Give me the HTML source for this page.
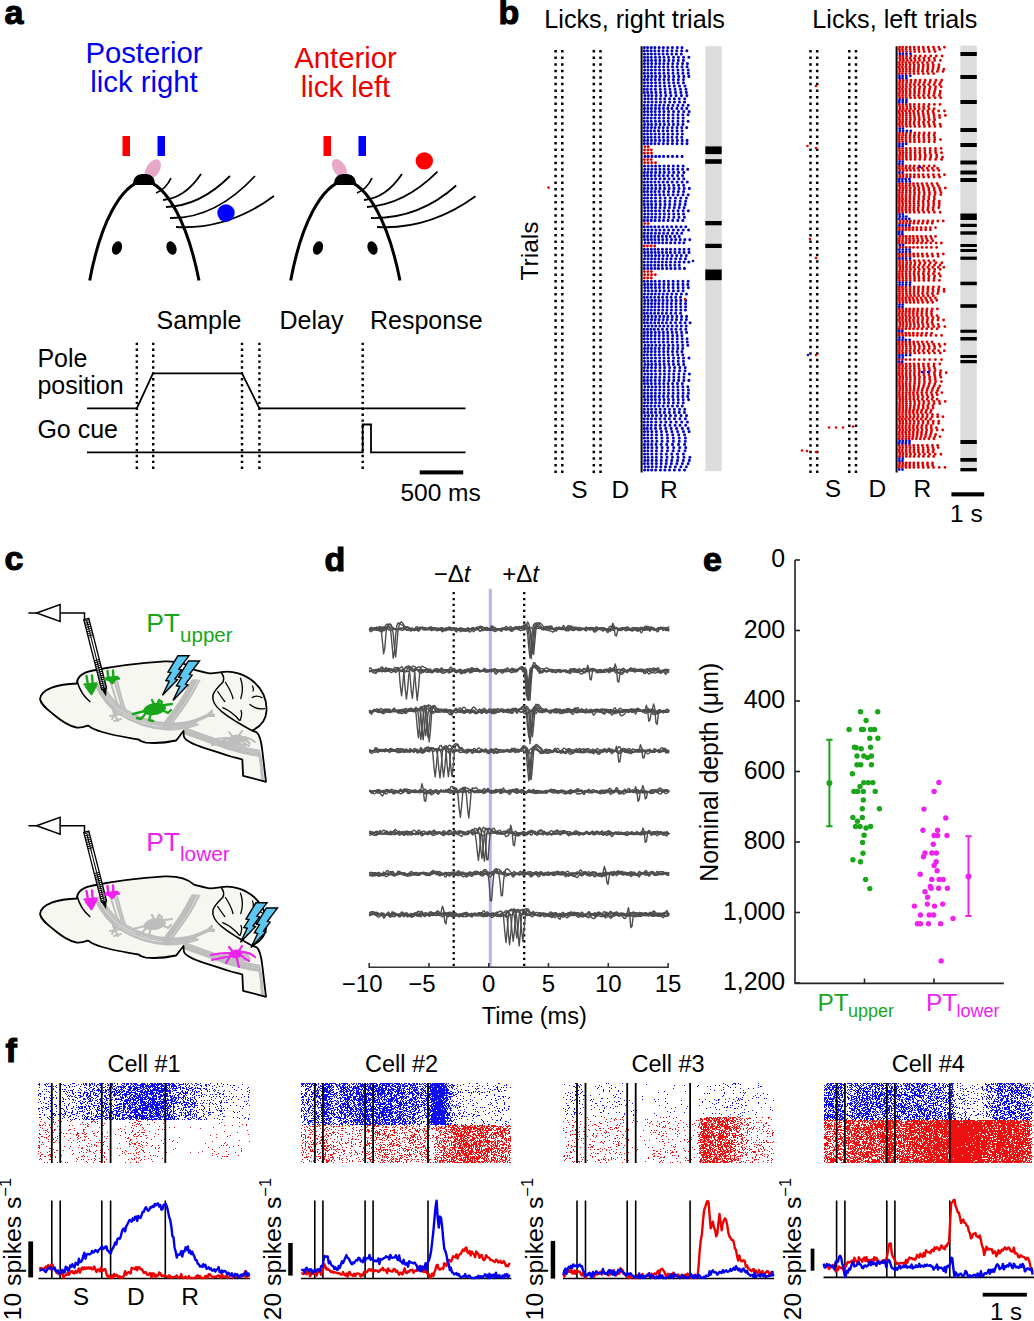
<!DOCTYPE html>
<html><head><meta charset="utf-8"><style>
html,body{margin:0;padding:0;background:#fff;}
svg{display:block;font-family:"Liberation Sans",sans-serif;}
</style></head><body>
<svg width="1034" height="1321" viewBox="0 0 1034 1321">
<rect width="1034" height="1321" fill="#fff"/>
<text x="4.5" y="23.8" font-size="34" text-anchor="start" fill="#000" font-weight="bold" stroke="#000" stroke-width="1.1">a</text>
<text x="498.5" y="23.7" font-size="34" text-anchor="start" fill="#000" font-weight="bold" stroke="#000" stroke-width="1.1">b</text>
<text x="4.5" y="570.3" font-size="34" text-anchor="start" fill="#000" font-weight="bold" stroke="#000" stroke-width="1.1">c</text>
<text x="324.5" y="570.8" font-size="34" text-anchor="start" fill="#000" font-weight="bold" stroke="#000" stroke-width="1.1">d</text>
<text x="703" y="571" font-size="34" text-anchor="start" fill="#000" font-weight="bold" stroke="#000" stroke-width="1.1">e</text>
<text x="5.5" y="1062.2" font-size="34" text-anchor="start" fill="#000" font-weight="bold" stroke="#000" stroke-width="1.1">f</text>
<text x="144" y="62.7" font-size="29.3" text-anchor="middle" fill="#0000ee" font-weight="normal" >Posterior</text>
<text x="144" y="91.6" font-size="29.3" text-anchor="middle" fill="#0000ee" font-weight="normal" >lick right</text>
<text x="345.5" y="67.8" font-size="29.3" text-anchor="middle" fill="#ee0000" font-weight="normal" >Anterior</text>
<text x="345.5" y="97" font-size="29.3" text-anchor="middle" fill="#ee0000" font-weight="normal" >lick left</text>
<g transform="translate(0,0)"><path d="M89.7,280.5 C100,225 120,185 144,180 C168,185 188,225 199,280.5" fill="none" stroke="#000" stroke-width="3"/><path d="M156,193 Q166,189 171,178" fill="none" stroke="#000" stroke-width="1.8"/><path d="M163,200 Q185,198 201,174" fill="none" stroke="#000" stroke-width="1.8"/><path d="M166,207 Q200,206 230,176" fill="none" stroke="#000" stroke-width="1.8"/><path d="M170,218 Q215,219 255,176" fill="none" stroke="#000" stroke-width="1.8"/><path d="M176,227 Q228,230 274,196" fill="none" stroke="#000" stroke-width="1.8"/><ellipse cx="152.8" cy="169.5" rx="6.6" ry="11.3" transform="rotate(32 152.8 169.5)" fill="#eaa8c8"/><path d="M133,185 C133,176 138,174 144,174 C150,174 155,176 155,185 Z" fill="#000"/><rect x="122.5" y="136" width="7.5" height="20" fill="#ff0000"/><rect x="157.5" y="136" width="7.5" height="20" fill="#0000ff"/><ellipse cx="117" cy="248" rx="4.8" ry="7" transform="rotate(20 117 248)" fill="#000"/><ellipse cx="171.5" cy="248" rx="4.8" ry="7" transform="rotate(-20 171.5 248)" fill="#000"/></g>
<g transform="translate(201,0)"><path d="M89.7,280.5 C100,225 120,185 144,180 C168,185 188,225 199,280.5" fill="none" stroke="#000" stroke-width="3"/><path d="M156,193 Q166,189 171,178" fill="none" stroke="#000" stroke-width="1.8"/><path d="M163,200 Q185,198 201,174" fill="none" stroke="#000" stroke-width="1.8"/><path d="M166,207 Q203,205 236.5,171.7" fill="none" stroke="#000" stroke-width="1.8"/><path d="M170,218 Q218,219 255.2,185.5" fill="none" stroke="#000" stroke-width="1.8"/><path d="M176,227 Q228,230 274.5,196.3" fill="none" stroke="#000" stroke-width="1.8"/><ellipse cx="138.5" cy="168.5" rx="6.2" ry="10.5" transform="rotate(-32 138.5 168.5)" fill="#eaa8c8"/><path d="M133,185 C133,176 138,174 144,174 C150,174 155,176 155,185 Z" fill="#000"/><rect x="122.5" y="136" width="7.5" height="20" fill="#ff0000"/><rect x="157.5" y="136" width="7.5" height="20" fill="#0000ff"/><ellipse cx="117" cy="248" rx="4.8" ry="7" transform="rotate(20 117 248)" fill="#000"/><ellipse cx="171.5" cy="248" rx="4.8" ry="7" transform="rotate(-20 171.5 248)" fill="#000"/></g>
<circle cx="226" cy="213" r="8.7" fill="#0000ff"/>
<circle cx="424.3" cy="160.9" r="8.7" fill="#ff0000"/>
<text x="156.6" y="329" font-size="25" text-anchor="start" fill="#000" font-weight="normal" >Sample</text>
<text x="279.5" y="329" font-size="25" text-anchor="start" fill="#000" font-weight="normal" >Delay</text>
<text x="370" y="329" font-size="25" text-anchor="start" fill="#000" font-weight="normal" >Response</text>
<text x="37.4" y="366.5" font-size="25" text-anchor="start" fill="#000" font-weight="normal" >Pole</text>
<text x="37.4" y="394.3" font-size="25" text-anchor="start" fill="#000" font-weight="normal" >position</text>
<text x="37.4" y="437.8" font-size="25" text-anchor="start" fill="#000" font-weight="normal" >Go cue</text>
<line x1="136.85" y1="342.7" x2="136.85" y2="469" stroke="#000" stroke-width="2.4" stroke-dasharray="2.4 3.5"/>
<line x1="153.2" y1="342.7" x2="153.2" y2="469" stroke="#000" stroke-width="2.4" stroke-dasharray="2.4 3.5"/>
<line x1="242" y1="342.7" x2="242" y2="469" stroke="#000" stroke-width="2.4" stroke-dasharray="2.4 3.5"/>
<line x1="259.4" y1="342.7" x2="259.4" y2="469" stroke="#000" stroke-width="2.4" stroke-dasharray="2.4 3.5"/>
<line x1="362.7" y1="342.7" x2="362.7" y2="469" stroke="#000" stroke-width="2.4" stroke-dasharray="2.4 3.5"/>
<path d="M87,408.3 H136.8 L153,373.4 H242 L259.4,408.3 H465.5" fill="none" stroke="#000" stroke-width="1.8"/>
<path d="M87,452.3 H362.7 V424.5 H371 V452.3 H465.5" fill="none" stroke="#000" stroke-width="1.8"/>
<rect x="419.7" y="470.4" width="43.5" height="4" fill="#000"/>
<text x="400.4" y="501.4" font-size="24.5" text-anchor="start" fill="#000" font-weight="normal" >500 ms</text>
<text x="544.3" y="28" font-size="25.2" text-anchor="start" fill="#000" font-weight="normal" >Licks, right trials</text>
<text x="812.3" y="28" font-size="25.2" text-anchor="start" fill="#000" font-weight="normal" >Licks, left trials</text>
<line x1="555.6" y1="50.0" x2="555.6" y2="473" stroke="#000" stroke-width="2.5" stroke-dasharray="2.5 4.07"/>
<line x1="562.3" y1="50.0" x2="562.3" y2="473" stroke="#000" stroke-width="2.5" stroke-dasharray="2.5 4.07"/>
<line x1="593.8" y1="50.0" x2="593.8" y2="473" stroke="#000" stroke-width="2.5" stroke-dasharray="2.5 4.07"/>
<line x1="600.5" y1="50.0" x2="600.5" y2="473" stroke="#000" stroke-width="2.5" stroke-dasharray="2.5 4.07"/>
<line x1="810.5" y1="50.0" x2="810.5" y2="473" stroke="#000" stroke-width="2.5" stroke-dasharray="2.5 4.07"/>
<line x1="817.2" y1="50.0" x2="817.2" y2="473" stroke="#000" stroke-width="2.5" stroke-dasharray="2.5 4.07"/>
<line x1="849.3" y1="50.0" x2="849.3" y2="473" stroke="#000" stroke-width="2.5" stroke-dasharray="2.5 4.07"/>
<line x1="856.0" y1="50.0" x2="856.0" y2="473" stroke="#000" stroke-width="2.5" stroke-dasharray="2.5 4.07"/>
<g stroke="#1010e0" stroke-width="3.1" stroke-linecap="round"><line x1="644.4" y1="47.6" x2="682.08" y2="47.6" stroke-dasharray="0 3.22 0 3.70 0 3.57 0 4.30 0 4.17 0 4.47 0 4.57 0 4.94 0 4.69 0 40"/><line x1="644.3" y1="50.8" x2="686.96" y2="50.8" stroke-dasharray="0 3.22 0 3.55 0 3.70 0 4.03 0 4.27 0 4.23 0 4.67 0 4.81 0 4.94 0 5.15 0 40"/><line x1="644.5" y1="54.0" x2="681.37" y2="54.0" stroke-dasharray="0 3.41 0 3.48 0 3.73 0 3.92 0 4.07 0 4.26 0 4.51 0 4.54 0 4.88 0 40"/><line x1="644.5" y1="57.2" x2="688.88" y2="57.2" stroke-dasharray="0 3.24 0 3.55 0 4.13 0 4.23 0 4.31 0 4.58 0 4.98 0 4.91 0 5.14 0 5.28 0 40"/><line x1="644.6" y1="60.4" x2="683.44" y2="60.4" stroke-dasharray="0 3.32 0 3.69 0 3.98 0 4.26 0 4.35 0 4.59 0 4.57 0 4.98 0 5.06 0 40"/><line x1="644.4" y1="63.6" x2="687.46" y2="63.6" stroke-dasharray="0 3.49 0 3.78 0 4.10 0 3.92 0 4.08 0 4.36 0 4.61 0 4.87 0 4.97 0 4.86 0 40"/><line x1="644.5" y1="66.8" x2="687.14" y2="66.8" stroke-dasharray="0 3.44 0 3.55 0 3.78 0 4.05 0 4.24 0 4.39 0 4.55 0 4.62 0 4.92 0 5.06 0 40"/><line x1="644.6" y1="70.0" x2="688.32" y2="70.0" stroke-dasharray="0 3.30 0 3.55 0 3.95 0 4.18 0 4.30 0 4.52 0 4.61 0 4.94 0 4.97 0 5.34 0 40"/><line x1="644.4" y1="73.2" x2="688.26" y2="73.2" stroke-dasharray="0 3.37 0 3.72 0 3.81 0 4.17 0 4.38 0 4.38 0 4.75 0 4.99 0 4.95 0 5.27 0 40"/><line x1="644.8" y1="76.4" x2="688.86" y2="76.4" stroke-dasharray="0 3.40 0 3.62 0 3.81 0 4.33 0 4.58 0 4.29 0 4.84 0 5.05 0 5.07 0 5.05 0 40"/><line x1="644.3" y1="79.6" x2="683.44" y2="79.6" stroke-dasharray="0 3.20 0 3.72 0 4.06 0 4.20 0 4.51 0 4.48 0 4.88 0 4.96 0 5.10 0 40"/><line x1="644.5" y1="82.8" x2="683.50" y2="82.8" stroke-dasharray="0 3.41 0 3.66 0 3.95 0 4.31 0 4.43 0 4.65 0 4.71 0 4.62 0 5.21 0 40"/><line x1="644.4" y1="86.0" x2="684.95" y2="86.0" stroke-dasharray="0 3.33 0 3.72 0 4.13 0 4.38 0 4.62 0 4.73 0 5.05 0 5.16 0 5.42 0 40"/><line x1="644.3" y1="89.2" x2="685.99" y2="89.2" stroke-dasharray="0 3.12 0 3.69 0 4.29 0 4.91 0 4.74 0 4.95 0 5.09 0 5.44 0 5.42 0 40"/><line x1="644.3" y1="92.4" x2="686.43" y2="92.4" stroke-dasharray="0 3.39 0 3.84 0 4.37 0 4.63 0 4.74 0 5.06 0 5.19 0 5.36 0 5.49 0 40"/><line x1="644.9" y1="95.6" x2="686.89" y2="95.6" stroke-dasharray="0 3.43 0 3.59 0 4.29 0 4.69 0 4.91 0 5.11 0 5.11 0 5.42 0 5.43 0 40"/><line x1="644.8" y1="98.8" x2="684.75" y2="98.8" stroke-dasharray="0 3.24 0 3.57 0 4.29 0 4.36 0 4.41 0 4.88 0 4.84 0 4.93 0 5.36 0 40"/><line x1="644.7" y1="102.0" x2="684.55" y2="102.0" stroke-dasharray="0 3.54 0 3.73 0 4.17 0 4.32 0 4.33 0 4.94 0 4.75 0 4.96 0 5.07 0 40"/><line x1="644.3" y1="105.2" x2="688.27" y2="105.2" stroke-dasharray="0 3.43 0 3.86 0 3.93 0 4.10 0 4.27 0 4.50 0 4.55 0 5.02 0 5.03 0 5.23 0 40"/><line x1="644.5" y1="108.4" x2="686.83" y2="108.4" stroke-dasharray="0 3.42 0 3.52 0 4.02 0 3.87 0 4.15 0 4.33 0 4.20 0 4.93 0 4.92 0 4.92 0 40"/><line x1="644.4" y1="111.6" x2="689.18" y2="111.6" stroke-dasharray="0 3.28 0 3.68 0 3.80 0 4.39 0 4.42 0 4.65 0 4.95 0 5.01 0 5.18 0 5.35 0 40"/><line x1="644.5" y1="114.8" x2="688.08" y2="114.8" stroke-dasharray="0 3.44 0 3.73 0 3.79 0 4.06 0 4.16 0 4.65 0 4.64 0 5.01 0 4.92 0 5.13 0 40"/><line x1="644.2" y1="118.0" x2="683.26" y2="118.0" stroke-dasharray="0 3.35 0 3.68 0 3.83 0 4.28 0 4.42 0 4.61 0 4.84 0 4.87 0 5.11 0 40"/><line x1="644.3" y1="121.2" x2="688.18" y2="121.2" stroke-dasharray="0 3.24 0 3.70 0 4.17 0 4.03 0 4.27 0 4.44 0 4.68 0 5.08 0 5.05 0 5.14 0 40"/><line x1="644.6" y1="124.4" x2="682.97" y2="124.4" stroke-dasharray="0 3.52 0 3.52 0 4.21 0 4.19 0 4.34 0 4.43 0 4.52 0 4.67 0 4.93 0 40"/><line x1="644.3" y1="127.6" x2="686.76" y2="127.6" stroke-dasharray="0 3.42 0 3.67 0 3.68 0 4.11 0 4.11 0 4.44 0 4.53 0 4.78 0 4.70 0 4.97 0 40"/><line x1="644.4" y1="130.8" x2="682.14" y2="130.8" stroke-dasharray="0 3.12 0 3.32 0 3.64 0 4.11 0 4.49 0 4.45 0 4.71 0 4.83 0 5.01 0 40"/><line x1="644.3" y1="134.0" x2="682.39" y2="134.0" stroke-dasharray="0 3.21 0 3.73 0 3.97 0 4.09 0 4.38 0 4.37 0 4.56 0 4.82 0 4.94 0 40"/><line x1="644.4" y1="137.2" x2="681.81" y2="137.2" stroke-dasharray="0 3.46 0 3.35 0 3.85 0 4.01 0 4.29 0 4.44 0 4.21 0 4.79 0 4.93 0 40"/><line x1="644.4" y1="140.4" x2="687.10" y2="140.4" stroke-dasharray="0 3.30 0 3.80 0 3.87 0 4.28 0 4.10 0 4.16 0 4.62 0 4.81 0 4.88 0 4.86 0 40"/><line x1="644.3" y1="143.6" x2="686.99" y2="143.6" stroke-dasharray="0 3.33 0 3.49 0 3.79 0 3.93 0 4.48 0 4.38 0 4.67 0 4.66 0 5.05 0 4.90 0 40"/><line x1="645.0" y1="156.4" x2="682.20" y2="156.4" stroke-dasharray="0 3.26 0 3.69 0 3.80 0 3.71 0 4.11 0 4.50 0 4.43 0 4.55 0 5.06 0 40"/><line x1="644.6" y1="166.0" x2="683.19" y2="166.0" stroke-dasharray="0 3.56 0 3.68 0 3.70 0 4.03 0 4.51 0 4.47 0 4.73 0 4.75 0 5.14 0 40"/><line x1="644.7" y1="169.2" x2="687.76" y2="169.2" stroke-dasharray="0 3.48 0 3.68 0 3.76 0 4.23 0 4.16 0 4.34 0 4.69 0 4.70 0 4.88 0 5.08 0 40"/><line x1="644.4" y1="172.4" x2="683.88" y2="172.4" stroke-dasharray="0 3.34 0 3.70 0 4.15 0 4.33 0 4.34 0 4.66 0 4.72 0 4.88 0 5.30 0 40"/><line x1="644.4" y1="175.6" x2="682.63" y2="175.6" stroke-dasharray="0 3.18 0 3.67 0 3.80 0 4.20 0 4.18 0 4.39 0 4.73 0 5.00 0 5.06 0 40"/><line x1="644.6" y1="178.8" x2="683.84" y2="178.8" stroke-dasharray="0 3.34 0 3.76 0 3.97 0 4.42 0 4.34 0 4.60 0 4.94 0 4.77 0 5.08 0 40"/><line x1="644.2" y1="182.0" x2="687.37" y2="182.0" stroke-dasharray="0 3.32 0 3.56 0 3.86 0 4.02 0 4.27 0 4.35 0 4.66 0 4.97 0 4.96 0 5.13 0 40"/><line x1="644.5" y1="185.2" x2="683.69" y2="185.2" stroke-dasharray="0 3.42 0 3.64 0 4.03 0 4.34 0 4.27 0 4.52 0 4.89 0 4.96 0 5.10 0 40"/><line x1="644.4" y1="188.4" x2="689.39" y2="188.4" stroke-dasharray="0 3.52 0 3.87 0 3.91 0 4.30 0 4.54 0 4.63 0 4.79 0 5.09 0 5.14 0 5.13 0 40"/><line x1="644.3" y1="191.6" x2="683.65" y2="191.6" stroke-dasharray="0 3.16 0 3.80 0 3.75 0 4.14 0 4.48 0 4.83 0 5.01 0 4.89 0 5.18 0 40"/><line x1="644.6" y1="194.8" x2="688.20" y2="194.8" stroke-dasharray="0 3.33 0 3.72 0 3.82 0 4.28 0 4.17 0 4.49 0 4.71 0 4.76 0 5.12 0 5.19 0 40"/><line x1="644.4" y1="198.0" x2="686.45" y2="198.0" stroke-dasharray="0 3.18 0 3.79 0 4.15 0 4.72 0 4.85 0 5.20 0 5.17 0 5.38 0 5.53 0 40"/><line x1="644.3" y1="201.2" x2="685.65" y2="201.2" stroke-dasharray="0 3.44 0 3.68 0 4.03 0 4.55 0 4.87 0 4.90 0 5.28 0 5.15 0 5.43 0 40"/><line x1="644.3" y1="204.4" x2="685.24" y2="204.4" stroke-dasharray="0 3.56 0 3.71 0 4.24 0 4.51 0 4.72 0 4.71 0 5.11 0 4.98 0 5.34 0 40"/><line x1="644.7" y1="207.6" x2="684.23" y2="207.6" stroke-dasharray="0 3.39 0 3.66 0 3.83 0 4.49 0 4.53 0 4.78 0 4.92 0 4.92 0 4.93 0 40"/><line x1="644.6" y1="210.8" x2="688.41" y2="210.8" stroke-dasharray="0 3.45 0 3.55 0 3.94 0 3.94 0 4.47 0 4.49 0 4.77 0 4.86 0 5.10 0 5.17 0 40"/><line x1="644.7" y1="214.0" x2="683.64" y2="214.0" stroke-dasharray="0 3.44 0 3.64 0 3.92 0 4.22 0 4.47 0 4.51 0 4.81 0 4.81 0 5.04 0 40"/><line x1="644.6" y1="217.2" x2="684.42" y2="217.2" stroke-dasharray="0 3.23 0 3.78 0 3.80 0 4.23 0 4.47 0 4.68 0 5.05 0 5.15 0 5.40 0 40"/><line x1="644.3" y1="220.4" x2="682.95" y2="220.4" stroke-dasharray="0 3.35 0 3.64 0 3.82 0 4.28 0 4.12 0 4.57 0 4.68 0 5.05 0 5.08 0 40"/><line x1="644.2" y1="226.8" x2="685.86" y2="226.8" stroke-dasharray="0 3.45 0 3.43 0 3.77 0 3.96 0 4.09 0 4.28 0 4.49 0 4.65 0 4.65 0 4.80 0 40"/><line x1="644.7" y1="230.0" x2="688.59" y2="230.0" stroke-dasharray="0 3.43 0 3.72 0 3.93 0 4.08 0 4.34 0 4.47 0 4.71 0 4.84 0 5.02 0 5.33 0 40"/><line x1="644.4" y1="233.2" x2="686.64" y2="233.2" stroke-dasharray="0 3.50 0 3.56 0 3.96 0 3.94 0 4.17 0 4.18 0 4.67 0 4.64 0 4.67 0 4.95 0 40"/><line x1="644.2" y1="236.4" x2="679.27" y2="236.4" stroke-dasharray="0 3.38 0 3.64 0 3.53 0 3.76 0 3.87 0 3.98 0 3.93 0 4.46 0 4.46 0 40"/><line x1="644.6" y1="239.6" x2="689.84" y2="239.6" stroke-dasharray="0 3.36 0 3.46 0 3.56 0 3.81 0 3.97 0 4.11 0 4.59 0 4.29 0 4.49 0 4.58 0 4.93 0 40"/><line x1="645.1" y1="242.8" x2="684.04" y2="242.8" stroke-dasharray="0 3.36 0 3.55 0 3.33 0 3.53 0 3.75 0 3.85 0 4.17 0 4.28 0 4.49 0 4.53 0 40"/><line x1="644.4" y1="249.2" x2="688.99" y2="249.2" stroke-dasharray="0 3.32 0 3.65 0 3.45 0 3.57 0 4.08 0 4.11 0 3.99 0 4.44 0 4.58 0 4.46 0 4.85 0 40"/><line x1="644.5" y1="252.4" x2="689.05" y2="252.4" stroke-dasharray="0 3.36 0 3.59 0 3.57 0 3.61 0 3.77 0 4.11 0 3.98 0 4.47 0 4.43 0 4.69 0 4.96 0 40"/><line x1="644.9" y1="255.6" x2="686.33" y2="255.6" stroke-dasharray="0 3.36 0 3.46 0 3.81 0 3.64 0 4.10 0 4.28 0 4.41 0 4.70 0 4.59 0 5.04 0 40"/><line x1="644.5" y1="258.8" x2="685.40" y2="258.8" stroke-dasharray="0 3.45 0 3.59 0 3.47 0 3.77 0 3.95 0 4.10 0 4.21 0 4.69 0 4.67 0 5.00 0 40"/><line x1="644.2" y1="262.0" x2="688.88" y2="262.0" stroke-dasharray="0 3.64 0 3.48 0 3.69 0 3.62 0 3.78 0 3.98 0 4.20 0 4.43 0 4.48 0 4.58 0 4.71 0 40"/><line x1="644.4" y1="265.2" x2="679.32" y2="265.2" stroke-dasharray="0 3.35 0 3.38 0 3.57 0 3.72 0 3.82 0 4.00 0 4.14 0 4.44 0 4.45 0 40"/><line x1="644.3" y1="268.4" x2="684.57" y2="268.4" stroke-dasharray="0 3.53 0 3.54 0 3.65 0 3.51 0 3.93 0 4.31 0 4.10 0 4.25 0 4.52 0 4.83 0 40"/><line x1="644.3" y1="281.2" x2="688.17" y2="281.2" stroke-dasharray="0 3.36 0 3.74 0 3.68 0 4.35 0 4.49 0 4.49 0 4.73 0 4.90 0 4.91 0 5.19 0 40"/><line x1="644.6" y1="284.4" x2="687.84" y2="284.4" stroke-dasharray="0 3.36 0 3.53 0 3.85 0 4.11 0 4.54 0 4.54 0 4.56 0 4.90 0 5.00 0 4.82 0 40"/><line x1="644.7" y1="287.6" x2="688.41" y2="287.6" stroke-dasharray="0 3.23 0 3.46 0 3.99 0 4.04 0 4.33 0 4.58 0 4.80 0 4.98 0 5.06 0 5.14 0 40"/><line x1="644.8" y1="290.8" x2="683.20" y2="290.8" stroke-dasharray="0 3.49 0 3.73 0 3.73 0 4.15 0 4.37 0 4.53 0 4.59 0 4.82 0 4.91 0 40"/><line x1="644.5" y1="294.0" x2="686.53" y2="294.0" stroke-dasharray="0 3.52 0 3.61 0 3.63 0 3.91 0 4.06 0 4.16 0 4.49 0 4.55 0 4.97 0 5.05 0 40"/><line x1="644.2" y1="297.2" x2="680.61" y2="297.2" stroke-dasharray="0 3.16 0 3.61 0 3.76 0 3.91 0 3.91 0 4.26 0 4.28 0 4.59 0 4.86 0 40"/><line x1="644.7" y1="300.4" x2="685.79" y2="300.4" stroke-dasharray="0 3.43 0 3.65 0 3.53 0 3.80 0 4.02 0 4.21 0 4.44 0 4.39 0 4.62 0 4.96 0 40"/><line x1="644.6" y1="303.6" x2="685.56" y2="303.6" stroke-dasharray="0 3.41 0 3.49 0 3.55 0 3.73 0 4.07 0 4.20 0 4.32 0 4.60 0 4.63 0 4.92 0 40"/><line x1="644.5" y1="306.8" x2="685.70" y2="306.8" stroke-dasharray="0 3.52 0 3.57 0 3.38 0 3.83 0 4.10 0 4.19 0 4.46 0 4.44 0 4.75 0 4.90 0 40"/><line x1="644.3" y1="310.0" x2="685.44" y2="310.0" stroke-dasharray="0 3.46 0 3.45 0 3.64 0 3.87 0 4.01 0 4.24 0 4.45 0 4.69 0 4.69 0 4.60 0 40"/><line x1="644.3" y1="313.2" x2="680.56" y2="313.2" stroke-dasharray="0 3.06 0 3.60 0 3.68 0 3.72 0 3.97 0 4.14 0 4.49 0 4.65 0 4.94 0 40"/><line x1="644.7" y1="316.4" x2="686.60" y2="316.4" stroke-dasharray="0 3.49 0 3.75 0 3.75 0 4.06 0 3.98 0 4.10 0 4.36 0 4.63 0 4.78 0 4.98 0 40"/><line x1="644.4" y1="319.6" x2="686.43" y2="319.6" stroke-dasharray="0 3.35 0 3.78 0 3.65 0 3.85 0 4.13 0 4.21 0 4.57 0 4.52 0 4.92 0 4.96 0 40"/><line x1="644.3" y1="322.8" x2="690.07" y2="322.8" stroke-dasharray="0 3.09 0 3.59 0 3.74 0 3.86 0 3.83 0 4.00 0 4.43 0 4.67 0 4.89 0 4.76 0 4.91 0 40"/><line x1="644.9" y1="326.0" x2="686.23" y2="326.0" stroke-dasharray="0 3.45 0 3.70 0 3.69 0 4.01 0 4.03 0 4.17 0 4.30 0 4.51 0 4.63 0 4.81 0 40"/><line x1="644.2" y1="329.2" x2="685.82" y2="329.2" stroke-dasharray="0 3.32 0 3.41 0 3.44 0 3.91 0 4.21 0 4.47 0 4.55 0 4.42 0 4.84 0 5.00 0 40"/><line x1="644.4" y1="332.4" x2="686.68" y2="332.4" stroke-dasharray="0 3.38 0 3.56 0 3.96 0 3.92 0 4.12 0 4.31 0 4.51 0 4.44 0 4.99 0 5.02 0 40"/><line x1="644.3" y1="335.6" x2="681.94" y2="335.6" stroke-dasharray="0 3.31 0 3.59 0 3.83 0 4.18 0 4.25 0 4.37 0 4.79 0 4.57 0 4.73 0 40"/><line x1="644.3" y1="338.8" x2="687.09" y2="338.8" stroke-dasharray="0 3.31 0 3.51 0 3.97 0 4.00 0 4.37 0 4.47 0 4.56 0 4.76 0 4.98 0 4.82 0 40"/><line x1="644.3" y1="342.0" x2="687.37" y2="342.0" stroke-dasharray="0 3.27 0 3.74 0 3.55 0 4.21 0 4.31 0 4.42 0 4.60 0 4.76 0 5.01 0 5.11 0 40"/><line x1="645.0" y1="345.2" x2="687.83" y2="345.2" stroke-dasharray="0 3.38 0 3.54 0 3.85 0 4.09 0 4.20 0 4.51 0 4.46 0 4.73 0 4.98 0 5.05 0 40"/><line x1="644.5" y1="348.4" x2="682.80" y2="348.4" stroke-dasharray="0 3.25 0 3.60 0 3.82 0 4.07 0 4.38 0 4.68 0 4.60 0 4.87 0 4.94 0 40"/><line x1="644.6" y1="351.6" x2="682.00" y2="351.6" stroke-dasharray="0 3.25 0 3.52 0 3.79 0 4.12 0 4.40 0 4.30 0 4.51 0 4.69 0 4.76 0 40"/><line x1="644.2" y1="354.8" x2="682.88" y2="354.8" stroke-dasharray="0 3.18 0 3.82 0 3.89 0 4.24 0 4.34 0 4.52 0 4.64 0 5.00 0 4.98 0 40"/><line x1="644.4" y1="358.0" x2="689.07" y2="358.0" stroke-dasharray="0 3.39 0 3.72 0 3.95 0 4.30 0 4.31 0 4.51 0 5.00 0 4.94 0 5.02 0 5.45 0 40"/><line x1="644.4" y1="361.2" x2="683.56" y2="361.2" stroke-dasharray="0 3.44 0 3.51 0 3.86 0 4.29 0 4.40 0 4.54 0 4.69 0 5.03 0 5.33 0 40"/><line x1="644.9" y1="364.4" x2="683.72" y2="364.4" stroke-dasharray="0 3.27 0 3.60 0 3.89 0 4.16 0 4.36 0 4.64 0 4.70 0 5.05 0 5.13 0 40"/><line x1="644.3" y1="367.6" x2="685.24" y2="367.6" stroke-dasharray="0 3.47 0 3.76 0 4.01 0 4.47 0 4.57 0 5.05 0 5.00 0 5.18 0 5.37 0 40"/><line x1="644.2" y1="370.8" x2="685.13" y2="370.8" stroke-dasharray="0 3.28 0 3.80 0 3.94 0 4.53 0 4.59 0 4.94 0 4.93 0 5.41 0 5.45 0 40"/><line x1="644.8" y1="374.0" x2="689.48" y2="374.0" stroke-dasharray="0 3.26 0 3.54 0 4.04 0 4.47 0 4.39 0 4.51 0 4.66 0 5.15 0 5.34 0 5.26 0 40"/><line x1="644.2" y1="377.2" x2="683.95" y2="377.2" stroke-dasharray="0 3.47 0 3.73 0 4.04 0 4.30 0 4.60 0 4.64 0 4.85 0 5.04 0 5.04 0 40"/><line x1="644.3" y1="380.4" x2="688.94" y2="380.4" stroke-dasharray="0 3.22 0 3.51 0 4.15 0 4.40 0 4.53 0 4.82 0 4.82 0 4.93 0 5.16 0 5.05 0 40"/><line x1="644.5" y1="383.6" x2="687.50" y2="383.6" stroke-dasharray="0 3.20 0 3.67 0 3.95 0 4.16 0 4.24 0 4.32 0 4.60 0 4.81 0 4.88 0 5.17 0 40"/><line x1="644.9" y1="386.8" x2="687.89" y2="386.8" stroke-dasharray="0 3.56 0 3.55 0 3.68 0 4.18 0 4.22 0 4.33 0 4.76 0 4.62 0 5.04 0 4.98 0 40"/><line x1="644.3" y1="390.0" x2="688.50" y2="390.0" stroke-dasharray="0 3.42 0 3.72 0 3.99 0 4.23 0 4.27 0 4.58 0 4.51 0 4.96 0 5.12 0 5.35 0 40"/><line x1="644.5" y1="393.2" x2="688.37" y2="393.2" stroke-dasharray="0 3.30 0 3.66 0 3.90 0 4.29 0 4.26 0 4.55 0 4.71 0 4.94 0 5.01 0 5.20 0 40"/><line x1="644.2" y1="396.4" x2="687.75" y2="396.4" stroke-dasharray="0 3.69 0 3.52 0 3.74 0 4.05 0 4.24 0 4.49 0 4.83 0 5.03 0 5.03 0 4.87 0 40"/><line x1="644.7" y1="399.6" x2="688.59" y2="399.6" stroke-dasharray="0 3.21 0 3.68 0 3.83 0 4.28 0 4.41 0 4.49 0 4.70 0 4.97 0 4.99 0 5.31 0 40"/><line x1="644.5" y1="402.8" x2="683.28" y2="402.8" stroke-dasharray="0 3.41 0 3.64 0 4.00 0 4.01 0 4.57 0 4.38 0 4.82 0 4.81 0 5.11 0 40"/><line x1="644.3" y1="406.0" x2="682.34" y2="406.0" stroke-dasharray="0 3.09 0 3.67 0 3.82 0 4.08 0 4.24 0 4.74 0 4.60 0 4.88 0 4.87 0 40"/><line x1="644.4" y1="409.2" x2="684.77" y2="409.2" stroke-dasharray="0 3.68 0 3.55 0 4.17 0 4.44 0 4.60 0 4.66 0 4.88 0 5.18 0 5.16 0 40"/><line x1="644.2" y1="412.4" x2="684.53" y2="412.4" stroke-dasharray="0 3.52 0 3.76 0 4.07 0 4.35 0 4.50 0 4.89 0 5.07 0 4.87 0 5.22 0 40"/><line x1="645.0" y1="415.6" x2="686.61" y2="415.6" stroke-dasharray="0 3.46 0 3.91 0 4.08 0 4.63 0 4.56 0 4.81 0 5.09 0 5.48 0 5.48 0 40"/><line x1="644.3" y1="418.8" x2="685.39" y2="418.8" stroke-dasharray="0 3.42 0 3.70 0 4.17 0 4.42 0 4.72 0 4.69 0 5.10 0 5.37 0 5.49 0 40"/><line x1="644.3" y1="422.0" x2="687.46" y2="422.0" stroke-dasharray="0 3.41 0 3.72 0 4.56 0 4.90 0 4.92 0 5.01 0 5.36 0 5.56 0 5.65 0 40"/><line x1="644.2" y1="425.2" x2="685.70" y2="425.2" stroke-dasharray="0 3.52 0 3.62 0 4.26 0 4.55 0 4.70 0 5.10 0 5.10 0 4.99 0 5.62 0 40"/><line x1="644.3" y1="428.4" x2="688.27" y2="428.4" stroke-dasharray="0 3.04 0 3.75 0 4.46 0 4.97 0 5.25 0 5.37 0 5.42 0 5.78 0 5.85 0 40"/><line x1="644.5" y1="431.6" x2="689.12" y2="431.6" stroke-dasharray="0 3.30 0 4.02 0 4.48 0 5.05 0 5.09 0 5.46 0 5.73 0 5.88 0 5.57 0 40"/><line x1="644.3" y1="434.8" x2="684.63" y2="434.8" stroke-dasharray="0 3.49 0 4.02 0 4.56 0 5.25 0 5.68 0 5.45 0 5.94 0 5.92 0 40"/><line x1="644.4" y1="438.0" x2="685.49" y2="438.0" stroke-dasharray="0 3.31 0 3.87 0 4.72 0 5.58 0 5.59 0 5.85 0 5.97 0 6.13 0 40"/><line x1="644.9" y1="441.2" x2="685.35" y2="441.2" stroke-dasharray="0 3.13 0 4.05 0 4.72 0 5.25 0 5.61 0 5.74 0 5.89 0 5.98 0 40"/><line x1="644.4" y1="444.4" x2="684.67" y2="444.4" stroke-dasharray="0 3.49 0 3.75 0 4.40 0 5.17 0 5.58 0 5.75 0 5.96 0 6.08 0 40"/><line x1="644.6" y1="447.6" x2="685.77" y2="447.6" stroke-dasharray="0 3.39 0 3.96 0 4.73 0 5.38 0 5.68 0 5.91 0 6.02 0 6.04 0 40"/><line x1="644.5" y1="450.8" x2="685.06" y2="450.8" stroke-dasharray="0 3.31 0 3.97 0 4.62 0 5.41 0 5.65 0 5.67 0 5.76 0 6.13 0 40"/><line x1="644.6" y1="454.0" x2="689.19" y2="454.0" stroke-dasharray="0 3.18 0 4.02 0 4.57 0 4.90 0 5.04 0 5.48 0 5.72 0 5.88 0 5.81 0 40"/><line x1="644.7" y1="457.2" x2="689.95" y2="457.2" stroke-dasharray="0 3.38 0 4.05 0 4.24 0 5.15 0 5.54 0 5.39 0 5.60 0 5.92 0 5.89 0 40"/><line x1="644.8" y1="460.4" x2="689.34" y2="460.4" stroke-dasharray="0 3.17 0 4.05 0 4.33 0 4.90 0 5.15 0 5.36 0 5.78 0 5.79 0 6.00 0 40"/><line x1="644.4" y1="463.6" x2="688.19" y2="463.6" stroke-dasharray="0 3.44 0 4.07 0 4.43 0 4.86 0 5.04 0 5.14 0 5.53 0 5.48 0 5.75 0 40"/><line x1="645.1" y1="466.8" x2="686.36" y2="466.8" stroke-dasharray="0 3.38 0 3.73 0 4.15 0 4.46 0 4.65 0 4.80 0 5.12 0 5.52 0 5.42 0 40"/><line x1="644.6" y1="470.0" x2="684.64" y2="470.0" stroke-dasharray="0 3.42 0 3.63 0 4.02 0 4.76 0 4.43 0 4.62 0 4.90 0 5.02 0 5.15 0 40"/></g>
<g stroke="#00009a" stroke-width="1.71" stroke-linecap="round"><line x1="644.4" y1="47.6" x2="682.08" y2="47.6" stroke-dasharray="0 3.22 0 3.70 0 3.57 0 4.30 0 4.17 0 4.47 0 4.57 0 4.94 0 4.69 0 40"/><line x1="644.3" y1="50.8" x2="686.96" y2="50.8" stroke-dasharray="0 3.22 0 3.55 0 3.70 0 4.03 0 4.27 0 4.23 0 4.67 0 4.81 0 4.94 0 5.15 0 40"/><line x1="644.5" y1="54.0" x2="681.37" y2="54.0" stroke-dasharray="0 3.41 0 3.48 0 3.73 0 3.92 0 4.07 0 4.26 0 4.51 0 4.54 0 4.88 0 40"/><line x1="644.5" y1="57.2" x2="688.88" y2="57.2" stroke-dasharray="0 3.24 0 3.55 0 4.13 0 4.23 0 4.31 0 4.58 0 4.98 0 4.91 0 5.14 0 5.28 0 40"/><line x1="644.6" y1="60.4" x2="683.44" y2="60.4" stroke-dasharray="0 3.32 0 3.69 0 3.98 0 4.26 0 4.35 0 4.59 0 4.57 0 4.98 0 5.06 0 40"/><line x1="644.4" y1="63.6" x2="687.46" y2="63.6" stroke-dasharray="0 3.49 0 3.78 0 4.10 0 3.92 0 4.08 0 4.36 0 4.61 0 4.87 0 4.97 0 4.86 0 40"/><line x1="644.5" y1="66.8" x2="687.14" y2="66.8" stroke-dasharray="0 3.44 0 3.55 0 3.78 0 4.05 0 4.24 0 4.39 0 4.55 0 4.62 0 4.92 0 5.06 0 40"/><line x1="644.6" y1="70.0" x2="688.32" y2="70.0" stroke-dasharray="0 3.30 0 3.55 0 3.95 0 4.18 0 4.30 0 4.52 0 4.61 0 4.94 0 4.97 0 5.34 0 40"/><line x1="644.4" y1="73.2" x2="688.26" y2="73.2" stroke-dasharray="0 3.37 0 3.72 0 3.81 0 4.17 0 4.38 0 4.38 0 4.75 0 4.99 0 4.95 0 5.27 0 40"/><line x1="644.8" y1="76.4" x2="688.86" y2="76.4" stroke-dasharray="0 3.40 0 3.62 0 3.81 0 4.33 0 4.58 0 4.29 0 4.84 0 5.05 0 5.07 0 5.05 0 40"/><line x1="644.3" y1="79.6" x2="683.44" y2="79.6" stroke-dasharray="0 3.20 0 3.72 0 4.06 0 4.20 0 4.51 0 4.48 0 4.88 0 4.96 0 5.10 0 40"/><line x1="644.5" y1="82.8" x2="683.50" y2="82.8" stroke-dasharray="0 3.41 0 3.66 0 3.95 0 4.31 0 4.43 0 4.65 0 4.71 0 4.62 0 5.21 0 40"/><line x1="644.4" y1="86.0" x2="684.95" y2="86.0" stroke-dasharray="0 3.33 0 3.72 0 4.13 0 4.38 0 4.62 0 4.73 0 5.05 0 5.16 0 5.42 0 40"/><line x1="644.3" y1="89.2" x2="685.99" y2="89.2" stroke-dasharray="0 3.12 0 3.69 0 4.29 0 4.91 0 4.74 0 4.95 0 5.09 0 5.44 0 5.42 0 40"/><line x1="644.3" y1="92.4" x2="686.43" y2="92.4" stroke-dasharray="0 3.39 0 3.84 0 4.37 0 4.63 0 4.74 0 5.06 0 5.19 0 5.36 0 5.49 0 40"/><line x1="644.9" y1="95.6" x2="686.89" y2="95.6" stroke-dasharray="0 3.43 0 3.59 0 4.29 0 4.69 0 4.91 0 5.11 0 5.11 0 5.42 0 5.43 0 40"/><line x1="644.8" y1="98.8" x2="684.75" y2="98.8" stroke-dasharray="0 3.24 0 3.57 0 4.29 0 4.36 0 4.41 0 4.88 0 4.84 0 4.93 0 5.36 0 40"/><line x1="644.7" y1="102.0" x2="684.55" y2="102.0" stroke-dasharray="0 3.54 0 3.73 0 4.17 0 4.32 0 4.33 0 4.94 0 4.75 0 4.96 0 5.07 0 40"/><line x1="644.3" y1="105.2" x2="688.27" y2="105.2" stroke-dasharray="0 3.43 0 3.86 0 3.93 0 4.10 0 4.27 0 4.50 0 4.55 0 5.02 0 5.03 0 5.23 0 40"/><line x1="644.5" y1="108.4" x2="686.83" y2="108.4" stroke-dasharray="0 3.42 0 3.52 0 4.02 0 3.87 0 4.15 0 4.33 0 4.20 0 4.93 0 4.92 0 4.92 0 40"/><line x1="644.4" y1="111.6" x2="689.18" y2="111.6" stroke-dasharray="0 3.28 0 3.68 0 3.80 0 4.39 0 4.42 0 4.65 0 4.95 0 5.01 0 5.18 0 5.35 0 40"/><line x1="644.5" y1="114.8" x2="688.08" y2="114.8" stroke-dasharray="0 3.44 0 3.73 0 3.79 0 4.06 0 4.16 0 4.65 0 4.64 0 5.01 0 4.92 0 5.13 0 40"/><line x1="644.2" y1="118.0" x2="683.26" y2="118.0" stroke-dasharray="0 3.35 0 3.68 0 3.83 0 4.28 0 4.42 0 4.61 0 4.84 0 4.87 0 5.11 0 40"/><line x1="644.3" y1="121.2" x2="688.18" y2="121.2" stroke-dasharray="0 3.24 0 3.70 0 4.17 0 4.03 0 4.27 0 4.44 0 4.68 0 5.08 0 5.05 0 5.14 0 40"/><line x1="644.6" y1="124.4" x2="682.97" y2="124.4" stroke-dasharray="0 3.52 0 3.52 0 4.21 0 4.19 0 4.34 0 4.43 0 4.52 0 4.67 0 4.93 0 40"/><line x1="644.3" y1="127.6" x2="686.76" y2="127.6" stroke-dasharray="0 3.42 0 3.67 0 3.68 0 4.11 0 4.11 0 4.44 0 4.53 0 4.78 0 4.70 0 4.97 0 40"/><line x1="644.4" y1="130.8" x2="682.14" y2="130.8" stroke-dasharray="0 3.12 0 3.32 0 3.64 0 4.11 0 4.49 0 4.45 0 4.71 0 4.83 0 5.01 0 40"/><line x1="644.3" y1="134.0" x2="682.39" y2="134.0" stroke-dasharray="0 3.21 0 3.73 0 3.97 0 4.09 0 4.38 0 4.37 0 4.56 0 4.82 0 4.94 0 40"/><line x1="644.4" y1="137.2" x2="681.81" y2="137.2" stroke-dasharray="0 3.46 0 3.35 0 3.85 0 4.01 0 4.29 0 4.44 0 4.21 0 4.79 0 4.93 0 40"/><line x1="644.4" y1="140.4" x2="687.10" y2="140.4" stroke-dasharray="0 3.30 0 3.80 0 3.87 0 4.28 0 4.10 0 4.16 0 4.62 0 4.81 0 4.88 0 4.86 0 40"/><line x1="644.3" y1="143.6" x2="686.99" y2="143.6" stroke-dasharray="0 3.33 0 3.49 0 3.79 0 3.93 0 4.48 0 4.38 0 4.67 0 4.66 0 5.05 0 4.90 0 40"/><line x1="645.0" y1="156.4" x2="682.20" y2="156.4" stroke-dasharray="0 3.26 0 3.69 0 3.80 0 3.71 0 4.11 0 4.50 0 4.43 0 4.55 0 5.06 0 40"/><line x1="644.6" y1="166.0" x2="683.19" y2="166.0" stroke-dasharray="0 3.56 0 3.68 0 3.70 0 4.03 0 4.51 0 4.47 0 4.73 0 4.75 0 5.14 0 40"/><line x1="644.7" y1="169.2" x2="687.76" y2="169.2" stroke-dasharray="0 3.48 0 3.68 0 3.76 0 4.23 0 4.16 0 4.34 0 4.69 0 4.70 0 4.88 0 5.08 0 40"/><line x1="644.4" y1="172.4" x2="683.88" y2="172.4" stroke-dasharray="0 3.34 0 3.70 0 4.15 0 4.33 0 4.34 0 4.66 0 4.72 0 4.88 0 5.30 0 40"/><line x1="644.4" y1="175.6" x2="682.63" y2="175.6" stroke-dasharray="0 3.18 0 3.67 0 3.80 0 4.20 0 4.18 0 4.39 0 4.73 0 5.00 0 5.06 0 40"/><line x1="644.6" y1="178.8" x2="683.84" y2="178.8" stroke-dasharray="0 3.34 0 3.76 0 3.97 0 4.42 0 4.34 0 4.60 0 4.94 0 4.77 0 5.08 0 40"/><line x1="644.2" y1="182.0" x2="687.37" y2="182.0" stroke-dasharray="0 3.32 0 3.56 0 3.86 0 4.02 0 4.27 0 4.35 0 4.66 0 4.97 0 4.96 0 5.13 0 40"/><line x1="644.5" y1="185.2" x2="683.69" y2="185.2" stroke-dasharray="0 3.42 0 3.64 0 4.03 0 4.34 0 4.27 0 4.52 0 4.89 0 4.96 0 5.10 0 40"/><line x1="644.4" y1="188.4" x2="689.39" y2="188.4" stroke-dasharray="0 3.52 0 3.87 0 3.91 0 4.30 0 4.54 0 4.63 0 4.79 0 5.09 0 5.14 0 5.13 0 40"/><line x1="644.3" y1="191.6" x2="683.65" y2="191.6" stroke-dasharray="0 3.16 0 3.80 0 3.75 0 4.14 0 4.48 0 4.83 0 5.01 0 4.89 0 5.18 0 40"/><line x1="644.6" y1="194.8" x2="688.20" y2="194.8" stroke-dasharray="0 3.33 0 3.72 0 3.82 0 4.28 0 4.17 0 4.49 0 4.71 0 4.76 0 5.12 0 5.19 0 40"/><line x1="644.4" y1="198.0" x2="686.45" y2="198.0" stroke-dasharray="0 3.18 0 3.79 0 4.15 0 4.72 0 4.85 0 5.20 0 5.17 0 5.38 0 5.53 0 40"/><line x1="644.3" y1="201.2" x2="685.65" y2="201.2" stroke-dasharray="0 3.44 0 3.68 0 4.03 0 4.55 0 4.87 0 4.90 0 5.28 0 5.15 0 5.43 0 40"/><line x1="644.3" y1="204.4" x2="685.24" y2="204.4" stroke-dasharray="0 3.56 0 3.71 0 4.24 0 4.51 0 4.72 0 4.71 0 5.11 0 4.98 0 5.34 0 40"/><line x1="644.7" y1="207.6" x2="684.23" y2="207.6" stroke-dasharray="0 3.39 0 3.66 0 3.83 0 4.49 0 4.53 0 4.78 0 4.92 0 4.92 0 4.93 0 40"/><line x1="644.6" y1="210.8" x2="688.41" y2="210.8" stroke-dasharray="0 3.45 0 3.55 0 3.94 0 3.94 0 4.47 0 4.49 0 4.77 0 4.86 0 5.10 0 5.17 0 40"/><line x1="644.7" y1="214.0" x2="683.64" y2="214.0" stroke-dasharray="0 3.44 0 3.64 0 3.92 0 4.22 0 4.47 0 4.51 0 4.81 0 4.81 0 5.04 0 40"/><line x1="644.6" y1="217.2" x2="684.42" y2="217.2" stroke-dasharray="0 3.23 0 3.78 0 3.80 0 4.23 0 4.47 0 4.68 0 5.05 0 5.15 0 5.40 0 40"/><line x1="644.3" y1="220.4" x2="682.95" y2="220.4" stroke-dasharray="0 3.35 0 3.64 0 3.82 0 4.28 0 4.12 0 4.57 0 4.68 0 5.05 0 5.08 0 40"/><line x1="644.2" y1="226.8" x2="685.86" y2="226.8" stroke-dasharray="0 3.45 0 3.43 0 3.77 0 3.96 0 4.09 0 4.28 0 4.49 0 4.65 0 4.65 0 4.80 0 40"/><line x1="644.7" y1="230.0" x2="688.59" y2="230.0" stroke-dasharray="0 3.43 0 3.72 0 3.93 0 4.08 0 4.34 0 4.47 0 4.71 0 4.84 0 5.02 0 5.33 0 40"/><line x1="644.4" y1="233.2" x2="686.64" y2="233.2" stroke-dasharray="0 3.50 0 3.56 0 3.96 0 3.94 0 4.17 0 4.18 0 4.67 0 4.64 0 4.67 0 4.95 0 40"/><line x1="644.2" y1="236.4" x2="679.27" y2="236.4" stroke-dasharray="0 3.38 0 3.64 0 3.53 0 3.76 0 3.87 0 3.98 0 3.93 0 4.46 0 4.46 0 40"/><line x1="644.6" y1="239.6" x2="689.84" y2="239.6" stroke-dasharray="0 3.36 0 3.46 0 3.56 0 3.81 0 3.97 0 4.11 0 4.59 0 4.29 0 4.49 0 4.58 0 4.93 0 40"/><line x1="645.1" y1="242.8" x2="684.04" y2="242.8" stroke-dasharray="0 3.36 0 3.55 0 3.33 0 3.53 0 3.75 0 3.85 0 4.17 0 4.28 0 4.49 0 4.53 0 40"/><line x1="644.4" y1="249.2" x2="688.99" y2="249.2" stroke-dasharray="0 3.32 0 3.65 0 3.45 0 3.57 0 4.08 0 4.11 0 3.99 0 4.44 0 4.58 0 4.46 0 4.85 0 40"/><line x1="644.5" y1="252.4" x2="689.05" y2="252.4" stroke-dasharray="0 3.36 0 3.59 0 3.57 0 3.61 0 3.77 0 4.11 0 3.98 0 4.47 0 4.43 0 4.69 0 4.96 0 40"/><line x1="644.9" y1="255.6" x2="686.33" y2="255.6" stroke-dasharray="0 3.36 0 3.46 0 3.81 0 3.64 0 4.10 0 4.28 0 4.41 0 4.70 0 4.59 0 5.04 0 40"/><line x1="644.5" y1="258.8" x2="685.40" y2="258.8" stroke-dasharray="0 3.45 0 3.59 0 3.47 0 3.77 0 3.95 0 4.10 0 4.21 0 4.69 0 4.67 0 5.00 0 40"/><line x1="644.2" y1="262.0" x2="688.88" y2="262.0" stroke-dasharray="0 3.64 0 3.48 0 3.69 0 3.62 0 3.78 0 3.98 0 4.20 0 4.43 0 4.48 0 4.58 0 4.71 0 40"/><line x1="644.4" y1="265.2" x2="679.32" y2="265.2" stroke-dasharray="0 3.35 0 3.38 0 3.57 0 3.72 0 3.82 0 4.00 0 4.14 0 4.44 0 4.45 0 40"/><line x1="644.3" y1="268.4" x2="684.57" y2="268.4" stroke-dasharray="0 3.53 0 3.54 0 3.65 0 3.51 0 3.93 0 4.31 0 4.10 0 4.25 0 4.52 0 4.83 0 40"/><line x1="644.3" y1="281.2" x2="688.17" y2="281.2" stroke-dasharray="0 3.36 0 3.74 0 3.68 0 4.35 0 4.49 0 4.49 0 4.73 0 4.90 0 4.91 0 5.19 0 40"/><line x1="644.6" y1="284.4" x2="687.84" y2="284.4" stroke-dasharray="0 3.36 0 3.53 0 3.85 0 4.11 0 4.54 0 4.54 0 4.56 0 4.90 0 5.00 0 4.82 0 40"/><line x1="644.7" y1="287.6" x2="688.41" y2="287.6" stroke-dasharray="0 3.23 0 3.46 0 3.99 0 4.04 0 4.33 0 4.58 0 4.80 0 4.98 0 5.06 0 5.14 0 40"/><line x1="644.8" y1="290.8" x2="683.20" y2="290.8" stroke-dasharray="0 3.49 0 3.73 0 3.73 0 4.15 0 4.37 0 4.53 0 4.59 0 4.82 0 4.91 0 40"/><line x1="644.5" y1="294.0" x2="686.53" y2="294.0" stroke-dasharray="0 3.52 0 3.61 0 3.63 0 3.91 0 4.06 0 4.16 0 4.49 0 4.55 0 4.97 0 5.05 0 40"/><line x1="644.2" y1="297.2" x2="680.61" y2="297.2" stroke-dasharray="0 3.16 0 3.61 0 3.76 0 3.91 0 3.91 0 4.26 0 4.28 0 4.59 0 4.86 0 40"/><line x1="644.7" y1="300.4" x2="685.79" y2="300.4" stroke-dasharray="0 3.43 0 3.65 0 3.53 0 3.80 0 4.02 0 4.21 0 4.44 0 4.39 0 4.62 0 4.96 0 40"/><line x1="644.6" y1="303.6" x2="685.56" y2="303.6" stroke-dasharray="0 3.41 0 3.49 0 3.55 0 3.73 0 4.07 0 4.20 0 4.32 0 4.60 0 4.63 0 4.92 0 40"/><line x1="644.5" y1="306.8" x2="685.70" y2="306.8" stroke-dasharray="0 3.52 0 3.57 0 3.38 0 3.83 0 4.10 0 4.19 0 4.46 0 4.44 0 4.75 0 4.90 0 40"/><line x1="644.3" y1="310.0" x2="685.44" y2="310.0" stroke-dasharray="0 3.46 0 3.45 0 3.64 0 3.87 0 4.01 0 4.24 0 4.45 0 4.69 0 4.69 0 4.60 0 40"/><line x1="644.3" y1="313.2" x2="680.56" y2="313.2" stroke-dasharray="0 3.06 0 3.60 0 3.68 0 3.72 0 3.97 0 4.14 0 4.49 0 4.65 0 4.94 0 40"/><line x1="644.7" y1="316.4" x2="686.60" y2="316.4" stroke-dasharray="0 3.49 0 3.75 0 3.75 0 4.06 0 3.98 0 4.10 0 4.36 0 4.63 0 4.78 0 4.98 0 40"/><line x1="644.4" y1="319.6" x2="686.43" y2="319.6" stroke-dasharray="0 3.35 0 3.78 0 3.65 0 3.85 0 4.13 0 4.21 0 4.57 0 4.52 0 4.92 0 4.96 0 40"/><line x1="644.3" y1="322.8" x2="690.07" y2="322.8" stroke-dasharray="0 3.09 0 3.59 0 3.74 0 3.86 0 3.83 0 4.00 0 4.43 0 4.67 0 4.89 0 4.76 0 4.91 0 40"/><line x1="644.9" y1="326.0" x2="686.23" y2="326.0" stroke-dasharray="0 3.45 0 3.70 0 3.69 0 4.01 0 4.03 0 4.17 0 4.30 0 4.51 0 4.63 0 4.81 0 40"/><line x1="644.2" y1="329.2" x2="685.82" y2="329.2" stroke-dasharray="0 3.32 0 3.41 0 3.44 0 3.91 0 4.21 0 4.47 0 4.55 0 4.42 0 4.84 0 5.00 0 40"/><line x1="644.4" y1="332.4" x2="686.68" y2="332.4" stroke-dasharray="0 3.38 0 3.56 0 3.96 0 3.92 0 4.12 0 4.31 0 4.51 0 4.44 0 4.99 0 5.02 0 40"/><line x1="644.3" y1="335.6" x2="681.94" y2="335.6" stroke-dasharray="0 3.31 0 3.59 0 3.83 0 4.18 0 4.25 0 4.37 0 4.79 0 4.57 0 4.73 0 40"/><line x1="644.3" y1="338.8" x2="687.09" y2="338.8" stroke-dasharray="0 3.31 0 3.51 0 3.97 0 4.00 0 4.37 0 4.47 0 4.56 0 4.76 0 4.98 0 4.82 0 40"/><line x1="644.3" y1="342.0" x2="687.37" y2="342.0" stroke-dasharray="0 3.27 0 3.74 0 3.55 0 4.21 0 4.31 0 4.42 0 4.60 0 4.76 0 5.01 0 5.11 0 40"/><line x1="645.0" y1="345.2" x2="687.83" y2="345.2" stroke-dasharray="0 3.38 0 3.54 0 3.85 0 4.09 0 4.20 0 4.51 0 4.46 0 4.73 0 4.98 0 5.05 0 40"/><line x1="644.5" y1="348.4" x2="682.80" y2="348.4" stroke-dasharray="0 3.25 0 3.60 0 3.82 0 4.07 0 4.38 0 4.68 0 4.60 0 4.87 0 4.94 0 40"/><line x1="644.6" y1="351.6" x2="682.00" y2="351.6" stroke-dasharray="0 3.25 0 3.52 0 3.79 0 4.12 0 4.40 0 4.30 0 4.51 0 4.69 0 4.76 0 40"/><line x1="644.2" y1="354.8" x2="682.88" y2="354.8" stroke-dasharray="0 3.18 0 3.82 0 3.89 0 4.24 0 4.34 0 4.52 0 4.64 0 5.00 0 4.98 0 40"/><line x1="644.4" y1="358.0" x2="689.07" y2="358.0" stroke-dasharray="0 3.39 0 3.72 0 3.95 0 4.30 0 4.31 0 4.51 0 5.00 0 4.94 0 5.02 0 5.45 0 40"/><line x1="644.4" y1="361.2" x2="683.56" y2="361.2" stroke-dasharray="0 3.44 0 3.51 0 3.86 0 4.29 0 4.40 0 4.54 0 4.69 0 5.03 0 5.33 0 40"/><line x1="644.9" y1="364.4" x2="683.72" y2="364.4" stroke-dasharray="0 3.27 0 3.60 0 3.89 0 4.16 0 4.36 0 4.64 0 4.70 0 5.05 0 5.13 0 40"/><line x1="644.3" y1="367.6" x2="685.24" y2="367.6" stroke-dasharray="0 3.47 0 3.76 0 4.01 0 4.47 0 4.57 0 5.05 0 5.00 0 5.18 0 5.37 0 40"/><line x1="644.2" y1="370.8" x2="685.13" y2="370.8" stroke-dasharray="0 3.28 0 3.80 0 3.94 0 4.53 0 4.59 0 4.94 0 4.93 0 5.41 0 5.45 0 40"/><line x1="644.8" y1="374.0" x2="689.48" y2="374.0" stroke-dasharray="0 3.26 0 3.54 0 4.04 0 4.47 0 4.39 0 4.51 0 4.66 0 5.15 0 5.34 0 5.26 0 40"/><line x1="644.2" y1="377.2" x2="683.95" y2="377.2" stroke-dasharray="0 3.47 0 3.73 0 4.04 0 4.30 0 4.60 0 4.64 0 4.85 0 5.04 0 5.04 0 40"/><line x1="644.3" y1="380.4" x2="688.94" y2="380.4" stroke-dasharray="0 3.22 0 3.51 0 4.15 0 4.40 0 4.53 0 4.82 0 4.82 0 4.93 0 5.16 0 5.05 0 40"/><line x1="644.5" y1="383.6" x2="687.50" y2="383.6" stroke-dasharray="0 3.20 0 3.67 0 3.95 0 4.16 0 4.24 0 4.32 0 4.60 0 4.81 0 4.88 0 5.17 0 40"/><line x1="644.9" y1="386.8" x2="687.89" y2="386.8" stroke-dasharray="0 3.56 0 3.55 0 3.68 0 4.18 0 4.22 0 4.33 0 4.76 0 4.62 0 5.04 0 4.98 0 40"/><line x1="644.3" y1="390.0" x2="688.50" y2="390.0" stroke-dasharray="0 3.42 0 3.72 0 3.99 0 4.23 0 4.27 0 4.58 0 4.51 0 4.96 0 5.12 0 5.35 0 40"/><line x1="644.5" y1="393.2" x2="688.37" y2="393.2" stroke-dasharray="0 3.30 0 3.66 0 3.90 0 4.29 0 4.26 0 4.55 0 4.71 0 4.94 0 5.01 0 5.20 0 40"/><line x1="644.2" y1="396.4" x2="687.75" y2="396.4" stroke-dasharray="0 3.69 0 3.52 0 3.74 0 4.05 0 4.24 0 4.49 0 4.83 0 5.03 0 5.03 0 4.87 0 40"/><line x1="644.7" y1="399.6" x2="688.59" y2="399.6" stroke-dasharray="0 3.21 0 3.68 0 3.83 0 4.28 0 4.41 0 4.49 0 4.70 0 4.97 0 4.99 0 5.31 0 40"/><line x1="644.5" y1="402.8" x2="683.28" y2="402.8" stroke-dasharray="0 3.41 0 3.64 0 4.00 0 4.01 0 4.57 0 4.38 0 4.82 0 4.81 0 5.11 0 40"/><line x1="644.3" y1="406.0" x2="682.34" y2="406.0" stroke-dasharray="0 3.09 0 3.67 0 3.82 0 4.08 0 4.24 0 4.74 0 4.60 0 4.88 0 4.87 0 40"/><line x1="644.4" y1="409.2" x2="684.77" y2="409.2" stroke-dasharray="0 3.68 0 3.55 0 4.17 0 4.44 0 4.60 0 4.66 0 4.88 0 5.18 0 5.16 0 40"/><line x1="644.2" y1="412.4" x2="684.53" y2="412.4" stroke-dasharray="0 3.52 0 3.76 0 4.07 0 4.35 0 4.50 0 4.89 0 5.07 0 4.87 0 5.22 0 40"/><line x1="645.0" y1="415.6" x2="686.61" y2="415.6" stroke-dasharray="0 3.46 0 3.91 0 4.08 0 4.63 0 4.56 0 4.81 0 5.09 0 5.48 0 5.48 0 40"/><line x1="644.3" y1="418.8" x2="685.39" y2="418.8" stroke-dasharray="0 3.42 0 3.70 0 4.17 0 4.42 0 4.72 0 4.69 0 5.10 0 5.37 0 5.49 0 40"/><line x1="644.3" y1="422.0" x2="687.46" y2="422.0" stroke-dasharray="0 3.41 0 3.72 0 4.56 0 4.90 0 4.92 0 5.01 0 5.36 0 5.56 0 5.65 0 40"/><line x1="644.2" y1="425.2" x2="685.70" y2="425.2" stroke-dasharray="0 3.52 0 3.62 0 4.26 0 4.55 0 4.70 0 5.10 0 5.10 0 4.99 0 5.62 0 40"/><line x1="644.3" y1="428.4" x2="688.27" y2="428.4" stroke-dasharray="0 3.04 0 3.75 0 4.46 0 4.97 0 5.25 0 5.37 0 5.42 0 5.78 0 5.85 0 40"/><line x1="644.5" y1="431.6" x2="689.12" y2="431.6" stroke-dasharray="0 3.30 0 4.02 0 4.48 0 5.05 0 5.09 0 5.46 0 5.73 0 5.88 0 5.57 0 40"/><line x1="644.3" y1="434.8" x2="684.63" y2="434.8" stroke-dasharray="0 3.49 0 4.02 0 4.56 0 5.25 0 5.68 0 5.45 0 5.94 0 5.92 0 40"/><line x1="644.4" y1="438.0" x2="685.49" y2="438.0" stroke-dasharray="0 3.31 0 3.87 0 4.72 0 5.58 0 5.59 0 5.85 0 5.97 0 6.13 0 40"/><line x1="644.9" y1="441.2" x2="685.35" y2="441.2" stroke-dasharray="0 3.13 0 4.05 0 4.72 0 5.25 0 5.61 0 5.74 0 5.89 0 5.98 0 40"/><line x1="644.4" y1="444.4" x2="684.67" y2="444.4" stroke-dasharray="0 3.49 0 3.75 0 4.40 0 5.17 0 5.58 0 5.75 0 5.96 0 6.08 0 40"/><line x1="644.6" y1="447.6" x2="685.77" y2="447.6" stroke-dasharray="0 3.39 0 3.96 0 4.73 0 5.38 0 5.68 0 5.91 0 6.02 0 6.04 0 40"/><line x1="644.5" y1="450.8" x2="685.06" y2="450.8" stroke-dasharray="0 3.31 0 3.97 0 4.62 0 5.41 0 5.65 0 5.67 0 5.76 0 6.13 0 40"/><line x1="644.6" y1="454.0" x2="689.19" y2="454.0" stroke-dasharray="0 3.18 0 4.02 0 4.57 0 4.90 0 5.04 0 5.48 0 5.72 0 5.88 0 5.81 0 40"/><line x1="644.7" y1="457.2" x2="689.95" y2="457.2" stroke-dasharray="0 3.38 0 4.05 0 4.24 0 5.15 0 5.54 0 5.39 0 5.60 0 5.92 0 5.89 0 40"/><line x1="644.8" y1="460.4" x2="689.34" y2="460.4" stroke-dasharray="0 3.17 0 4.05 0 4.33 0 4.90 0 5.15 0 5.36 0 5.78 0 5.79 0 6.00 0 40"/><line x1="644.4" y1="463.6" x2="688.19" y2="463.6" stroke-dasharray="0 3.44 0 4.07 0 4.43 0 4.86 0 5.04 0 5.14 0 5.53 0 5.48 0 5.75 0 40"/><line x1="645.1" y1="466.8" x2="686.36" y2="466.8" stroke-dasharray="0 3.38 0 3.73 0 4.15 0 4.46 0 4.65 0 4.80 0 5.12 0 5.52 0 5.42 0 40"/><line x1="644.6" y1="470.0" x2="684.64" y2="470.0" stroke-dasharray="0 3.42 0 3.63 0 4.02 0 4.76 0 4.43 0 4.62 0 4.90 0 5.02 0 5.15 0 40"/></g>
<g stroke="#f00000" stroke-width="2.9" stroke-linecap="round"><line x1="644.9" y1="146.8" x2="648.35" y2="146.8" stroke-dasharray="0 3.36 0 40"/><line x1="644.6" y1="150.0" x2="651.39" y2="150.0" stroke-dasharray="0 3.36 0 3.35 0 40"/><line x1="644.4" y1="153.2" x2="655.51" y2="153.2" stroke-dasharray="0 3.32 0 3.81 0 3.98 0 40"/><line x1="644.4" y1="159.6" x2="651.27" y2="159.6" stroke-dasharray="0 3.35 0 3.50 0 40"/><line x1="644.6" y1="162.8" x2="655.59" y2="162.8" stroke-dasharray="0 3.34 0 3.75 0 3.86 0 40"/><line x1="644.7" y1="223.6" x2="648.11" y2="223.6" stroke-dasharray="0 3.39 0 40"/><line x1="644.2" y1="246.0" x2="654.72" y2="246.0" stroke-dasharray="0 3.30 0 3.58 0 3.59 0 40"/><line x1="644.4" y1="271.6" x2="651.46" y2="271.6" stroke-dasharray="0 3.47 0 3.57 0 40"/><line x1="644.6" y1="274.8" x2="655.34" y2="274.8" stroke-dasharray="0 3.42 0 3.57 0 3.75 0 40"/><line x1="644.4" y1="278.0" x2="651.27" y2="278.0" stroke-dasharray="0 3.29 0 3.57 0 40"/></g>
<g stroke="#b00000" stroke-width="1.59" stroke-linecap="round"><line x1="644.9" y1="146.8" x2="648.35" y2="146.8" stroke-dasharray="0 3.36 0 40"/><line x1="644.6" y1="150.0" x2="651.39" y2="150.0" stroke-dasharray="0 3.36 0 3.35 0 40"/><line x1="644.4" y1="153.2" x2="655.51" y2="153.2" stroke-dasharray="0 3.32 0 3.81 0 3.98 0 40"/><line x1="644.4" y1="159.6" x2="651.27" y2="159.6" stroke-dasharray="0 3.35 0 3.50 0 40"/><line x1="644.6" y1="162.8" x2="655.59" y2="162.8" stroke-dasharray="0 3.34 0 3.75 0 3.86 0 40"/><line x1="644.7" y1="223.6" x2="648.11" y2="223.6" stroke-dasharray="0 3.39 0 40"/><line x1="644.2" y1="246.0" x2="654.72" y2="246.0" stroke-dasharray="0 3.30 0 3.58 0 3.59 0 40"/><line x1="644.4" y1="271.6" x2="651.46" y2="271.6" stroke-dasharray="0 3.47 0 3.57 0 40"/><line x1="644.6" y1="274.8" x2="655.34" y2="274.8" stroke-dasharray="0 3.42 0 3.57 0 3.75 0 40"/><line x1="644.4" y1="278.0" x2="651.27" y2="278.0" stroke-dasharray="0 3.29 0 3.57 0 40"/></g>
<g stroke="#f00a0a" stroke-width="2.9" stroke-linecap="round"><line x1="899.6" y1="47.2" x2="944.47" y2="47.2" stroke-dasharray="0 3.06 0 3.73 0 3.64 0 4.21 0 4.46 0 4.55 0 5.05 0 5.11 0 5.39 0 5.64 0 40"/><line x1="899.4" y1="49.4" x2="939.80" y2="49.4" stroke-dasharray="0 3.10 0 3.62 0 4.06 0 4.22 0 4.38 0 4.75 0 5.22 0 5.44 0 5.59 0 40"/><line x1="899.8" y1="51.6" x2="935.15" y2="51.6" stroke-dasharray="0 3.25 0 3.55 0 3.85 0 4.25 0 4.40 0 5.14 0 5.16 0 5.73 0 40"/><line x1="899.9" y1="56.0" x2="942.16" y2="56.0" stroke-dasharray="0 3.07 0 3.69 0 4.27 0 4.41 0 4.94 0 4.93 0 5.58 0 5.50 0 5.82 0 40"/><line x1="899.7" y1="58.2" x2="934.49" y2="58.2" stroke-dasharray="0 3.27 0 3.40 0 3.91 0 4.25 0 4.48 0 4.87 0 4.96 0 5.55 0 40"/><line x1="900.2" y1="60.4" x2="940.39" y2="60.4" stroke-dasharray="0 3.25 0 3.74 0 3.89 0 3.99 0 4.49 0 4.68 0 5.10 0 5.33 0 5.69 0 40"/><line x1="899.2" y1="62.6" x2="932.60" y2="62.6" stroke-dasharray="0 3.28 0 3.26 0 3.68 0 4.20 0 4.14 0 4.65 0 5.00 0 5.12 0 40"/><line x1="899.6" y1="64.8" x2="939.05" y2="64.8" stroke-dasharray="0 3.16 0 3.50 0 3.92 0 4.05 0 4.43 0 4.62 0 4.70 0 5.30 0 5.75 0 40"/><line x1="899.2" y1="67.0" x2="938.79" y2="67.0" stroke-dasharray="0 3.11 0 3.51 0 3.92 0 4.35 0 4.46 0 4.53 0 4.75 0 5.36 0 5.52 0 40"/><line x1="899.6" y1="69.2" x2="943.86" y2="69.2" stroke-dasharray="0 3.35 0 3.46 0 3.56 0 4.10 0 4.31 0 4.52 0 4.91 0 5.02 0 5.51 0 5.50 0 40"/><line x1="899.7" y1="71.4" x2="943.06" y2="71.4" stroke-dasharray="0 3.11 0 3.38 0 3.65 0 3.94 0 4.17 0 4.46 0 4.90 0 4.96 0 5.10 0 5.67 0 40"/><line x1="899.3" y1="73.6" x2="933.69" y2="73.6" stroke-dasharray="0 3.12 0 3.54 0 3.90 0 4.19 0 4.36 0 4.90 0 5.00 0 5.37 0 40"/><line x1="899.8" y1="80.2" x2="941.86" y2="80.2" stroke-dasharray="0 3.32 0 3.53 0 4.26 0 4.60 0 4.57 0 5.12 0 5.29 0 5.49 0 5.80 0 40"/><line x1="899.6" y1="82.4" x2="940.73" y2="82.4" stroke-dasharray="0 3.28 0 3.75 0 4.14 0 4.28 0 4.62 0 4.81 0 5.31 0 5.27 0 5.59 0 40"/><line x1="899.3" y1="84.6" x2="939.63" y2="84.6" stroke-dasharray="0 3.20 0 3.55 0 3.92 0 4.12 0 4.48 0 4.87 0 5.11 0 5.49 0 5.55 0 40"/><line x1="899.7" y1="86.8" x2="941.26" y2="86.8" stroke-dasharray="0 3.23 0 3.61 0 4.03 0 4.40 0 4.81 0 4.97 0 5.30 0 5.51 0 5.63 0 40"/><line x1="899.3" y1="89.0" x2="935.32" y2="89.0" stroke-dasharray="0 3.09 0 3.59 0 3.92 0 4.64 0 4.86 0 4.92 0 5.32 0 5.65 0 40"/><line x1="899.8" y1="91.2" x2="940.41" y2="91.2" stroke-dasharray="0 3.19 0 3.36 0 3.85 0 4.38 0 4.57 0 4.90 0 5.09 0 5.49 0 5.69 0 40"/><line x1="899.4" y1="93.4" x2="940.02" y2="93.4" stroke-dasharray="0 3.37 0 3.55 0 3.88 0 4.36 0 4.54 0 4.93 0 4.94 0 5.27 0 5.74 0 40"/><line x1="899.3" y1="95.6" x2="939.48" y2="95.6" stroke-dasharray="0 3.20 0 3.47 0 3.89 0 4.35 0 4.30 0 4.85 0 5.00 0 5.30 0 5.80 0 40"/><line x1="899.8" y1="97.8" x2="940.81" y2="97.8" stroke-dasharray="0 3.15 0 3.52 0 4.04 0 4.48 0 4.52 0 4.82 0 5.07 0 5.63 0 5.71 0 40"/><line x1="899.4" y1="104.4" x2="940.00" y2="104.4" stroke-dasharray="0 3.45 0 3.47 0 3.84 0 4.19 0 4.72 0 4.81 0 5.21 0 5.34 0 5.49 0 40"/><line x1="899.7" y1="106.6" x2="933.70" y2="106.6" stroke-dasharray="0 3.28 0 3.72 0 3.66 0 3.87 0 4.53 0 4.73 0 4.91 0 5.30 0 40"/><line x1="899.9" y1="108.8" x2="934.18" y2="108.8" stroke-dasharray="0 3.35 0 3.49 0 3.83 0 4.28 0 4.38 0 4.63 0 5.19 0 5.11 0 40"/><line x1="899.3" y1="111.0" x2="944.56" y2="111.0" stroke-dasharray="0 3.04 0 3.30 0 3.81 0 4.09 0 4.46 0 4.80 0 4.98 0 5.22 0 5.67 0 5.82 0 40"/><line x1="899.3" y1="113.2" x2="933.52" y2="113.2" stroke-dasharray="0 3.45 0 3.69 0 3.64 0 3.93 0 4.37 0 4.71 0 4.91 0 5.47 0 40"/><line x1="899.8" y1="115.4" x2="945.38" y2="115.4" stroke-dasharray="0 3.09 0 3.42 0 3.88 0 4.10 0 4.45 0 4.75 0 5.20 0 5.31 0 5.48 0 5.87 0 40"/><line x1="899.4" y1="117.6" x2="939.84" y2="117.6" stroke-dasharray="0 3.28 0 3.72 0 3.96 0 4.29 0 4.48 0 4.74 0 4.85 0 5.45 0 5.62 0 40"/><line x1="899.5" y1="119.8" x2="934.68" y2="119.8" stroke-dasharray="0 3.21 0 3.75 0 3.96 0 4.35 0 4.56 0 5.05 0 4.90 0 5.37 0 40"/><line x1="899.7" y1="122.0" x2="933.73" y2="122.0" stroke-dasharray="0 2.94 0 3.57 0 3.73 0 4.30 0 4.50 0 4.71 0 4.90 0 5.29 0 40"/><line x1="899.2" y1="124.2" x2="940.18" y2="124.2" stroke-dasharray="0 3.11 0 3.75 0 3.89 0 4.18 0 4.72 0 5.00 0 5.11 0 5.34 0 5.79 0 40"/><line x1="899.7" y1="126.4" x2="940.72" y2="126.4" stroke-dasharray="0 3.20 0 3.74 0 3.78 0 4.42 0 4.66 0 4.95 0 5.13 0 5.36 0 5.74 0 40"/><line x1="899.5" y1="133.0" x2="934.71" y2="133.0" stroke-dasharray="0 3.26 0 3.69 0 4.06 0 4.32 0 4.50 0 4.81 0 5.03 0 5.46 0 40"/><line x1="899.3" y1="135.2" x2="934.08" y2="135.2" stroke-dasharray="0 3.33 0 3.38 0 4.07 0 4.40 0 4.37 0 4.84 0 4.98 0 5.39 0 40"/><line x1="899.2" y1="137.4" x2="934.73" y2="137.4" stroke-dasharray="0 3.23 0 3.61 0 3.96 0 4.22 0 4.58 0 4.94 0 5.17 0 5.72 0 40"/><line x1="899.3" y1="139.6" x2="940.44" y2="139.6" stroke-dasharray="0 3.07 0 3.64 0 4.17 0 4.25 0 4.68 0 5.01 0 5.00 0 5.68 0 5.63 0 40"/><line x1="899.3" y1="141.8" x2="934.46" y2="141.8" stroke-dasharray="0 3.30 0 3.58 0 4.00 0 4.30 0 4.75 0 4.61 0 5.17 0 5.37 0 40"/><line x1="899.4" y1="148.4" x2="941.20" y2="148.4" stroke-dasharray="0 3.16 0 3.68 0 4.01 0 4.71 0 4.68 0 5.10 0 5.36 0 5.43 0 5.58 0 40"/><line x1="899.5" y1="150.6" x2="935.53" y2="150.6" stroke-dasharray="0 3.12 0 3.75 0 4.17 0 4.61 0 4.81 0 4.96 0 5.19 0 5.38 0 40"/><line x1="899.9" y1="152.8" x2="941.57" y2="152.8" stroke-dasharray="0 3.19 0 3.44 0 3.96 0 4.46 0 4.71 0 5.12 0 5.28 0 5.66 0 5.84 0 40"/><line x1="899.5" y1="155.0" x2="936.78" y2="155.0" stroke-dasharray="0 3.04 0 3.68 0 4.26 0 4.68 0 4.97 0 5.29 0 5.52 0 5.81 0 40"/><line x1="899.5" y1="157.2" x2="942.58" y2="157.2" stroke-dasharray="0 3.31 0 3.57 0 4.18 0 4.75 0 4.86 0 5.02 0 5.47 0 5.93 0 5.91 0 40"/><line x1="899.5" y1="159.4" x2="941.57" y2="159.4" stroke-dasharray="0 3.23 0 3.83 0 4.02 0 4.48 0 4.74 0 4.99 0 5.22 0 5.58 0 5.95 0 40"/><line x1="899.5" y1="166.0" x2="934.34" y2="166.0" stroke-dasharray="0 3.17 0 3.48 0 3.93 0 4.16 0 4.78 0 4.83 0 5.19 0 5.23 0 40"/><line x1="899.4" y1="168.2" x2="937.68" y2="168.2" stroke-dasharray="0 3.11 0 3.40 0 3.65 0 4.03 0 4.39 0 4.37 0 4.90 0 5.01 0 5.33 0 40"/><line x1="899.7" y1="170.4" x2="938.96" y2="170.4" stroke-dasharray="0 3.49 0 3.55 0 3.80 0 3.85 0 4.54 0 4.54 0 4.80 0 5.24 0 5.41 0 40"/><line x1="899.7" y1="174.8" x2="944.53" y2="174.8" stroke-dasharray="0 3.31 0 3.68 0 3.61 0 4.12 0 4.18 0 4.41 0 5.06 0 5.29 0 5.50 0 5.66 0 40"/><line x1="899.7" y1="177.0" x2="939.66" y2="177.0" stroke-dasharray="0 3.26 0 3.70 0 3.71 0 3.88 0 4.54 0 4.84 0 5.10 0 5.26 0 5.64 0 40"/><line x1="899.6" y1="183.6" x2="937.18" y2="183.6" stroke-dasharray="0 3.14 0 3.45 0 3.64 0 3.65 0 4.02 0 4.54 0 4.70 0 5.04 0 5.36 0 40"/><line x1="899.4" y1="185.8" x2="938.39" y2="185.8" stroke-dasharray="0 3.09 0 3.43 0 3.69 0 4.10 0 4.37 0 4.73 0 4.80 0 5.15 0 5.55 0 40"/><line x1="900.0" y1="188.0" x2="945.40" y2="188.0" stroke-dasharray="0 3.17 0 3.29 0 3.92 0 4.34 0 4.24 0 4.57 0 5.15 0 5.45 0 5.44 0 5.76 0 40"/><line x1="899.3" y1="190.2" x2="940.13" y2="190.2" stroke-dasharray="0 3.39 0 3.60 0 3.70 0 4.31 0 4.39 0 4.93 0 5.24 0 5.45 0 5.79 0 40"/><line x1="899.5" y1="192.4" x2="941.04" y2="192.4" stroke-dasharray="0 3.07 0 3.67 0 3.97 0 4.36 0 4.76 0 4.88 0 5.22 0 5.72 0 5.88 0 40"/><line x1="899.2" y1="194.6" x2="940.91" y2="194.6" stroke-dasharray="0 3.22 0 3.62 0 4.03 0 4.50 0 4.48 0 5.25 0 5.26 0 5.41 0 5.87 0 40"/><line x1="899.2" y1="196.8" x2="934.33" y2="196.8" stroke-dasharray="0 3.04 0 3.65 0 3.92 0 4.29 0 4.58 0 4.87 0 5.23 0 5.48 0 40"/><line x1="899.5" y1="199.0" x2="934.42" y2="199.0" stroke-dasharray="0 3.13 0 3.39 0 3.93 0 4.20 0 4.72 0 4.86 0 5.15 0 5.52 0 40"/><line x1="899.3" y1="201.2" x2="939.37" y2="201.2" stroke-dasharray="0 3.03 0 3.44 0 3.87 0 4.32 0 4.54 0 4.65 0 4.96 0 5.55 0 5.67 0 40"/><line x1="899.4" y1="203.4" x2="939.27" y2="203.4" stroke-dasharray="0 3.36 0 3.31 0 3.76 0 4.22 0 4.38 0 4.83 0 5.18 0 5.25 0 5.56 0 40"/><line x1="899.5" y1="205.6" x2="939.24" y2="205.6" stroke-dasharray="0 3.31 0 3.37 0 3.89 0 4.03 0 4.59 0 4.72 0 5.07 0 5.22 0 5.49 0 40"/><line x1="899.2" y1="207.8" x2="938.76" y2="207.8" stroke-dasharray="0 3.06 0 3.60 0 3.77 0 4.26 0 4.22 0 4.87 0 4.96 0 5.13 0 5.64 0 40"/><line x1="899.3" y1="210.0" x2="933.16" y2="210.0" stroke-dasharray="0 3.07 0 3.42 0 3.82 0 4.19 0 4.32 0 4.58 0 5.05 0 5.36 0 40"/><line x1="899.3" y1="212.2" x2="940.21" y2="212.2" stroke-dasharray="0 3.26 0 3.66 0 3.76 0 4.32 0 4.62 0 4.91 0 5.09 0 5.44 0 5.78 0 40"/><line x1="900.0" y1="221.0" x2="943.24" y2="221.0" stroke-dasharray="0 3.44 0 3.48 0 3.49 0 3.94 0 4.35 0 4.53 0 4.59 0 4.86 0 5.17 0 5.37 0 40"/><line x1="899.6" y1="223.2" x2="932.35" y2="223.2" stroke-dasharray="0 3.24 0 3.34 0 3.60 0 4.10 0 4.16 0 4.54 0 4.73 0 5.03 0 40"/><line x1="899.4" y1="227.6" x2="935.60" y2="227.6" stroke-dasharray="0 3.33 0 3.35 0 3.43 0 3.51 0 3.85 0 4.19 0 4.64 0 4.63 0 5.18 0 40"/><line x1="899.5" y1="229.8" x2="930.49" y2="229.8" stroke-dasharray="0 3.27 0 3.13 0 3.46 0 3.62 0 3.93 0 4.30 0 4.44 0 4.81 0 40"/><line x1="899.9" y1="236.4" x2="935.59" y2="236.4" stroke-dasharray="0 3.25 0 3.09 0 3.62 0 3.45 0 3.90 0 4.23 0 4.38 0 4.88 0 4.85 0 40"/><line x1="899.3" y1="238.6" x2="931.67" y2="238.6" stroke-dasharray="0 3.32 0 3.46 0 3.44 0 3.94 0 4.17 0 4.35 0 4.63 0 5.05 0 40"/><line x1="899.4" y1="240.8" x2="932.89" y2="240.8" stroke-dasharray="0 3.21 0 3.57 0 3.65 0 3.88 0 4.31 0 4.60 0 4.91 0 5.29 0 40"/><line x1="899.2" y1="243.0" x2="941.47" y2="243.0" stroke-dasharray="0 3.20 0 3.39 0 3.67 0 3.79 0 3.99 0 4.29 0 4.57 0 4.82 0 5.28 0 5.17 0 40"/><line x1="899.9" y1="247.4" x2="936.65" y2="247.4" stroke-dasharray="0 3.06 0 3.26 0 3.69 0 3.60 0 4.09 0 4.47 0 4.51 0 4.79 0 5.22 0 40"/><line x1="899.2" y1="254.0" x2="943.40" y2="254.0" stroke-dasharray="0 3.20 0 3.50 0 3.84 0 3.89 0 4.24 0 4.39 0 4.73 0 5.21 0 5.54 0 5.59 0 40"/><line x1="899.5" y1="256.2" x2="938.17" y2="256.2" stroke-dasharray="0 3.24 0 3.50 0 3.75 0 3.92 0 4.26 0 4.50 0 4.91 0 5.08 0 5.49 0 40"/><line x1="899.6" y1="260.6" x2="934.05" y2="260.6" stroke-dasharray="0 3.32 0 3.50 0 3.71 0 4.24 0 4.52 0 4.72 0 5.12 0 5.28 0 40"/><line x1="899.6" y1="262.8" x2="941.94" y2="262.8" stroke-dasharray="0 3.32 0 3.76 0 4.00 0 4.38 0 4.92 0 5.05 0 5.20 0 5.65 0 6.02 0 40"/><line x1="899.5" y1="265.0" x2="940.25" y2="265.0" stroke-dasharray="0 3.29 0 3.68 0 3.91 0 4.33 0 4.60 0 4.80 0 5.04 0 5.39 0 5.63 0 40"/><line x1="899.8" y1="267.2" x2="943.97" y2="267.2" stroke-dasharray="0 3.11 0 3.43 0 3.67 0 3.85 0 4.47 0 4.63 0 4.83 0 5.06 0 5.42 0 5.62 0 40"/><line x1="899.9" y1="269.4" x2="940.20" y2="269.4" stroke-dasharray="0 3.09 0 3.61 0 3.94 0 4.25 0 4.53 0 4.88 0 5.01 0 5.45 0 5.51 0 40"/><line x1="899.4" y1="271.6" x2="934.48" y2="271.6" stroke-dasharray="0 3.05 0 3.52 0 3.85 0 4.44 0 4.44 0 5.00 0 5.23 0 5.52 0 40"/><line x1="899.4" y1="273.8" x2="939.02" y2="273.8" stroke-dasharray="0 3.12 0 3.57 0 3.84 0 4.08 0 4.39 0 4.84 0 5.05 0 5.04 0 5.68 0 40"/><line x1="899.4" y1="276.0" x2="940.43" y2="276.0" stroke-dasharray="0 3.09 0 3.67 0 3.82 0 4.35 0 4.47 0 5.04 0 5.17 0 5.63 0 5.72 0 40"/><line x1="899.3" y1="278.2" x2="934.18" y2="278.2" stroke-dasharray="0 3.53 0 3.52 0 3.90 0 4.34 0 4.33 0 4.71 0 5.11 0 5.35 0 40"/><line x1="899.5" y1="280.4" x2="939.53" y2="280.4" stroke-dasharray="0 3.29 0 3.44 0 3.85 0 4.42 0 4.51 0 4.80 0 4.88 0 5.22 0 5.53 0 40"/><line x1="899.4" y1="287.0" x2="939.06" y2="287.0" stroke-dasharray="0 3.09 0 3.59 0 4.04 0 4.02 0 4.38 0 4.63 0 4.88 0 5.32 0 5.63 0 40"/><line x1="899.4" y1="289.2" x2="944.06" y2="289.2" stroke-dasharray="0 3.24 0 3.35 0 4.05 0 4.03 0 4.34 0 4.54 0 4.86 0 5.07 0 5.65 0 5.51 0 40"/><line x1="899.4" y1="291.4" x2="944.15" y2="291.4" stroke-dasharray="0 3.26 0 3.63 0 3.79 0 4.03 0 4.30 0 4.55 0 4.94 0 5.04 0 5.47 0 5.67 0 40"/><line x1="899.6" y1="293.6" x2="937.74" y2="293.6" stroke-dasharray="0 3.13 0 3.58 0 3.69 0 3.95 0 4.09 0 4.39 0 4.85 0 5.05 0 5.35 0 40"/><line x1="899.4" y1="295.8" x2="933.38" y2="295.8" stroke-dasharray="0 3.55 0 3.86 0 3.82 0 3.87 0 4.22 0 4.67 0 4.81 0 5.15 0 40"/><line x1="899.4" y1="298.0" x2="940.94" y2="298.0" stroke-dasharray="0 3.05 0 3.35 0 3.53 0 3.47 0 3.99 0 4.26 0 4.44 0 4.78 0 5.19 0 5.49 0 40"/><line x1="899.4" y1="300.2" x2="936.88" y2="300.2" stroke-dasharray="0 3.22 0 3.36 0 3.74 0 3.97 0 4.05 0 4.19 0 4.69 0 4.87 0 5.33 0 40"/><line x1="899.6" y1="302.4" x2="932.76" y2="302.4" stroke-dasharray="0 3.37 0 3.49 0 3.77 0 3.88 0 4.12 0 4.65 0 4.81 0 5.05 0 40"/><line x1="899.4" y1="309.0" x2="937.39" y2="309.0" stroke-dasharray="0 3.20 0 3.62 0 3.51 0 3.93 0 4.13 0 4.61 0 4.63 0 5.18 0 5.17 0 40"/><line x1="899.6" y1="311.2" x2="931.61" y2="311.2" stroke-dasharray="0 3.18 0 3.29 0 3.42 0 3.97 0 4.20 0 4.34 0 4.69 0 4.89 0 40"/><line x1="899.3" y1="313.4" x2="931.50" y2="313.4" stroke-dasharray="0 3.14 0 3.39 0 3.70 0 3.77 0 4.07 0 4.42 0 4.75 0 4.92 0 40"/><line x1="899.2" y1="315.6" x2="937.12" y2="315.6" stroke-dasharray="0 3.21 0 3.28 0 3.50 0 4.02 0 4.04 0 4.44 0 4.94 0 5.14 0 5.27 0 40"/><line x1="899.7" y1="317.8" x2="938.44" y2="317.8" stroke-dasharray="0 3.18 0 3.53 0 3.72 0 3.97 0 4.18 0 4.55 0 4.91 0 5.23 0 5.42 0 40"/><line x1="899.3" y1="320.0" x2="943.67" y2="320.0" stroke-dasharray="0 3.14 0 3.42 0 3.65 0 3.93 0 4.51 0 4.65 0 4.76 0 5.13 0 5.44 0 5.67 0 40"/><line x1="899.7" y1="322.2" x2="932.00" y2="322.2" stroke-dasharray="0 3.30 0 3.43 0 3.55 0 3.85 0 3.93 0 4.46 0 4.80 0 4.92 0 40"/><line x1="900.1" y1="324.4" x2="938.18" y2="324.4" stroke-dasharray="0 3.04 0 3.55 0 3.70 0 3.92 0 4.18 0 4.45 0 4.86 0 4.92 0 5.43 0 40"/><line x1="899.6" y1="326.6" x2="944.81" y2="326.6" stroke-dasharray="0 3.33 0 3.60 0 3.81 0 4.16 0 4.26 0 4.58 0 5.03 0 5.39 0 5.23 0 5.82 0 40"/><line x1="899.3" y1="328.8" x2="937.24" y2="328.8" stroke-dasharray="0 3.22 0 3.38 0 3.68 0 3.93 0 4.09 0 4.49 0 4.66 0 5.06 0 5.39 0 40"/><line x1="899.3" y1="333.2" x2="931.63" y2="333.2" stroke-dasharray="0 3.04 0 3.39 0 3.63 0 3.93 0 4.26 0 4.44 0 4.61 0 5.02 0 40"/><line x1="899.3" y1="335.4" x2="941.60" y2="335.4" stroke-dasharray="0 3.38 0 3.34 0 3.66 0 3.67 0 3.92 0 4.08 0 4.62 0 4.87 0 5.23 0 5.49 0 40"/><line x1="899.3" y1="342.0" x2="932.01" y2="342.0" stroke-dasharray="0 3.30 0 3.30 0 3.85 0 3.90 0 4.07 0 4.55 0 4.75 0 4.98 0 40"/><line x1="899.2" y1="344.2" x2="944.94" y2="344.2" stroke-dasharray="0 3.17 0 3.48 0 3.88 0 4.14 0 4.85 0 4.61 0 5.03 0 5.24 0 5.49 0 5.78 0 40"/><line x1="899.5" y1="346.4" x2="940.25" y2="346.4" stroke-dasharray="0 3.28 0 3.47 0 4.08 0 4.39 0 4.66 0 4.68 0 5.09 0 5.38 0 5.64 0 40"/><line x1="899.4" y1="348.6" x2="934.76" y2="348.6" stroke-dasharray="0 3.34 0 3.71 0 3.97 0 4.25 0 4.57 0 4.95 0 5.07 0 5.45 0 40"/><line x1="899.3" y1="350.8" x2="944.41" y2="350.8" stroke-dasharray="0 3.06 0 3.76 0 3.83 0 4.26 0 4.09 0 4.66 0 4.95 0 5.18 0 5.54 0 5.70 0 40"/><line x1="899.4" y1="353.0" x2="940.37" y2="353.0" stroke-dasharray="0 3.26 0 3.60 0 4.12 0 4.42 0 4.44 0 4.76 0 5.26 0 5.26 0 5.77 0 40"/><line x1="899.2" y1="359.6" x2="941.60" y2="359.6" stroke-dasharray="0 3.18 0 3.57 0 4.05 0 4.33 0 4.85 0 5.03 0 5.48 0 5.75 0 6.07 0 40"/><line x1="899.5" y1="364.0" x2="939.80" y2="364.0" stroke-dasharray="0 2.87 0 3.61 0 3.87 0 4.19 0 4.49 0 4.86 0 5.07 0 5.65 0 5.67 0 40"/><line x1="899.4" y1="366.2" x2="933.90" y2="366.2" stroke-dasharray="0 3.39 0 3.59 0 4.01 0 4.01 0 4.39 0 4.73 0 4.98 0 5.37 0 40"/><line x1="899.3" y1="368.4" x2="934.89" y2="368.4" stroke-dasharray="0 3.09 0 3.42 0 4.00 0 4.55 0 4.62 0 5.08 0 5.18 0 5.56 0 40"/><line x1="899.5" y1="370.6" x2="940.73" y2="370.6" stroke-dasharray="0 3.16 0 3.76 0 4.06 0 4.17 0 4.74 0 5.04 0 5.14 0 5.49 0 5.66 0 40"/><line x1="899.3" y1="372.8" x2="946.31" y2="372.8" stroke-dasharray="0 3.13 0 3.66 0 3.88 0 4.37 0 4.64 0 4.80 0 5.12 0 5.49 0 5.90 0 5.93 0 40"/><line x1="899.3" y1="375.0" x2="940.19" y2="375.0" stroke-dasharray="0 3.18 0 3.65 0 4.02 0 4.24 0 4.64 0 4.82 0 5.18 0 5.53 0 5.61 0 40"/><line x1="899.8" y1="377.2" x2="940.84" y2="377.2" stroke-dasharray="0 3.01 0 3.57 0 3.94 0 4.45 0 4.84 0 4.88 0 5.18 0 5.34 0 5.81 0 40"/><line x1="899.5" y1="379.4" x2="935.37" y2="379.4" stroke-dasharray="0 3.31 0 3.74 0 3.81 0 4.39 0 4.50 0 5.02 0 5.34 0 5.65 0 40"/><line x1="899.4" y1="381.6" x2="941.48" y2="381.6" stroke-dasharray="0 3.02 0 3.67 0 4.17 0 4.35 0 4.68 0 5.22 0 5.55 0 5.58 0 5.76 0 40"/><line x1="899.5" y1="383.8" x2="934.93" y2="383.8" stroke-dasharray="0 3.30 0 3.37 0 3.76 0 4.63 0 4.58 0 5.10 0 5.02 0 5.62 0 40"/><line x1="899.5" y1="386.0" x2="939.91" y2="386.0" stroke-dasharray="0 3.27 0 3.40 0 3.73 0 4.26 0 4.65 0 4.79 0 5.05 0 5.39 0 5.78 0 40"/><line x1="899.8" y1="388.2" x2="938.52" y2="388.2" stroke-dasharray="0 3.05 0 3.57 0 3.80 0 4.02 0 4.17 0 4.42 0 4.81 0 5.14 0 5.63 0 40"/><line x1="899.6" y1="390.4" x2="937.53" y2="390.4" stroke-dasharray="0 3.30 0 3.65 0 3.57 0 3.85 0 3.91 0 4.32 0 4.86 0 5.20 0 5.26 0 40"/><line x1="899.4" y1="392.6" x2="941.93" y2="392.6" stroke-dasharray="0 3.47 0 3.29 0 3.43 0 3.75 0 3.96 0 4.42 0 4.69 0 4.78 0 5.24 0 5.49 0 40"/><line x1="899.4" y1="394.8" x2="937.37" y2="394.8" stroke-dasharray="0 3.17 0 3.59 0 3.52 0 3.82 0 4.18 0 4.44 0 4.87 0 4.97 0 5.33 0 40"/><line x1="899.5" y1="397.0" x2="932.77" y2="397.0" stroke-dasharray="0 3.20 0 3.34 0 3.98 0 3.93 0 4.31 0 4.67 0 4.99 0 4.81 0 40"/><line x1="899.7" y1="399.2" x2="937.20" y2="399.2" stroke-dasharray="0 3.16 0 3.23 0 3.75 0 3.98 0 4.02 0 4.47 0 4.77 0 5.02 0 5.06 0 40"/><line x1="899.9" y1="401.4" x2="945.26" y2="401.4" stroke-dasharray="0 3.14 0 3.37 0 3.93 0 4.18 0 4.52 0 4.69 0 4.87 0 5.19 0 5.51 0 5.88 0 40"/><line x1="899.5" y1="403.6" x2="939.81" y2="403.6" stroke-dasharray="0 3.31 0 3.55 0 4.05 0 4.40 0 4.36 0 4.57 0 5.07 0 5.33 0 5.64 0 40"/><line x1="899.6" y1="405.8" x2="938.41" y2="405.8" stroke-dasharray="0 3.41 0 3.46 0 3.86 0 4.00 0 4.24 0 4.53 0 4.63 0 5.11 0 5.57 0 40"/><line x1="899.5" y1="408.0" x2="933.18" y2="408.0" stroke-dasharray="0 3.23 0 3.59 0 3.69 0 4.07 0 4.39 0 4.75 0 4.76 0 5.15 0 40"/><line x1="899.5" y1="410.2" x2="931.19" y2="410.2" stroke-dasharray="0 3.41 0 3.38 0 3.56 0 3.69 0 3.93 0 4.27 0 4.73 0 4.68 0 40"/><line x1="899.4" y1="412.4" x2="930.62" y2="412.4" stroke-dasharray="0 3.23 0 3.31 0 3.47 0 3.73 0 3.90 0 4.16 0 4.55 0 4.78 0 40"/><line x1="899.2" y1="414.6" x2="937.74" y2="414.6" stroke-dasharray="0 3.19 0 3.53 0 3.76 0 4.15 0 4.13 0 4.66 0 4.74 0 5.07 0 5.24 0 40"/><line x1="899.8" y1="416.8" x2="943.03" y2="416.8" stroke-dasharray="0 3.24 0 3.50 0 3.63 0 3.99 0 3.87 0 4.56 0 4.44 0 5.12 0 5.46 0 5.33 0 40"/><line x1="899.2" y1="419.0" x2="930.59" y2="419.0" stroke-dasharray="0 2.94 0 3.36 0 3.63 0 3.82 0 4.08 0 4.23 0 4.51 0 4.77 0 40"/><line x1="899.6" y1="421.2" x2="938.81" y2="421.2" stroke-dasharray="0 3.16 0 3.48 0 3.84 0 4.03 0 4.38 0 4.60 0 5.03 0 5.17 0 5.50 0 40"/><line x1="899.9" y1="423.4" x2="938.57" y2="423.4" stroke-dasharray="0 3.06 0 3.40 0 3.62 0 4.05 0 4.36 0 4.57 0 4.97 0 5.15 0 5.48 0 40"/><line x1="899.4" y1="425.6" x2="931.28" y2="425.6" stroke-dasharray="0 3.14 0 3.48 0 3.44 0 3.94 0 4.13 0 4.41 0 4.49 0 4.78 0 40"/><line x1="899.3" y1="427.8" x2="936.48" y2="427.8" stroke-dasharray="0 3.18 0 3.30 0 3.61 0 3.90 0 4.01 0 4.30 0 4.67 0 4.90 0 5.23 0 40"/><line x1="899.8" y1="430.0" x2="942.72" y2="430.0" stroke-dasharray="0 3.17 0 3.42 0 3.49 0 3.83 0 4.10 0 4.29 0 4.67 0 4.79 0 5.53 0 5.56 0 40"/><line x1="899.3" y1="432.2" x2="931.36" y2="432.2" stroke-dasharray="0 3.20 0 3.12 0 3.56 0 4.00 0 4.18 0 4.23 0 4.60 0 5.15 0 40"/><line x1="899.2" y1="434.4" x2="935.73" y2="434.4" stroke-dasharray="0 3.30 0 3.42 0 3.63 0 3.64 0 4.01 0 4.27 0 4.37 0 4.82 0 5.00 0 40"/><line x1="899.6" y1="436.6" x2="940.01" y2="436.6" stroke-dasharray="0 3.30 0 3.27 0 3.18 0 3.61 0 3.96 0 4.17 0 4.35 0 4.49 0 4.93 0 5.11 0 40"/><line x1="899.2" y1="438.8" x2="934.01" y2="438.8" stroke-dasharray="0 3.21 0 3.40 0 3.19 0 3.49 0 3.79 0 3.98 0 4.05 0 4.47 0 5.13 0 40"/><line x1="899.2" y1="445.4" x2="937.71" y2="445.4" stroke-dasharray="0 3.27 0 3.52 0 3.61 0 4.09 0 4.30 0 4.44 0 4.87 0 5.11 0 5.19 0 40"/><line x1="899.8" y1="447.6" x2="943.86" y2="447.6" stroke-dasharray="0 3.03 0 3.54 0 3.78 0 3.86 0 4.38 0 4.73 0 4.70 0 5.05 0 5.31 0 5.68 0 40"/><line x1="899.2" y1="449.8" x2="933.63" y2="449.8" stroke-dasharray="0 3.16 0 3.69 0 3.80 0 4.18 0 4.31 0 4.88 0 5.04 0 5.29 0 40"/><line x1="899.4" y1="452.0" x2="933.09" y2="452.0" stroke-dasharray="0 3.07 0 3.64 0 3.76 0 4.03 0 4.55 0 4.60 0 4.88 0 5.14 0 40"/><line x1="899.9" y1="454.2" x2="941.02" y2="454.2" stroke-dasharray="0 3.18 0 3.51 0 4.02 0 4.36 0 4.45 0 5.06 0 5.14 0 5.56 0 5.75 0 40"/><line x1="899.5" y1="456.4" x2="933.80" y2="456.4" stroke-dasharray="0 3.20 0 3.56 0 3.80 0 4.06 0 4.56 0 4.71 0 5.05 0 5.32 0 40"/><line x1="899.6" y1="463.0" x2="932.61" y2="463.0" stroke-dasharray="0 3.38 0 3.25 0 3.63 0 4.01 0 4.27 0 4.56 0 4.80 0 5.01 0 40"/><line x1="899.4" y1="465.2" x2="932.67" y2="465.2" stroke-dasharray="0 3.19 0 3.19 0 3.91 0 4.17 0 4.38 0 4.59 0 4.73 0 5.02 0 40"/><line x1="899.2" y1="467.4" x2="945.03" y2="467.4" stroke-dasharray="0 3.18 0 3.57 0 3.68 0 4.28 0 4.52 0 4.87 0 5.05 0 5.20 0 5.66 0 5.74 0 40"/></g>
<g stroke="#c00000" stroke-width="1.59" stroke-linecap="round"><line x1="899.6" y1="47.2" x2="944.47" y2="47.2" stroke-dasharray="0 3.06 0 3.73 0 3.64 0 4.21 0 4.46 0 4.55 0 5.05 0 5.11 0 5.39 0 5.64 0 40"/><line x1="899.4" y1="49.4" x2="939.80" y2="49.4" stroke-dasharray="0 3.10 0 3.62 0 4.06 0 4.22 0 4.38 0 4.75 0 5.22 0 5.44 0 5.59 0 40"/><line x1="899.8" y1="51.6" x2="935.15" y2="51.6" stroke-dasharray="0 3.25 0 3.55 0 3.85 0 4.25 0 4.40 0 5.14 0 5.16 0 5.73 0 40"/><line x1="899.9" y1="56.0" x2="942.16" y2="56.0" stroke-dasharray="0 3.07 0 3.69 0 4.27 0 4.41 0 4.94 0 4.93 0 5.58 0 5.50 0 5.82 0 40"/><line x1="899.7" y1="58.2" x2="934.49" y2="58.2" stroke-dasharray="0 3.27 0 3.40 0 3.91 0 4.25 0 4.48 0 4.87 0 4.96 0 5.55 0 40"/><line x1="900.2" y1="60.4" x2="940.39" y2="60.4" stroke-dasharray="0 3.25 0 3.74 0 3.89 0 3.99 0 4.49 0 4.68 0 5.10 0 5.33 0 5.69 0 40"/><line x1="899.2" y1="62.6" x2="932.60" y2="62.6" stroke-dasharray="0 3.28 0 3.26 0 3.68 0 4.20 0 4.14 0 4.65 0 5.00 0 5.12 0 40"/><line x1="899.6" y1="64.8" x2="939.05" y2="64.8" stroke-dasharray="0 3.16 0 3.50 0 3.92 0 4.05 0 4.43 0 4.62 0 4.70 0 5.30 0 5.75 0 40"/><line x1="899.2" y1="67.0" x2="938.79" y2="67.0" stroke-dasharray="0 3.11 0 3.51 0 3.92 0 4.35 0 4.46 0 4.53 0 4.75 0 5.36 0 5.52 0 40"/><line x1="899.6" y1="69.2" x2="943.86" y2="69.2" stroke-dasharray="0 3.35 0 3.46 0 3.56 0 4.10 0 4.31 0 4.52 0 4.91 0 5.02 0 5.51 0 5.50 0 40"/><line x1="899.7" y1="71.4" x2="943.06" y2="71.4" stroke-dasharray="0 3.11 0 3.38 0 3.65 0 3.94 0 4.17 0 4.46 0 4.90 0 4.96 0 5.10 0 5.67 0 40"/><line x1="899.3" y1="73.6" x2="933.69" y2="73.6" stroke-dasharray="0 3.12 0 3.54 0 3.90 0 4.19 0 4.36 0 4.90 0 5.00 0 5.37 0 40"/><line x1="899.8" y1="80.2" x2="941.86" y2="80.2" stroke-dasharray="0 3.32 0 3.53 0 4.26 0 4.60 0 4.57 0 5.12 0 5.29 0 5.49 0 5.80 0 40"/><line x1="899.6" y1="82.4" x2="940.73" y2="82.4" stroke-dasharray="0 3.28 0 3.75 0 4.14 0 4.28 0 4.62 0 4.81 0 5.31 0 5.27 0 5.59 0 40"/><line x1="899.3" y1="84.6" x2="939.63" y2="84.6" stroke-dasharray="0 3.20 0 3.55 0 3.92 0 4.12 0 4.48 0 4.87 0 5.11 0 5.49 0 5.55 0 40"/><line x1="899.7" y1="86.8" x2="941.26" y2="86.8" stroke-dasharray="0 3.23 0 3.61 0 4.03 0 4.40 0 4.81 0 4.97 0 5.30 0 5.51 0 5.63 0 40"/><line x1="899.3" y1="89.0" x2="935.32" y2="89.0" stroke-dasharray="0 3.09 0 3.59 0 3.92 0 4.64 0 4.86 0 4.92 0 5.32 0 5.65 0 40"/><line x1="899.8" y1="91.2" x2="940.41" y2="91.2" stroke-dasharray="0 3.19 0 3.36 0 3.85 0 4.38 0 4.57 0 4.90 0 5.09 0 5.49 0 5.69 0 40"/><line x1="899.4" y1="93.4" x2="940.02" y2="93.4" stroke-dasharray="0 3.37 0 3.55 0 3.88 0 4.36 0 4.54 0 4.93 0 4.94 0 5.27 0 5.74 0 40"/><line x1="899.3" y1="95.6" x2="939.48" y2="95.6" stroke-dasharray="0 3.20 0 3.47 0 3.89 0 4.35 0 4.30 0 4.85 0 5.00 0 5.30 0 5.80 0 40"/><line x1="899.8" y1="97.8" x2="940.81" y2="97.8" stroke-dasharray="0 3.15 0 3.52 0 4.04 0 4.48 0 4.52 0 4.82 0 5.07 0 5.63 0 5.71 0 40"/><line x1="899.4" y1="104.4" x2="940.00" y2="104.4" stroke-dasharray="0 3.45 0 3.47 0 3.84 0 4.19 0 4.72 0 4.81 0 5.21 0 5.34 0 5.49 0 40"/><line x1="899.7" y1="106.6" x2="933.70" y2="106.6" stroke-dasharray="0 3.28 0 3.72 0 3.66 0 3.87 0 4.53 0 4.73 0 4.91 0 5.30 0 40"/><line x1="899.9" y1="108.8" x2="934.18" y2="108.8" stroke-dasharray="0 3.35 0 3.49 0 3.83 0 4.28 0 4.38 0 4.63 0 5.19 0 5.11 0 40"/><line x1="899.3" y1="111.0" x2="944.56" y2="111.0" stroke-dasharray="0 3.04 0 3.30 0 3.81 0 4.09 0 4.46 0 4.80 0 4.98 0 5.22 0 5.67 0 5.82 0 40"/><line x1="899.3" y1="113.2" x2="933.52" y2="113.2" stroke-dasharray="0 3.45 0 3.69 0 3.64 0 3.93 0 4.37 0 4.71 0 4.91 0 5.47 0 40"/><line x1="899.8" y1="115.4" x2="945.38" y2="115.4" stroke-dasharray="0 3.09 0 3.42 0 3.88 0 4.10 0 4.45 0 4.75 0 5.20 0 5.31 0 5.48 0 5.87 0 40"/><line x1="899.4" y1="117.6" x2="939.84" y2="117.6" stroke-dasharray="0 3.28 0 3.72 0 3.96 0 4.29 0 4.48 0 4.74 0 4.85 0 5.45 0 5.62 0 40"/><line x1="899.5" y1="119.8" x2="934.68" y2="119.8" stroke-dasharray="0 3.21 0 3.75 0 3.96 0 4.35 0 4.56 0 5.05 0 4.90 0 5.37 0 40"/><line x1="899.7" y1="122.0" x2="933.73" y2="122.0" stroke-dasharray="0 2.94 0 3.57 0 3.73 0 4.30 0 4.50 0 4.71 0 4.90 0 5.29 0 40"/><line x1="899.2" y1="124.2" x2="940.18" y2="124.2" stroke-dasharray="0 3.11 0 3.75 0 3.89 0 4.18 0 4.72 0 5.00 0 5.11 0 5.34 0 5.79 0 40"/><line x1="899.7" y1="126.4" x2="940.72" y2="126.4" stroke-dasharray="0 3.20 0 3.74 0 3.78 0 4.42 0 4.66 0 4.95 0 5.13 0 5.36 0 5.74 0 40"/><line x1="899.5" y1="133.0" x2="934.71" y2="133.0" stroke-dasharray="0 3.26 0 3.69 0 4.06 0 4.32 0 4.50 0 4.81 0 5.03 0 5.46 0 40"/><line x1="899.3" y1="135.2" x2="934.08" y2="135.2" stroke-dasharray="0 3.33 0 3.38 0 4.07 0 4.40 0 4.37 0 4.84 0 4.98 0 5.39 0 40"/><line x1="899.2" y1="137.4" x2="934.73" y2="137.4" stroke-dasharray="0 3.23 0 3.61 0 3.96 0 4.22 0 4.58 0 4.94 0 5.17 0 5.72 0 40"/><line x1="899.3" y1="139.6" x2="940.44" y2="139.6" stroke-dasharray="0 3.07 0 3.64 0 4.17 0 4.25 0 4.68 0 5.01 0 5.00 0 5.68 0 5.63 0 40"/><line x1="899.3" y1="141.8" x2="934.46" y2="141.8" stroke-dasharray="0 3.30 0 3.58 0 4.00 0 4.30 0 4.75 0 4.61 0 5.17 0 5.37 0 40"/><line x1="899.4" y1="148.4" x2="941.20" y2="148.4" stroke-dasharray="0 3.16 0 3.68 0 4.01 0 4.71 0 4.68 0 5.10 0 5.36 0 5.43 0 5.58 0 40"/><line x1="899.5" y1="150.6" x2="935.53" y2="150.6" stroke-dasharray="0 3.12 0 3.75 0 4.17 0 4.61 0 4.81 0 4.96 0 5.19 0 5.38 0 40"/><line x1="899.9" y1="152.8" x2="941.57" y2="152.8" stroke-dasharray="0 3.19 0 3.44 0 3.96 0 4.46 0 4.71 0 5.12 0 5.28 0 5.66 0 5.84 0 40"/><line x1="899.5" y1="155.0" x2="936.78" y2="155.0" stroke-dasharray="0 3.04 0 3.68 0 4.26 0 4.68 0 4.97 0 5.29 0 5.52 0 5.81 0 40"/><line x1="899.5" y1="157.2" x2="942.58" y2="157.2" stroke-dasharray="0 3.31 0 3.57 0 4.18 0 4.75 0 4.86 0 5.02 0 5.47 0 5.93 0 5.91 0 40"/><line x1="899.5" y1="159.4" x2="941.57" y2="159.4" stroke-dasharray="0 3.23 0 3.83 0 4.02 0 4.48 0 4.74 0 4.99 0 5.22 0 5.58 0 5.95 0 40"/><line x1="899.5" y1="166.0" x2="934.34" y2="166.0" stroke-dasharray="0 3.17 0 3.48 0 3.93 0 4.16 0 4.78 0 4.83 0 5.19 0 5.23 0 40"/><line x1="899.4" y1="168.2" x2="937.68" y2="168.2" stroke-dasharray="0 3.11 0 3.40 0 3.65 0 4.03 0 4.39 0 4.37 0 4.90 0 5.01 0 5.33 0 40"/><line x1="899.7" y1="170.4" x2="938.96" y2="170.4" stroke-dasharray="0 3.49 0 3.55 0 3.80 0 3.85 0 4.54 0 4.54 0 4.80 0 5.24 0 5.41 0 40"/><line x1="899.7" y1="174.8" x2="944.53" y2="174.8" stroke-dasharray="0 3.31 0 3.68 0 3.61 0 4.12 0 4.18 0 4.41 0 5.06 0 5.29 0 5.50 0 5.66 0 40"/><line x1="899.7" y1="177.0" x2="939.66" y2="177.0" stroke-dasharray="0 3.26 0 3.70 0 3.71 0 3.88 0 4.54 0 4.84 0 5.10 0 5.26 0 5.64 0 40"/><line x1="899.6" y1="183.6" x2="937.18" y2="183.6" stroke-dasharray="0 3.14 0 3.45 0 3.64 0 3.65 0 4.02 0 4.54 0 4.70 0 5.04 0 5.36 0 40"/><line x1="899.4" y1="185.8" x2="938.39" y2="185.8" stroke-dasharray="0 3.09 0 3.43 0 3.69 0 4.10 0 4.37 0 4.73 0 4.80 0 5.15 0 5.55 0 40"/><line x1="900.0" y1="188.0" x2="945.40" y2="188.0" stroke-dasharray="0 3.17 0 3.29 0 3.92 0 4.34 0 4.24 0 4.57 0 5.15 0 5.45 0 5.44 0 5.76 0 40"/><line x1="899.3" y1="190.2" x2="940.13" y2="190.2" stroke-dasharray="0 3.39 0 3.60 0 3.70 0 4.31 0 4.39 0 4.93 0 5.24 0 5.45 0 5.79 0 40"/><line x1="899.5" y1="192.4" x2="941.04" y2="192.4" stroke-dasharray="0 3.07 0 3.67 0 3.97 0 4.36 0 4.76 0 4.88 0 5.22 0 5.72 0 5.88 0 40"/><line x1="899.2" y1="194.6" x2="940.91" y2="194.6" stroke-dasharray="0 3.22 0 3.62 0 4.03 0 4.50 0 4.48 0 5.25 0 5.26 0 5.41 0 5.87 0 40"/><line x1="899.2" y1="196.8" x2="934.33" y2="196.8" stroke-dasharray="0 3.04 0 3.65 0 3.92 0 4.29 0 4.58 0 4.87 0 5.23 0 5.48 0 40"/><line x1="899.5" y1="199.0" x2="934.42" y2="199.0" stroke-dasharray="0 3.13 0 3.39 0 3.93 0 4.20 0 4.72 0 4.86 0 5.15 0 5.52 0 40"/><line x1="899.3" y1="201.2" x2="939.37" y2="201.2" stroke-dasharray="0 3.03 0 3.44 0 3.87 0 4.32 0 4.54 0 4.65 0 4.96 0 5.55 0 5.67 0 40"/><line x1="899.4" y1="203.4" x2="939.27" y2="203.4" stroke-dasharray="0 3.36 0 3.31 0 3.76 0 4.22 0 4.38 0 4.83 0 5.18 0 5.25 0 5.56 0 40"/><line x1="899.5" y1="205.6" x2="939.24" y2="205.6" stroke-dasharray="0 3.31 0 3.37 0 3.89 0 4.03 0 4.59 0 4.72 0 5.07 0 5.22 0 5.49 0 40"/><line x1="899.2" y1="207.8" x2="938.76" y2="207.8" stroke-dasharray="0 3.06 0 3.60 0 3.77 0 4.26 0 4.22 0 4.87 0 4.96 0 5.13 0 5.64 0 40"/><line x1="899.3" y1="210.0" x2="933.16" y2="210.0" stroke-dasharray="0 3.07 0 3.42 0 3.82 0 4.19 0 4.32 0 4.58 0 5.05 0 5.36 0 40"/><line x1="899.3" y1="212.2" x2="940.21" y2="212.2" stroke-dasharray="0 3.26 0 3.66 0 3.76 0 4.32 0 4.62 0 4.91 0 5.09 0 5.44 0 5.78 0 40"/><line x1="900.0" y1="221.0" x2="943.24" y2="221.0" stroke-dasharray="0 3.44 0 3.48 0 3.49 0 3.94 0 4.35 0 4.53 0 4.59 0 4.86 0 5.17 0 5.37 0 40"/><line x1="899.6" y1="223.2" x2="932.35" y2="223.2" stroke-dasharray="0 3.24 0 3.34 0 3.60 0 4.10 0 4.16 0 4.54 0 4.73 0 5.03 0 40"/><line x1="899.4" y1="227.6" x2="935.60" y2="227.6" stroke-dasharray="0 3.33 0 3.35 0 3.43 0 3.51 0 3.85 0 4.19 0 4.64 0 4.63 0 5.18 0 40"/><line x1="899.5" y1="229.8" x2="930.49" y2="229.8" stroke-dasharray="0 3.27 0 3.13 0 3.46 0 3.62 0 3.93 0 4.30 0 4.44 0 4.81 0 40"/><line x1="899.9" y1="236.4" x2="935.59" y2="236.4" stroke-dasharray="0 3.25 0 3.09 0 3.62 0 3.45 0 3.90 0 4.23 0 4.38 0 4.88 0 4.85 0 40"/><line x1="899.3" y1="238.6" x2="931.67" y2="238.6" stroke-dasharray="0 3.32 0 3.46 0 3.44 0 3.94 0 4.17 0 4.35 0 4.63 0 5.05 0 40"/><line x1="899.4" y1="240.8" x2="932.89" y2="240.8" stroke-dasharray="0 3.21 0 3.57 0 3.65 0 3.88 0 4.31 0 4.60 0 4.91 0 5.29 0 40"/><line x1="899.2" y1="243.0" x2="941.47" y2="243.0" stroke-dasharray="0 3.20 0 3.39 0 3.67 0 3.79 0 3.99 0 4.29 0 4.57 0 4.82 0 5.28 0 5.17 0 40"/><line x1="899.9" y1="247.4" x2="936.65" y2="247.4" stroke-dasharray="0 3.06 0 3.26 0 3.69 0 3.60 0 4.09 0 4.47 0 4.51 0 4.79 0 5.22 0 40"/><line x1="899.2" y1="254.0" x2="943.40" y2="254.0" stroke-dasharray="0 3.20 0 3.50 0 3.84 0 3.89 0 4.24 0 4.39 0 4.73 0 5.21 0 5.54 0 5.59 0 40"/><line x1="899.5" y1="256.2" x2="938.17" y2="256.2" stroke-dasharray="0 3.24 0 3.50 0 3.75 0 3.92 0 4.26 0 4.50 0 4.91 0 5.08 0 5.49 0 40"/><line x1="899.6" y1="260.6" x2="934.05" y2="260.6" stroke-dasharray="0 3.32 0 3.50 0 3.71 0 4.24 0 4.52 0 4.72 0 5.12 0 5.28 0 40"/><line x1="899.6" y1="262.8" x2="941.94" y2="262.8" stroke-dasharray="0 3.32 0 3.76 0 4.00 0 4.38 0 4.92 0 5.05 0 5.20 0 5.65 0 6.02 0 40"/><line x1="899.5" y1="265.0" x2="940.25" y2="265.0" stroke-dasharray="0 3.29 0 3.68 0 3.91 0 4.33 0 4.60 0 4.80 0 5.04 0 5.39 0 5.63 0 40"/><line x1="899.8" y1="267.2" x2="943.97" y2="267.2" stroke-dasharray="0 3.11 0 3.43 0 3.67 0 3.85 0 4.47 0 4.63 0 4.83 0 5.06 0 5.42 0 5.62 0 40"/><line x1="899.9" y1="269.4" x2="940.20" y2="269.4" stroke-dasharray="0 3.09 0 3.61 0 3.94 0 4.25 0 4.53 0 4.88 0 5.01 0 5.45 0 5.51 0 40"/><line x1="899.4" y1="271.6" x2="934.48" y2="271.6" stroke-dasharray="0 3.05 0 3.52 0 3.85 0 4.44 0 4.44 0 5.00 0 5.23 0 5.52 0 40"/><line x1="899.4" y1="273.8" x2="939.02" y2="273.8" stroke-dasharray="0 3.12 0 3.57 0 3.84 0 4.08 0 4.39 0 4.84 0 5.05 0 5.04 0 5.68 0 40"/><line x1="899.4" y1="276.0" x2="940.43" y2="276.0" stroke-dasharray="0 3.09 0 3.67 0 3.82 0 4.35 0 4.47 0 5.04 0 5.17 0 5.63 0 5.72 0 40"/><line x1="899.3" y1="278.2" x2="934.18" y2="278.2" stroke-dasharray="0 3.53 0 3.52 0 3.90 0 4.34 0 4.33 0 4.71 0 5.11 0 5.35 0 40"/><line x1="899.5" y1="280.4" x2="939.53" y2="280.4" stroke-dasharray="0 3.29 0 3.44 0 3.85 0 4.42 0 4.51 0 4.80 0 4.88 0 5.22 0 5.53 0 40"/><line x1="899.4" y1="287.0" x2="939.06" y2="287.0" stroke-dasharray="0 3.09 0 3.59 0 4.04 0 4.02 0 4.38 0 4.63 0 4.88 0 5.32 0 5.63 0 40"/><line x1="899.4" y1="289.2" x2="944.06" y2="289.2" stroke-dasharray="0 3.24 0 3.35 0 4.05 0 4.03 0 4.34 0 4.54 0 4.86 0 5.07 0 5.65 0 5.51 0 40"/><line x1="899.4" y1="291.4" x2="944.15" y2="291.4" stroke-dasharray="0 3.26 0 3.63 0 3.79 0 4.03 0 4.30 0 4.55 0 4.94 0 5.04 0 5.47 0 5.67 0 40"/><line x1="899.6" y1="293.6" x2="937.74" y2="293.6" stroke-dasharray="0 3.13 0 3.58 0 3.69 0 3.95 0 4.09 0 4.39 0 4.85 0 5.05 0 5.35 0 40"/><line x1="899.4" y1="295.8" x2="933.38" y2="295.8" stroke-dasharray="0 3.55 0 3.86 0 3.82 0 3.87 0 4.22 0 4.67 0 4.81 0 5.15 0 40"/><line x1="899.4" y1="298.0" x2="940.94" y2="298.0" stroke-dasharray="0 3.05 0 3.35 0 3.53 0 3.47 0 3.99 0 4.26 0 4.44 0 4.78 0 5.19 0 5.49 0 40"/><line x1="899.4" y1="300.2" x2="936.88" y2="300.2" stroke-dasharray="0 3.22 0 3.36 0 3.74 0 3.97 0 4.05 0 4.19 0 4.69 0 4.87 0 5.33 0 40"/><line x1="899.6" y1="302.4" x2="932.76" y2="302.4" stroke-dasharray="0 3.37 0 3.49 0 3.77 0 3.88 0 4.12 0 4.65 0 4.81 0 5.05 0 40"/><line x1="899.4" y1="309.0" x2="937.39" y2="309.0" stroke-dasharray="0 3.20 0 3.62 0 3.51 0 3.93 0 4.13 0 4.61 0 4.63 0 5.18 0 5.17 0 40"/><line x1="899.6" y1="311.2" x2="931.61" y2="311.2" stroke-dasharray="0 3.18 0 3.29 0 3.42 0 3.97 0 4.20 0 4.34 0 4.69 0 4.89 0 40"/><line x1="899.3" y1="313.4" x2="931.50" y2="313.4" stroke-dasharray="0 3.14 0 3.39 0 3.70 0 3.77 0 4.07 0 4.42 0 4.75 0 4.92 0 40"/><line x1="899.2" y1="315.6" x2="937.12" y2="315.6" stroke-dasharray="0 3.21 0 3.28 0 3.50 0 4.02 0 4.04 0 4.44 0 4.94 0 5.14 0 5.27 0 40"/><line x1="899.7" y1="317.8" x2="938.44" y2="317.8" stroke-dasharray="0 3.18 0 3.53 0 3.72 0 3.97 0 4.18 0 4.55 0 4.91 0 5.23 0 5.42 0 40"/><line x1="899.3" y1="320.0" x2="943.67" y2="320.0" stroke-dasharray="0 3.14 0 3.42 0 3.65 0 3.93 0 4.51 0 4.65 0 4.76 0 5.13 0 5.44 0 5.67 0 40"/><line x1="899.7" y1="322.2" x2="932.00" y2="322.2" stroke-dasharray="0 3.30 0 3.43 0 3.55 0 3.85 0 3.93 0 4.46 0 4.80 0 4.92 0 40"/><line x1="900.1" y1="324.4" x2="938.18" y2="324.4" stroke-dasharray="0 3.04 0 3.55 0 3.70 0 3.92 0 4.18 0 4.45 0 4.86 0 4.92 0 5.43 0 40"/><line x1="899.6" y1="326.6" x2="944.81" y2="326.6" stroke-dasharray="0 3.33 0 3.60 0 3.81 0 4.16 0 4.26 0 4.58 0 5.03 0 5.39 0 5.23 0 5.82 0 40"/><line x1="899.3" y1="328.8" x2="937.24" y2="328.8" stroke-dasharray="0 3.22 0 3.38 0 3.68 0 3.93 0 4.09 0 4.49 0 4.66 0 5.06 0 5.39 0 40"/><line x1="899.3" y1="333.2" x2="931.63" y2="333.2" stroke-dasharray="0 3.04 0 3.39 0 3.63 0 3.93 0 4.26 0 4.44 0 4.61 0 5.02 0 40"/><line x1="899.3" y1="335.4" x2="941.60" y2="335.4" stroke-dasharray="0 3.38 0 3.34 0 3.66 0 3.67 0 3.92 0 4.08 0 4.62 0 4.87 0 5.23 0 5.49 0 40"/><line x1="899.3" y1="342.0" x2="932.01" y2="342.0" stroke-dasharray="0 3.30 0 3.30 0 3.85 0 3.90 0 4.07 0 4.55 0 4.75 0 4.98 0 40"/><line x1="899.2" y1="344.2" x2="944.94" y2="344.2" stroke-dasharray="0 3.17 0 3.48 0 3.88 0 4.14 0 4.85 0 4.61 0 5.03 0 5.24 0 5.49 0 5.78 0 40"/><line x1="899.5" y1="346.4" x2="940.25" y2="346.4" stroke-dasharray="0 3.28 0 3.47 0 4.08 0 4.39 0 4.66 0 4.68 0 5.09 0 5.38 0 5.64 0 40"/><line x1="899.4" y1="348.6" x2="934.76" y2="348.6" stroke-dasharray="0 3.34 0 3.71 0 3.97 0 4.25 0 4.57 0 4.95 0 5.07 0 5.45 0 40"/><line x1="899.3" y1="350.8" x2="944.41" y2="350.8" stroke-dasharray="0 3.06 0 3.76 0 3.83 0 4.26 0 4.09 0 4.66 0 4.95 0 5.18 0 5.54 0 5.70 0 40"/><line x1="899.4" y1="353.0" x2="940.37" y2="353.0" stroke-dasharray="0 3.26 0 3.60 0 4.12 0 4.42 0 4.44 0 4.76 0 5.26 0 5.26 0 5.77 0 40"/><line x1="899.2" y1="359.6" x2="941.60" y2="359.6" stroke-dasharray="0 3.18 0 3.57 0 4.05 0 4.33 0 4.85 0 5.03 0 5.48 0 5.75 0 6.07 0 40"/><line x1="899.5" y1="364.0" x2="939.80" y2="364.0" stroke-dasharray="0 2.87 0 3.61 0 3.87 0 4.19 0 4.49 0 4.86 0 5.07 0 5.65 0 5.67 0 40"/><line x1="899.4" y1="366.2" x2="933.90" y2="366.2" stroke-dasharray="0 3.39 0 3.59 0 4.01 0 4.01 0 4.39 0 4.73 0 4.98 0 5.37 0 40"/><line x1="899.3" y1="368.4" x2="934.89" y2="368.4" stroke-dasharray="0 3.09 0 3.42 0 4.00 0 4.55 0 4.62 0 5.08 0 5.18 0 5.56 0 40"/><line x1="899.5" y1="370.6" x2="940.73" y2="370.6" stroke-dasharray="0 3.16 0 3.76 0 4.06 0 4.17 0 4.74 0 5.04 0 5.14 0 5.49 0 5.66 0 40"/><line x1="899.3" y1="372.8" x2="946.31" y2="372.8" stroke-dasharray="0 3.13 0 3.66 0 3.88 0 4.37 0 4.64 0 4.80 0 5.12 0 5.49 0 5.90 0 5.93 0 40"/><line x1="899.3" y1="375.0" x2="940.19" y2="375.0" stroke-dasharray="0 3.18 0 3.65 0 4.02 0 4.24 0 4.64 0 4.82 0 5.18 0 5.53 0 5.61 0 40"/><line x1="899.8" y1="377.2" x2="940.84" y2="377.2" stroke-dasharray="0 3.01 0 3.57 0 3.94 0 4.45 0 4.84 0 4.88 0 5.18 0 5.34 0 5.81 0 40"/><line x1="899.5" y1="379.4" x2="935.37" y2="379.4" stroke-dasharray="0 3.31 0 3.74 0 3.81 0 4.39 0 4.50 0 5.02 0 5.34 0 5.65 0 40"/><line x1="899.4" y1="381.6" x2="941.48" y2="381.6" stroke-dasharray="0 3.02 0 3.67 0 4.17 0 4.35 0 4.68 0 5.22 0 5.55 0 5.58 0 5.76 0 40"/><line x1="899.5" y1="383.8" x2="934.93" y2="383.8" stroke-dasharray="0 3.30 0 3.37 0 3.76 0 4.63 0 4.58 0 5.10 0 5.02 0 5.62 0 40"/><line x1="899.5" y1="386.0" x2="939.91" y2="386.0" stroke-dasharray="0 3.27 0 3.40 0 3.73 0 4.26 0 4.65 0 4.79 0 5.05 0 5.39 0 5.78 0 40"/><line x1="899.8" y1="388.2" x2="938.52" y2="388.2" stroke-dasharray="0 3.05 0 3.57 0 3.80 0 4.02 0 4.17 0 4.42 0 4.81 0 5.14 0 5.63 0 40"/><line x1="899.6" y1="390.4" x2="937.53" y2="390.4" stroke-dasharray="0 3.30 0 3.65 0 3.57 0 3.85 0 3.91 0 4.32 0 4.86 0 5.20 0 5.26 0 40"/><line x1="899.4" y1="392.6" x2="941.93" y2="392.6" stroke-dasharray="0 3.47 0 3.29 0 3.43 0 3.75 0 3.96 0 4.42 0 4.69 0 4.78 0 5.24 0 5.49 0 40"/><line x1="899.4" y1="394.8" x2="937.37" y2="394.8" stroke-dasharray="0 3.17 0 3.59 0 3.52 0 3.82 0 4.18 0 4.44 0 4.87 0 4.97 0 5.33 0 40"/><line x1="899.5" y1="397.0" x2="932.77" y2="397.0" stroke-dasharray="0 3.20 0 3.34 0 3.98 0 3.93 0 4.31 0 4.67 0 4.99 0 4.81 0 40"/><line x1="899.7" y1="399.2" x2="937.20" y2="399.2" stroke-dasharray="0 3.16 0 3.23 0 3.75 0 3.98 0 4.02 0 4.47 0 4.77 0 5.02 0 5.06 0 40"/><line x1="899.9" y1="401.4" x2="945.26" y2="401.4" stroke-dasharray="0 3.14 0 3.37 0 3.93 0 4.18 0 4.52 0 4.69 0 4.87 0 5.19 0 5.51 0 5.88 0 40"/><line x1="899.5" y1="403.6" x2="939.81" y2="403.6" stroke-dasharray="0 3.31 0 3.55 0 4.05 0 4.40 0 4.36 0 4.57 0 5.07 0 5.33 0 5.64 0 40"/><line x1="899.6" y1="405.8" x2="938.41" y2="405.8" stroke-dasharray="0 3.41 0 3.46 0 3.86 0 4.00 0 4.24 0 4.53 0 4.63 0 5.11 0 5.57 0 40"/><line x1="899.5" y1="408.0" x2="933.18" y2="408.0" stroke-dasharray="0 3.23 0 3.59 0 3.69 0 4.07 0 4.39 0 4.75 0 4.76 0 5.15 0 40"/><line x1="899.5" y1="410.2" x2="931.19" y2="410.2" stroke-dasharray="0 3.41 0 3.38 0 3.56 0 3.69 0 3.93 0 4.27 0 4.73 0 4.68 0 40"/><line x1="899.4" y1="412.4" x2="930.62" y2="412.4" stroke-dasharray="0 3.23 0 3.31 0 3.47 0 3.73 0 3.90 0 4.16 0 4.55 0 4.78 0 40"/><line x1="899.2" y1="414.6" x2="937.74" y2="414.6" stroke-dasharray="0 3.19 0 3.53 0 3.76 0 4.15 0 4.13 0 4.66 0 4.74 0 5.07 0 5.24 0 40"/><line x1="899.8" y1="416.8" x2="943.03" y2="416.8" stroke-dasharray="0 3.24 0 3.50 0 3.63 0 3.99 0 3.87 0 4.56 0 4.44 0 5.12 0 5.46 0 5.33 0 40"/><line x1="899.2" y1="419.0" x2="930.59" y2="419.0" stroke-dasharray="0 2.94 0 3.36 0 3.63 0 3.82 0 4.08 0 4.23 0 4.51 0 4.77 0 40"/><line x1="899.6" y1="421.2" x2="938.81" y2="421.2" stroke-dasharray="0 3.16 0 3.48 0 3.84 0 4.03 0 4.38 0 4.60 0 5.03 0 5.17 0 5.50 0 40"/><line x1="899.9" y1="423.4" x2="938.57" y2="423.4" stroke-dasharray="0 3.06 0 3.40 0 3.62 0 4.05 0 4.36 0 4.57 0 4.97 0 5.15 0 5.48 0 40"/><line x1="899.4" y1="425.6" x2="931.28" y2="425.6" stroke-dasharray="0 3.14 0 3.48 0 3.44 0 3.94 0 4.13 0 4.41 0 4.49 0 4.78 0 40"/><line x1="899.3" y1="427.8" x2="936.48" y2="427.8" stroke-dasharray="0 3.18 0 3.30 0 3.61 0 3.90 0 4.01 0 4.30 0 4.67 0 4.90 0 5.23 0 40"/><line x1="899.8" y1="430.0" x2="942.72" y2="430.0" stroke-dasharray="0 3.17 0 3.42 0 3.49 0 3.83 0 4.10 0 4.29 0 4.67 0 4.79 0 5.53 0 5.56 0 40"/><line x1="899.3" y1="432.2" x2="931.36" y2="432.2" stroke-dasharray="0 3.20 0 3.12 0 3.56 0 4.00 0 4.18 0 4.23 0 4.60 0 5.15 0 40"/><line x1="899.2" y1="434.4" x2="935.73" y2="434.4" stroke-dasharray="0 3.30 0 3.42 0 3.63 0 3.64 0 4.01 0 4.27 0 4.37 0 4.82 0 5.00 0 40"/><line x1="899.6" y1="436.6" x2="940.01" y2="436.6" stroke-dasharray="0 3.30 0 3.27 0 3.18 0 3.61 0 3.96 0 4.17 0 4.35 0 4.49 0 4.93 0 5.11 0 40"/><line x1="899.2" y1="438.8" x2="934.01" y2="438.8" stroke-dasharray="0 3.21 0 3.40 0 3.19 0 3.49 0 3.79 0 3.98 0 4.05 0 4.47 0 5.13 0 40"/><line x1="899.2" y1="445.4" x2="937.71" y2="445.4" stroke-dasharray="0 3.27 0 3.52 0 3.61 0 4.09 0 4.30 0 4.44 0 4.87 0 5.11 0 5.19 0 40"/><line x1="899.8" y1="447.6" x2="943.86" y2="447.6" stroke-dasharray="0 3.03 0 3.54 0 3.78 0 3.86 0 4.38 0 4.73 0 4.70 0 5.05 0 5.31 0 5.68 0 40"/><line x1="899.2" y1="449.8" x2="933.63" y2="449.8" stroke-dasharray="0 3.16 0 3.69 0 3.80 0 4.18 0 4.31 0 4.88 0 5.04 0 5.29 0 40"/><line x1="899.4" y1="452.0" x2="933.09" y2="452.0" stroke-dasharray="0 3.07 0 3.64 0 3.76 0 4.03 0 4.55 0 4.60 0 4.88 0 5.14 0 40"/><line x1="899.9" y1="454.2" x2="941.02" y2="454.2" stroke-dasharray="0 3.18 0 3.51 0 4.02 0 4.36 0 4.45 0 5.06 0 5.14 0 5.56 0 5.75 0 40"/><line x1="899.5" y1="456.4" x2="933.80" y2="456.4" stroke-dasharray="0 3.20 0 3.56 0 3.80 0 4.06 0 4.56 0 4.71 0 5.05 0 5.32 0 40"/><line x1="899.6" y1="463.0" x2="932.61" y2="463.0" stroke-dasharray="0 3.38 0 3.25 0 3.63 0 4.01 0 4.27 0 4.56 0 4.80 0 5.01 0 40"/><line x1="899.4" y1="465.2" x2="932.67" y2="465.2" stroke-dasharray="0 3.19 0 3.19 0 3.91 0 4.17 0 4.38 0 4.59 0 4.73 0 5.02 0 40"/><line x1="899.2" y1="467.4" x2="945.03" y2="467.4" stroke-dasharray="0 3.18 0 3.57 0 3.68 0 4.28 0 4.52 0 4.87 0 5.05 0 5.20 0 5.66 0 5.74 0 40"/></g>
<g stroke="#1010e0" stroke-width="2.8" stroke-linecap="round"><line x1="899.8" y1="53.8" x2="910.55" y2="53.8" stroke-dasharray="0 3.10 0 3.51 0 4.12 0 40"/><line x1="899.5" y1="75.8" x2="910.48" y2="75.8" stroke-dasharray="0 3.17 0 3.63 0 4.12 0 40"/><line x1="899.5" y1="78.0" x2="906.36" y2="78.0" stroke-dasharray="0 3.04 0 3.80 0 40"/><line x1="899.5" y1="100.0" x2="906.51" y2="100.0" stroke-dasharray="0 3.25 0 3.68 0 40"/><line x1="899.3" y1="102.2" x2="906.41" y2="102.2" stroke-dasharray="0 3.38 0 3.67 0 40"/><line x1="899.7" y1="128.6" x2="902.97" y2="128.6" stroke-dasharray="0 3.20 0 40"/><line x1="899.8" y1="130.8" x2="910.81" y2="130.8" stroke-dasharray="0 3.31 0 3.71 0 3.97 0 40"/><line x1="899.5" y1="144.0" x2="906.21" y2="144.0" stroke-dasharray="0 3.27 0 3.41 0 40"/><line x1="899.3" y1="146.2" x2="902.68" y2="146.2" stroke-dasharray="0 3.33 0 40"/><line x1="899.6" y1="161.6" x2="902.77" y2="161.6" stroke-dasharray="0 3.11 0 40"/><line x1="899.3" y1="163.8" x2="902.61" y2="163.8" stroke-dasharray="0 3.29 0 40"/><line x1="899.3" y1="172.6" x2="902.65" y2="172.6" stroke-dasharray="0 3.27 0 40"/><line x1="899.3" y1="179.2" x2="909.47" y2="179.2" stroke-dasharray="0 3.11 0 3.23 0 3.73 0 40"/><line x1="899.2" y1="181.4" x2="909.98" y2="181.4" stroke-dasharray="0 3.22 0 3.71 0 3.77 0 40"/><line x1="899.5" y1="214.4" x2="902.86" y2="214.4" stroke-dasharray="0 3.29 0 40"/><line x1="899.8" y1="216.6" x2="906.47" y2="216.6" stroke-dasharray="0 3.40 0 3.22 0 40"/><line x1="899.2" y1="218.8" x2="909.39" y2="218.8" stroke-dasharray="0 3.29 0 3.29 0 3.52 0 40"/><line x1="899.4" y1="225.4" x2="909.45" y2="225.4" stroke-dasharray="0 3.15 0 3.33 0 3.53 0 40"/><line x1="899.2" y1="232.0" x2="902.43" y2="232.0" stroke-dasharray="0 3.16 0 40"/><line x1="899.2" y1="234.2" x2="902.48" y2="234.2" stroke-dasharray="0 3.19 0 40"/><line x1="899.8" y1="245.2" x2="903.08" y2="245.2" stroke-dasharray="0 3.28 0 40"/><line x1="899.3" y1="249.6" x2="909.64" y2="249.6" stroke-dasharray="0 3.39 0 3.50 0 3.38 0 40"/><line x1="899.6" y1="251.8" x2="909.89" y2="251.8" stroke-dasharray="0 3.23 0 3.31 0 3.73 0 40"/><line x1="899.3" y1="258.4" x2="910.18" y2="258.4" stroke-dasharray="0 3.26 0 3.53 0 4.01 0 40"/><line x1="899.6" y1="282.6" x2="910.26" y2="282.6" stroke-dasharray="0 3.18 0 3.58 0 3.84 0 40"/><line x1="899.5" y1="284.8" x2="909.89" y2="284.8" stroke-dasharray="0 3.12 0 3.48 0 3.72 0 40"/><line x1="899.5" y1="304.6" x2="902.65" y2="304.6" stroke-dasharray="0 3.14 0 40"/><line x1="899.3" y1="306.8" x2="902.52" y2="306.8" stroke-dasharray="0 3.21 0 40"/><line x1="899.3" y1="331.0" x2="902.44" y2="331.0" stroke-dasharray="0 3.11 0 40"/><line x1="899.5" y1="337.6" x2="903.03" y2="337.6" stroke-dasharray="0 3.48 0 40"/><line x1="899.3" y1="339.8" x2="909.71" y2="339.8" stroke-dasharray="0 3.21 0 3.34 0 3.81 0 40"/><line x1="899.4" y1="355.2" x2="910.25" y2="355.2" stroke-dasharray="0 3.11 0 3.59 0 4.11 0 40"/><line x1="899.4" y1="357.4" x2="902.84" y2="357.4" stroke-dasharray="0 3.43 0 40"/><line x1="899.3" y1="361.8" x2="902.34" y2="361.8" stroke-dasharray="0 3.01 0 40"/><line x1="899.6" y1="441.0" x2="909.67" y2="441.0" stroke-dasharray="0 3.15 0 3.34 0 3.50 0 40"/><line x1="899.2" y1="443.2" x2="909.51" y2="443.2" stroke-dasharray="0 3.31 0 3.29 0 3.63 0 40"/><line x1="899.4" y1="458.6" x2="902.91" y2="458.6" stroke-dasharray="0 3.43 0 40"/><line x1="899.4" y1="460.8" x2="902.49" y2="460.8" stroke-dasharray="0 3.00 0 40"/><line x1="899.3" y1="469.6" x2="902.61" y2="469.6" stroke-dasharray="0 3.24 0 40"/></g>
<g stroke="#00009a" stroke-width="1.54" stroke-linecap="round"><line x1="899.8" y1="53.8" x2="910.55" y2="53.8" stroke-dasharray="0 3.10 0 3.51 0 4.12 0 40"/><line x1="899.5" y1="75.8" x2="910.48" y2="75.8" stroke-dasharray="0 3.17 0 3.63 0 4.12 0 40"/><line x1="899.5" y1="78.0" x2="906.36" y2="78.0" stroke-dasharray="0 3.04 0 3.80 0 40"/><line x1="899.5" y1="100.0" x2="906.51" y2="100.0" stroke-dasharray="0 3.25 0 3.68 0 40"/><line x1="899.3" y1="102.2" x2="906.41" y2="102.2" stroke-dasharray="0 3.38 0 3.67 0 40"/><line x1="899.7" y1="128.6" x2="902.97" y2="128.6" stroke-dasharray="0 3.20 0 40"/><line x1="899.8" y1="130.8" x2="910.81" y2="130.8" stroke-dasharray="0 3.31 0 3.71 0 3.97 0 40"/><line x1="899.5" y1="144.0" x2="906.21" y2="144.0" stroke-dasharray="0 3.27 0 3.41 0 40"/><line x1="899.3" y1="146.2" x2="902.68" y2="146.2" stroke-dasharray="0 3.33 0 40"/><line x1="899.6" y1="161.6" x2="902.77" y2="161.6" stroke-dasharray="0 3.11 0 40"/><line x1="899.3" y1="163.8" x2="902.61" y2="163.8" stroke-dasharray="0 3.29 0 40"/><line x1="899.3" y1="172.6" x2="902.65" y2="172.6" stroke-dasharray="0 3.27 0 40"/><line x1="899.3" y1="179.2" x2="909.47" y2="179.2" stroke-dasharray="0 3.11 0 3.23 0 3.73 0 40"/><line x1="899.2" y1="181.4" x2="909.98" y2="181.4" stroke-dasharray="0 3.22 0 3.71 0 3.77 0 40"/><line x1="899.5" y1="214.4" x2="902.86" y2="214.4" stroke-dasharray="0 3.29 0 40"/><line x1="899.8" y1="216.6" x2="906.47" y2="216.6" stroke-dasharray="0 3.40 0 3.22 0 40"/><line x1="899.2" y1="218.8" x2="909.39" y2="218.8" stroke-dasharray="0 3.29 0 3.29 0 3.52 0 40"/><line x1="899.4" y1="225.4" x2="909.45" y2="225.4" stroke-dasharray="0 3.15 0 3.33 0 3.53 0 40"/><line x1="899.2" y1="232.0" x2="902.43" y2="232.0" stroke-dasharray="0 3.16 0 40"/><line x1="899.2" y1="234.2" x2="902.48" y2="234.2" stroke-dasharray="0 3.19 0 40"/><line x1="899.8" y1="245.2" x2="903.08" y2="245.2" stroke-dasharray="0 3.28 0 40"/><line x1="899.3" y1="249.6" x2="909.64" y2="249.6" stroke-dasharray="0 3.39 0 3.50 0 3.38 0 40"/><line x1="899.6" y1="251.8" x2="909.89" y2="251.8" stroke-dasharray="0 3.23 0 3.31 0 3.73 0 40"/><line x1="899.3" y1="258.4" x2="910.18" y2="258.4" stroke-dasharray="0 3.26 0 3.53 0 4.01 0 40"/><line x1="899.6" y1="282.6" x2="910.26" y2="282.6" stroke-dasharray="0 3.18 0 3.58 0 3.84 0 40"/><line x1="899.5" y1="284.8" x2="909.89" y2="284.8" stroke-dasharray="0 3.12 0 3.48 0 3.72 0 40"/><line x1="899.5" y1="304.6" x2="902.65" y2="304.6" stroke-dasharray="0 3.14 0 40"/><line x1="899.3" y1="306.8" x2="902.52" y2="306.8" stroke-dasharray="0 3.21 0 40"/><line x1="899.3" y1="331.0" x2="902.44" y2="331.0" stroke-dasharray="0 3.11 0 40"/><line x1="899.5" y1="337.6" x2="903.03" y2="337.6" stroke-dasharray="0 3.48 0 40"/><line x1="899.3" y1="339.8" x2="909.71" y2="339.8" stroke-dasharray="0 3.21 0 3.34 0 3.81 0 40"/><line x1="899.4" y1="355.2" x2="910.25" y2="355.2" stroke-dasharray="0 3.11 0 3.59 0 4.11 0 40"/><line x1="899.4" y1="357.4" x2="902.84" y2="357.4" stroke-dasharray="0 3.43 0 40"/><line x1="899.3" y1="361.8" x2="902.34" y2="361.8" stroke-dasharray="0 3.01 0 40"/><line x1="899.6" y1="441.0" x2="909.67" y2="441.0" stroke-dasharray="0 3.15 0 3.34 0 3.50 0 40"/><line x1="899.2" y1="443.2" x2="909.51" y2="443.2" stroke-dasharray="0 3.31 0 3.29 0 3.63 0 40"/><line x1="899.4" y1="458.6" x2="902.91" y2="458.6" stroke-dasharray="0 3.43 0 40"/><line x1="899.4" y1="460.8" x2="902.49" y2="460.8" stroke-dasharray="0 3.00 0 40"/><line x1="899.3" y1="469.6" x2="902.61" y2="469.6" stroke-dasharray="0 3.24 0 40"/></g>
<line x1="641.6" y1="46.2" x2="641.6" y2="472.5" stroke="#000" stroke-width="2"/>
<line x1="896.6" y1="46.2" x2="896.6" y2="472.5" stroke="#000" stroke-width="2"/>
<rect x="705.3" y="46.2" width="16.4" height="425" fill="#dcdcdc"/>
<rect x="960.4" y="45.5" width="16.4" height="426" fill="#dcdcdc"/>
<rect x="705.3" y="146.4" width="16.4" height="7.7" fill="#000"/>
<rect x="705.3" y="159.2" width="16.4" height="4.6" fill="#000"/>
<rect x="705.3" y="221" width="16.4" height="4.3" fill="#000"/>
<rect x="705.3" y="243.8" width="16.4" height="4.2" fill="#000"/>
<rect x="705.3" y="269.5" width="16.4" height="10.7" fill="#000"/>
<rect x="960.4" y="52" width="16.4" height="4.0" fill="#000"/>
<rect x="960.4" y="75" width="16.4" height="4.0" fill="#000"/>
<rect x="960.4" y="100" width="16.4" height="4.0" fill="#000"/>
<rect x="960.4" y="128" width="16.4" height="4.0" fill="#000"/>
<rect x="960.4" y="143" width="16.4" height="4.0" fill="#000"/>
<rect x="960.4" y="160.5" width="16.4" height="4.0" fill="#000"/>
<rect x="960.4" y="170.5" width="16.4" height="4.0" fill="#000"/>
<rect x="960.4" y="178" width="16.4" height="4.0" fill="#000"/>
<rect x="960.4" y="213.5" width="16.4" height="6.5" fill="#000"/>
<rect x="960.4" y="223.8" width="16.4" height="3.2" fill="#000"/>
<rect x="960.4" y="231.3" width="16.4" height="3.4" fill="#000"/>
<rect x="960.4" y="244" width="16.4" height="3.0" fill="#000"/>
<rect x="960.4" y="249" width="16.4" height="3.0" fill="#000"/>
<rect x="960.4" y="256.6" width="16.4" height="3.2" fill="#000"/>
<rect x="960.4" y="281.7" width="16.4" height="3.5" fill="#000"/>
<rect x="960.4" y="304.2" width="16.4" height="3.6" fill="#000"/>
<rect x="960.4" y="329.7" width="16.4" height="3.1" fill="#000"/>
<rect x="960.4" y="337" width="16.4" height="3.5" fill="#000"/>
<rect x="960.4" y="355" width="16.4" height="3.0" fill="#000"/>
<rect x="960.4" y="360" width="16.4" height="3.2" fill="#000"/>
<rect x="960.4" y="440" width="16.4" height="4.0" fill="#000"/>
<rect x="960.4" y="458" width="16.4" height="3.7" fill="#000"/>
<rect x="960.4" y="468" width="16.4" height="3.3" fill="#000"/>
<circle cx="548.5" cy="187.6" r="1.3" fill="#ee0000"/>
<circle cx="816" cy="86" r="1.3" fill="#ee0000"/>
<circle cx="807.5" cy="146" r="1.3" fill="#ee0000"/>
<circle cx="816" cy="148" r="1.3" fill="#ee0000"/>
<circle cx="810" cy="239" r="1.3" fill="#ee0000"/>
<circle cx="816" cy="258" r="1.3" fill="#ee0000"/>
<circle cx="808" cy="355" r="1.3" fill="#0000dd"/>
<circle cx="816" cy="355" r="1.3" fill="#ee0000"/>
<circle cx="829" cy="427.5" r="1.3" fill="#ee0000"/>
<circle cx="836" cy="427.5" r="1.3" fill="#ee0000"/>
<circle cx="843" cy="427.5" r="1.3" fill="#ee0000"/>
<circle cx="853" cy="426.5" r="1.3" fill="#ee0000"/>
<circle cx="802" cy="450.5" r="1.3" fill="#ee0000"/>
<circle cx="807" cy="451" r="1.3" fill="#ee0000"/>
<circle cx="816" cy="452" r="1.3" fill="#ee0000"/>
<circle cx="685" cy="299" r="1.3" fill="#ee0000"/>
<circle cx="693" cy="261" r="1.3" fill="#0000dd"/>
<circle cx="920" cy="167" r="1.3" fill="#0000dd"/>
<circle cx="922" cy="372" r="1.3" fill="#0000dd"/>
<circle cx="928" cy="372" r="1.3" fill="#0000dd"/>
<text x="571.2" y="497.7" font-size="24.5" text-anchor="start" fill="#000" font-weight="normal" >S</text>
<text x="611.4" y="497.7" font-size="24.5" text-anchor="start" fill="#000" font-weight="normal" >D</text>
<text x="659.9" y="497.7" font-size="24.5" text-anchor="start" fill="#000" font-weight="normal" >R</text>
<text x="824.7" y="496.6" font-size="24.5" text-anchor="start" fill="#000" font-weight="normal" >S</text>
<text x="868.6" y="496.6" font-size="24.5" text-anchor="start" fill="#000" font-weight="normal" >D</text>
<text x="913.5" y="496.6" font-size="24.5" text-anchor="start" fill="#000" font-weight="normal" >R</text>
<text x="0" y="0" font-size="24.5" text-anchor="middle" fill="#000" font-weight="normal" transform="translate(538.4 251) rotate(-90)">Trials</text>
<rect x="951.4" y="492.3" width="32.8" height="4.1" fill="#000"/>
<text x="950" y="521.5" font-size="24.5" text-anchor="start" fill="#000" font-weight="normal" >1 s</text>
<g transform="translate(0,0)"><path d="M40,699 C41,689 58,684 77,683.5 C77,678 80,673 93,670.5 C115,666 140,663 165,661.4 C180,661 188,664 194,669.6 C200,671 205,673 210,673.3 C214,673.5 218,672.5 221,672.2 C232,670 245,674 254,682 C263,690 267,700 266.5,711 C266,720 260,727 252,730.6 L256.3,732.1 C259,734 261,738 262.4,751.4 L266,781.8 L243.1,775.8 L242.3,759.5 C238,758 234,757.5 230.9,756.5 C220,753 212,750 205.5,748.3 C198,746 193,744 190.3,742.3 C186,740 184,738 183.8,736 C183.5,733 183.6,731.5 183.5,731 C180,735 178,739 176,740.5 C165,743 155,743.5 145.8,742.6 C142,742 140,741 138.5,739.5 C128,737.5 117,736 108,733.5 C100,731.5 94,729.5 90.3,727.2 C89,726 88.5,725.3 87.5,725.6 C84,727 81,728 76.5,727.5 C68,726 60,720 53,714 C47,709 41,705 40,699 Z" fill="#f7f7f2" stroke="none"/><g fill="none" stroke="#bdbdbd" stroke-width="2" stroke-linecap="round" stroke-linejoin="round"><path d="M97,684 C103,696 110,705 119,711 C132,719 148,725 165,726 C178,726.5 188,724 197,721" transform="translate(0,0)"/><path d="M97,684 C103,696 110,705 119,711 C132,719 148,725 165,726 C178,726.5 188,724 197,721" transform="translate(2,-1.5)"/><path d="M97,684 C103,696 110,705 119,711 C132,719 148,725 165,726 C178,726.5 188,724 197,721" transform="translate(4,-2.5)"/><path d="M97,684 C103,696 110,705 119,711 C132,719 148,725 165,726 C178,726.5 188,724 197,721" transform="translate(-1,2)"/><path d="M97,684 C103,696 110,705 119,711 C132,719 148,725 165,726 C178,726.5 188,724 197,721" transform="translate(1,3.5)"/><path d="M110,680 C113,690 116,700 119,708 M114,680 C117,690 120,700 122,708 M117,681 C120,692 122,701 125,709" transform="translate(0,0)"/><path d="M165,725 C175,712 184,700 190,688 C192,684 193,682 194.5,680" transform="translate(0,0)"/><path d="M165,725 C175,712 184,700 190,688 C192,684 193,682 194.5,680" transform="translate(2.5,0)"/><path d="M165,725 C175,712 184,700 190,688 C192,684 193,682 194.5,680" transform="translate(5,0.5)"/><path d="M165,725 C175,712 184,700 190,688 C192,684 193,682 194.5,680" transform="translate(-2,0)"/><path d="M165,725 C175,712 184,700 190,688 C192,684 193,682 194.5,680" transform="translate(1.2,1)"/><path d="M184,726 C192,723 200,720 208,716 L212,712 M208,716 L214,716" transform="translate(0,0)"/><path d="M184,726 C192,723 200,720 208,716 L212,712 M208,716 L214,716" transform="translate(0,-1.5)"/><path d="M184,730 C198,735 212,740 226,745 C240,749 250,751.5 259,752.5 C261,760 261.5,768 262,777" transform="translate(0,0)"/><path d="M184,730 C198,735 212,740 226,745 C240,749 250,751.5 259,752.5 C261,760 261.5,768 262,777" transform="translate(0,2)"/><path d="M184,730 C198,735 212,740 226,745 C240,749 250,751.5 259,752.5 C261,760 261.5,768 262,777" transform="translate(0,-2)"/><path d="M184,730 C198,735 212,740 226,745 C240,749 250,751.5 259,752.5 C261,760 261.5,768 262,777" transform="translate(1,3.5)"/><path d="M113,711 L118,721 M110,716 L121,714 M114,721 L121,719 M116,712 L112,719" transform="translate(0,0)"/><path d="M222,741 C227,737 233,737 237,740 M229,739 C234,735 241,736 246,738 M238,742 C242,738 247,739 249,743 M231,744 L239,737 M224,744 C231,742 238,743 245,745" transform="translate(0,0)"/><path d="M222,741 C227,737 233,737 237,740 M229,739 C234,735 241,736 246,738 M238,742 C242,738 247,739 249,743 M231,744 L239,737 M224,744 C231,742 238,743 245,745" transform="translate(0.8,0.8)"/></g><path d="M40,699 C41,689 58,684 77,683.5 C77,678 80,673 93,670.5 C115,666 140,663 165,661.4 C180,661 188,664 194,669.6 C200,671 205,673 210,673.3 C214,673.5 218,672.5 221,672.2 C232,670 245,674 254,682 C263,690 267,700 266.5,711 C266,720 260,727 252,730.6 L256.3,732.1 C259,734 261,738 262.4,751.4 L266,781.8 L243.1,775.8 L242.3,759.5 C238,758 234,757.5 230.9,756.5 C220,753 212,750 205.5,748.3 C198,746 193,744 190.3,742.3 C186,740 184,738 183.8,736 C183.5,733 183.6,731.5 183.5,731 C180,735 178,739 176,740.5 C165,743 155,743.5 145.8,742.6 C142,742 140,741 138.5,739.5 C128,737.5 117,736 108,733.5 C100,731.5 94,729.5 90.3,727.2 C89,726 88.5,725.3 87.5,725.6 C84,727 81,728 76.5,727.5 C68,726 60,720 53,714 C47,709 41,705 40,699 Z" fill="none" stroke="#000" stroke-width="1.8" stroke-linejoin="round"/><path d="M221,672.2 C224,676 224,680 222.8,682.3 C218,687 214,691 213,695 C212,700 214,705 220.8,710.8 C226,715 232,719 235,720.9 C242,725 247,728 252,730.6" fill="none" stroke="#000" stroke-width="1.5"/><g fill="none" stroke="#000" stroke-width="1.3" stroke-linecap="round"><path d="M217.7,691.5 C220,695 222,698 224.8,701.6"/><path d="M225.5,682.5 C229,688 232,693 233,698.6"/><path d="M240.5,678.3 C243,685 243,692 240.8,698.6"/><path d="M252.2,697.6 C255,695.5 259,696 262,697.6"/><path d="M250,704.5 C254,708 259,709.5 264.5,708.7"/><path d="M222.8,707.7 C228,710 235,715 239,720 M240,720.5 C242,716 242,713 241,710.5"/><path d="M252.5,686 C253.5,688 253.5,690 253,691"/></g><path d="M77,681 C79,688 84,697 90.3,702" fill="none" stroke="#000" stroke-width="1.5"/><g transform="translate(0,0)"><path d="M28.4,613 H36.6 M60.1,613 H84.5 V620" fill="none" stroke="#000" stroke-width="1.5"/><path d="M36.6,613 L60.1,604.6 L60.1,621.4 Z" fill="#fff" stroke="#000" stroke-width="1.5"/><g transform="translate(86.3,619) rotate(-14.3)"><rect x="-2.6" y="0" width="5.2" height="72" fill="#fff" stroke="#000" stroke-width="1.3"/><line x1="0" y1="2" x2="0" y2="70" stroke="#000" stroke-width="1"/><line x1="0" y1="42" x2="0" y2="72" stroke="#000" stroke-width="5" stroke-dasharray="1 1"/><line x1="0" y1="1" x2="0" y2="19" stroke="#000" stroke-width="5" stroke-dasharray="1 1.2"/><path d="M-2.6,72 L0,80 L2.6,72 Z" fill="#000"/></g></g></g>
<path d="M177.9,655.8 L189,655.8 L178.9,669.2 L181.6,670 L175,678.9 L177.5,679.6 L162.5,695.3 L169.2,681.3 L165.9,680.5 L170.9,672.6 L168,672.1 Z" transform="translate(0,0)" fill="#5cc8f2" stroke="#000" stroke-width="1.4" stroke-linejoin="miter"/>
<path d="M177.9,655.8 L189,655.8 L178.9,669.2 L181.6,670 L175,678.9 L177.5,679.6 L162.5,695.3 L169.2,681.3 L165.9,680.5 L170.9,672.6 L168,672.1 Z" transform="translate(10.5,5.2)" fill="#5cc8f2" stroke="#000" stroke-width="1.4" stroke-linejoin="miter"/>
<g fill="none" stroke="#1aa61a" stroke-width="2.4" stroke-linecap="round" stroke-linejoin="round"></g>
<g transform="translate(0,0)" fill="none" stroke="#bdbdbd" stroke-width="2.0" stroke-linecap="round" stroke-linejoin="round"><path d="M230,739 C231,736 236,735 240,736 C242,738 241,741 237,742 C234,742.5 231,741 230,739 Z" fill="#bdbdbd"/><path d="M235,739 C228,737 220,738 211,740"/><path d="M232,741 C225,742 218,744 212,745"/><path d="M237,738 C244,736 250,738 255,742"/><path d="M236,740 L239,752"/><path d="M238,737 L242,731"/><path d="M233,737 L229,732"/><path d="M240,740 L249,746"/><path d="M231,740 L226,748"/></g>
<g transform="translate(0,0)" fill="none" stroke="#1aa61a" stroke-width="2.4" stroke-linecap="round" stroke-linejoin="round"><path d="M86,686.5 L96,685.5 L91.5,694 Z M106.5,678 L117.5,677 L112.5,683 Z" fill="#1aa61a"/><path d="M86.5,676 L88.5,688 M92,675.5 L93,688 M84.5,684.5 L96.5,683.5"/><path d="M107.5,671 L108.5,679 M113,670.5 L113.5,679 M105,679.5 L119,678.5"/></g>
<g transform="translate(0,0)" fill="none" stroke="#1aa61a" stroke-width="2.4" stroke-linecap="round" stroke-linejoin="round"><path d="M144,711 C146,706 152,704 157,704 C161,703 164,705 165,708 C163,712 158,714 152,714 C148,714 145,713 144,711 Z" fill="#1aa61a"/><path d="M145,711 L133,714"/><path d="M147,712 L141,719 L137,718"/><path d="M151,713 L149,720 L153,721"/><path d="M158,706 L172,704"/><path d="M157,705 L159,700 L162,702"/><path d="M162,710 L168,713 L171,710"/><path d="M154,704 L152,700"/></g>
<g transform="translate(0,215)"><path d="M40,699 C41,689 58,684 77,683.5 C77,678 80,673 93,670.5 C115,666 140,663 165,661.4 C180,661 188,664 194,669.6 C200,671 205,673 210,673.3 C214,673.5 218,672.5 221,672.2 C232,670 245,674 254,682 C263,690 267,700 266.5,711 C266,720 260,727 252,730.6 L256.3,732.1 C259,734 261,738 262.4,751.4 L266,781.8 L243.1,775.8 L242.3,759.5 C238,758 234,757.5 230.9,756.5 C220,753 212,750 205.5,748.3 C198,746 193,744 190.3,742.3 C186,740 184,738 183.8,736 C183.5,733 183.6,731.5 183.5,731 C180,735 178,739 176,740.5 C165,743 155,743.5 145.8,742.6 C142,742 140,741 138.5,739.5 C128,737.5 117,736 108,733.5 C100,731.5 94,729.5 90.3,727.2 C89,726 88.5,725.3 87.5,725.6 C84,727 81,728 76.5,727.5 C68,726 60,720 53,714 C47,709 41,705 40,699 Z" fill="#f7f7f2" stroke="none"/><g fill="none" stroke="#bdbdbd" stroke-width="2" stroke-linecap="round" stroke-linejoin="round"><path d="M97,684 C103,696 110,705 119,711 C132,719 148,725 165,726 C178,726.5 188,724 197,721" transform="translate(0,0)"/><path d="M97,684 C103,696 110,705 119,711 C132,719 148,725 165,726 C178,726.5 188,724 197,721" transform="translate(2,-1.5)"/><path d="M97,684 C103,696 110,705 119,711 C132,719 148,725 165,726 C178,726.5 188,724 197,721" transform="translate(4,-2.5)"/><path d="M97,684 C103,696 110,705 119,711 C132,719 148,725 165,726 C178,726.5 188,724 197,721" transform="translate(-1,2)"/><path d="M97,684 C103,696 110,705 119,711 C132,719 148,725 165,726 C178,726.5 188,724 197,721" transform="translate(1,3.5)"/><path d="M110,680 C113,690 116,700 119,708 M114,680 C117,690 120,700 122,708 M117,681 C120,692 122,701 125,709" transform="translate(0,0)"/><path d="M165,725 C175,712 184,700 190,688 C192,684 193,682 194.5,680" transform="translate(0,0)"/><path d="M165,725 C175,712 184,700 190,688 C192,684 193,682 194.5,680" transform="translate(2.5,0)"/><path d="M165,725 C175,712 184,700 190,688 C192,684 193,682 194.5,680" transform="translate(5,0.5)"/><path d="M165,725 C175,712 184,700 190,688 C192,684 193,682 194.5,680" transform="translate(-2,0)"/><path d="M165,725 C175,712 184,700 190,688 C192,684 193,682 194.5,680" transform="translate(1.2,1)"/><path d="M184,726 C192,723 200,720 208,716 L212,712 M208,716 L214,716" transform="translate(0,0)"/><path d="M184,726 C192,723 200,720 208,716 L212,712 M208,716 L214,716" transform="translate(0,-1.5)"/><path d="M184,730 C198,735 212,740 226,745 C240,749 250,751.5 259,752.5 C261,760 261.5,768 262,777" transform="translate(0,0)"/><path d="M184,730 C198,735 212,740 226,745 C240,749 250,751.5 259,752.5 C261,760 261.5,768 262,777" transform="translate(0,2)"/><path d="M184,730 C198,735 212,740 226,745 C240,749 250,751.5 259,752.5 C261,760 261.5,768 262,777" transform="translate(0,-2)"/><path d="M184,730 C198,735 212,740 226,745 C240,749 250,751.5 259,752.5 C261,760 261.5,768 262,777" transform="translate(1,3.5)"/><path d="M113,711 L118,721 M110,716 L121,714 M114,721 L121,719 M116,712 L112,719" transform="translate(0,0)"/><path d="M222,741 C227,737 233,737 237,740 M229,739 C234,735 241,736 246,738 M238,742 C242,738 247,739 249,743 M231,744 L239,737 M224,744 C231,742 238,743 245,745" transform="translate(0,0)"/><path d="M222,741 C227,737 233,737 237,740 M229,739 C234,735 241,736 246,738 M238,742 C242,738 247,739 249,743 M231,744 L239,737 M224,744 C231,742 238,743 245,745" transform="translate(0.8,0.8)"/></g><path d="M40,699 C41,689 58,684 77,683.5 C77,678 80,673 93,670.5 C115,666 140,663 165,661.4 C180,661 188,664 194,669.6 C200,671 205,673 210,673.3 C214,673.5 218,672.5 221,672.2 C232,670 245,674 254,682 C263,690 267,700 266.5,711 C266,720 260,727 252,730.6 L256.3,732.1 C259,734 261,738 262.4,751.4 L266,781.8 L243.1,775.8 L242.3,759.5 C238,758 234,757.5 230.9,756.5 C220,753 212,750 205.5,748.3 C198,746 193,744 190.3,742.3 C186,740 184,738 183.8,736 C183.5,733 183.6,731.5 183.5,731 C180,735 178,739 176,740.5 C165,743 155,743.5 145.8,742.6 C142,742 140,741 138.5,739.5 C128,737.5 117,736 108,733.5 C100,731.5 94,729.5 90.3,727.2 C89,726 88.5,725.3 87.5,725.6 C84,727 81,728 76.5,727.5 C68,726 60,720 53,714 C47,709 41,705 40,699 Z" fill="none" stroke="#000" stroke-width="1.8" stroke-linejoin="round"/><path d="M221,672.2 C224,676 224,680 222.8,682.3 C218,687 214,691 213,695 C212,700 214,705 220.8,710.8 C226,715 232,719 235,720.9 C242,725 247,728 252,730.6" fill="none" stroke="#000" stroke-width="1.5"/><g fill="none" stroke="#000" stroke-width="1.3" stroke-linecap="round"><path d="M217.7,691.5 C220,695 222,698 224.8,701.6"/><path d="M225.5,682.5 C229,688 232,693 233,698.6"/><path d="M240.5,678.3 C243,685 243,692 240.8,698.6"/><path d="M252.2,697.6 C255,695.5 259,696 262,697.6"/><path d="M250,704.5 C254,708 259,709.5 264.5,708.7"/><path d="M222.8,707.7 C228,710 235,715 239,720 M240,720.5 C242,716 242,713 241,710.5"/><path d="M252.5,686 C253.5,688 253.5,690 253,691"/></g><path d="M77,681 C79,688 84,697 90.3,702" fill="none" stroke="#000" stroke-width="1.5"/><g transform="translate(0,-2.2)"><path d="M28.4,613 H36.6 M60.1,613 H84.5 V620" fill="none" stroke="#000" stroke-width="1.5"/><path d="M36.6,613 L60.1,604.6 L60.1,621.4 Z" fill="#fff" stroke="#000" stroke-width="1.5"/><g transform="translate(86.3,619) rotate(-14.3)"><rect x="-2.6" y="0" width="5.2" height="72" fill="#fff" stroke="#000" stroke-width="1.3"/><line x1="0" y1="2" x2="0" y2="70" stroke="#000" stroke-width="1"/><line x1="0" y1="42" x2="0" y2="72" stroke="#000" stroke-width="5" stroke-dasharray="1 1"/><line x1="0" y1="1" x2="0" y2="19" stroke="#000" stroke-width="5" stroke-dasharray="1 1.2"/><path d="M-2.6,72 L0,80 L2.6,72 Z" fill="#000"/></g></g></g>
<path d="M177.9,655.8 L189,655.8 L178.9,669.2 L181.6,670 L175,678.9 L177.5,679.6 L162.5,695.3 L169.2,681.3 L165.9,680.5 L170.9,672.6 L168,672.1 Z" transform="translate(78,247)" fill="#5cc8f2" stroke="#000" stroke-width="1.4" stroke-linejoin="miter"/>
<path d="M177.9,655.8 L189,655.8 L178.9,669.2 L181.6,670 L175,678.9 L177.5,679.6 L162.5,695.3 L169.2,681.3 L165.9,680.5 L170.9,672.6 L168,672.1 Z" transform="translate(88.5,252.2)" fill="#5cc8f2" stroke="#000" stroke-width="1.4" stroke-linejoin="miter"/>
<g fill="none" stroke="#ee22ee" stroke-width="2.4" stroke-linecap="round" stroke-linejoin="round"></g>
<g transform="translate(0,215)" fill="none" stroke="#bdbdbd" stroke-width="2.2" stroke-linecap="round" stroke-linejoin="round"><path d="M144,711 C146,706 152,704 157,704 C161,703 164,705 165,708 C163,712 158,714 152,714 C148,714 145,713 144,711 Z" fill="#bdbdbd"/><path d="M145,711 L133,714"/><path d="M147,712 L141,719 L137,718"/><path d="M151,713 L149,720 L153,721"/><path d="M158,706 L172,704"/><path d="M157,705 L159,700 L162,702"/><path d="M162,710 L168,713 L171,710"/><path d="M154,704 L152,700"/></g>
<g transform="translate(0,215)" fill="none" stroke="#ee22ee" stroke-width="2.4" stroke-linecap="round" stroke-linejoin="round"><path d="M86,686.5 L96,685.5 L91.5,694 Z M106.5,678 L117.5,677 L112.5,683 Z" fill="#ee22ee"/><path d="M86.5,676 L88.5,688 M92,675.5 L93,688 M84.5,684.5 L96.5,683.5"/><path d="M107.5,671 L108.5,679 M113,670.5 L113.5,679 M105,679.5 L119,678.5"/></g>
<g transform="translate(0,215)" fill="none" stroke="#ee22ee" stroke-width="2.2" stroke-linecap="round" stroke-linejoin="round"><path d="M230,739 C231,736 236,735 240,736 C242,738 241,741 237,742 C234,742.5 231,741 230,739 Z" fill="#ee22ee"/><path d="M235,739 C228,737 220,738 211,740"/><path d="M232,741 C225,742 218,744 212,745"/><path d="M237,738 C244,736 250,738 255,742"/><path d="M236,740 L239,752"/><path d="M238,737 L242,731"/><path d="M233,737 L229,732"/><path d="M240,740 L249,746"/><path d="M231,740 L226,748"/></g>
<text x="146.2" y="632.1" font-size="26.5" text-anchor="start" fill="#1aa61a" font-weight="normal" >PT</text>
<text x="180" y="642" font-size="20.6" text-anchor="start" fill="#1aa61a" font-weight="normal" >upper</text>
<text x="146.2" y="851.4" font-size="26.5" text-anchor="start" fill="#ee22ee" font-weight="normal" >PT</text>
<text x="180" y="861" font-size="20.8" text-anchor="start" fill="#ee22ee" font-weight="normal" >lower</text>
<text x="433.7" y="581.8" font-size="24" text-anchor="start" fill="#000" font-weight="normal" >−Δ<tspan font-style="italic">t</tspan></text>
<text x="502.2" y="581.8" font-size="24" text-anchor="start" fill="#000" font-weight="normal" >+Δ<tspan font-style="italic">t</tspan></text>
<line x1="490.3" y1="588.7" x2="490.3" y2="966.5" stroke="#b4b4f2" stroke-width="3"/>
<line x1="453.7" y1="592" x2="453.7" y2="966.5" stroke="#000" stroke-width="2.3" stroke-dasharray="2.3 3.6"/>
<line x1="524.2" y1="592" x2="524.2" y2="966.5" stroke="#000" stroke-width="2.3" stroke-dasharray="2.3 3.6"/>
<g fill="none" stroke="#4e4e4e" stroke-width="1.4" stroke-linejoin="round"><path d="M369.2,629.8l1.20 -0.6 1.20 0.3 1.20 -0.2 1.20 -0.8 1.20 -0.8 1.20 -0.1 1.20 0.3 1.20 -1.0 1.20 -0.3 1.20 3.5 1.20 11.3 1.20 12.5 1.20 -5.7 1.20 -14.8 1.20 -6.9 1.20 -1.9 1.20 -0.7 1.20 0.6 1.20 2.1 1.20 1.3 1.20 0.4 1.20 0.6 1.20 0.4 1.20 -0.3 1.20 0.1 1.20 0.4 1.20 -0.5 1.20 -0.9 1.20 -0.6 1.20 -0.0 1.20 -0.3 1.20 -0.1 1.20 1.6 1.20 2.2 1.20 0.1 1.20 -1.1 1.20 0.0 1.20 -0.7 1.20 -2.3 1.20 -0.2 1.20 1.2 1.20 -0.4 1.20 -0.4 1.20 1.1 1.20 1.6 1.20 0.3 1.20 -0.6 1.20 0.0 1.20 -1.0 1.20 -1.4 1.20 0.3 1.20 0.1 1.20 1.1 1.20 1.4 1.20 -0.4 1.20 -0.5 1.20 0.6 1.20 0.7 1.20 -0.8 1.20 -1.9 1.20 0.0 1.20 1.2 1.20 0.5 1.20 0.5 1.20 0.1 1.20 -0.2 1.20 -0.0 1.20 -0.6 1.20 -0.5 1.20 0.3 1.20 0.6 1.20 1.3 1.20 -0.3 1.20 -1.5 1.20 -0.8 1.20 -0.4 1.20 1.4 1.20 1.5 1.20 -0.2 1.20 0.2 1.20 0.1 1.20 -0.4 1.20 -0.2 1.20 -0.6 1.20 -1.0 1.20 -1.1 1.20 0.1 1.20 1.2 1.20 0.3 1.20 -0.5 1.20 -0.4 1.20 -0.5 1.20 0.2 1.20 1.4 1.20 0.9 1.20 -0.9 1.20 -0.0 1.20 0.5 1.20 -0.5 1.20 0.1 1.20 -0.4 1.20 -1.0 1.20 0.5 1.20 0.9 1.20 0.1 1.20 0.3 1.20 -0.5 1.20 -0.8 1.20 1.4 1.20 1.5 1.20 -1.3 1.20 -1.3 1.20 0.3 1.20 -0.6 1.20 -0.5 1.20 0.5 1.20 0.6 1.20 1.4 1.20 0.7 1.20 -0.8 1.20 -1.3 1.20 -0.7 1.20 0.0 1.20 0.1 1.20 -0.4 1.20 -0.7 1.20 0.2 1.20 -0.9 1.20 -1.7 1.20 0.3 1.20 2.3 1.20 5.9 1.20 14.4 1.20 9.9 1.20 -11.9 1.20 -15.4 1.20 -6.0 1.20 -1.2 1.20 0.9 1.20 2.0 1.20 1.0 1.20 -0.1 1.20 1.1 1.20 1.2 1.20 -0.4 1.20 0.1 1.20 0.3 1.20 0.0 1.20 0.8 1.20 0.6 1.20 0.0 1.20 0.5 1.20 0.8 1.20 -1.0 1.20 -2.1 1.20 -0.8 1.20 0.0 1.20 -0.3 1.20 0.2 1.20 1.1 1.20 0.6 1.20 -0.5 1.20 -0.8 1.20 -0.3 1.20 0.1 1.20 1.1 1.20 0.9 1.20 -1.5 1.20 -1.3 1.20 1.2 1.20 0.4 1.20 -0.5 1.20 0.6 1.20 -0.7 1.20 -1.3 1.20 0.5 1.20 1.0 1.20 0.2 1.20 0.2 1.20 -0.9 1.20 -1.3 1.20 1.3 1.20 0.8 1.20 -1.4 1.20 -0.3 1.20 1.9 1.20 2.1 1.20 0.8 1.20 -1.0 1.20 -1.6 1.20 -0.4 1.20 0.2 1.20 0.3 1.20 -1.0 1.20 -0.9 1.20 0.2 1.20 0.7 1.20 3.1 1.20 0.8 1.20 -2.7 1.20 -1.0 1.20 -1.1 1.20 -4.6 1.20 3.4 1.20 8.7 1.20 0.7 1.20 -5.2 1.20 -1.1 1.20 -1.6 1.20 -0.4 1.20 0.9 1.20 0.7 1.20 1.0 1.20 0.6 1.20 -0.5 1.20 -0.6 1.20 0.1 1.20 -0.2 1.20 -1.7 1.20 -0.5 1.20 1.5 1.20 0.7 1.20 -0.3 1.20 -1.4 1.20 0.2 1.20 3.8 1.20 0.8 1.20 -2.5 1.20 -0.6 1.20 0.0 1.20 -0.2 1.20 0.5 1.20 -0.1 1.20 -0.7 1.20 0.5 1.20 -0.9 1.20 -1.2 1.20 1.9 1.20 0.5 1.20 -1.3 1.20 0.2 1.20 0.4 1.20 -0.2 1.20 -0.8 1.20 -1.0 1.20 1.4 1.20 1.8 1.20 -0.2 1.20 -1.2 1.20 -0.8"/><path d="M369.2,629.9l1.20 -0.1 1.20 -0.7 1.20 -0.6 1.20 0.1 1.20 0.4 1.20 -0.9 1.20 -0.5 1.20 0.9 1.20 0.8 1.20 1.1 1.20 0.1 1.20 -2.4 1.20 -1.1 1.20 0.9 1.20 -1.0 1.20 -1.4 1.20 1.3 1.20 4.9 1.20 12.5 1.20 13.9 1.20 -5.5 1.20 -16.8 1.20 -10.0 1.20 -2.9 1.20 0.3 1.20 1.0 1.20 0.7 1.20 0.4 1.20 1.4 1.20 1.3 1.20 -0.1 1.20 -0.4 1.20 0.5 1.20 0.8 1.20 -0.7 1.20 -0.2 1.20 1.3 1.20 -0.1 1.20 -0.6 1.20 0.3 1.20 -0.1 1.20 -0.0 1.20 0.1 1.20 -1.0 1.20 -0.2 1.20 1.1 1.20 1.0 1.20 -0.3 1.20 -0.9 1.20 -0.1 1.20 0.1 1.20 0.2 1.20 0.2 1.20 -0.3 1.20 -0.3 1.20 0.3 1.20 -0.1 1.20 -0.3 1.20 0.6 1.20 1.9 1.20 1.0 1.20 -1.5 1.20 -1.8 1.20 -0.4 1.20 0.3 1.20 -0.6 1.20 -0.6 1.20 0.4 1.20 1.0 1.20 1.1 1.20 0.2 1.20 -0.5 1.20 0.3 1.20 0.8 1.20 0.1 1.20 -0.7 1.20 -0.4 1.20 -0.3 1.20 -0.3 1.20 0.4 1.20 0.5 1.20 0.6 1.20 1.2 1.20 0.5 1.20 -1.1 1.20 -1.2 1.20 -0.6 1.20 0.6 1.20 0.4 1.20 -0.7 1.20 0.4 1.20 1.2 1.20 -0.3 1.20 -1.4 1.20 -0.3 1.20 0.8 1.20 0.3 1.20 0.3 1.20 0.0 1.20 -1.3 1.20 -0.6 1.20 -0.5 1.20 -0.9 1.20 0.2 1.20 0.4 1.20 0.9 1.20 0.2 1.20 -0.1 1.20 1.0 1.20 0.0 1.20 -0.8 1.20 0.1 1.20 0.7 1.20 0.4 1.20 -0.6 1.20 -1.1 1.20 1.1 1.20 1.5 1.20 -1.6 1.20 -1.2 1.20 0.0 1.20 -1.2 1.20 0.1 1.20 1.3 1.20 -0.4 1.20 -1.1 1.20 -0.5 1.20 0.6 1.20 0.2 1.20 -2.2 1.20 -1.1 1.20 2.4 1.20 6.5 1.20 15.4 1.20 10.5 1.20 -12.1 1.20 -15.0 1.20 -6.1 1.20 -2.6 1.20 -0.0 1.20 2.6 1.20 2.0 1.20 -0.0 1.20 -0.2 1.20 1.1 1.20 1.0 1.20 -0.2 1.20 -0.7 1.20 -1.4 1.20 -1.0 1.20 0.6 1.20 1.4 1.20 1.2 1.20 0.3 1.20 -0.3 1.20 -0.3 1.20 -0.4 1.20 -0.7 1.20 0.0 1.20 -0.3 1.20 -0.0 1.20 1.5 1.20 0.5 1.20 -0.9 1.20 -2.1 1.20 -1.2 1.20 1.1 1.20 2.2 1.20 1.4 1.20 -0.5 1.20 -0.5 1.20 -0.3 1.20 -0.1 1.20 0.7 1.20 -0.1 1.20 0.3 1.20 -0.2 1.20 -1.2 1.20 0.1 1.20 0.0 1.20 -0.2 1.20 0.8 1.20 0.1 1.20 0.0 1.20 0.6 1.20 -0.9 1.20 -0.8 1.20 0.4 1.20 0.1 1.20 0.7 1.20 -0.1 1.20 -1.1 1.20 0.7 1.20 1.9 1.20 0.5 1.20 -1.1 1.20 -1.0 1.20 0.4 1.20 -0.1 1.20 -2.2 1.20 -0.9 1.20 1.0 1.20 -0.6 1.20 -0.6 1.20 2.0 1.20 0.8 1.20 -0.8 1.20 1.2 1.20 1.4 1.20 -1.2 1.20 -1.6 1.20 -0.1 1.20 0.1 1.20 -0.2 1.20 -0.7 1.20 0.6 1.20 1.8 1.20 0.4 1.20 0.1 1.20 -0.6 1.20 -0.5 1.20 1.1 1.20 1.2 1.20 0.4 1.20 -1.5 1.20 -1.1 1.20 0.4 1.20 0.2 1.20 1.0 1.20 0.1 1.20 -0.9 1.20 -1.6 1.20 -1.1 1.20 0.8 1.20 -0.1 1.20 0.6 1.20 1.4 1.20 0.5 1.20 0.0 1.20 -1.5 1.20 -1.0 1.20 0.7 1.20 0.2 1.20 -0.2 1.20 0.1 1.20 -0.1 1.20 0.3 1.20 1.3 1.20 1.0 1.20 0.0"/><path d="M369.2,628.7l1.20 0.1 1.20 0.2 1.20 0.5 1.20 0.8 1.20 -0.9 1.20 -2.3 1.20 1.1 1.20 2.7 1.20 0.1 1.20 -1.9 1.20 -1.8 1.20 -0.3 1.20 -0.2 1.20 -1.9 1.20 -0.9 1.20 0.8 1.20 -0.4 1.20 0.6 1.20 3.1 1.20 5.5 1.20 13.9 1.20 9.4 1.20 -11.9 1.20 -14.2 1.20 -5.9 1.20 -2.5 1.20 -0.4 1.20 1.4 1.20 2.0 1.20 1.4 1.20 0.2 1.20 -0.2 1.20 0.6 1.20 1.0 1.20 1.3 1.20 0.5 1.20 -0.5 1.20 -1.1 1.20 -0.5 1.20 1.6 1.20 1.0 1.20 -1.0 1.20 -1.3 1.20 -0.1 1.20 -0.1 1.20 -0.1 1.20 1.3 1.20 0.3 1.20 -1.2 1.20 -1.1 1.20 1.2 1.20 2.1 1.20 -0.5 1.20 -1.5 1.20 0.1 1.20 1.8 1.20 0.2 1.20 -1.6 1.20 -0.8 1.20 -0.7 1.20 0.0 1.20 1.4 1.20 1.0 1.20 0.1 1.20 -1.3 1.20 -1.0 1.20 1.3 1.20 0.9 1.20 -1.0 1.20 -1.2 1.20 0.6 1.20 2.9 1.20 0.5 1.20 -3.1 1.20 0.2 1.20 2.8 1.20 -1.1 1.20 -2.4 1.20 0.8 1.20 1.9 1.20 -0.2 1.20 -2.4 1.20 -0.3 1.20 1.7 1.20 -0.4 1.20 0.8 1.20 1.5 1.20 -1.2 1.20 -2.1 1.20 -1.4 1.20 0.1 1.20 1.0 1.20 -0.4 1.20 -0.8 1.20 0.6 1.20 0.7 1.20 0.3 1.20 0.9 1.20 0.7 1.20 0.1 1.20 -0.1 1.20 0.1 1.20 0.4 1.20 -0.5 1.20 -0.5 1.20 0.2 1.20 0.0 1.20 -0.2 1.20 -0.2 1.20 0.1 1.20 0.3 1.20 -1.2 1.20 -0.9 1.20 1.0 1.20 0.8 1.20 0.3 1.20 0.1 1.20 -0.1 1.20 -1.2 1.20 -0.8 1.20 -0.1 1.20 -1.0 1.20 0.1 1.20 1.7 1.20 1.0 1.20 -1.0 1.20 0.1 1.20 0.5 1.20 -0.9 1.20 -0.9 1.20 -2.7 1.20 -2.6 1.20 1.6 1.20 6.4 1.20 13.2 1.20 9.9 1.20 -9.0 1.20 -13.1 1.20 -5.2 1.20 -2.1 1.20 -0.5 1.20 1.3 1.20 2.0 1.20 1.8 1.20 0.2 1.20 -1.3 1.20 -0.5 1.20 0.3 1.20 -0.1 1.20 0.9 1.20 1.2 1.20 -0.2 1.20 -0.1 1.20 0.2 1.20 -0.9 1.20 -0.7 1.20 0.7 1.20 1.1 1.20 0.2 1.20 -0.4 1.20 -1.9 1.20 -1.6 1.20 2.0 1.20 2.5 1.20 0.9 1.20 0.1 1.20 -1.7 1.20 -1.9 1.20 -0.2 1.20 0.4 1.20 -0.3 1.20 -0.0 1.20 1.3 1.20 1.8 1.20 0.2 1.20 -1.9 1.20 -0.7 1.20 1.2 1.20 0.5 1.20 -0.1 1.20 -0.8 1.20 -0.8 1.20 -0.1 1.20 0.1 1.20 -0.1 1.20 0.1 1.20 1.0 1.20 -0.5 1.20 -1.4 1.20 0.3 1.20 1.2 1.20 0.0 1.20 -0.9 1.20 0.3 1.20 0.2 1.20 0.1 1.20 1.4 1.20 1.1 1.20 -0.4 1.20 0.2 1.20 0.8 1.20 -1.8 1.20 -2.5 1.20 0.5 1.20 1.1 1.20 -0.3 1.20 0.4 1.20 1.0 1.20 0.2 1.20 -0.8 1.20 -0.6 1.20 -0.3 1.20 -0.1 1.20 0.5 1.20 0.6 1.20 -0.2 1.20 0.4 1.20 1.1 1.20 0.1 1.20 -1.3 1.20 -1.7 1.20 0.4 1.20 2.1 1.20 0.2 1.20 -1.8 1.20 -1.1 1.20 0.5 1.20 1.2 1.20 -0.5 1.20 -1.4 1.20 1.0 1.20 0.9 1.20 -0.7 1.20 -1.1 1.20 -0.5 1.20 1.3 1.20 0.9 1.20 -0.3 1.20 0.9 1.20 2.2 1.20 -0.5 1.20 -3.2 1.20 -1.1 1.20 1.8 1.20 1.7 1.20 -1.3 1.20 -1.7 1.20 0.9 1.20 0.9 1.20 -0.3"/><path d="M369.2,629.5l1.20 -1.8 1.20 -0.4 1.20 1.2 1.20 0.6 1.20 0.7 1.20 0.5 1.20 -0.1 1.20 -1.0 1.20 -1.8 1.20 -0.4 1.20 1.4 1.20 1.6 1.20 0.5 1.20 -1.8 1.20 -0.6 1.20 1.6 1.20 0.2 1.20 -1.7 1.20 -1.0 1.20 0.9 1.20 0.7 1.20 0.1 1.20 0.5 1.20 0.0 1.20 -0.9 1.20 -0.6 1.20 0.4 1.20 -0.1 1.20 -0.1 1.20 1.2 1.20 0.9 1.20 0.0 1.20 -0.4 1.20 -0.7 1.20 -0.3 1.20 0.5 1.20 0.8 1.20 -0.9 1.20 -0.8 1.20 1.7 1.20 1.0 1.20 -0.7 1.20 -1.5 1.20 -1.6 1.20 -0.0 1.20 0.4 1.20 0.4 1.20 1.0 1.20 0.8 1.20 -0.4 1.20 -2.0 1.20 -0.6 1.20 1.6 1.20 -0.2 1.20 -0.7 1.20 0.7 1.20 -0.1 1.20 0.1 1.20 1.5 1.20 0.7 1.20 -1.0 1.20 -0.4 1.20 1.4 1.20 0.3 1.20 -1.6 1.20 -1.7 1.20 -0.2 1.20 1.7 1.20 1.3 1.20 -0.6 1.20 -1.0 1.20 -0.5 1.20 -0.0 1.20 1.1 1.20 0.0 1.20 -1.3 1.20 0.2 1.20 0.8 1.20 0.3 1.20 -0.1 1.20 -0.6 1.20 -0.6 1.20 0.3 1.20 0.7 1.20 -0.5 1.20 -0.6 1.20 0.4 1.20 1.1 1.20 -0.1 1.20 -0.7 1.20 0.9 1.20 1.3 1.20 -0.1 1.20 -0.3 1.20 0.2 1.20 -1.2 1.20 -1.9 1.20 0.1 1.20 1.3 1.20 0.4 1.20 0.1 1.20 0.3 1.20 0.4 1.20 0.9 1.20 0.6 1.20 -0.8 1.20 -1.0 1.20 0.2 1.20 -0.1 1.20 -1.0 1.20 -0.5 1.20 0.1 1.20 -1.0 1.20 -1.2 1.20 1.0 1.20 1.0 1.20 -1.2 1.20 -0.6 1.20 1.7 1.20 1.3 1.20 -0.2 1.20 -0.6 1.20 -0.8 1.20 -1.0 1.20 -0.4 1.20 1.3 1.20 0.3 1.20 -2.0 1.20 -1.0 1.20 -0.1 1.20 0.2 1.20 1.2 1.20 1.5 1.20 2.1 1.20 5.1 1.20 12.5 1.20 6.9 1.20 -12.9 1.20 -13.0 1.20 -4.1 1.20 -1.5 1.20 -0.3 1.20 0.9 1.20 1.2 1.20 1.3 1.20 1.6 1.20 1.9 1.20 0.5 1.20 -1.2 1.20 -0.9 1.20 -1.5 1.20 -0.6 1.20 2.2 1.20 1.8 1.20 0.8 1.20 0.0 1.20 -1.7 1.20 -0.4 1.20 0.8 1.20 -0.8 1.20 -0.3 1.20 1.0 1.20 -0.6 1.20 -0.5 1.20 -0.1 1.20 -1.0 1.20 -0.5 1.20 -0.7 1.20 0.5 1.20 2.7 1.20 1.2 1.20 -1.8 1.20 -1.3 1.20 1.4 1.20 1.5 1.20 0.1 1.20 -0.5 1.20 -0.5 1.20 -0.2 1.20 0.5 1.20 -0.6 1.20 -1.0 1.20 1.3 1.20 1.0 1.20 -1.0 1.20 -0.5 1.20 1.2 1.20 0.4 1.20 -2.2 1.20 -0.6 1.20 1.9 1.20 0.2 1.20 -0.3 1.20 -0.5 1.20 -0.7 1.20 0.5 1.20 0.7 1.20 0.4 1.20 -0.3 1.20 0.2 1.20 0.6 1.20 -0.8 1.20 -0.6 1.20 -0.4 1.20 -0.5 1.20 0.4 1.20 0.6 1.20 0.2 1.20 0.2 1.20 1.2 1.20 -0.6 1.20 -1.8 1.20 0.4 1.20 0.8 1.20 0.8 1.20 0.1 1.20 -1.0 1.20 0.8 1.20 1.0 1.20 -0.3 1.20 -0.7 1.20 -0.1 1.20 0.2 1.20 -0.7 1.20 0.5 1.20 0.3 1.20 -1.4 1.20 -0.4 1.20 -0.9 1.20 -1.2 1.20 0.2 1.20 -0.1 1.20 0.9 1.20 1.4 1.20 -0.1 1.20 0.2 1.20 1.2 1.20 0.5 1.20 -0.6 1.20 -1.2 1.20 -0.8 1.20 0.1 1.20 0.4 1.20 0.1 1.20 0.1 1.20 -0.4 1.20 -0.3 1.20 0.0 1.20 1.3 1.20 1.5"/><path d="M369.2,629.5l1.20 2.1 1.20 -0.0 1.20 -2.7 1.20 -1.3 1.20 1.3 1.20 0.3 1.20 -0.4 1.20 0.7 1.20 1.0 1.20 1.2 1.20 0.1 1.20 -1.9 1.20 -1.4 1.20 -0.4 1.20 -0.6 1.20 -0.1 1.20 0.7 1.20 1.7 1.20 0.5 1.20 -0.9 1.20 -0.1 1.20 0.5 1.20 -0.1 1.20 -0.1 1.20 -0.1 1.20 -0.2 1.20 0.8 1.20 0.3 1.20 -0.9 1.20 -0.3 1.20 0.1 1.20 0.3 1.20 0.1 1.20 -0.6 1.20 -0.2 1.20 0.6 1.20 1.1 1.20 0.0 1.20 -0.9 1.20 0.5 1.20 0.2 1.20 -1.0 1.20 -1.1 1.20 -0.1 1.20 0.7 1.20 -0.6 1.20 -0.8 1.20 0.7 1.20 0.4 1.20 0.2 1.20 1.2 1.20 -0.1 1.20 -1.6 1.20 -0.6 1.20 0.4 1.20 1.0 1.20 0.9 1.20 -0.4 1.20 -1.0 1.20 0.4 1.20 1.7 1.20 0.4 1.20 -1.7 1.20 -1.0 1.20 0.9 1.20 -0.3 1.20 -0.3 1.20 1.3 1.20 -0.6 1.20 -1.7 1.20 0.2 1.20 0.4 1.20 0.2 1.20 1.1 1.20 0.3 1.20 -0.0 1.20 0.8 1.20 0.2 1.20 -0.0 1.20 -0.3 1.20 0.1 1.20 -0.3 1.20 -0.9 1.20 -0.3 1.20 -0.7 1.20 -0.1 1.20 0.9 1.20 -0.5 1.20 -1.2 1.20 0.5 1.20 -0.0 1.20 -1.7 1.20 -0.2 1.20 0.7 1.20 0.4 1.20 0.5 1.20 -0.2 1.20 -0.1 1.20 0.5 1.20 0.8 1.20 -0.6 1.20 -2.3 1.20 0.2 1.20 1.9 1.20 0.3 1.20 0.5 1.20 0.5 1.20 -0.3 1.20 -0.0 1.20 -0.5 1.20 -0.7 1.20 0.6 1.20 1.1 1.20 0.4 1.20 -0.3 1.20 -0.7 1.20 -0.0 1.20 -0.2 1.20 -0.5 1.20 0.4 1.20 0.2 1.20 -0.3 1.20 0.7 1.20 0.4 1.20 0.2 1.20 0.9 1.20 -0.5 1.20 -0.4 1.20 0.3 1.20 -0.9 1.20 -1.0 1.20 0.4 1.20 0.9 1.20 -1.3 1.20 -1.0 1.20 1.7 1.20 0.0 1.20 -0.7 1.20 0.4 1.20 -0.1 1.20 -0.1 1.20 -0.3 1.20 0.2 1.20 0.9 1.20 0.8 1.20 -0.3 1.20 -1.9 1.20 -1.5 1.20 1.0 1.20 1.9 1.20 0.0 1.20 -1.0 1.20 0.1 1.20 1.0 1.20 1.3 1.20 0.2 1.20 -2.0 1.20 -1.8 1.20 0.4 1.20 0.9 1.20 -0.4 1.20 0.1 1.20 2.0 1.20 0.8 1.20 -1.5 1.20 -1.0 1.20 0.0 1.20 0.6 1.20 1.2 1.20 0.5 1.20 -1.0 1.20 -0.1 1.20 0.1 1.20 -0.8 1.20 0.8 1.20 0.9 1.20 -0.9 1.20 -0.8 1.20 0.6 1.20 1.1 1.20 0.2 1.20 -0.9 1.20 -1.0 1.20 -0.6 1.20 0.3 1.20 0.1 1.20 -0.5 1.20 1.1 1.20 1.6 1.20 -0.5 1.20 -1.6 1.20 -1.1 1.20 0.4 1.20 1.0 1.20 0.9 1.20 0.5 1.20 -0.9 1.20 -0.8 1.20 0.1 1.20 0.1 1.20 0.0 1.20 0.4 1.20 0.9 1.20 0.0 1.20 -1.8 1.20 -0.8 1.20 1.9 1.20 1.0 1.20 -0.8 1.20 -0.7 1.20 -0.5 1.20 -0.1 1.20 -0.1 1.20 -0.3 1.20 -0.1 1.20 0.1 1.20 0.4 1.20 0.5 1.20 0.6 1.20 0.3 1.20 -1.0 1.20 -1.0 1.20 -0.1 1.20 0.5 1.20 1.6 1.20 -0.1 1.20 -2.2 1.20 0.0 1.20 1.6 1.20 -0.1 1.20 -1.3 1.20 -0.3 1.20 2.4 1.20 1.4 1.20 -1.8 1.20 -0.7 1.20 1.2 1.20 -0.4 1.20 -0.0 1.20 0.6 1.20 -1.0 1.20 -0.8 1.20 -0.1 1.20 0.4 1.20 -0.6 1.20 0.3 1.20 1.8 1.20 -0.8 1.20 -2.2 1.20 -0.3"/><path d="M369.2,670.3l1.20 0.9 1.20 -0.8 1.20 -0.3 1.20 0.8 1.20 -0.7 1.20 -0.1 1.20 0.7 1.20 -0.1 1.20 -1.1 1.20 -2.5 1.20 -0.2 1.20 2.1 1.20 1.0 1.20 0.3 1.20 -1.1 1.20 -0.9 1.20 0.6 1.20 0.1 1.20 0.4 1.20 -0.1 1.20 -1.7 1.20 -0.2 1.20 1.0 1.20 -0.1 1.20 4.0 1.20 14.3 1.20 9.3 1.20 -12.2 1.20 -13.1 1.20 -3.2 1.20 -0.7 1.20 -0.4 1.20 -0.4 1.20 0.4 1.20 2.6 1.20 2.8 1.20 -0.7 1.20 -2.4 1.20 -0.3 1.20 1.4 1.20 1.7 1.20 1.3 1.20 0.7 1.20 -1.1 1.20 -2.0 1.20 -0.3 1.20 -0.5 1.20 -0.2 1.20 1.8 1.20 0.7 1.20 -0.2 1.20 1.1 1.20 -0.1 1.20 -1.6 1.20 -0.2 1.20 1.3 1.20 -0.0 1.20 -1.3 1.20 0.1 1.20 1.6 1.20 0.8 1.20 -0.3 1.20 -0.1 1.20 -1.1 1.20 -0.9 1.20 1.7 1.20 0.5 1.20 -1.5 1.20 -0.6 1.20 -1.0 1.20 -0.0 1.20 1.9 1.20 0.9 1.20 -1.1 1.20 -0.5 1.20 1.0 1.20 0.2 1.20 -1.4 1.20 -1.2 1.20 0.2 1.20 -0.5 1.20 -0.6 1.20 1.9 1.20 2.2 1.20 -0.4 1.20 -1.3 1.20 -0.4 1.20 0.1 1.20 0.1 1.20 -0.8 1.20 -0.9 1.20 0.6 1.20 1.3 1.20 -0.3 1.20 -1.1 1.20 0.5 1.20 0.5 1.20 0.2 1.20 0.4 1.20 -1.0 1.20 0.3 1.20 1.2 1.20 -1.5 1.20 -1.7 1.20 0.2 1.20 1.2 1.20 1.3 1.20 -0.0 1.20 -0.7 1.20 -0.0 1.20 0.8 1.20 0.4 1.20 -1.3 1.20 -1.0 1.20 0.2 1.20 0.5 1.20 0.3 1.20 -0.3 1.20 -0.5 1.20 -0.5 1.20 -0.3 1.20 0.2 1.20 0.5 1.20 -0.1 1.20 -1.6 1.20 -0.9 1.20 2.5 1.20 1.8 1.20 -0.3 1.20 7.8 1.20 16.8 1.20 0.4 1.20 -16.7 1.20 -10.0 1.20 -2.1 1.20 0.0 1.20 0.2 1.20 -0.5 1.20 -0.2 1.20 1.6 1.20 2.9 1.20 1.9 1.20 -0.4 1.20 -1.7 1.20 -1.2 1.20 -0.8 1.20 -1.1 1.20 -0.2 1.20 0.8 1.20 0.6 1.20 0.1 1.20 0.1 1.20 0.2 1.20 0.2 1.20 0.5 1.20 -0.2 1.20 -0.2 1.20 -0.1 1.20 0.1 1.20 0.4 1.20 -0.0 1.20 0.0 1.20 -0.1 1.20 -0.2 1.20 0.8 1.20 1.5 1.20 1.2 1.20 -0.6 1.20 -1.5 1.20 0.4 1.20 0.3 1.20 -0.7 1.20 -0.5 1.20 -0.4 1.20 0.3 1.20 0.6 1.20 0.1 1.20 0.1 1.20 0.7 1.20 0.5 1.20 -1.9 1.20 -5.7 1.20 3.0 1.20 10.8 1.20 0.8 1.20 -7.9 1.20 -1.5 1.20 -0.3 1.20 0.9 1.20 0.8 1.20 -0.9 1.20 -1.3 1.20 -0.3 1.20 1.5 1.20 1.3 1.20 -0.5 1.20 -1.8 1.20 -1.1 1.20 2.0 1.20 2.0 1.20 -0.9 1.20 -1.0 1.20 0.2 1.20 -0.1 1.20 -0.7 1.20 0.2 1.20 1.2 1.20 1.2 1.20 -1.0 1.20 -2.6 1.20 -0.6 1.20 0.1 1.20 0.8 1.20 1.9 1.20 1.2 1.20 -1.2 1.20 -2.7 1.20 -0.9 1.20 0.5 1.20 0.9 1.20 1.2 1.20 0.6 1.20 -0.4 1.20 0.2 1.20 0.3 1.20 -1.0 1.20 -0.8 1.20 -0.2 1.20 0.7 1.20 0.2 1.20 -1.2 1.20 -0.0 1.20 0.7 1.20 0.4 1.20 0.3 1.20 -0.3 1.20 -0.1 1.20 0.4 1.20 -0.5 1.20 -1.5 1.20 -0.3 1.20 1.7 1.20 1.4 1.20 -0.5 1.20 -0.1 1.20 -0.4 1.20 -1.0 1.20 1.5 1.20 1.7 1.20 -0.2"/><path d="M369.2,670.8l1.20 0.6 1.20 -0.4 1.20 -0.7 1.20 0.3 1.20 1.4 1.20 0.9 1.20 -1.3 1.20 -1.2 1.20 -0.1 1.20 0.7 1.20 0.5 1.20 -0.5 1.20 -0.7 1.20 -1.4 1.20 0.0 1.20 1.1 1.20 -0.3 1.20 0.1 1.20 0.3 1.20 -0.6 1.20 0.1 1.20 0.5 1.20 -1.5 1.20 -1.1 1.20 0.7 1.20 -0.3 1.20 -1.3 1.20 1.1 1.20 6.6 1.20 14.3 1.20 10.5 1.20 -10.0 1.20 -14.5 1.20 -5.3 1.20 -1.3 1.20 -1.6 1.20 -0.3 1.20 0.7 1.20 1.0 1.20 2.0 1.20 1.0 1.20 -0.3 1.20 0.8 1.20 0.9 1.20 0.3 1.20 -0.8 1.20 -2.2 1.20 -0.8 1.20 1.0 1.20 0.5 1.20 0.7 1.20 0.9 1.20 -1.0 1.20 -1.2 1.20 0.4 1.20 0.6 1.20 -0.8 1.20 -0.2 1.20 2.1 1.20 0.5 1.20 -0.9 1.20 0.5 1.20 0.8 1.20 -0.7 1.20 -1.4 1.20 -0.8 1.20 -1.3 1.20 -1.4 1.20 1.1 1.20 0.9 1.20 -0.7 1.20 1.8 1.20 1.5 1.20 -0.8 1.20 -0.4 1.20 -0.0 1.20 1.0 1.20 0.9 1.20 -0.0 1.20 0.0 1.20 -0.8 1.20 -1.0 1.20 0.4 1.20 0.5 1.20 0.2 1.20 0.5 1.20 -0.9 1.20 -0.4 1.20 0.3 1.20 -0.7 1.20 0.4 1.20 1.3 1.20 -0.3 1.20 -1.4 1.20 -0.5 1.20 0.6 1.20 0.3 1.20 -1.0 1.20 0.2 1.20 1.5 1.20 -0.4 1.20 -1.0 1.20 -0.6 1.20 -0.2 1.20 0.2 1.20 -0.1 1.20 0.5 1.20 1.2 1.20 0.3 1.20 -1.2 1.20 -0.0 1.20 1.3 1.20 -0.6 1.20 -0.4 1.20 0.4 1.20 -0.0 1.20 0.0 1.20 -1.4 1.20 -1.3 1.20 0.5 1.20 1.1 1.20 1.8 1.20 0.1 1.20 -2.0 1.20 -1.1 1.20 -0.9 1.20 -0.9 1.20 0.3 1.20 2.4 1.20 6.4 1.20 14.1 1.20 9.2 1.20 -12.3 1.20 -14.6 1.20 -3.9 1.20 -0.5 1.20 -0.8 1.20 0.4 1.20 1.0 1.20 1.4 1.20 1.3 1.20 0.4 1.20 0.1 1.20 -0.6 1.20 -1.2 1.20 -0.1 1.20 0.9 1.20 0.3 1.20 0.4 1.20 -0.3 1.20 -1.1 1.20 0.0 1.20 0.9 1.20 0.9 1.20 0.8 1.20 0.0 1.20 -1.0 1.20 -0.5 1.20 0.2 1.20 -0.4 1.20 -0.5 1.20 0.1 1.20 0.9 1.20 -0.1 1.20 -0.6 1.20 1.4 1.20 0.1 1.20 -2.0 1.20 -1.2 1.20 0.1 1.20 1.8 1.20 1.1 1.20 0.3 1.20 0.2 1.20 -0.7 1.20 -0.4 1.20 -0.3 1.20 -0.3 1.20 0.5 1.20 0.3 1.20 -1.6 1.20 -1.6 1.20 0.7 1.20 0.3 1.20 -0.3 1.20 1.0 1.20 0.3 1.20 -0.3 1.20 1.0 1.20 0.0 1.20 -1.1 1.20 -0.3 1.20 0.4 1.20 1.8 1.20 0.6 1.20 -2.0 1.20 -0.3 1.20 0.8 1.20 -0.9 1.20 -0.6 1.20 0.3 1.20 -0.3 1.20 -1.1 1.20 -0.6 1.20 1.5 1.20 1.1 1.20 -0.8 1.20 0.0 1.20 0.4 1.20 -0.1 1.20 0.4 1.20 0.8 1.20 0.6 1.20 -0.3 1.20 -0.7 1.20 -0.9 1.20 -0.7 1.20 0.5 1.20 0.5 1.20 0.5 1.20 0.6 1.20 -0.6 1.20 -0.4 1.20 -0.3 1.20 -0.8 1.20 0.1 1.20 0.5 1.20 1.4 1.20 0.9 1.20 -0.1 1.20 0.2 1.20 -1.2 1.20 -1.7 1.20 -0.8 1.20 0.3 1.20 0.9 1.20 0.4 1.20 -0.2 1.20 -0.6 1.20 0.3 1.20 2.2 1.20 1.4 1.20 -0.5 1.20 -0.8 1.20 -0.3 1.20 0.6 1.20 0.2 1.20 -0.8 1.20 -1.2 1.20 -0.9"/><path d="M369.2,672.2l1.20 -0.9 1.20 -0.1 1.20 1.2 1.20 0.4 1.20 0.6 1.20 -0.8 1.20 -3.2 1.20 -0.7 1.20 2.2 1.20 0.9 1.20 -0.2 1.20 -0.6 1.20 -1.0 1.20 -0.1 1.20 0.4 1.20 -0.3 1.20 -0.8 1.20 -0.1 1.20 0.8 1.20 -0.1 1.20 0.3 1.20 1.7 1.20 -0.5 1.20 -1.7 1.20 0.3 1.20 1.2 1.20 0.1 1.20 -1.1 1.20 -1.2 1.20 -0.5 1.20 -0.8 1.20 -1.2 1.20 1.2 1.20 7.4 1.20 15.3 1.20 8.1 1.20 -13.2 1.20 -13.9 1.20 -3.5 1.20 -0.1 1.20 -0.8 1.20 -0.2 1.20 2.1 1.20 2.2 1.20 0.2 1.20 -0.2 1.20 0.7 1.20 0.9 1.20 -0.4 1.20 -2.3 1.20 -0.9 1.20 1.6 1.20 1.3 1.20 -0.2 1.20 -1.5 1.20 -1.6 1.20 0.2 1.20 1.0 1.20 0.2 1.20 0.2 1.20 -0.1 1.20 -0.5 1.20 0.9 1.20 0.7 1.20 -1.1 1.20 0.2 1.20 1.8 1.20 0.1 1.20 -1.7 1.20 -0.3 1.20 1.4 1.20 0.4 1.20 -0.8 1.20 -0.7 1.20 -0.8 1.20 -0.6 1.20 0.9 1.20 1.6 1.20 1.4 1.20 0.1 1.20 -1.4 1.20 -0.8 1.20 -0.2 1.20 -0.8 1.20 -2.1 1.20 -0.2 1.20 2.7 1.20 0.8 1.20 -0.2 1.20 0.4 1.20 -0.3 1.20 -0.3 1.20 0.1 1.20 0.3 1.20 0.1 1.20 0.4 1.20 0.4 1.20 -0.1 1.20 -0.1 1.20 -0.5 1.20 -1.3 1.20 -0.8 1.20 0.7 1.20 1.5 1.20 2.3 1.20 0.3 1.20 -1.8 1.20 -0.6 1.20 -0.1 1.20 -1.0 1.20 -0.6 1.20 0.6 1.20 0.8 1.20 0.6 1.20 -0.3 1.20 -0.9 1.20 0.2 1.20 0.2 1.20 -0.2 1.20 -0.3 1.20 -0.0 1.20 -0.3 1.20 -0.8 1.20 -0.2 1.20 -0.3 1.20 -0.9 1.20 0.1 1.20 1.2 1.20 0.3 1.20 1.8 1.20 10.7 1.20 17.7 1.20 0.5 1.20 -17.9 1.20 -12.9 1.20 -3.1 1.20 0.4 1.20 -0.7 1.20 -0.7 1.20 1.2 1.20 2.4 1.20 1.9 1.20 0.9 1.20 0.2 1.20 -0.8 1.20 -0.4 1.20 0.6 1.20 0.2 1.20 -0.4 1.20 -0.6 1.20 0.0 1.20 1.3 1.20 0.1 1.20 -1.4 1.20 -0.4 1.20 -0.3 1.20 0.2 1.20 -0.2 1.20 0.8 1.20 1.4 1.20 -1.0 1.20 -1.0 1.20 0.7 1.20 1.5 1.20 -0.2 1.20 -0.8 1.20 0.2 1.20 -0.3 1.20 -0.5 1.20 0.2 1.20 0.4 1.20 -1.1 1.20 -0.9 1.20 0.4 1.20 0.6 1.20 0.9 1.20 -0.2 1.20 -1.9 1.20 -0.9 1.20 0.8 1.20 0.4 1.20 0.3 1.20 0.7 1.20 -0.6 1.20 -0.9 1.20 1.0 1.20 0.6 1.20 -0.5 1.20 -0.2 1.20 0.2 1.20 -0.2 1.20 -0.0 1.20 1.3 1.20 0.3 1.20 -1.7 1.20 -0.4 1.20 0.6 1.20 0.1 1.20 0.7 1.20 0.3 1.20 -0.9 1.20 -0.4 1.20 0.1 1.20 0.1 1.20 0.6 1.20 0.6 1.20 1.2 1.20 0.7 1.20 -0.2 1.20 1.3 1.20 0.1 1.20 -2.0 1.20 -0.6 1.20 -0.5 1.20 -1.0 1.20 -0.2 1.20 0.5 1.20 0.7 1.20 -0.1 1.20 -1.5 1.20 -1.3 1.20 1.2 1.20 1.9 1.20 -0.4 1.20 -0.9 1.20 -0.2 1.20 -0.1 1.20 1.3 1.20 2.3 1.20 0.1 1.20 -1.3 1.20 0.5 1.20 1.4 1.20 -0.8 1.20 -1.2 1.20 -0.0 1.20 0.5 1.20 0.6 1.20 -0.3 1.20 -0.7 1.20 -0.2 1.20 -0.4 1.20 -0.5 1.20 -0.6 1.20 0.4 1.20 0.4 1.20 -1.3 1.20 -0.5 1.20 0.6 1.20 0.3"/><path d="M369.2,669.2l1.20 -1.5 1.20 1.3 1.20 2.0 1.20 -0.7 1.20 -0.8 1.20 0.2 1.20 -0.3 1.20 -0.0 1.20 0.4 1.20 0.8 1.20 0.1 1.20 0.2 1.20 0.9 1.20 -0.2 1.20 -0.5 1.20 0.3 1.20 -0.5 1.20 -0.9 1.20 0.5 1.20 1.0 1.20 -0.5 1.20 -1.4 1.20 -1.5 1.20 0.1 1.20 1.8 1.20 1.3 1.20 0.4 1.20 -0.5 1.20 -0.0 1.20 1.0 1.20 -0.9 1.20 -2.9 1.20 -1.1 1.20 0.4 1.20 -0.0 1.20 0.8 1.20 1.3 1.20 3.7 1.20 14.4 1.20 12.4 1.20 -10.9 1.20 -15.7 1.20 -6.1 1.20 -1.4 1.20 0.5 1.20 0.8 1.20 0.1 1.20 1.7 1.20 2.5 1.20 0.4 1.20 0.1 1.20 -0.1 1.20 -0.5 1.20 -0.5 1.20 -1.0 1.20 0.4 1.20 1.1 1.20 -1.3 1.20 -1.5 1.20 1.4 1.20 0.5 1.20 -1.0 1.20 0.1 1.20 0.8 1.20 1.1 1.20 -0.5 1.20 -1.6 1.20 -0.5 1.20 0.3 1.20 0.6 1.20 1.1 1.20 1.2 1.20 0.1 1.20 -1.0 1.20 -0.1 1.20 1.7 1.20 0.8 1.20 -1.1 1.20 -1.7 1.20 -1.4 1.20 0.2 1.20 -0.3 1.20 -0.9 1.20 0.4 1.20 0.5 1.20 -0.3 1.20 -0.6 1.20 -0.1 1.20 0.6 1.20 1.0 1.20 0.7 1.20 0.3 1.20 -0.0 1.20 -0.3 1.20 -1.2 1.20 -1.4 1.20 0.8 1.20 2.1 1.20 0.4 1.20 -1.2 1.20 -0.5 1.20 -0.1 1.20 -0.1 1.20 0.2 1.20 -0.1 1.20 -0.0 1.20 1.0 1.20 0.3 1.20 -1.4 1.20 0.0 1.20 0.9 1.20 -0.9 1.20 -0.6 1.20 -0.2 1.20 -1.2 1.20 1.1 1.20 1.5 1.20 -1.0 1.20 0.4 1.20 1.7 1.20 -0.1 1.20 -0.6 1.20 -0.6 1.20 -1.1 1.20 -0.0 1.20 -0.2 1.20 -1.8 1.20 -0.3 1.20 2.5 1.20 1.7 1.20 3.3 1.20 11.8 1.20 9.0 1.20 -9.6 1.20 -12.5 1.20 -6.1 1.20 -4.2 1.20 0.2 1.20 2.3 1.20 0.8 1.20 0.8 1.20 1.1 1.20 0.8 1.20 0.0 1.20 -0.0 1.20 1.7 1.20 1.5 1.20 -1.0 1.20 -0.8 1.20 -0.1 1.20 0.1 1.20 1.7 1.20 0.5 1.20 -1.5 1.20 0.2 1.20 0.0 1.20 -0.5 1.20 1.1 1.20 1.0 1.20 -0.9 1.20 -0.7 1.20 0.8 1.20 -0.6 1.20 -1.0 1.20 0.8 1.20 1.1 1.20 -0.7 1.20 -1.5 1.20 -0.3 1.20 -0.3 1.20 -0.7 1.20 0.6 1.20 1.1 1.20 -0.4 1.20 -1.2 1.20 0.7 1.20 1.2 1.20 -0.5 1.20 -0.8 1.20 0.0 1.20 1.2 1.20 1.4 1.20 -0.3 1.20 -1.0 1.20 0.5 1.20 0.2 1.20 -1.3 1.20 -0.9 1.20 0.8 1.20 2.0 1.20 0.7 1.20 -1.7 1.20 -1.1 1.20 1.0 1.20 0.6 1.20 -0.7 1.20 -0.8 1.20 0.6 1.20 1.1 1.20 -0.3 1.20 -0.0 1.20 -0.5 1.20 -1.4 1.20 0.9 1.20 2.6 1.20 0.1 1.20 -2.5 1.20 -1.5 1.20 0.9 1.20 0.7 1.20 -1.7 1.20 -0.6 1.20 1.5 1.20 1.4 1.20 0.6 1.20 -0.5 1.20 -1.0 1.20 -1.4 1.20 -0.1 1.20 1.9 1.20 1.5 1.20 -0.3 1.20 -1.5 1.20 -0.3 1.20 1.3 1.20 -0.3 1.20 -0.9 1.20 0.9 1.20 0.4 1.20 -0.1 1.20 1.0 1.20 -0.4 1.20 -1.5 1.20 0.7 1.20 1.6 1.20 -0.0 1.20 -0.9 1.20 -0.9 1.20 -0.2 1.20 0.5 1.20 0.1 1.20 0.3 1.20 0.3 1.20 -1.3 1.20 -0.6 1.20 2.5 1.20 2.0 1.20 -1.4 1.20 -2.0 1.20 -0.5"/><path d="M369.2,670.3l1.20 0.4 1.20 0.1 1.20 -0.5 1.20 -0.4 1.20 0.3 1.20 -0.3 1.20 0.1 1.20 1.7 1.20 -0.7 1.20 -2.5 1.20 0.3 1.20 1.1 1.20 -1.1 1.20 -1.3 1.20 1.2 1.20 2.0 1.20 0.8 1.20 1.0 1.20 -0.1 1.20 -2.0 1.20 0.4 1.20 1.7 1.20 -1.1 1.20 -1.7 1.20 0.2 1.20 0.4 1.20 -0.5 1.20 0.6 1.20 0.9 1.20 -0.4 1.20 -0.0 1.20 0.7 1.20 -0.2 1.20 -1.7 1.20 -0.4 1.20 0.7 1.20 0.5 1.20 -0.3 1.20 -0.5 1.20 0.2 1.20 -0.3 1.20 -0.2 1.20 -0.1 1.20 0.1 1.20 0.6 1.20 0.3 1.20 0.7 1.20 -0.4 1.20 -1.6 1.20 0.5 1.20 1.3 1.20 0.4 1.20 -0.3 1.20 -1.5 1.20 -0.5 1.20 0.5 1.20 1.2 1.20 1.7 1.20 -1.4 1.20 -3.0 1.20 0.6 1.20 1.2 1.20 0.1 1.20 -0.1 1.20 0.0 1.20 1.1 1.20 0.1 1.20 0.5 1.20 0.3 1.20 -0.9 1.20 0.9 1.20 -0.0 1.20 -1.5 1.20 0.1 1.20 1.3 1.20 1.0 1.20 -0.8 1.20 -1.1 1.20 0.6 1.20 -0.1 1.20 0.0 1.20 0.7 1.20 -0.8 1.20 -0.8 1.20 0.3 1.20 0.3 1.20 -0.4 1.20 -0.8 1.20 -1.1 1.20 -0.4 1.20 1.1 1.20 1.0 1.20 0.1 1.20 0.2 1.20 -0.0 1.20 -0.4 1.20 0.9 1.20 1.0 1.20 -1.1 1.20 -1.3 1.20 0.1 1.20 0.5 1.20 -0.3 1.20 0.7 1.20 1.6 1.20 -0.7 1.20 -1.4 1.20 -0.2 1.20 1.2 1.20 1.4 1.20 0.6 1.20 -0.7 1.20 -1.6 1.20 -0.6 1.20 0.2 1.20 0.1 1.20 0.8 1.20 1.2 1.20 -0.1 1.20 -0.4 1.20 -0.1 1.20 -0.4 1.20 -0.0 1.20 -1.2 1.20 -1.9 1.20 -0.3 1.20 0.3 1.20 0.4 1.20 -0.4 1.20 -0.8 1.20 2.4 1.20 11.4 1.20 18.3 1.20 0.1 1.20 -18.5 1.20 -12.5 1.20 -3.7 1.20 -0.0 1.20 1.3 1.20 1.1 1.20 0.5 1.20 0.5 1.20 2.1 1.20 2.3 1.20 -0.9 1.20 -1.2 1.20 0.5 1.20 0.4 1.20 -0.7 1.20 -1.0 1.20 -0.2 1.20 -0.2 1.20 0.4 1.20 0.8 1.20 -0.4 1.20 0.2 1.20 0.2 1.20 -1.2 1.20 -0.2 1.20 1.6 1.20 0.4 1.20 -1.2 1.20 0.3 1.20 1.4 1.20 0.7 1.20 -1.2 1.20 -2.1 1.20 -0.4 1.20 0.2 1.20 -0.1 1.20 0.3 1.20 0.7 1.20 0.4 1.20 0.7 1.20 1.4 1.20 1.1 1.20 0.4 1.20 -0.6 1.20 -0.8 1.20 -0.8 1.20 -1.0 1.20 -0.4 1.20 0.1 1.20 -0.6 1.20 -1.3 1.20 -0.2 1.20 0.3 1.20 0.9 1.20 2.4 1.20 0.8 1.20 -0.6 1.20 0.1 1.20 0.1 1.20 -0.1 1.20 -0.3 1.20 -0.0 1.20 0.1 1.20 -0.4 1.20 -1.3 1.20 -2.3 1.20 -0.5 1.20 1.5 1.20 1.3 1.20 -1.1 1.20 -5.4 1.20 4.3 1.20 13.0 1.20 0.8 1.20 -8.8 1.20 -0.9 1.20 -0.0 1.20 -1.3 1.20 -1.3 1.20 0.5 1.20 0.3 1.20 -1.0 1.20 -0.3 1.20 0.0 1.20 0.9 1.20 1.2 1.20 -0.3 1.20 -1.2 1.20 -0.8 1.20 0.8 1.20 1.0 1.20 0.3 1.20 0.6 1.20 -0.8 1.20 -1.2 1.20 0.5 1.20 -0.2 1.20 -0.7 1.20 0.8 1.20 1.3 1.20 -0.4 1.20 -2.2 1.20 -1.0 1.20 0.5 1.20 0.6 1.20 0.9 1.20 0.3 1.20 0.7 1.20 2.2 1.20 -0.3 1.20 -2.2 1.20 -0.6 1.20 0.5 1.20 0.0 1.20 -0.6 1.20 0.2"/><path d="M369.2,710.1l1.20 1.3 1.20 0.9 1.20 -0.5 1.20 -1.2 1.20 -0.5 1.20 0.5 1.20 0.0 1.20 0.1 1.20 0.8 1.20 0.5 1.20 -0.8 1.20 -1.8 1.20 -0.3 1.20 0.8 1.20 0.6 1.20 1.3 1.20 0.8 1.20 -0.5 1.20 -1.5 1.20 -1.5 1.20 0.5 1.20 1.5 1.20 1.0 1.20 0.7 1.20 0.2 1.20 0.0 1.20 0.6 1.20 -0.3 1.20 -0.7 1.20 0.6 1.20 0.0 1.20 -1.9 1.20 -2.2 1.20 -0.7 1.20 -0.1 1.20 0.3 1.20 1.4 1.20 0.5 1.20 2.8 1.20 13.3 1.20 11.2 1.20 -10.8 1.20 -15.5 1.20 -4.5 1.20 -0.1 1.20 -0.0 1.20 0.7 1.20 0.6 1.20 0.8 1.20 1.4 1.20 1.7 1.20 0.5 1.20 -0.7 1.20 -0.7 1.20 0.3 1.20 0.6 1.20 -0.7 1.20 -1.0 1.20 -0.4 1.20 0.6 1.20 1.3 1.20 0.4 1.20 -0.7 1.20 -0.1 1.20 -0.2 1.20 -0.4 1.20 0.9 1.20 0.9 1.20 0.1 1.20 -0.1 1.20 -1.4 1.20 -1.2 1.20 0.5 1.20 0.1 1.20 -0.2 1.20 0.2 1.20 0.5 1.20 0.7 1.20 1.1 1.20 0.2 1.20 -2.1 1.20 -1.6 1.20 0.7 1.20 1.5 1.20 1.0 1.20 -0.7 1.20 -0.3 1.20 1.1 1.20 0.6 1.20 -0.2 1.20 -0.7 1.20 -0.1 1.20 -0.1 1.20 -0.5 1.20 0.5 1.20 -0.7 1.20 -1.7 1.20 0.6 1.20 1.0 1.20 0.5 1.20 -0.3 1.20 -0.9 1.20 1.2 1.20 1.8 1.20 -0.4 1.20 -1.3 1.20 -0.3 1.20 -0.4 1.20 -0.9 1.20 -0.0 1.20 1.4 1.20 0.7 1.20 -1.8 1.20 -0.9 1.20 2.0 1.20 0.6 1.20 -0.8 1.20 0.5 1.20 0.9 1.20 -0.7 1.20 -2.8 1.20 -1.3 1.20 1.0 1.20 0.3 1.20 -0.4 1.20 -0.1 1.20 -1.2 1.20 -1.8 1.20 -0.1 1.20 2.7 1.20 5.7 1.20 12.7 1.20 10.0 1.20 -11.3 1.20 -14.2 1.20 -2.5 1.20 -0.2 1.20 -0.2 1.20 0.7 1.20 -1.0 1.20 -0.6 1.20 2.0 1.20 1.2 1.20 -0.3 1.20 0.9 1.20 0.4 1.20 -0.8 1.20 -0.0 1.20 -0.1 1.20 0.2 1.20 0.9 1.20 -0.8 1.20 -1.4 1.20 1.0 1.20 1.3 1.20 -0.8 1.20 -0.3 1.20 0.9 1.20 0.4 1.20 0.3 1.20 0.3 1.20 -0.2 1.20 -0.1 1.20 -0.5 1.20 -1.5 1.20 -0.4 1.20 0.7 1.20 0.7 1.20 -0.1 1.20 -0.8 1.20 0.2 1.20 1.3 1.20 0.5 1.20 -0.4 1.20 -0.7 1.20 -0.3 1.20 0.1 1.20 -0.7 1.20 -0.9 1.20 0.0 1.20 1.5 1.20 0.6 1.20 -0.9 1.20 0.4 1.20 0.3 1.20 -1.0 1.20 -0.2 1.20 -0.3 1.20 -0.2 1.20 1.1 1.20 0.2 1.20 -0.3 1.20 0.8 1.20 0.7 1.20 0.8 1.20 0.7 1.20 -1.1 1.20 -1.7 1.20 -1.3 1.20 -0.0 1.20 2.6 1.20 2.3 1.20 -0.6 1.20 -1.3 1.20 -1.2 1.20 -1.6 1.20 0.2 1.20 1.4 1.20 0.3 1.20 0.2 1.20 0.2 1.20 -0.7 1.20 -0.7 1.20 0.3 1.20 0.5 1.20 -0.5 1.20 -0.1 1.20 0.2 1.20 -1.0 1.20 -0.4 1.20 2.0 1.20 1.9 1.20 -2.1 1.20 -3.0 1.20 0.2 1.20 1.2 1.20 0.6 1.20 0.6 1.20 0.1 1.20 -1.9 1.20 -4.7 1.20 5.1 1.20 11.0 1.20 -1.2 1.20 -7.3 1.20 0.9 1.20 0.9 1.20 -0.3 1.20 -1.2 1.20 -1.3 1.20 -1.1 1.20 -0.6 1.20 0.6 1.20 0.6 1.20 -0.2 1.20 0.5 1.20 0.5 1.20 -0.2 1.20 -0.1 1.20 0.2"/><path d="M369.2,710.6l1.20 0.3 1.20 0.2 1.20 0.2 1.20 0.5 1.20 -1.0 1.20 -0.2 1.20 1.7 1.20 0.1 1.20 -1.1 1.20 0.0 1.20 0.8 1.20 0.6 1.20 -1.8 1.20 -2.0 1.20 1.1 1.20 1.6 1.20 0.2 1.20 -0.9 1.20 -0.3 1.20 0.8 1.20 0.1 1.20 -0.6 1.20 -0.7 1.20 -0.4 1.20 1.2 1.20 0.2 1.20 -1.8 1.20 0.6 1.20 1.6 1.20 0.7 1.20 -0.1 1.20 -2.0 1.20 -1.2 1.20 0.5 1.20 0.8 1.20 0.9 1.20 -0.6 1.20 -2.2 1.20 -1.2 1.20 1.8 1.20 6.0 1.20 13.9 1.20 10.4 1.20 -9.7 1.20 -14.1 1.20 -7.0 1.20 -2.2 1.20 -0.5 1.20 0.1 1.20 1.6 1.20 1.3 1.20 2.0 1.20 2.5 1.20 -0.4 1.20 -1.2 1.20 -0.7 1.20 -0.3 1.20 0.9 1.20 0.8 1.20 -0.5 1.20 -1.6 1.20 -1.2 1.20 0.3 1.20 0.9 1.20 1.4 1.20 1.5 1.20 1.2 1.20 0.5 1.20 -1.8 1.20 -1.7 1.20 -1.1 1.20 -0.6 1.20 1.1 1.20 1.4 1.20 -0.4 1.20 -1.5 1.20 0.4 1.20 0.8 1.20 -0.5 1.20 -0.4 1.20 1.3 1.20 0.6 1.20 -1.5 1.20 -1.0 1.20 0.1 1.20 0.8 1.20 1.4 1.20 0.4 1.20 0.0 1.20 -0.0 1.20 -0.6 1.20 -0.7 1.20 -1.0 1.20 0.1 1.20 0.5 1.20 -0.6 1.20 0.2 1.20 1.5 1.20 -0.1 1.20 -1.2 1.20 1.2 1.20 1.6 1.20 -1.0 1.20 -1.5 1.20 0.0 1.20 0.1 1.20 0.2 1.20 0.4 1.20 -0.6 1.20 -0.3 1.20 0.5 1.20 0.4 1.20 -0.2 1.20 0.2 1.20 0.8 1.20 -0.0 1.20 -0.3 1.20 0.9 1.20 0.2 1.20 -1.8 1.20 -2.4 1.20 -0.8 1.20 1.1 1.20 0.7 1.20 -0.2 1.20 -1.3 1.20 -1.6 1.20 0.2 1.20 0.6 1.20 0.3 1.20 1.6 1.20 5.7 1.20 15.7 1.20 12.4 1.20 -11.4 1.20 -17.4 1.20 -7.6 1.20 -0.5 1.20 0.9 1.20 1.1 1.20 1.2 1.20 0.2 1.20 1.5 1.20 1.3 1.20 -0.7 1.20 -1.4 1.20 -1.2 1.20 0.7 1.20 1.4 1.20 -0.2 1.20 -1.2 1.20 -0.2 1.20 1.2 1.20 1.3 1.20 0.2 1.20 -0.1 1.20 0.1 1.20 -1.0 1.20 -0.5 1.20 0.2 1.20 -0.4 1.20 -0.7 1.20 -0.5 1.20 1.4 1.20 1.0 1.20 -0.7 1.20 0.6 1.20 0.5 1.20 -0.5 1.20 -0.8 1.20 -1.1 1.20 1.0 1.20 1.3 1.20 -1.0 1.20 -1.1 1.20 0.1 1.20 1.0 1.20 0.4 1.20 0.2 1.20 0.8 1.20 -0.1 1.20 -1.2 1.20 -0.2 1.20 0.3 1.20 -0.2 1.20 1.7 1.20 1.8 1.20 -1.2 1.20 -1.6 1.20 -0.8 1.20 0.1 1.20 0.6 1.20 -0.3 1.20 0.6 1.20 0.7 1.20 -1.0 1.20 -1.2 1.20 -0.1 1.20 1.5 1.20 0.6 1.20 -1.0 1.20 -0.6 1.20 0.8 1.20 1.4 1.20 -0.1 1.20 -0.7 1.20 -0.9 1.20 -0.0 1.20 2.3 1.20 1.5 1.20 -0.2 1.20 -0.7 1.20 -1.1 1.20 -1.8 1.20 -1.3 1.20 -0.1 1.20 -0.1 1.20 0.7 1.20 1.2 1.20 -0.6 1.20 -1.7 1.20 -0.6 1.20 0.8 1.20 1.1 1.20 -0.0 1.20 -0.8 1.20 0.8 1.20 0.8 1.20 -0.4 1.20 -0.3 1.20 0.1 1.20 0.2 1.20 -0.4 1.20 -0.1 1.20 0.2 1.20 -0.0 1.20 0.5 1.20 0.4 1.20 -0.1 1.20 -0.5 1.20 -1.6 1.20 -0.4 1.20 0.6 1.20 0.4 1.20 0.6 1.20 0.8 1.20 0.5 1.20 -0.8 1.20 -0.6 1.20 0.3"/><path d="M369.2,710.0l1.20 1.0 1.20 1.0 1.20 -1.1 1.20 -0.9 1.20 0.8 1.20 0.8 1.20 -0.6 1.20 -1.2 1.20 -0.7 1.20 -0.7 1.20 1.3 1.20 1.2 1.20 -0.1 1.20 1.0 1.20 0.7 1.20 -1.0 1.20 -1.1 1.20 0.3 1.20 0.7 1.20 0.4 1.20 -0.5 1.20 -0.6 1.20 0.1 1.20 0.8 1.20 1.4 1.20 -0.1 1.20 -1.2 1.20 -1.8 1.20 -0.8 1.20 1.0 1.20 0.1 1.20 0.1 1.20 0.4 1.20 0.4 1.20 0.1 1.20 -0.1 1.20 0.7 1.20 -0.9 1.20 -2.2 1.20 -0.1 1.20 0.7 1.20 0.4 1.20 4.9 1.20 14.8 1.20 10.4 1.20 -12.1 1.20 -15.4 1.20 -5.6 1.20 -1.5 1.20 -0.2 1.20 0.9 1.20 0.9 1.20 0.4 1.20 1.1 1.20 1.0 1.20 1.4 1.20 1.7 1.20 -0.6 1.20 -1.9 1.20 -0.7 1.20 1.2 1.20 0.7 1.20 -0.8 1.20 -0.2 1.20 1.0 1.20 -0.1 1.20 -1.3 1.20 0.0 1.20 1.1 1.20 0.2 1.20 -1.2 1.20 -0.5 1.20 1.0 1.20 0.7 1.20 0.2 1.20 -0.8 1.20 -0.7 1.20 1.6 1.20 0.7 1.20 -1.5 1.20 -0.0 1.20 0.9 1.20 0.1 1.20 0.0 1.20 -0.7 1.20 -0.5 1.20 0.8 1.20 0.4 1.20 0.7 1.20 0.2 1.20 -2.2 1.20 -1.1 1.20 1.0 1.20 0.2 1.20 -1.3 1.20 -0.8 1.20 1.6 1.20 1.5 1.20 -0.7 1.20 -0.3 1.20 0.9 1.20 1.0 1.20 0.2 1.20 -1.4 1.20 -1.1 1.20 -0.5 1.20 -0.8 1.20 0.6 1.20 0.6 1.20 -1.0 1.20 0.5 1.20 1.4 1.20 -0.5 1.20 -0.5 1.20 0.5 1.20 1.0 1.20 0.4 1.20 -1.6 1.20 -1.3 1.20 -0.4 1.20 0.6 1.20 1.7 1.20 0.4 1.20 -0.9 1.20 -1.1 1.20 -0.2 1.20 -0.4 1.20 -1.9 1.20 -0.9 1.20 1.5 1.20 1.3 1.20 -0.0 1.20 4.2 1.20 12.9 1.20 9.2 1.20 -9.2 1.20 -13.3 1.20 -6.1 1.20 -1.8 1.20 0.4 1.20 2.2 1.20 1.2 1.20 0.1 1.20 0.8 1.20 0.5 1.20 1.0 1.20 1.3 1.20 -0.3 1.20 0.0 1.20 -0.2 1.20 -1.1 1.20 0.4 1.20 0.7 1.20 -0.4 1.20 -0.7 1.20 -0.1 1.20 -0.2 1.20 -0.6 1.20 -0.1 1.20 0.6 1.20 0.7 1.20 1.0 1.20 0.2 1.20 -2.2 1.20 -0.6 1.20 1.0 1.20 -0.2 1.20 -0.1 1.20 0.2 1.20 -0.3 1.20 -0.4 1.20 1.5 1.20 1.0 1.20 -1.3 1.20 0.5 1.20 1.1 1.20 -0.3 1.20 -0.6 1.20 0.1 1.20 1.2 1.20 -0.2 1.20 -0.3 1.20 0.3 1.20 -0.5 1.20 -0.2 1.20 -0.1 1.20 -1.3 1.20 -0.6 1.20 1.2 1.20 0.9 1.20 0.2 1.20 0.2 1.20 -0.8 1.20 -0.2 1.20 1.5 1.20 0.0 1.20 -1.8 1.20 -0.5 1.20 0.6 1.20 -0.4 1.20 -0.5 1.20 0.4 1.20 0.8 1.20 0.2 1.20 -0.7 1.20 0.4 1.20 0.4 1.20 -0.7 1.20 -0.2 1.20 1.5 1.20 0.3 1.20 -1.7 1.20 0.1 1.20 0.8 1.20 -0.6 1.20 -1.2 1.20 0.2 1.20 -0.3 1.20 -0.8 1.20 1.1 1.20 0.5 1.20 -0.4 1.20 -0.5 1.20 -0.1 1.20 0.7 1.20 0.6 1.20 0.2 1.20 0.3 1.20 0.4 1.20 0.1 1.20 -0.9 1.20 -1.7 1.20 -0.2 1.20 1.7 1.20 0.5 1.20 -0.5 1.20 -0.3 1.20 0.9 1.20 2.9 1.20 0.1 1.20 -2.9 1.20 -0.8 1.20 0.4 1.20 -0.2 1.20 0.1 1.20 0.6 1.20 0.7 1.20 0.4 1.20 -0.7 1.20 -0.7"/><path d="M369.2,710.9l1.20 2.2 1.20 1.1 1.20 -2.7 1.20 -1.8 1.20 0.1 1.20 -0.8 1.20 -0.1 1.20 1.5 1.20 1.2 1.20 -0.2 1.20 0.0 1.20 0.6 1.20 -0.7 1.20 -0.7 1.20 -0.6 1.20 -0.8 1.20 1.4 1.20 1.7 1.20 -0.6 1.20 -1.9 1.20 -0.7 1.20 1.4 1.20 1.3 1.20 -0.3 1.20 -1.1 1.20 -0.2 1.20 0.5 1.20 0.9 1.20 -0.6 1.20 -2.3 1.20 -0.2 1.20 1.6 1.20 0.5 1.20 -0.7 1.20 -0.4 1.20 0.2 1.20 0.2 1.20 -1.2 1.20 -0.7 1.20 0.9 1.20 0.4 1.20 -0.9 1.20 -1.5 1.20 -0.2 1.20 5.3 1.20 13.8 1.20 9.8 1.20 -9.4 1.20 -12.9 1.20 -4.7 1.20 -1.1 1.20 -0.1 1.20 0.1 1.20 0.4 1.20 1.9 1.20 1.8 1.20 -0.1 1.20 -1.1 1.20 -0.8 1.20 -0.5 1.20 0.9 1.20 1.4 1.20 -1.0 1.20 -1.6 1.20 0.9 1.20 1.0 1.20 -0.6 1.20 -0.1 1.20 0.7 1.20 0.2 1.20 -1.0 1.20 -1.4 1.20 0.2 1.20 1.4 1.20 2.3 1.20 0.2 1.20 -2.9 1.20 -1.9 1.20 -0.7 1.20 0.9 1.20 2.3 1.20 1.1 1.20 0.5 1.20 -0.3 1.20 -1.4 1.20 -2.1 1.20 -1.2 1.20 0.9 1.20 1.4 1.20 1.0 1.20 1.0 1.20 0.2 1.20 -1.1 1.20 -0.2 1.20 0.1 1.20 -0.1 1.20 0.8 1.20 0.2 1.20 -0.8 1.20 -1.3 1.20 -0.0 1.20 0.8 1.20 -0.3 1.20 0.5 1.20 0.9 1.20 -0.8 1.20 0.1 1.20 1.6 1.20 -0.2 1.20 -1.3 1.20 0.5 1.20 0.7 1.20 -0.0 1.20 -0.9 1.20 -1.3 1.20 -0.1 1.20 0.2 1.20 0.4 1.20 0.3 1.20 -0.5 1.20 -0.5 1.20 -0.5 1.20 1.1 1.20 1.6 1.20 -0.9 1.20 -1.2 1.20 0.0 1.20 0.2 1.20 -0.2 1.20 -1.8 1.20 -1.2 1.20 0.9 1.20 1.5 1.20 5.7 1.20 13.5 1.20 8.9 1.20 -10.9 1.20 -14.0 1.20 -4.6 1.20 -1.8 1.20 -1.0 1.20 1.4 1.20 1.7 1.20 1.4 1.20 1.5 1.20 -0.4 1.20 -1.2 1.20 0.3 1.20 1.3 1.20 2.1 1.20 0.5 1.20 -1.2 1.20 -0.3 1.20 -1.0 1.20 -1.0 1.20 1.2 1.20 0.9 1.20 -1.0 1.20 -0.4 1.20 2.4 1.20 1.0 1.20 -2.5 1.20 -1.4 1.20 -0.4 1.20 -0.7 1.20 0.2 1.20 0.2 1.20 0.9 1.20 1.7 1.20 -0.2 1.20 -0.8 1.20 -0.7 1.20 -2.0 1.20 -0.4 1.20 2.1 1.20 0.3 1.20 -1.2 1.20 0.8 1.20 1.2 1.20 0.2 1.20 0.7 1.20 -0.2 1.20 -1.3 1.20 -0.6 1.20 1.0 1.20 1.7 1.20 -0.4 1.20 -0.5 1.20 0.1 1.20 -0.5 1.20 -0.3 1.20 -0.8 1.20 -0.7 1.20 -0.1 1.20 0.2 1.20 0.1 1.20 0.0 1.20 0.1 1.20 0.3 1.20 0.2 1.20 -0.4 1.20 0.6 1.20 1.2 1.20 0.1 1.20 0.1 1.20 0.4 1.20 -0.9 1.20 -1.9 1.20 -0.9 1.20 0.7 1.20 0.7 1.20 0.1 1.20 0.8 1.20 0.3 1.20 -1.0 1.20 -0.0 1.20 -0.3 1.20 -0.3 1.20 1.1 1.20 -0.4 1.20 -0.9 1.20 1.1 1.20 1.0 1.20 -1.0 1.20 -0.5 1.20 1.0 1.20 -0.1 1.20 -0.6 1.20 0.2 1.20 1.0 1.20 0.4 1.20 -0.4 1.20 -0.0 1.20 -1.2 1.20 -0.7 1.20 0.7 1.20 -0.2 1.20 0.6 1.20 0.7 1.20 0.3 1.20 1.2 1.20 0.3 1.20 -0.8 1.20 -1.0 1.20 -0.6 1.20 0.1 1.20 -0.3 1.20 -0.5 1.20 0.7 1.20 0.5"/><path d="M369.2,712.0l1.20 0.9 1.20 0.1 1.20 -2.4 1.20 -1.3 1.20 1.5 1.20 0.7 1.20 -0.7 1.20 0.5 1.20 1.2 1.20 -0.3 1.20 -0.5 1.20 -0.1 1.20 -0.8 1.20 -0.9 1.20 -0.4 1.20 -0.2 1.20 0.0 1.20 1.2 1.20 0.4 1.20 -1.9 1.20 -0.9 1.20 1.8 1.20 1.5 1.20 -0.8 1.20 -0.6 1.20 0.4 1.20 -0.6 1.20 -0.3 1.20 1.9 1.20 1.5 1.20 -1.4 1.20 -1.7 1.20 0.5 1.20 0.1 1.20 -0.3 1.20 0.5 1.20 -0.8 1.20 -0.1 1.20 1.1 1.20 0.1 1.20 -0.8 1.20 -1.5 1.20 -0.3 1.20 1.2 1.20 -0.1 1.20 -1.3 1.20 5.6 1.20 15.4 1.20 8.1 1.20 -12.0 1.20 -13.8 1.20 -4.8 1.20 -0.5 1.20 0.3 1.20 0.3 1.20 1.5 1.20 1.9 1.20 -0.3 1.20 -0.1 1.20 0.8 1.20 -0.1 1.20 -0.3 1.20 0.8 1.20 0.2 1.20 -1.1 1.20 -0.1 1.20 1.3 1.20 3.0 1.20 0.9 1.20 -3.1 1.20 -0.7 1.20 1.6 1.20 -0.2 1.20 -1.7 1.20 -2.7 1.20 -0.3 1.20 1.6 1.20 0.6 1.20 0.5 1.20 0.7 1.20 0.2 1.20 -0.5 1.20 1.1 1.20 1.2 1.20 -1.1 1.20 -1.4 1.20 -0.7 1.20 0.5 1.20 1.6 1.20 0.3 1.20 -0.6 1.20 0.0 1.20 0.8 1.20 0.8 1.20 -1.3 1.20 -0.8 1.20 1.3 1.20 0.6 1.20 -0.9 1.20 -0.8 1.20 0.3 1.20 0.0 1.20 -1.4 1.20 -1.6 1.20 0.2 1.20 1.4 1.20 1.1 1.20 0.0 1.20 -0.6 1.20 0.3 1.20 0.1 1.20 -0.2 1.20 0.5 1.20 -0.4 1.20 -0.8 1.20 -0.1 1.20 -0.4 1.20 -0.6 1.20 0.2 1.20 -0.6 1.20 -0.3 1.20 2.5 1.20 2.0 1.20 -1.3 1.20 -1.0 1.20 1.0 1.20 -0.1 1.20 0.1 1.20 1.4 1.20 0.6 1.20 -0.1 1.20 -0.5 1.20 -0.7 1.20 -0.8 1.20 -0.8 1.20 -0.0 1.20 0.5 1.20 1.4 1.20 0.5 1.20 -1.5 1.20 -0.7 1.20 -0.5 1.20 -0.3 1.20 0.1 1.20 -0.6 1.20 -0.5 1.20 0.1 1.20 0.7 1.20 0.4 1.20 1.1 1.20 1.6 1.20 -1.2 1.20 -2.0 1.20 -1.0 1.20 -0.1 1.20 0.6 1.20 -0.1 1.20 -0.2 1.20 1.2 1.20 0.9 1.20 -1.2 1.20 -0.9 1.20 0.9 1.20 1.1 1.20 -0.7 1.20 -1.5 1.20 -0.3 1.20 2.1 1.20 3.0 1.20 0.2 1.20 -1.8 1.20 -0.3 1.20 -0.2 1.20 -0.1 1.20 0.4 1.20 -0.6 1.20 0.2 1.20 0.6 1.20 -0.3 1.20 -1.7 1.20 -1.6 1.20 1.4 1.20 2.3 1.20 0.2 1.20 -1.6 1.20 -0.7 1.20 0.8 1.20 -0.6 1.20 -1.3 1.20 -0.2 1.20 0.5 1.20 0.8 1.20 -0.0 1.20 -0.4 1.20 -0.3 1.20 0.0 1.20 0.3 1.20 -0.0 1.20 0.7 1.20 1.3 1.20 1.0 1.20 -0.4 1.20 -1.8 1.20 -2.2 1.20 -0.9 1.20 2.5 1.20 1.6 1.20 -0.8 1.20 -0.0 1.20 0.5 1.20 0.3 1.20 0.1 1.20 -0.5 1.20 -1.7 1.20 -0.2 1.20 1.8 1.20 0.3 1.20 -0.2 1.20 0.8 1.20 0.1 1.20 -0.4 1.20 -0.5 1.20 -1.4 1.20 -0.6 1.20 0.1 1.20 0.5 1.20 0.5 1.20 0.2 1.20 1.6 1.20 1.1 1.20 -0.3 1.20 -1.6 1.20 -1.7 1.20 0.2 1.20 1.3 1.20 1.2 1.20 0.3 1.20 -0.7 1.20 -0.3 1.20 1.1 1.20 0.3 1.20 -0.8 1.20 -0.6 1.20 0.4 1.20 0.8 1.20 -1.0 1.20 -0.7 1.20 0.6 1.20 -0.1 1.20 -0.1"/><path d="M369.2,711.5l1.20 -0.2 1.20 -0.1 1.20 -0.3 1.20 -1.2 1.20 0.1 1.20 1.2 1.20 -0.6 1.20 -1.0 1.20 1.3 1.20 1.8 1.20 0.8 1.20 0.4 1.20 -0.8 1.20 -1.7 1.20 -0.9 1.20 -0.1 1.20 -0.1 1.20 0.3 1.20 0.4 1.20 0.3 1.20 0.6 1.20 -0.4 1.20 -0.3 1.20 0.5 1.20 -0.0 1.20 -0.3 1.20 -0.5 1.20 -0.0 1.20 0.5 1.20 -0.0 1.20 -0.1 1.20 0.3 1.20 0.1 1.20 -0.8 1.20 -0.9 1.20 0.4 1.20 0.9 1.20 0.4 1.20 -0.4 1.20 -0.7 1.20 0.1 1.20 -0.9 1.20 -2.1 1.20 -0.9 1.20 0.0 1.20 -1.1 1.20 0.4 1.20 7.2 1.20 16.6 1.20 12.2 1.20 -11.1 1.20 -17.2 1.20 -7.0 1.20 -1.2 1.20 0.8 1.20 2.3 1.20 0.6 1.20 -0.5 1.20 1.5 1.20 0.8 1.20 -0.5 1.20 0.2 1.20 1.0 1.20 0.8 1.20 -0.2 1.20 -1.2 1.20 -0.1 1.20 1.0 1.20 -0.4 1.20 -0.8 1.20 -0.6 1.20 -0.5 1.20 0.1 1.20 0.5 1.20 0.6 1.20 0.3 1.20 0.9 1.20 1.1 1.20 -0.6 1.20 -1.2 1.20 -0.8 1.20 -0.9 1.20 0.6 1.20 0.3 1.20 -0.5 1.20 1.1 1.20 1.3 1.20 0.9 1.20 0.4 1.20 -1.5 1.20 -0.6 1.20 0.8 1.20 -0.6 1.20 -0.1 1.20 0.3 1.20 -0.0 1.20 0.1 1.20 -1.0 1.20 -0.5 1.20 0.4 1.20 0.1 1.20 1.2 1.20 0.5 1.20 -0.8 1.20 0.8 1.20 -0.1 1.20 -1.1 1.20 0.3 1.20 -0.1 1.20 -0.9 1.20 -1.2 1.20 -0.6 1.20 1.3 1.20 1.0 1.20 -1.0 1.20 -0.9 1.20 0.5 1.20 1.2 1.20 -0.2 1.20 -1.1 1.20 0.8 1.20 0.5 1.20 -0.2 1.20 -0.3 1.20 0.1 1.20 1.5 1.20 0.1 1.20 -1.4 1.20 -0.3 1.20 1.2 1.20 1.0 1.20 0.1 1.20 -1.5 1.20 -1.2 1.20 0.3 1.20 -0.7 1.20 0.4 1.20 1.2 1.20 -0.7 1.20 -0.6 1.20 1.1 1.20 1.3 1.20 -1.0 1.20 -2.3 1.20 -0.1 1.20 0.9 1.20 0.2 1.20 0.5 1.20 0.4 1.20 0.6 1.20 0.5 1.20 -0.5 1.20 -1.4 1.20 -0.8 1.20 -0.2 1.20 -0.7 1.20 0.7 1.20 2.3 1.20 1.9 1.20 -1.2 1.20 -1.4 1.20 0.7 1.20 -0.2 1.20 0.5 1.20 0.6 1.20 -0.7 1.20 -0.0 1.20 0.2 1.20 -0.7 1.20 -1.3 1.20 -1.8 1.20 -0.3 1.20 1.3 1.20 0.8 1.20 0.3 1.20 -0.5 1.20 -0.3 1.20 1.1 1.20 0.8 1.20 0.1 1.20 0.0 1.20 -0.4 1.20 0.0 1.20 -0.5 1.20 -1.4 1.20 0.7 1.20 1.6 1.20 -0.1 1.20 -0.8 1.20 -0.6 1.20 -0.7 1.20 0.7 1.20 1.1 1.20 -0.5 1.20 -0.6 1.20 0.3 1.20 0.2 1.20 0.6 1.20 1.2 1.20 0.2 1.20 -0.9 1.20 -1.2 1.20 -0.4 1.20 1.2 1.20 1.2 1.20 0.3 1.20 -0.1 1.20 -0.2 1.20 -0.0 1.20 -0.9 1.20 -1.5 1.20 -0.1 1.20 -0.4 1.20 -0.1 1.20 2.0 1.20 1.0 1.20 -0.8 1.20 -1.3 1.20 -0.4 1.20 0.3 1.20 0.4 1.20 0.0 1.20 -2.0 1.20 -0.6 1.20 1.4 1.20 1.0 1.20 0.5 1.20 -0.9 1.20 -0.4 1.20 0.4 1.20 0.6 1.20 1.1 1.20 0.8 1.20 -0.5 1.20 -1.4 1.20 -1.8 1.20 -5.0 1.20 4.6 1.20 14.6 1.20 1.2 1.20 -10.5 1.20 -2.1 1.20 -0.1 1.20 -0.7 1.20 -0.3 1.20 0.2 1.20 -0.4 1.20 -1.2 1.20 0.2 1.20 1.6"/><path d="M369.2,751.4l1.20 0.2 1.20 -0.5 1.20 -0.0 1.20 1.0 1.20 0.2 1.20 -0.7 1.20 -0.3 1.20 -0.8 1.20 -1.1 1.20 -0.0 1.20 0.6 1.20 0.5 1.20 0.5 1.20 0.2 1.20 -0.8 1.20 -0.7 1.20 1.1 1.20 0.8 1.20 -0.5 1.20 0.2 1.20 -0.1 1.20 -0.0 1.20 0.6 1.20 -0.8 1.20 -0.8 1.20 1.0 1.20 0.5 1.20 -0.2 1.20 -0.1 1.20 0.0 1.20 -0.3 1.20 -0.1 1.20 1.1 1.20 0.2 1.20 -1.3 1.20 0.2 1.20 1.3 1.20 -1.0 1.20 -2.0 1.20 -0.3 1.20 1.4 1.20 1.0 1.20 -1.6 1.20 -0.9 1.20 0.9 1.20 -1.0 1.20 -1.3 1.20 -0.2 1.20 -0.6 1.20 0.9 1.20 1.5 1.20 -0.4 1.20 3.7 1.20 14.7 1.20 9.7 1.20 -11.7 1.20 -13.1 1.20 -4.2 1.20 -2.4 1.20 -0.2 1.20 2.6 1.20 1.4 1.20 -0.8 1.20 0.5 1.20 2.4 1.20 1.0 1.20 -1.2 1.20 -0.9 1.20 0.9 1.20 1.3 1.20 -0.4 1.20 -2.1 1.20 -0.6 1.20 1.5 1.20 1.2 1.20 0.4 1.20 -0.2 1.20 -0.3 1.20 -0.1 1.20 0.7 1.20 0.3 1.20 -0.3 1.20 -1.0 1.20 -1.7 1.20 0.7 1.20 1.7 1.20 -0.1 1.20 -0.6 1.20 -0.0 1.20 0.4 1.20 0.3 1.20 -0.5 1.20 -1.2 1.20 -0.0 1.20 1.1 1.20 0.1 1.20 -0.7 1.20 0.2 1.20 1.6 1.20 0.6 1.20 -1.3 1.20 -0.7 1.20 0.8 1.20 0.5 1.20 -1.0 1.20 0.6 1.20 0.8 1.20 -2.3 1.20 -1.3 1.20 0.7 1.20 1.0 1.20 0.8 1.20 -1.0 1.20 -1.2 1.20 0.8 1.20 0.9 1.20 -0.2 1.20 0.2 1.20 0.0 1.20 -0.9 1.20 -0.2 1.20 0.7 1.20 0.7 1.20 0.2 1.20 -0.8 1.20 -1.3 1.20 -0.8 1.20 -0.3 1.20 -1.2 1.20 0.6 1.20 5.8 1.20 14.8 1.20 11.8 1.20 -10.7 1.20 -16.2 1.20 -6.4 1.20 -0.8 1.20 0.3 1.20 0.3 1.20 1.1 1.20 1.4 1.20 1.5 1.20 2.0 1.20 -0.1 1.20 -2.2 1.20 -1.1 1.20 -0.4 1.20 -0.2 1.20 0.4 1.20 0.1 1.20 0.8 1.20 0.9 1.20 -0.9 1.20 -0.8 1.20 0.6 1.20 1.0 1.20 1.1 1.20 -0.2 1.20 -0.9 1.20 0.1 1.20 -0.3 1.20 0.1 1.20 0.5 1.20 -0.2 1.20 -1.2 1.20 -0.4 1.20 0.6 1.20 -0.8 1.20 -0.1 1.20 0.3 1.20 -0.0 1.20 1.4 1.20 1.0 1.20 -1.8 1.20 -2.2 1.20 0.5 1.20 2.2 1.20 1.6 1.20 0.2 1.20 -1.0 1.20 -1.5 1.20 0.4 1.20 0.9 1.20 -0.1 1.20 0.7 1.20 0.3 1.20 -1.0 1.20 -1.1 1.20 -0.0 1.20 1.3 1.20 0.7 1.20 0.0 1.20 -0.6 1.20 -1.6 1.20 -0.0 1.20 1.1 1.20 -0.3 1.20 -0.8 1.20 0.4 1.20 -0.2 1.20 -1.2 1.20 -0.1 1.20 0.9 1.20 1.3 1.20 -0.6 1.20 -4.6 1.20 4.3 1.20 11.6 1.20 -0.6 1.20 -10.1 1.20 -2.3 1.20 -0.7 1.20 0.4 1.20 2.0 1.20 1.4 1.20 -1.2 1.20 -1.1 1.20 0.4 1.20 0.8 1.20 0.3 1.20 -0.0 1.20 -0.0 1.20 -1.3 1.20 -0.8 1.20 0.8 1.20 1.4 1.20 0.4 1.20 -0.9 1.20 0.3 1.20 0.0 1.20 -0.6 1.20 -0.2 1.20 -0.1 1.20 0.6 1.20 -0.1 1.20 -0.3 1.20 0.4 1.20 0.6 1.20 -0.1 1.20 -0.8 1.20 0.6 1.20 0.8 1.20 -0.3 1.20 -0.3 1.20 -0.9 1.20 -0.5 1.20 1.2 1.20 1.0 1.20 0.5 1.20 0.1"/><path d="M369.2,751.2l1.20 1.4 1.20 0.9 1.20 -0.7 1.20 -2.4 1.20 -2.6 1.20 -0.0 1.20 1.9 1.20 1.4 1.20 0.2 1.20 -0.5 1.20 0.3 1.20 0.2 1.20 -1.4 1.20 -0.2 1.20 0.8 1.20 -0.3 1.20 -0.1 1.20 0.8 1.20 0.4 1.20 -0.3 1.20 -0.2 1.20 0.5 1.20 0.7 1.20 0.5 1.20 0.1 1.20 -0.6 1.20 -0.0 1.20 -0.6 1.20 -0.5 1.20 0.9 1.20 0.3 1.20 -0.1 1.20 -1.1 1.20 -2.4 1.20 0.9 1.20 1.9 1.20 -0.6 1.20 -0.1 1.20 -0.1 1.20 0.4 1.20 1.0 1.20 -2.3 1.20 -2.1 1.20 1.7 1.20 1.4 1.20 -0.4 1.20 -1.4 1.20 -0.5 1.20 0.7 1.20 -0.4 1.20 -0.7 1.20 -0.3 1.20 0.5 1.20 1.0 1.20 0.6 1.20 1.0 1.20 4.7 1.20 13.2 1.20 9.4 1.20 -11.9 1.20 -14.4 1.20 -4.0 1.20 -1.5 1.20 -0.7 1.20 2.2 1.20 1.9 1.20 -0.7 1.20 0.1 1.20 1.7 1.20 0.2 1.20 -0.4 1.20 0.2 1.20 -0.0 1.20 -0.7 1.20 -0.1 1.20 0.5 1.20 -0.0 1.20 0.4 1.20 1.5 1.20 -0.2 1.20 -1.8 1.20 0.2 1.20 0.4 1.20 -0.7 1.20 -0.2 1.20 -0.3 1.20 0.2 1.20 1.4 1.20 0.8 1.20 0.2 1.20 -0.4 1.20 -1.2 1.20 -0.6 1.20 0.6 1.20 0.4 1.20 -0.6 1.20 0.7 1.20 1.6 1.20 -0.3 1.20 -1.6 1.20 -1.5 1.20 0.4 1.20 2.6 1.20 1.2 1.20 -2.6 1.20 -2.3 1.20 0.6 1.20 0.5 1.20 -0.3 1.20 0.8 1.20 0.6 1.20 -0.6 1.20 -0.1 1.20 0.5 1.20 0.4 1.20 -0.1 1.20 -0.8 1.20 0.2 1.20 0.3 1.20 -0.1 1.20 1.5 1.20 0.4 1.20 -1.4 1.20 0.2 1.20 -0.1 1.20 -1.8 1.20 -1.0 1.20 -0.7 1.20 -0.6 1.20 0.2 1.20 1.9 1.20 5.0 1.20 13.4 1.20 11.7 1.20 -11.0 1.20 -16.3 1.20 -5.3 1.20 -0.6 1.20 -0.0 1.20 0.1 1.20 0.6 1.20 1.3 1.20 1.2 1.20 2.1 1.20 1.3 1.20 -0.7 1.20 -0.8 1.20 -0.4 1.20 -0.3 1.20 -0.8 1.20 0.1 1.20 1.9 1.20 0.5 1.20 -1.4 1.20 -0.9 1.20 0.6 1.20 1.0 1.20 0.7 1.20 0.3 1.20 -0.7 1.20 -1.6 1.20 -2.0 1.20 0.2 1.20 1.4 1.20 -0.4 1.20 -0.8 1.20 0.2 1.20 1.2 1.20 1.7 1.20 0.6 1.20 -1.0 1.20 -0.7 1.20 0.5 1.20 0.7 1.20 -0.8 1.20 -1.3 1.20 -0.3 1.20 -0.1 1.20 -0.3 1.20 0.2 1.20 0.9 1.20 1.3 1.20 1.4 1.20 -0.2 1.20 -1.8 1.20 -1.6 1.20 0.6 1.20 1.3 1.20 -1.6 1.20 -1.1 1.20 0.9 1.20 0.6 1.20 0.4 1.20 -0.3 1.20 -0.4 1.20 -0.4 1.20 0.5 1.20 1.0 1.20 -1.4 1.20 -0.3 1.20 2.9 1.20 1.8 1.20 -0.9 1.20 -1.2 1.20 -0.7 1.20 1.0 1.20 0.9 1.20 -0.8 1.20 -0.9 1.20 -0.7 1.20 0.7 1.20 -0.2 1.20 -1.7 1.20 0.0 1.20 1.0 1.20 0.6 1.20 1.7 1.20 1.2 1.20 -1.2 1.20 -0.4 1.20 -0.5 1.20 -1.9 1.20 0.3 1.20 1.7 1.20 -0.4 1.20 -0.1 1.20 0.9 1.20 -1.2 1.20 -0.2 1.20 0.7 1.20 -1.0 1.20 -0.6 1.20 0.4 1.20 0.6 1.20 0.7 1.20 -0.0 1.20 -2.2 1.20 -0.8 1.20 2.4 1.20 0.4 1.20 -1.5 1.20 0.8 1.20 1.6 1.20 -0.9 1.20 -2.2 1.20 0.1 1.20 1.5 1.20 -0.2 1.20 0.9 1.20 1.0"/><path d="M369.2,750.5l1.20 0.2 1.20 -0.2 1.20 0.3 1.20 -0.7 1.20 -0.6 1.20 0.2 1.20 -0.8 1.20 0.4 1.20 1.2 1.20 -0.3 1.20 -0.8 1.20 0.3 1.20 -0.5 1.20 -0.4 1.20 1.3 1.20 0.2 1.20 -0.8 1.20 -0.1 1.20 -0.2 1.20 0.2 1.20 0.9 1.20 -0.6 1.20 -1.2 1.20 0.1 1.20 0.6 1.20 -0.4 1.20 0.1 1.20 2.1 1.20 1.6 1.20 -0.7 1.20 -1.3 1.20 -0.1 1.20 0.2 1.20 0.4 1.20 0.5 1.20 -0.6 1.20 -1.8 1.20 -0.8 1.20 1.8 1.20 2.2 1.20 0.0 1.20 -1.2 1.20 0.2 1.20 0.7 1.20 -0.6 1.20 -0.7 1.20 -0.1 1.20 -0.1 1.20 -0.7 1.20 -0.7 1.20 0.7 1.20 -0.6 1.20 -1.1 1.20 0.6 1.20 0.2 1.20 0.5 1.20 -0.3 1.20 -0.9 1.20 0.8 1.20 4.2 1.20 12.8 1.20 10.9 1.20 -9.3 1.20 -14.3 1.20 -6.0 1.20 -1.6 1.20 -0.7 1.20 0.8 1.20 2.0 1.20 1.6 1.20 1.5 1.20 0.5 1.20 -0.8 1.20 0.1 1.20 0.3 1.20 -0.6 1.20 0.0 1.20 0.5 1.20 -0.4 1.20 -0.5 1.20 0.5 1.20 0.9 1.20 0.1 1.20 -0.8 1.20 -0.3 1.20 0.0 1.20 -1.9 1.20 -0.2 1.20 2.2 1.20 0.4 1.20 0.1 1.20 1.4 1.20 -1.0 1.20 -2.4 1.20 1.5 1.20 1.4 1.20 -1.5 1.20 0.1 1.20 0.8 1.20 -0.5 1.20 -0.3 1.20 -0.2 1.20 -0.0 1.20 0.9 1.20 1.2 1.20 0.4 1.20 -0.5 1.20 -0.2 1.20 0.1 1.20 -0.3 1.20 -0.5 1.20 0.1 1.20 0.2 1.20 -0.5 1.20 0.0 1.20 0.5 1.20 0.2 1.20 -0.1 1.20 -0.6 1.20 -0.8 1.20 0.2 1.20 0.2 1.20 -1.4 1.20 0.3 1.20 2.1 1.20 -1.1 1.20 -2.8 1.20 -1.7 1.20 -0.3 1.20 0.8 1.20 0.5 1.20 1.5 1.20 5.5 1.20 14.5 1.20 10.7 1.20 -12.0 1.20 -15.8 1.20 -5.9 1.20 -1.3 1.20 0.2 1.20 1.2 1.20 1.3 1.20 0.6 1.20 1.5 1.20 2.2 1.20 -0.0 1.20 -0.8 1.20 1.0 1.20 1.3 1.20 0.2 1.20 -0.9 1.20 -0.2 1.20 -0.7 1.20 -1.1 1.20 0.9 1.20 1.1 1.20 0.0 1.20 -0.6 1.20 -0.9 1.20 -0.2 1.20 1.0 1.20 1.1 1.20 0.2 1.20 -0.7 1.20 -0.7 1.20 0.9 1.20 1.6 1.20 0.1 1.20 -0.5 1.20 -0.4 1.20 -1.1 1.20 -1.2 1.20 -1.0 1.20 0.3 1.20 1.7 1.20 0.7 1.20 0.1 1.20 -0.5 1.20 -1.0 1.20 -1.1 1.20 -0.7 1.20 -0.3 1.20 -0.1 1.20 1.3 1.20 1.4 1.20 1.2 1.20 0.0 1.20 -1.4 1.20 0.4 1.20 1.4 1.20 1.1 1.20 -0.4 1.20 -1.5 1.20 -0.7 1.20 0.2 1.20 -0.5 1.20 0.0 1.20 0.5 1.20 -0.9 1.20 0.1 1.20 0.1 1.20 -1.5 1.20 0.1 1.20 1.3 1.20 -0.2 1.20 -0.1 1.20 0.9 1.20 0.5 1.20 -1.0 1.20 -2.3 1.20 0.1 1.20 1.9 1.20 1.2 1.20 -0.6 1.20 -2.0 1.20 -1.2 1.20 0.3 1.20 1.0 1.20 1.4 1.20 0.9 1.20 -0.6 1.20 -0.1 1.20 0.6 1.20 0.2 1.20 -0.1 1.20 -0.5 1.20 0.0 1.20 0.4 1.20 -0.8 1.20 -1.0 1.20 0.6 1.20 0.5 1.20 -0.3 1.20 -0.1 1.20 0.4 1.20 0.2 1.20 -0.1 1.20 -0.5 1.20 -1.0 1.20 0.6 1.20 0.5 1.20 -1.1 1.20 0.4 1.20 0.9 1.20 -1.5 1.20 -1.5 1.20 0.6 1.20 1.2 1.20 1.2 1.20 0.6"/><path d="M369.2,749.3l1.20 0.9 1.20 0.8 1.20 0.5 1.20 -0.2 1.20 -1.1 1.20 0.9 1.20 1.5 1.20 -0.8 1.20 -1.0 1.20 0.5 1.20 0.3 1.20 -0.9 1.20 -0.1 1.20 0.1 1.20 -0.2 1.20 1.2 1.20 0.8 1.20 -1.3 1.20 -1.4 1.20 0.3 1.20 0.7 1.20 -0.6 1.20 -0.8 1.20 -0.8 1.20 0.4 1.20 1.5 1.20 -0.6 1.20 -1.0 1.20 0.7 1.20 0.8 1.20 0.4 1.20 -0.3 1.20 -0.1 1.20 0.5 1.20 0.3 1.20 -0.4 1.20 -0.6 1.20 0.3 1.20 1.0 1.20 1.4 1.20 -0.1 1.20 -2.0 1.20 -0.3 1.20 1.2 1.20 0.9 1.20 -0.2 1.20 -2.0 1.20 -0.4 1.20 1.4 1.20 0.4 1.20 -1.6 1.20 -2.4 1.20 0.1 1.20 1.0 1.20 -0.2 1.20 0.2 1.20 0.1 1.20 0.6 1.20 0.5 1.20 -0.4 1.20 -0.6 1.20 -1.9 1.20 -0.5 1.20 5.1 1.20 14.0 1.20 10.8 1.20 -10.6 1.20 -15.1 1.20 -4.5 1.20 -0.4 1.20 -1.7 1.20 -0.6 1.20 0.9 1.20 1.4 1.20 2.5 1.20 0.5 1.20 -1.5 1.20 1.0 1.20 2.6 1.20 0.6 1.20 -0.8 1.20 -0.1 1.20 -0.1 1.20 0.0 1.20 1.7 1.20 1.0 1.20 -1.4 1.20 -1.3 1.20 -0.2 1.20 -0.1 1.20 0.9 1.20 1.3 1.20 -0.3 1.20 -1.7 1.20 -0.8 1.20 0.7 1.20 0.8 1.20 -0.5 1.20 -0.3 1.20 0.0 1.20 -1.0 1.20 -0.5 1.20 0.6 1.20 1.3 1.20 0.4 1.20 -0.1 1.20 0.8 1.20 0.0 1.20 -1.5 1.20 0.0 1.20 1.3 1.20 -0.5 1.20 -0.7 1.20 -0.2 1.20 -1.0 1.20 0.3 1.20 1.4 1.20 -1.4 1.20 -1.4 1.20 0.5 1.20 0.9 1.20 0.8 1.20 0.0 1.20 0.2 1.20 0.0 1.20 0.2 1.20 0.3 1.20 -0.3 1.20 0.0 1.20 1.3 1.20 0.2 1.20 -2.1 1.20 0.5 1.20 2.5 1.20 -0.0 1.20 -2.1 1.20 -2.0 1.20 -0.3 1.20 0.8 1.20 0.4 1.20 0.5 1.20 1.8 1.20 1.2 1.20 -0.5 1.20 0.0 1.20 -0.4 1.20 -0.2 1.20 1.0 1.20 -0.8 1.20 -1.5 1.20 -0.7 1.20 0.2 1.20 0.6 1.20 -1.8 1.20 -1.3 1.20 1.7 1.20 1.5 1.20 0.3 1.20 -0.3 1.20 -1.1 1.20 -0.2 1.20 1.6 1.20 1.6 1.20 0.2 1.20 -1.6 1.20 -0.8 1.20 0.7 1.20 0.2 1.20 0.2 1.20 -0.3 1.20 -1.5 1.20 -1.2 1.20 -0.5 1.20 1.0 1.20 2.1 1.20 0.4 1.20 -0.5 1.20 0.2 1.20 -0.6 1.20 -1.3 1.20 -1.1 1.20 -0.3 1.20 0.6 1.20 0.6 1.20 0.7 1.20 1.9 1.20 1.3 1.20 -1.4 1.20 -0.6 1.20 0.9 1.20 -0.4 1.20 -1.3 1.20 -0.9 1.20 0.4 1.20 -0.2 1.20 -1.4 1.20 0.4 1.20 1.0 1.20 -1.2 1.20 -0.8 1.20 1.4 1.20 1.7 1.20 0.7 1.20 -0.5 1.20 -0.5 1.20 -0.5 1.20 -2.1 1.20 -1.7 1.20 0.3 1.20 2.1 1.20 2.0 1.20 0.1 1.20 0.6 1.20 0.5 1.20 -0.8 1.20 -0.7 1.20 0.2 1.20 0.2 1.20 -1.5 1.20 -1.0 1.20 0.9 1.20 -0.0 1.20 0.3 1.20 1.7 1.20 0.1 1.20 -1.7 1.20 -1.0 1.20 0.5 1.20 0.9 1.20 0.2 1.20 0.2 1.20 0.2 1.20 -1.3 1.20 -0.6 1.20 2.0 1.20 1.4 1.20 -0.6 1.20 -0.5 1.20 -0.5 1.20 -0.3 1.20 0.1 1.20 -1.1 1.20 -1.4 1.20 -0.4 1.20 0.3 1.20 2.0 1.20 2.6 1.20 -0.0 1.20 -1.6 1.20 -0.5"/><path d="M369.2,752.1l1.20 -0.2 1.20 -0.8 1.20 0.1 1.20 -0.5 1.20 -1.2 1.20 0.8 1.20 1.3 1.20 -0.2 1.20 -0.1 1.20 0.0 1.20 -1.1 1.20 0.2 1.20 1.3 1.20 -0.3 1.20 -0.8 1.20 -0.2 1.20 -1.2 1.20 -0.8 1.20 1.0 1.20 0.1 1.20 0.6 1.20 1.3 1.20 -0.6 1.20 -0.2 1.20 1.2 1.20 0.6 1.20 -0.7 1.20 -1.2 1.20 -0.6 1.20 -0.3 1.20 -0.6 1.20 1.1 1.20 1.7 1.20 -1.2 1.20 -0.7 1.20 0.8 1.20 0.0 1.20 -0.2 1.20 -0.3 1.20 1.1 1.20 0.2 1.20 -0.3 1.20 1.3 1.20 0.6 1.20 -0.1 1.20 -1.4 1.20 -1.6 1.20 0.9 1.20 0.4 1.20 -1.1 1.20 -0.2 1.20 0.6 1.20 0.6 1.20 -0.0 1.20 -0.6 1.20 -0.1 1.20 -0.1 1.20 -0.4 1.20 0.6 1.20 0.3 1.20 -1.4 1.20 -0.6 1.20 0.1 1.20 -0.9 1.20 -1.1 1.20 1.5 1.20 5.8 1.20 12.2 1.20 9.8 1.20 -9.4 1.20 -15.1 1.20 -6.0 1.20 -1.8 1.20 0.3 1.20 2.5 1.20 1.3 1.20 0.9 1.20 1.5 1.20 0.4 1.20 -0.5 1.20 -0.7 1.20 -0.4 1.20 0.2 1.20 -0.0 1.20 0.1 1.20 0.5 1.20 1.0 1.20 0.7 1.20 -0.9 1.20 -1.8 1.20 -1.1 1.20 0.2 1.20 1.2 1.20 1.4 1.20 0.4 1.20 -1.1 1.20 -1.3 1.20 1.0 1.20 2.1 1.20 0.3 1.20 -0.3 1.20 -0.6 1.20 -1.4 1.20 -0.7 1.20 -0.4 1.20 -0.2 1.20 1.4 1.20 0.8 1.20 -0.4 1.20 -0.2 1.20 -0.3 1.20 0.2 1.20 1.0 1.20 0.4 1.20 -0.6 1.20 0.1 1.20 -0.5 1.20 -1.1 1.20 0.1 1.20 -0.7 1.20 -0.7 1.20 1.1 1.20 0.2 1.20 -0.3 1.20 0.8 1.20 -0.0 1.20 -0.9 1.20 0.7 1.20 2.1 1.20 0.1 1.20 -1.3 1.20 -0.3 1.20 0.2 1.20 -0.9 1.20 -1.1 1.20 0.6 1.20 1.0 1.20 -0.5 1.20 -0.6 1.20 1.0 1.20 1.3 1.20 0.0 1.20 0.3 1.20 0.8 1.20 0.3 1.20 -0.1 1.20 -1.0 1.20 -1.0 1.20 -0.4 1.20 -0.0 1.20 1.3 1.20 1.1 1.20 -0.3 1.20 -0.5 1.20 -1.1 1.20 -1.6 1.20 -0.8 1.20 1.0 1.20 2.5 1.20 1.7 1.20 -1.0 1.20 -0.5 1.20 0.4 1.20 -1.0 1.20 -0.2 1.20 -0.8 1.20 -0.9 1.20 2.3 1.20 1.5 1.20 -0.6 1.20 -0.2 1.20 -1.1 1.20 -0.4 1.20 1.1 1.20 0.4 1.20 -1.2 1.20 -1.7 1.20 -0.3 1.20 1.4 1.20 1.4 1.20 0.1 1.20 -0.6 1.20 -0.5 1.20 0.6 1.20 1.1 1.20 -1.6 1.20 -1.7 1.20 0.9 1.20 0.3 1.20 0.2 1.20 0.8 1.20 0.4 1.20 0.4 1.20 -0.3 1.20 -0.9 1.20 -1.2 1.20 0.6 1.20 1.8 1.20 -1.2 1.20 -1.1 1.20 1.5 1.20 0.3 1.20 -1.4 1.20 -0.4 1.20 0.5 1.20 0.2 1.20 1.5 1.20 1.3 1.20 -0.6 1.20 -0.3 1.20 -1.0 1.20 -1.5 1.20 -0.3 1.20 1.1 1.20 1.7 1.20 0.0 1.20 -0.1 1.20 0.3 1.20 -0.2 1.20 -0.5 1.20 -0.4 1.20 0.2 1.20 -1.1 1.20 -0.5 1.20 -0.5 1.20 -5.4 1.20 3.3 1.20 9.9 1.20 0.1 1.20 -5.8 1.20 0.6 1.20 1.0 1.20 -0.3 1.20 -1.2 1.20 -0.4 1.20 0.2 1.20 0.4 1.20 -0.1 1.20 -1.7 1.20 -0.4 1.20 2.2 1.20 0.1 1.20 -1.8 1.20 0.3 1.20 0.5 1.20 -0.6 1.20 0.9 1.20 0.1 1.20 -1.6 1.20 0.2"/><path d="M369.2,790.8l1.20 0.7 1.20 0.5 1.20 0.8 1.20 1.0 1.20 -0.5 1.20 -0.8 1.20 0.4 1.20 0.4 1.20 -0.5 1.20 -0.9 1.20 -0.2 1.20 0.9 1.20 -0.3 1.20 -1.3 1.20 -0.3 1.20 0.9 1.20 1.0 1.20 -0.3 1.20 -1.2 1.20 0.2 1.20 1.4 1.20 0.1 1.20 -0.6 1.20 -0.4 1.20 -0.4 1.20 -0.2 1.20 0.0 1.20 1.0 1.20 0.1 1.20 -1.8 1.20 -1.6 1.20 0.6 1.20 2.1 1.20 0.4 1.20 -1.4 1.20 -0.4 1.20 1.7 1.20 0.7 1.20 -1.3 1.20 -0.5 1.20 0.4 1.20 0.7 1.20 -2.1 1.20 -6.1 1.20 5.0 1.20 11.9 1.20 0.7 1.20 -7.4 1.20 -1.4 1.20 0.4 1.20 0.8 1.20 -0.8 1.20 -2.0 1.20 -0.3 1.20 1.1 1.20 0.6 1.20 1.0 1.20 0.4 1.20 -1.9 1.20 -0.9 1.20 0.8 1.20 -0.2 1.20 -0.4 1.20 0.9 1.20 0.2 1.20 -0.6 1.20 -1.8 1.20 -3.0 1.20 -0.5 1.20 1.2 1.20 0.5 1.20 -0.1 1.20 1.0 1.20 6.0 1.20 13.7 1.20 8.8 1.20 -11.2 1.20 -14.0 1.20 -4.8 1.20 -0.1 1.20 0.9 1.20 0.1 1.20 0.6 1.20 1.4 1.20 0.5 1.20 0.1 1.20 0.8 1.20 1.1 1.20 -0.3 1.20 -1.6 1.20 -0.8 1.20 -0.2 1.20 0.4 1.20 1.0 1.20 0.2 1.20 0.0 1.20 0.2 1.20 -1.8 1.20 -1.4 1.20 1.6 1.20 0.6 1.20 -0.4 1.20 0.6 1.20 -0.3 1.20 -0.9 1.20 -0.3 1.20 0.4 1.20 1.3 1.20 0.8 1.20 -0.3 1.20 -0.5 1.20 0.3 1.20 0.1 1.20 -0.8 1.20 0.8 1.20 2.2 1.20 0.7 1.20 -1.1 1.20 -2.1 1.20 -1.0 1.20 -0.1 1.20 -1.2 1.20 -0.3 1.20 1.8 1.20 0.7 1.20 -0.4 1.20 -0.3 1.20 -0.7 1.20 0.8 1.20 1.5 1.20 0.5 1.20 0.1 1.20 -0.5 1.20 -0.0 1.20 0.6 1.20 -1.3 1.20 -0.9 1.20 0.8 1.20 -0.4 1.20 -0.4 1.20 0.2 1.20 0.2 1.20 0.7 1.20 0.6 1.20 0.5 1.20 0.1 1.20 0.3 1.20 -0.3 1.20 -1.2 1.20 -0.5 1.20 -0.1 1.20 0.6 1.20 1.0 1.20 -0.9 1.20 -1.1 1.20 1.2 1.20 1.3 1.20 -0.6 1.20 -1.4 1.20 -1.1 1.20 0.2 1.20 1.0 1.20 0.2 1.20 0.1 1.20 0.4 1.20 -0.6 1.20 0.4 1.20 1.8 1.20 -0.6 1.20 -2.1 1.20 -0.6 1.20 0.6 1.20 0.8 1.20 0.1 1.20 -1.0 1.20 -0.4 1.20 0.6 1.20 2.2 1.20 1.4 1.20 -1.7 1.20 -1.0 1.20 -0.9 1.20 -0.8 1.20 0.5 1.20 0.6 1.20 0.7 1.20 0.1 1.20 -0.5 1.20 -0.7 1.20 -0.1 1.20 1.5 1.20 1.3 1.20 -0.5 1.20 -1.6 1.20 -0.3 1.20 0.8 1.20 -0.5 1.20 -1.3 1.20 0.1 1.20 0.4 1.20 0.1 1.20 1.3 1.20 0.7 1.20 -1.1 1.20 -1.9 1.20 -2.0 1.20 0.5 1.20 3.7 1.20 2.1 1.20 -1.2 1.20 -1.6 1.20 -0.5 1.20 0.9 1.20 0.9 1.20 -0.4 1.20 -0.0 1.20 0.3 1.20 -0.8 1.20 -1.5 1.20 -0.5 1.20 1.5 1.20 0.3 1.20 -1.5 1.20 -0.2 1.20 1.5 1.20 1.2 1.20 -0.7 1.20 -0.9 1.20 0.1 1.20 -0.0 1.20 0.7 1.20 0.9 1.20 -0.7 1.20 -1.1 1.20 -0.7 1.20 -0.4 1.20 0.3 1.20 0.4 1.20 0.4 1.20 0.2 1.20 -0.3 1.20 -0.5 1.20 0.1 1.20 0.5 1.20 0.1 1.20 0.4 1.20 -0.1 1.20 -0.7 1.20 0.2 1.20 0.6"/><path d="M369.2,790.9l1.20 1.0 1.20 1.5 1.20 -0.9 1.20 -1.4 1.20 0.0 1.20 -0.1 1.20 -0.7 1.20 0.2 1.20 1.8 1.20 2.6 1.20 1.1 1.20 -1.8 1.20 -2.9 1.20 -1.5 1.20 0.6 1.20 1.3 1.20 -0.2 1.20 -1.7 1.20 -0.7 1.20 1.3 1.20 1.6 1.20 0.8 1.20 -0.5 1.20 -1.0 1.20 -0.7 1.20 -1.3 1.20 0.3 1.20 1.3 1.20 -0.3 1.20 0.1 1.20 0.6 1.20 0.5 1.20 0.7 1.20 -0.4 1.20 -0.8 1.20 -0.5 1.20 -0.2 1.20 1.0 1.20 1.0 1.20 -0.4 1.20 -0.7 1.20 -0.7 1.20 0.4 1.20 0.6 1.20 -0.8 1.20 -0.3 1.20 0.5 1.20 0.1 1.20 0.4 1.20 -0.2 1.20 -0.6 1.20 0.3 1.20 -0.1 1.20 -0.2 1.20 -0.8 1.20 -0.4 1.20 1.5 1.20 0.8 1.20 -0.8 1.20 -0.7 1.20 0.6 1.20 0.8 1.20 -1.0 1.20 -1.3 1.20 0.8 1.20 1.5 1.20 1.0 1.20 0.2 1.20 -0.5 1.20 -0.1 1.20 -0.0 1.20 0.0 1.20 -0.0 1.20 -0.6 1.20 -1.5 1.20 -1.4 1.20 -0.3 1.20 0.3 1.20 -0.5 1.20 0.3 1.20 5.7 1.20 14.3 1.20 9.2 1.20 -12.2 1.20 -14.1 1.20 -3.7 1.20 0.2 1.20 0.1 1.20 -0.8 1.20 1.0 1.20 2.0 1.20 1.0 1.20 0.8 1.20 -0.0 1.20 -0.0 1.20 0.7 1.20 -0.3 1.20 -1.1 1.20 -0.9 1.20 0.5 1.20 1.9 1.20 0.2 1.20 -1.7 1.20 -0.9 1.20 1.0 1.20 0.6 1.20 -1.4 1.20 -0.0 1.20 2.5 1.20 -0.3 1.20 -4.0 1.20 -1.1 1.20 3.0 1.20 1.7 1.20 -0.8 1.20 -1.2 1.20 -0.7 1.20 0.4 1.20 0.6 1.20 0.3 1.20 0.2 1.20 -1.2 1.20 0.2 1.20 2.1 1.20 -0.1 1.20 -1.1 1.20 -0.6 1.20 -0.2 1.20 0.7 1.20 1.1 1.20 0.8 1.20 -1.2 1.20 -1.9 1.20 0.6 1.20 1.7 1.20 0.1 1.20 -0.0 1.20 0.8 1.20 0.2 1.20 -0.5 1.20 -0.8 1.20 0.4 1.20 0.2 1.20 -0.5 1.20 0.3 1.20 -0.5 1.20 -0.9 1.20 -0.1 1.20 0.2 1.20 -0.6 1.20 -1.2 1.20 -0.2 1.20 0.9 1.20 0.9 1.20 0.1 1.20 1.1 1.20 1.1 1.20 -1.3 1.20 -1.2 1.20 -0.3 1.20 0.1 1.20 0.9 1.20 0.8 1.20 0.1 1.20 -1.0 1.20 0.1 1.20 2.1 1.20 0.0 1.20 -1.7 1.20 0.1 1.20 0.0 1.20 -1.3 1.20 -0.8 1.20 0.5 1.20 0.3 1.20 -0.1 1.20 1.1 1.20 1.0 1.20 -1.0 1.20 -0.5 1.20 0.5 1.20 -1.6 1.20 -1.0 1.20 1.5 1.20 0.7 1.20 0.2 1.20 0.6 1.20 -0.5 1.20 -1.0 1.20 0.7 1.20 0.3 1.20 -0.9 1.20 -0.4 1.20 -0.3 1.20 0.5 1.20 0.2 1.20 -0.8 1.20 0.1 1.20 1.2 1.20 0.8 1.20 -0.0 1.20 -0.6 1.20 0.2 1.20 -0.3 1.20 -1.1 1.20 0.8 1.20 0.4 1.20 -0.8 1.20 0.3 1.20 1.2 1.20 0.3 1.20 -1.6 1.20 -1.1 1.20 0.6 1.20 0.7 1.20 0.6 1.20 0.2 1.20 -0.1 1.20 -0.4 1.20 -0.3 1.20 0.7 1.20 1.0 1.20 0.7 1.20 -0.7 1.20 -1.7 1.20 -0.6 1.20 1.1 1.20 1.2 1.20 -0.9 1.20 -1.0 1.20 0.8 1.20 0.6 1.20 -0.1 1.20 0.4 1.20 0.3 1.20 -0.9 1.20 -0.0 1.20 0.1 1.20 -1.6 1.20 -0.9 1.20 -0.6 1.20 -1.1 1.20 0.4 1.20 1.2 1.20 1.1 1.20 0.2 1.20 -0.3 1.20 1.0 1.20 0.3 1.20 -1.0"/><path d="M369.2,790.4l1.20 -0.1 1.20 0.7 1.20 0.1 1.20 -0.2 1.20 0.7 1.20 0.1 1.20 -0.1 1.20 0.5 1.20 0.4 1.20 -0.6 1.20 -0.7 1.20 0.2 1.20 0.6 1.20 -0.4 1.20 -1.2 1.20 -0.2 1.20 0.4 1.20 0.4 1.20 1.3 1.20 0.8 1.20 -0.5 1.20 -0.7 1.20 -0.8 1.20 0.5 1.20 1.6 1.20 0.5 1.20 -0.2 1.20 -0.6 1.20 -2.0 1.20 -0.8 1.20 0.9 1.20 0.4 1.20 1.2 1.20 0.6 1.20 -1.2 1.20 -0.6 1.20 -0.8 1.20 -0.9 1.20 0.6 1.20 1.2 1.20 -0.3 1.20 -1.4 1.20 0.3 1.20 1.3 1.20 1.1 1.20 0.3 1.20 -0.8 1.20 0.3 1.20 0.2 1.20 -0.1 1.20 1.7 1.20 0.7 1.20 -0.8 1.20 -1.1 1.20 -1.1 1.20 0.7 1.20 1.5 1.20 -0.5 1.20 -2.0 1.20 -0.8 1.20 0.4 1.20 0.7 1.20 0.2 1.20 -0.8 1.20 -0.4 1.20 1.1 1.20 1.0 1.20 -1.1 1.20 -0.8 1.20 0.4 1.20 -1.5 1.20 -1.6 1.20 1.5 1.20 1.7 1.20 -0.7 1.20 -0.5 1.20 -1.0 1.20 -1.9 1.20 1.6 1.20 2.8 1.20 -0.3 1.20 -1.0 1.20 -0.2 1.20 -0.7 1.20 -0.2 1.20 0.8 1.20 0.5 1.20 0.3 1.20 0.4 1.20 0.4 1.20 0.4 1.20 0.0 1.20 -0.2 1.20 -1.3 1.20 -0.7 1.20 1.1 1.20 0.4 1.20 -0.3 1.20 0.3 1.20 0.2 1.20 1.0 1.20 0.7 1.20 -0.7 1.20 -0.0 1.20 0.3 1.20 -0.7 1.20 -1.0 1.20 -0.3 1.20 1.1 1.20 1.2 1.20 -0.4 1.20 -0.9 1.20 -0.1 1.20 -0.2 1.20 -0.6 1.20 0.8 1.20 0.6 1.20 -1.6 1.20 -1.2 1.20 0.5 1.20 1.4 1.20 1.0 1.20 -1.0 1.20 -1.0 1.20 0.8 1.20 0.3 1.20 -0.9 1.20 -0.1 1.20 0.8 1.20 0.8 1.20 0.0 1.20 -1.4 1.20 -1.3 1.20 0.5 1.20 1.0 1.20 -0.2 1.20 -0.0 1.20 0.4 1.20 -0.1 1.20 0.9 1.20 0.6 1.20 -1.4 1.20 -0.2 1.20 0.8 1.20 -0.5 1.20 -0.2 1.20 0.7 1.20 0.4 1.20 -1.4 1.20 -0.7 1.20 1.3 1.20 0.8 1.20 0.2 1.20 0.5 1.20 -0.1 1.20 -1.2 1.20 -0.9 1.20 -0.2 1.20 0.9 1.20 0.8 1.20 -0.9 1.20 -1.1 1.20 1.3 1.20 1.7 1.20 -1.5 1.20 -1.0 1.20 1.5 1.20 0.5 1.20 -1.6 1.20 -0.3 1.20 1.2 1.20 -0.7 1.20 -0.6 1.20 0.4 1.20 0.3 1.20 -0.1 1.20 -1.5 1.20 1.2 1.20 1.7 1.20 -1.4 1.20 -0.0 1.20 0.3 1.20 -0.6 1.20 0.1 1.20 0.9 1.20 0.8 1.20 -0.8 1.20 -1.2 1.20 0.6 1.20 0.5 1.20 -0.3 1.20 0.9 1.20 0.5 1.20 -0.9 1.20 -0.1 1.20 0.4 1.20 -0.7 1.20 -0.7 1.20 -0.9 1.20 -1.7 1.20 0.0 1.20 1.6 1.20 0.4 1.20 0.3 1.20 0.6 1.20 0.4 1.20 -0.0 1.20 -1.1 1.20 0.1 1.20 0.9 1.20 -0.0 1.20 -1.2 1.20 -1.3 1.20 1.1 1.20 1.9 1.20 -0.6 1.20 -1.6 1.20 0.6 1.20 1.1 1.20 -0.3 1.20 0.2 1.20 0.0 1.20 -0.2 1.20 1.1 1.20 0.6 1.20 -0.7 1.20 0.0 1.20 0.5 1.20 -0.1 1.20 0.3 1.20 -0.2 1.20 -0.9 1.20 -0.0 1.20 1.1 1.20 0.4 1.20 -0.3 1.20 0.2 1.20 -1.5 1.20 -1.4 1.20 0.9 1.20 -0.4 1.20 -0.7 1.20 0.9 1.20 0.7 1.20 0.2 1.20 -0.4 1.20 -1.1 1.20 -0.3 1.20 0.2 1.20 0.2"/><path d="M369.2,791.5l1.20 -0.6 1.20 -0.1 1.20 0.1 1.20 0.1 1.20 -0.0 1.20 -0.6 1.20 -0.8 1.20 0.3 1.20 1.4 1.20 0.5 1.20 -1.2 1.20 -0.1 1.20 0.4 1.20 -1.2 1.20 -0.2 1.20 1.1 1.20 0.6 1.20 0.5 1.20 0.7 1.20 1.5 1.20 -0.1 1.20 -2.3 1.20 -0.7 1.20 0.2 1.20 -0.5 1.20 0.1 1.20 0.7 1.20 -0.6 1.20 -1.7 1.20 0.2 1.20 1.9 1.20 2.2 1.20 0.3 1.20 -1.8 1.20 -0.9 1.20 0.2 1.20 0.6 1.20 -0.1 1.20 -0.1 1.20 0.0 1.20 -0.6 1.20 -0.5 1.20 0.1 1.20 0.7 1.20 -0.5 1.20 -1.6 1.20 0.0 1.20 1.5 1.20 0.5 1.20 -0.9 1.20 -0.8 1.20 1.0 1.20 2.2 1.20 0.4 1.20 -1.3 1.20 -1.4 1.20 0.7 1.20 1.5 1.20 -0.3 1.20 -0.4 1.20 -0.6 1.20 -1.0 1.20 0.7 1.20 0.7 1.20 -1.3 1.20 -1.4 1.20 0.9 1.20 1.4 1.20 -0.4 1.20 -0.5 1.20 -0.0 1.20 -0.3 1.20 1.1 1.20 1.7 1.20 -0.4 1.20 -0.6 1.20 -0.2 1.20 -0.8 1.20 0.8 1.20 0.8 1.20 -1.5 1.20 0.1 1.20 1.8 1.20 -0.1 1.20 -1.3 1.20 0.0 1.20 0.9 1.20 -0.6 1.20 -1.1 1.20 0.4 1.20 -0.2 1.20 -0.4 1.20 0.7 1.20 -0.1 1.20 -1.8 1.20 -0.7 1.20 1.1 1.20 -0.1 1.20 0.7 1.20 1.5 1.20 -0.2 1.20 -0.2 1.20 0.4 1.20 -0.5 1.20 -0.9 1.20 1.0 1.20 0.7 1.20 -1.8 1.20 -0.5 1.20 1.6 1.20 0.7 1.20 -0.8 1.20 -0.7 1.20 0.0 1.20 1.2 1.20 0.4 1.20 -0.8 1.20 0.4 1.20 -0.7 1.20 -1.8 1.20 0.7 1.20 0.4 1.20 -1.4 1.20 0.6 1.20 1.4 1.20 -0.8 1.20 -0.4 1.20 1.1 1.20 1.0 1.20 0.6 1.20 -0.5 1.20 -1.1 1.20 0.7 1.20 0.9 1.20 -0.5 1.20 0.7 1.20 0.2 1.20 -1.8 1.20 -0.5 1.20 1.4 1.20 0.6 1.20 -0.8 1.20 -0.6 1.20 0.2 1.20 0.2 1.20 -0.3 1.20 -0.7 1.20 -0.0 1.20 0.8 1.20 0.2 1.20 -0.5 1.20 -0.4 1.20 -0.7 1.20 -0.4 1.20 0.6 1.20 0.3 1.20 0.9 1.20 1.8 1.20 -0.3 1.20 -1.6 1.20 0.0 1.20 -0.0 1.20 -0.4 1.20 0.9 1.20 1.3 1.20 0.2 1.20 -1.9 1.20 -1.8 1.20 0.9 1.20 1.6 1.20 -0.2 1.20 -1.4 1.20 -1.5 1.20 -0.3 1.20 1.0 1.20 1.1 1.20 0.3 1.20 0.2 1.20 0.0 1.20 -0.5 1.20 0.2 1.20 0.2 1.20 -0.3 1.20 -0.1 1.20 -0.1 1.20 -0.6 1.20 -0.4 1.20 1.0 1.20 1.8 1.20 0.5 1.20 -0.2 1.20 0.7 1.20 0.3 1.20 -1.4 1.20 -2.1 1.20 0.5 1.20 1.5 1.20 -1.0 1.20 -0.5 1.20 2.1 1.20 1.6 1.20 -0.7 1.20 -1.1 1.20 -0.1 1.20 -0.8 1.20 -1.3 1.20 1.1 1.20 2.5 1.20 -0.8 1.20 -1.8 1.20 1.6 1.20 1.1 1.20 -0.5 1.20 -1.1 1.20 -2.3 1.20 -1.8 1.20 0.6 1.20 2.0 1.20 0.9 1.20 -0.1 1.20 -0.3 1.20 -0.6 1.20 -0.6 1.20 0.1 1.20 1.0 1.20 0.2 1.20 -1.4 1.20 -4.8 1.20 3.9 1.20 9.6 1.20 -0.9 1.20 -6.4 1.20 0.5 1.20 0.6 1.20 -0.6 1.20 -0.9 1.20 -0.3 1.20 -0.1 1.20 1.0 1.20 1.0 1.20 0.2 1.20 0.8 1.20 0.4 1.20 -1.7 1.20 -1.2 1.20 1.3 1.20 1.0 1.20 -0.2 1.20 -0.9 1.20 -1.2"/><path d="M369.2,791.1l1.20 -0.2 1.20 0.6 1.20 0.6 1.20 -0.7 1.20 -1.0 1.20 1.0 1.20 0.6 1.20 -1.6 1.20 -0.4 1.20 1.3 1.20 1.0 1.20 0.4 1.20 0.7 1.20 0.6 1.20 -0.9 1.20 -1.6 1.20 -1.3 1.20 0.5 1.20 1.6 1.20 -0.5 1.20 -1.7 1.20 0.2 1.20 1.9 1.20 0.8 1.20 -1.1 1.20 -1.0 1.20 0.7 1.20 0.7 1.20 -0.9 1.20 -0.6 1.20 -0.2 1.20 -0.6 1.20 -0.3 1.20 0.0 1.20 1.1 1.20 1.4 1.20 -0.1 1.20 -0.4 1.20 0.1 1.20 0.3 1.20 0.5 1.20 0.3 1.20 -0.4 1.20 -0.9 1.20 0.4 1.20 1.5 1.20 0.2 1.20 -0.7 1.20 -0.1 1.20 0.1 1.20 -0.2 1.20 -0.4 1.20 -0.9 1.20 -1.0 1.20 0.2 1.20 0.5 1.20 -0.2 1.20 0.2 1.20 -0.5 1.20 -1.1 1.20 1.3 1.20 1.0 1.20 -0.6 1.20 -0.5 1.20 -0.7 1.20 -0.2 1.20 0.2 1.20 -0.1 1.20 0.6 1.20 0.9 1.20 0.1 1.20 -0.2 1.20 -0.1 1.20 0.2 1.20 -0.9 1.20 -0.4 1.20 2.1 1.20 0.4 1.20 -1.4 1.20 -0.5 1.20 -0.1 1.20 0.6 1.20 1.2 1.20 -0.1 1.20 -1.7 1.20 -0.7 1.20 1.5 1.20 0.5 1.20 -0.5 1.20 0.5 1.20 0.8 1.20 -0.7 1.20 -1.9 1.20 1.1 1.20 2.3 1.20 -1.1 1.20 -1.6 1.20 -0.6 1.20 -0.5 1.20 0.5 1.20 0.5 1.20 0.4 1.20 0.0 1.20 -0.0 1.20 0.4 1.20 -0.8 1.20 -0.6 1.20 0.1 1.20 -1.1 1.20 0.3 1.20 1.8 1.20 -0.2 1.20 -0.7 1.20 1.0 1.20 0.2 1.20 -1.1 1.20 -0.1 1.20 0.1 1.20 0.3 1.20 1.1 1.20 0.4 1.20 0.2 1.20 0.9 1.20 -0.5 1.20 -1.5 1.20 0.8 1.20 1.1 1.20 -1.0 1.20 -0.7 1.20 0.6 1.20 0.0 1.20 -0.3 1.20 -0.6 1.20 -0.4 1.20 0.5 1.20 -1.3 1.20 -0.9 1.20 2.5 1.20 1.4 1.20 -0.6 1.20 0.3 1.20 0.2 1.20 -0.3 1.20 0.4 1.20 -0.6 1.20 -0.5 1.20 1.1 1.20 0.1 1.20 -1.6 1.20 -1.0 1.20 1.0 1.20 0.8 1.20 -1.7 1.20 -0.1 1.20 1.1 1.20 -0.8 1.20 0.4 1.20 0.5 1.20 -0.5 1.20 0.5 1.20 1.1 1.20 0.4 1.20 0.2 1.20 0.5 1.20 -1.2 1.20 -2.1 1.20 -0.4 1.20 1.3 1.20 0.3 1.20 -1.0 1.20 -0.3 1.20 1.4 1.20 2.0 1.20 0.0 1.20 -0.5 1.20 0.3 1.20 -0.5 1.20 -0.7 1.20 -0.9 1.20 -1.2 1.20 0.4 1.20 1.2 1.20 0.7 1.20 0.1 1.20 -0.2 1.20 -0.2 1.20 -0.7 1.20 -0.5 1.20 0.3 1.20 0.4 1.20 -0.2 1.20 -0.7 1.20 0.1 1.20 1.3 1.20 1.1 1.20 -0.2 1.20 -0.5 1.20 -0.2 1.20 -0.7 1.20 -1.3 1.20 -0.2 1.20 0.8 1.20 1.0 1.20 0.5 1.20 -1.7 1.20 -1.6 1.20 1.4 1.20 1.7 1.20 0.6 1.20 0.5 1.20 -0.6 1.20 -1.6 1.20 -0.4 1.20 0.6 1.20 0.3 1.20 0.4 1.20 -1.1 1.20 -1.1 1.20 1.0 1.20 1.5 1.20 -0.8 1.20 -5.3 1.20 4.2 1.20 10.6 1.20 -1.6 1.20 -9.2 1.20 -0.9 1.20 1.6 1.20 0.9 1.20 -0.1 1.20 -0.5 1.20 -0.4 1.20 0.9 1.20 -0.0 1.20 -1.2 1.20 0.3 1.20 0.1 1.20 -1.5 1.20 0.1 1.20 2.3 1.20 -0.2 1.20 -1.8 1.20 0.6 1.20 0.1 1.20 -0.9 1.20 0.0 1.20 -0.2 1.20 -0.1 1.20 0.8 1.20 0.8"/><path d="M369.2,833.3l1.20 -0.3 1.20 -0.3 1.20 0.6 1.20 0.3 1.20 -1.2 1.20 -1.1 1.20 0.1 1.20 0.9 1.20 0.8 1.20 0.8 1.20 0.2 1.20 -0.4 1.20 0.2 1.20 -0.1 1.20 0.2 1.20 0.7 1.20 -1.6 1.20 -1.2 1.20 1.5 1.20 1.1 1.20 0.1 1.20 -0.1 1.20 -1.2 1.20 -1.2 1.20 1.0 1.20 1.3 1.20 -0.9 1.20 -2.0 1.20 0.7 1.20 1.2 1.20 0.3 1.20 0.6 1.20 -1.1 1.20 -1.3 1.20 0.2 1.20 -0.7 1.20 -1.2 1.20 0.2 1.20 1.1 1.20 2.1 1.20 1.0 1.20 -1.5 1.20 -0.7 1.20 1.0 1.20 0.5 1.20 0.2 1.20 -0.1 1.20 -1.1 1.20 -0.7 1.20 -0.4 1.20 0.2 1.20 1.6 1.20 0.6 1.20 -0.8 1.20 0.0 1.20 0.6 1.20 -0.1 1.20 -0.4 1.20 -0.1 1.20 -0.1 1.20 -0.7 1.20 -0.2 1.20 1.0 1.20 0.4 1.20 -0.8 1.20 0.3 1.20 1.2 1.20 -0.3 1.20 -0.4 1.20 -0.1 1.20 -1.8 1.20 -1.1 1.20 2.2 1.20 1.7 1.20 -1.5 1.20 -1.7 1.20 -0.3 1.20 0.3 1.20 1.0 1.20 0.7 1.20 0.5 1.20 0.9 1.20 -0.8 1.20 -2.3 1.20 -1.2 1.20 -1.0 1.20 0.6 1.20 3.4 1.20 5.4 1.20 12.0 1.20 9.6 1.20 -10.3 1.20 -14.4 1.20 -6.1 1.20 -2.2 1.20 0.7 1.20 1.6 1.20 0.0 1.20 0.8 1.20 2.8 1.20 0.3 1.20 -2.3 1.20 0.5 1.20 1.5 1.20 -0.3 1.20 0.2 1.20 0.6 1.20 -0.2 1.20 -0.5 1.20 0.6 1.20 0.6 1.20 -0.7 1.20 1.4 1.20 1.7 1.20 -0.5 1.20 -0.8 1.20 -3.4 1.20 -6.8 1.20 5.2 1.20 14.4 1.20 1.1 1.20 -9.8 1.20 -2.2 1.20 -0.5 1.20 0.0 1.20 0.4 1.20 -0.6 1.20 -0.5 1.20 0.5 1.20 0.3 1.20 -0.0 1.20 -1.1 1.20 -0.5 1.20 0.5 1.20 -0.2 1.20 0.3 1.20 -0.7 1.20 -0.4 1.20 1.5 1.20 0.1 1.20 -0.3 1.20 -0.8 1.20 -1.8 1.20 0.5 1.20 1.5 1.20 0.4 1.20 0.4 1.20 0.9 1.20 0.0 1.20 -0.3 1.20 0.6 1.20 -0.2 1.20 -0.8 1.20 -0.1 1.20 1.0 1.20 0.5 1.20 -0.7 1.20 0.2 1.20 -0.4 1.20 -0.9 1.20 -0.2 1.20 0.1 1.20 0.4 1.20 -0.4 1.20 0.1 1.20 1.0 1.20 -0.1 1.20 -0.5 1.20 0.8 1.20 0.8 1.20 -0.5 1.20 -1.2 1.20 -0.4 1.20 0.5 1.20 -0.4 1.20 0.0 1.20 1.3 1.20 1.0 1.20 -0.3 1.20 -1.0 1.20 -0.5 1.20 0.5 1.20 1.1 1.20 -0.6 1.20 -2.1 1.20 -0.2 1.20 2.0 1.20 0.0 1.20 -1.4 1.20 0.3 1.20 0.7 1.20 0.1 1.20 -1.7 1.20 -0.9 1.20 1.4 1.20 0.0 1.20 -0.3 1.20 -0.3 1.20 -1.0 1.20 0.2 1.20 1.1 1.20 0.5 1.20 0.5 1.20 1.0 1.20 -0.5 1.20 -0.6 1.20 -0.6 1.20 -0.6 1.20 1.2 1.20 1.0 1.20 0.6 1.20 -0.3 1.20 -1.4 1.20 0.3 1.20 0.8 1.20 -0.2 1.20 -0.5 1.20 -0.8 1.20 -0.5 1.20 0.8 1.20 1.1 1.20 0.7 1.20 0.0 1.20 -0.5 1.20 0.5 1.20 0.2 1.20 -1.0 1.20 -0.9 1.20 -0.5 1.20 -0.5 1.20 0.1 1.20 1.3 1.20 -0.1 1.20 0.4 1.20 1.9 1.20 -1.2 1.20 -1.5 1.20 1.0 1.20 0.7 1.20 -1.3 1.20 -1.2 1.20 0.1 1.20 0.5 1.20 1.9 1.20 0.9 1.20 -0.4 1.20 0.6 1.20 0.4 1.20 -1.5 1.20 -1.4"/><path d="M369.2,835.2l1.20 -0.1 1.20 -1.0 1.20 -0.9 1.20 -0.9 1.20 -0.4 1.20 0.9 1.20 0.8 1.20 0.4 1.20 -0.1 1.20 -0.6 1.20 0.3 1.20 0.3 1.20 -0.3 1.20 0.4 1.20 0.4 1.20 -0.4 1.20 0.3 1.20 0.5 1.20 -0.5 1.20 -2.4 1.20 -1.3 1.20 1.8 1.20 0.8 1.20 0.8 1.20 1.2 1.20 -0.6 1.20 -0.5 1.20 0.6 1.20 -0.4 1.20 -1.6 1.20 0.1 1.20 0.6 1.20 -0.8 1.20 -1.0 1.20 -0.0 1.20 1.1 1.20 1.4 1.20 0.5 1.20 -0.3 1.20 -0.7 1.20 -0.4 1.20 0.0 1.20 -0.2 1.20 1.2 1.20 0.9 1.20 -1.1 1.20 -1.5 1.20 -0.4 1.20 1.0 1.20 0.3 1.20 -0.5 1.20 -1.2 1.20 -0.2 1.20 1.8 1.20 -0.3 1.20 -1.1 1.20 1.1 1.20 0.6 1.20 -1.1 1.20 0.0 1.20 1.0 1.20 -0.2 1.20 0.7 1.20 0.2 1.20 -1.9 1.20 -1.3 1.20 0.4 1.20 1.3 1.20 0.9 1.20 -1.2 1.20 -1.2 1.20 1.5 1.20 1.2 1.20 -1.4 1.20 -1.4 1.20 0.1 1.20 0.6 1.20 0.7 1.20 1.5 1.20 1.0 1.20 -0.6 1.20 -1.5 1.20 -0.8 1.20 -0.1 1.20 -1.0 1.20 -0.2 1.20 -0.7 1.20 -1.9 1.20 0.5 1.20 1.5 1.20 0.8 1.20 4.8 1.20 13.5 1.20 9.2 1.20 -10.4 1.20 -14.1 1.20 -5.5 1.20 -0.0 1.20 0.8 1.20 -0.3 1.20 0.7 1.20 1.0 1.20 0.6 1.20 0.1 1.20 0.5 1.20 1.8 1.20 0.3 1.20 -1.1 1.20 -0.6 1.20 -0.0 1.20 -0.3 1.20 -0.7 1.20 -0.1 1.20 0.1 1.20 -0.2 1.20 -0.2 1.20 1.3 1.20 1.2 1.20 -0.8 1.20 -0.4 1.20 -0.3 1.20 -0.7 1.20 1.1 1.20 0.7 1.20 -0.4 1.20 -0.0 1.20 -0.1 1.20 -0.1 1.20 -0.6 1.20 0.4 1.20 1.0 1.20 -1.1 1.20 -0.9 1.20 0.8 1.20 0.0 1.20 -0.9 1.20 0.1 1.20 0.5 1.20 0.8 1.20 0.7 1.20 0.2 1.20 0.2 1.20 -0.3 1.20 -0.4 1.20 -0.1 1.20 0.4 1.20 0.8 1.20 0.9 1.20 -0.1 1.20 -1.7 1.20 -2.0 1.20 -0.5 1.20 0.9 1.20 1.5 1.20 0.1 1.20 -2.4 1.20 -0.8 1.20 2.5 1.20 1.5 1.20 -0.4 1.20 -0.5 1.20 -1.4 1.20 -0.6 1.20 0.7 1.20 1.9 1.20 2.2 1.20 -2.0 1.20 -2.0 1.20 1.9 1.20 0.6 1.20 -1.3 1.20 -0.0 1.20 0.4 1.20 -0.6 1.20 -0.6 1.20 0.8 1.20 0.9 1.20 0.5 1.20 -0.1 1.20 -2.2 1.20 -0.9 1.20 1.2 1.20 0.3 1.20 -0.0 1.20 -0.4 1.20 -0.9 1.20 0.7 1.20 0.8 1.20 -1.2 1.20 -0.6 1.20 0.5 1.20 1.0 1.20 0.5 1.20 -0.5 1.20 1.0 1.20 0.5 1.20 -0.9 1.20 0.3 1.20 1.2 1.20 0.1 1.20 -1.0 1.20 0.0 1.20 0.9 1.20 -0.6 1.20 -1.1 1.20 0.4 1.20 0.3 1.20 0.1 1.20 0.6 1.20 -0.7 1.20 -0.7 1.20 0.3 1.20 -0.7 1.20 0.1 1.20 1.7 1.20 0.3 1.20 -1.2 1.20 -0.4 1.20 0.1 1.20 -0.4 1.20 0.7 1.20 0.7 1.20 -0.4 1.20 -0.2 1.20 -0.7 1.20 -0.2 1.20 1.3 1.20 0.5 1.20 -1.1 1.20 -1.1 1.20 0.4 1.20 -0.6 1.20 -1.0 1.20 1.0 1.20 0.3 1.20 -0.5 1.20 -0.0 1.20 0.3 1.20 -0.6 1.20 -0.4 1.20 2.0 1.20 1.4 1.20 -0.9 1.20 -1.0 1.20 -0.2 1.20 0.0 1.20 -0.1 1.20 0.7 1.20 0.6 1.20 -0.7"/><path d="M369.2,833.1l1.20 0.5 1.20 0.3 1.20 0.8 1.20 0.7 1.20 -0.2 1.20 -0.2 1.20 -1.5 1.20 -1.6 1.20 0.2 1.20 -0.2 1.20 -0.9 1.20 -0.8 1.20 0.3 1.20 1.5 1.20 0.6 1.20 0.6 1.20 0.7 1.20 -0.7 1.20 -1.3 1.20 -0.3 1.20 1.3 1.20 0.9 1.20 -0.4 1.20 -1.3 1.20 -1.0 1.20 0.9 1.20 0.5 1.20 -1.1 1.20 0.7 1.20 2.1 1.20 -0.5 1.20 -1.0 1.20 0.5 1.20 0.7 1.20 0.3 1.20 -0.2 1.20 -0.4 1.20 0.2 1.20 0.2 1.20 -0.9 1.20 -0.8 1.20 0.2 1.20 0.4 1.20 -0.8 1.20 -1.0 1.20 0.1 1.20 1.1 1.20 0.8 1.20 -0.7 1.20 -1.4 1.20 0.2 1.20 0.9 1.20 -0.8 1.20 -1.2 1.20 0.9 1.20 2.3 1.20 -0.2 1.20 -1.4 1.20 0.3 1.20 1.0 1.20 1.1 1.20 0.1 1.20 -1.2 1.20 -0.5 1.20 1.5 1.20 0.9 1.20 -0.9 1.20 -0.1 1.20 0.0 1.20 -1.8 1.20 -1.3 1.20 1.8 1.20 0.6 1.20 -2.1 1.20 -0.2 1.20 1.0 1.20 1.1 1.20 0.4 1.20 -0.7 1.20 -0.2 1.20 -0.7 1.20 -0.8 1.20 0.2 1.20 0.8 1.20 1.4 1.20 0.0 1.20 -1.4 1.20 -0.7 1.20 -0.4 1.20 -1.0 1.20 -1.6 1.20 -0.9 1.20 1.5 1.20 7.1 1.20 15.5 1.20 9.7 1.20 -12.0 1.20 -15.4 1.20 -5.4 1.20 -0.1 1.20 0.8 1.20 0.6 1.20 1.4 1.20 1.9 1.20 -0.0 1.20 -1.9 1.20 0.1 1.20 2.1 1.20 0.9 1.20 -0.4 1.20 -0.5 1.20 0.4 1.20 -0.2 1.20 -1.6 1.20 -1.5 1.20 -0.9 1.20 -0.5 1.20 0.7 1.20 2.5 1.20 2.4 1.20 0.7 1.20 -0.2 1.20 -0.6 1.20 0.1 1.20 0.8 1.20 -0.8 1.20 -1.9 1.20 -1.1 1.20 0.5 1.20 1.0 1.20 -0.0 1.20 -0.4 1.20 -0.7 1.20 -0.9 1.20 -0.9 1.20 0.6 1.20 2.1 1.20 1.4 1.20 -0.3 1.20 -2.0 1.20 -1.2 1.20 -0.5 1.20 -0.1 1.20 1.0 1.20 0.4 1.20 -0.3 1.20 1.2 1.20 2.0 1.20 -0.3 1.20 -1.1 1.20 0.4 1.20 0.6 1.20 0.1 1.20 0.1 1.20 -0.6 1.20 -0.3 1.20 -0.2 1.20 -1.3 1.20 -0.7 1.20 0.1 1.20 -0.5 1.20 -0.2 1.20 0.8 1.20 1.2 1.20 1.2 1.20 1.0 1.20 -0.1 1.20 -0.4 1.20 0.1 1.20 -0.7 1.20 -0.7 1.20 0.2 1.20 -0.1 1.20 1.2 1.20 1.2 1.20 -1.5 1.20 -0.7 1.20 0.5 1.20 -0.4 1.20 -0.5 1.20 -0.8 1.20 -0.2 1.20 0.9 1.20 1.3 1.20 -0.2 1.20 -2.2 1.20 0.2 1.20 2.6 1.20 -0.4 1.20 -1.4 1.20 0.8 1.20 0.4 1.20 -0.5 1.20 -0.1 1.20 -0.3 1.20 -0.0 1.20 1.7 1.20 0.9 1.20 -1.4 1.20 -1.8 1.20 -0.3 1.20 1.0 1.20 0.7 1.20 -0.9 1.20 -0.7 1.20 1.4 1.20 0.7 1.20 -1.0 1.20 0.1 1.20 -0.1 1.20 -0.7 1.20 0.7 1.20 0.9 1.20 0.2 1.20 -0.7 1.20 -0.7 1.20 0.5 1.20 0.9 1.20 -0.2 1.20 -1.2 1.20 0.3 1.20 1.0 1.20 -0.5 1.20 -0.2 1.20 0.5 1.20 -0.2 1.20 -0.6 1.20 0.2 1.20 0.9 1.20 -0.3 1.20 -1.0 1.20 -1.1 1.20 -1.5 1.20 0.6 1.20 2.5 1.20 1.0 1.20 -0.2 1.20 0.2 1.20 -0.6 1.20 -1.1 1.20 -0.1 1.20 -0.6 1.20 -0.5 1.20 1.1 1.20 -0.1 1.20 -0.6 1.20 1.3 1.20 0.9 1.20 -0.7 1.20 -0.5"/><path d="M369.2,832.4l1.20 -0.3 1.20 -0.5 1.20 0.5 1.20 1.0 1.20 1.2 1.20 0.7 1.20 -0.5 1.20 -0.6 1.20 -0.2 1.20 -0.3 1.20 0.0 1.20 -0.1 1.20 -0.6 1.20 -1.1 1.20 -0.6 1.20 1.7 1.20 0.7 1.20 -0.4 1.20 0.1 1.20 -1.0 1.20 -2.0 1.20 -0.6 1.20 1.3 1.20 1.2 1.20 0.8 1.20 -0.2 1.20 -0.5 1.20 1.4 1.20 1.8 1.20 -0.5 1.20 -0.6 1.20 0.8 1.20 -0.1 1.20 -0.6 1.20 -0.9 1.20 -0.6 1.20 0.9 1.20 0.1 1.20 -0.9 1.20 -1.4 1.20 -1.2 1.20 0.2 1.20 1.0 1.20 1.2 1.20 1.1 1.20 0.1 1.20 -0.8 1.20 0.3 1.20 0.8 1.20 -0.5 1.20 -1.4 1.20 -0.7 1.20 -0.1 1.20 -0.3 1.20 0.6 1.20 0.8 1.20 -0.4 1.20 -0.3 1.20 1.5 1.20 0.5 1.20 -2.1 1.20 -1.1 1.20 0.7 1.20 1.2 1.20 -0.2 1.20 0.2 1.20 1.7 1.20 -0.1 1.20 -0.8 1.20 0.7 1.20 0.4 1.20 -1.4 1.20 -0.4 1.20 1.4 1.20 0.6 1.20 0.9 1.20 0.9 1.20 -1.5 1.20 -1.3 1.20 0.3 1.20 0.2 1.20 -0.4 1.20 -0.9 1.20 -1.2 1.20 0.9 1.20 2.3 1.20 -0.7 1.20 -1.7 1.20 0.5 1.20 -0.3 1.20 -2.8 1.20 -1.4 1.20 1.6 1.20 0.8 1.20 0.1 1.20 2.0 1.20 10.0 1.20 16.7 1.20 0.2 1.20 -16.7 1.20 -10.7 1.20 -2.4 1.20 -1.4 1.20 -0.7 1.20 2.0 1.20 2.1 1.20 0.2 1.20 -1.7 1.20 -0.5 1.20 1.3 1.20 1.3 1.20 0.9 1.20 -0.6 1.20 -0.7 1.20 -0.3 1.20 0.5 1.20 1.2 1.20 -0.4 1.20 -0.0 1.20 -0.0 1.20 -0.3 1.20 0.4 1.20 -0.5 1.20 1.2 1.20 1.4 1.20 -1.2 1.20 -0.4 1.20 -0.3 1.20 -0.1 1.20 1.2 1.20 0.4 1.20 -0.7 1.20 -1.0 1.20 0.6 1.20 1.3 1.20 -1.1 1.20 -2.4 1.20 0.4 1.20 2.5 1.20 0.6 1.20 -1.1 1.20 -0.3 1.20 -0.1 1.20 0.3 1.20 0.8 1.20 -1.0 1.20 -0.2 1.20 -0.1 1.20 -0.3 1.20 1.2 1.20 -0.1 1.20 -0.5 1.20 0.4 1.20 -0.2 1.20 -0.3 1.20 -0.1 1.20 -0.5 1.20 -0.0 1.20 1.0 1.20 0.1 1.20 -1.3 1.20 -2.0 1.20 -0.0 1.20 2.1 1.20 1.2 1.20 -0.0 1.20 0.3 1.20 0.4 1.20 -1.0 1.20 -1.3 1.20 -1.1 1.20 -0.9 1.20 0.3 1.20 0.9 1.20 1.7 1.20 0.5 1.20 -1.2 1.20 0.1 1.20 0.8 1.20 -0.0 1.20 -0.7 1.20 0.0 1.20 1.2 1.20 0.1 1.20 -2.2 1.20 -1.1 1.20 1.8 1.20 1.7 1.20 -0.6 1.20 -0.9 1.20 0.8 1.20 0.6 1.20 -0.6 1.20 -0.1 1.20 1.2 1.20 -0.5 1.20 -2.1 1.20 -0.3 1.20 -0.1 1.20 -0.9 1.20 0.6 1.20 1.4 1.20 0.1 1.20 0.3 1.20 0.1 1.20 -1.6 1.20 0.8 1.20 1.7 1.20 -1.2 1.20 -1.2 1.20 0.5 1.20 1.0 1.20 1.1 1.20 0.7 1.20 -0.4 1.20 -0.4 1.20 -1.3 1.20 -1.4 1.20 1.2 1.20 1.7 1.20 -0.4 1.20 -1.6 1.20 0.0 1.20 1.0 1.20 -0.2 1.20 -1.1 1.20 -0.9 1.20 0.2 1.20 1.4 1.20 1.1 1.20 -0.8 1.20 -0.7 1.20 0.5 1.20 -0.3 1.20 -0.1 1.20 0.1 1.20 -1.3 1.20 0.1 1.20 1.5 1.20 -0.6 1.20 -0.6 1.20 0.0 1.20 -0.4 1.20 0.7 1.20 1.5 1.20 0.2 1.20 -1.4 1.20 -1.1 1.20 1.0 1.20 1.6"/><path d="M369.2,831.2l1.20 0.2 1.20 0.7 1.20 0.6 1.20 0.4 1.20 -0.6 1.20 0.2 1.20 0.9 1.20 -1.2 1.20 -1.9 1.20 1.2 1.20 2.3 1.20 -0.0 1.20 -0.7 1.20 0.2 1.20 0.4 1.20 -0.2 1.20 -1.7 1.20 -0.9 1.20 1.3 1.20 0.3 1.20 0.0 1.20 1.1 1.20 -0.1 1.20 -0.7 1.20 0.6 1.20 0.7 1.20 -0.1 1.20 0.2 1.20 -1.1 1.20 -1.8 1.20 -0.3 1.20 0.0 1.20 0.5 1.20 1.9 1.20 1.6 1.20 -0.6 1.20 -1.0 1.20 0.5 1.20 0.4 1.20 -1.1 1.20 -0.9 1.20 0.4 1.20 2.1 1.20 0.9 1.20 -1.6 1.20 -1.0 1.20 0.1 1.20 0.9 1.20 0.5 1.20 -0.9 1.20 -0.4 1.20 1.2 1.20 0.6 1.20 -0.0 1.20 -0.5 1.20 -1.0 1.20 -0.7 1.20 -0.4 1.20 0.5 1.20 1.0 1.20 0.9 1.20 0.4 1.20 -0.6 1.20 -1.4 1.20 -1.3 1.20 -1.3 1.20 -0.9 1.20 0.8 1.20 1.2 1.20 1.0 1.20 0.9 1.20 -0.3 1.20 -0.6 1.20 0.4 1.20 -0.1 1.20 -0.6 1.20 -0.2 1.20 -0.3 1.20 -0.4 1.20 1.0 1.20 1.1 1.20 -0.9 1.20 -1.5 1.20 0.2 1.20 1.0 1.20 -0.3 1.20 0.1 1.20 1.1 1.20 0.0 1.20 -0.5 1.20 -0.3 1.20 1.1 1.20 0.9 1.20 0.2 1.20 0.9 1.20 -0.3 1.20 -0.5 1.20 -1.3 1.20 -1.0 1.20 1.3 1.20 0.3 1.20 -1.1 1.20 -0.6 1.20 -0.0 1.20 0.1 1.20 0.1 1.20 0.4 1.20 -0.0 1.20 -0.0 1.20 0.6 1.20 -0.3 1.20 -0.2 1.20 0.1 1.20 -0.3 1.20 -0.1 1.20 -1.3 1.20 -0.4 1.20 1.2 1.20 0.1 1.20 0.2 1.20 0.8 1.20 0.7 1.20 1.0 1.20 0.7 1.20 -1.7 1.20 -1.3 1.20 1.1 1.20 0.6 1.20 -0.6 1.20 0.0 1.20 0.4 1.20 -1.2 1.20 -1.0 1.20 0.1 1.20 0.2 1.20 -0.4 1.20 -0.4 1.20 0.3 1.20 0.3 1.20 0.2 1.20 0.4 1.20 0.6 1.20 0.1 1.20 -0.2 1.20 -0.2 1.20 -0.4 1.20 -0.1 1.20 -0.3 1.20 -0.4 1.20 0.4 1.20 1.2 1.20 1.4 1.20 -1.2 1.20 -2.5 1.20 -0.6 1.20 0.4 1.20 0.8 1.20 1.7 1.20 1.3 1.20 -0.7 1.20 -1.0 1.20 0.1 1.20 -0.1 1.20 -1.2 1.20 -0.4 1.20 0.0 1.20 0.1 1.20 0.7 1.20 0.2 1.20 0.4 1.20 1.0 1.20 0.3 1.20 -0.5 1.20 -0.3 1.20 -0.0 1.20 -0.0 1.20 0.0 1.20 -0.4 1.20 -0.2 1.20 0.6 1.20 -0.5 1.20 -0.8 1.20 0.5 1.20 0.0 1.20 -0.5 1.20 1.5 1.20 1.1 1.20 -1.9 1.20 -1.6 1.20 0.7 1.20 1.0 1.20 -0.4 1.20 -0.0 1.20 1.6 1.20 0.8 1.20 -1.7 1.20 -0.8 1.20 1.1 1.20 -0.0 1.20 -0.6 1.20 1.4 1.20 2.1 1.20 -0.7 1.20 -2.7 1.20 -1.0 1.20 1.7 1.20 0.3 1.20 -0.7 1.20 0.4 1.20 -0.0 1.20 -0.1 1.20 -0.7 1.20 -0.7 1.20 -0.3 1.20 -0.5 1.20 0.5 1.20 1.8 1.20 0.1 1.20 -1.8 1.20 0.6 1.20 1.1 1.20 -1.5 1.20 -1.1 1.20 1.0 1.20 1.0 1.20 1.3 1.20 -0.2 1.20 -6.4 1.20 2.8 1.20 11.4 1.20 -0.6 1.20 -8.1 1.20 -0.9 1.20 -0.1 1.20 0.6 1.20 0.3 1.20 -0.5 1.20 0.2 1.20 1.5 1.20 1.1 1.20 -1.0 1.20 -1.8 1.20 -0.5 1.20 0.5 1.20 0.4 1.20 0.4 1.20 -0.3 1.20 -0.3 1.20 1.1 1.20 0.1"/><path d="M369.2,875.2l1.20 0.1 1.20 -1.0 1.20 -0.7 1.20 -0.6 1.20 -0.4 1.20 0.4 1.20 0.3 1.20 0.4 1.20 1.4 1.20 0.7 1.20 -0.8 1.20 -1.3 1.20 -0.3 1.20 0.5 1.20 0.4 1.20 -0.1 1.20 -0.6 1.20 -0.8 1.20 -1.3 1.20 0.1 1.20 2.5 1.20 1.2 1.20 -2.1 1.20 -2.0 1.20 0.1 1.20 1.0 1.20 1.7 1.20 0.4 1.20 -0.4 1.20 0.6 1.20 -0.4 1.20 -0.1 1.20 0.7 1.20 -0.2 1.20 -0.7 1.20 -0.1 1.20 0.7 1.20 0.0 1.20 -0.6 1.20 0.9 1.20 -0.3 1.20 -1.6 1.20 0.3 1.20 -0.0 1.20 -0.5 1.20 0.9 1.20 0.5 1.20 -0.2 1.20 1.0 1.20 0.8 1.20 -0.7 1.20 -1.2 1.20 -1.0 1.20 0.2 1.20 0.8 1.20 0.7 1.20 -0.3 1.20 -0.8 1.20 0.4 1.20 0.6 1.20 0.2 1.20 -0.9 1.20 -1.1 1.20 1.0 1.20 1.3 1.20 0.5 1.20 -0.1 1.20 -1.1 1.20 -0.7 1.20 0.9 1.20 0.3 1.20 -0.2 1.20 0.7 1.20 0.5 1.20 -0.2 1.20 -0.6 1.20 -0.1 1.20 0.1 1.20 -0.7 1.20 0.8 1.20 2.1 1.20 -0.7 1.20 -2.9 1.20 -1.3 1.20 1.4 1.20 1.4 1.20 -0.8 1.20 -1.6 1.20 -1.3 1.20 0.1 1.20 0.8 1.20 1.1 1.20 0.4 1.20 -1.6 1.20 -1.5 1.20 -1.0 1.20 0.2 1.20 1.4 1.20 2.0 1.20 10.1 1.20 17.3 1.20 0.1 1.20 -16.6 1.20 -10.7 1.20 -2.6 1.20 -0.5 1.20 -1.0 1.20 0.1 1.20 0.9 1.20 1.4 1.20 1.5 1.20 0.9 1.20 1.5 1.20 0.6 1.20 -0.6 1.20 -0.6 1.20 -1.0 1.20 -0.4 1.20 0.7 1.20 1.6 1.20 -0.1 1.20 -1.7 1.20 -0.7 1.20 -0.3 1.20 0.9 1.20 0.1 1.20 -2.1 1.20 -0.2 1.20 1.6 1.20 0.4 1.20 -0.8 1.20 0.1 1.20 0.1 1.20 -1.6 1.20 0.2 1.20 1.9 1.20 0.8 1.20 0.0 1.20 -1.4 1.20 -0.4 1.20 1.6 1.20 0.6 1.20 -0.3 1.20 -0.6 1.20 -0.4 1.20 -0.2 1.20 0.1 1.20 0.9 1.20 0.7 1.20 0.0 1.20 -1.2 1.20 -0.2 1.20 1.7 1.20 0.2 1.20 -0.7 1.20 -1.1 1.20 -1.8 1.20 0.4 1.20 1.3 1.20 -1.1 1.20 -0.9 1.20 1.4 1.20 2.8 1.20 0.9 1.20 -1.7 1.20 -0.6 1.20 -0.5 1.20 -0.5 1.20 0.4 1.20 -0.8 1.20 -0.0 1.20 1.5 1.20 0.2 1.20 -1.1 1.20 -1.2 1.20 0.4 1.20 1.0 1.20 -0.6 1.20 -1.1 1.20 -0.6 1.20 0.8 1.20 1.8 1.20 1.6 1.20 -0.5 1.20 -2.5 1.20 -0.9 1.20 0.2 1.20 0.1 1.20 0.3 1.20 1.4 1.20 2.2 1.20 0.1 1.20 -0.9 1.20 -0.6 1.20 -3.0 1.20 -5.2 1.20 4.2 1.20 11.4 1.20 2.2 1.20 -7.9 1.20 -3.3 1.20 -0.3 1.20 0.6 1.20 -0.5 1.20 -0.7 1.20 0.7 1.20 1.1 1.20 0.1 1.20 -0.6 1.20 -0.1 1.20 1.5 1.20 -0.8 1.20 -2.1 1.20 0.4 1.20 0.2 1.20 0.2 1.20 1.7 1.20 2.1 1.20 -0.7 1.20 -2.8 1.20 0.6 1.20 1.5 1.20 -0.4 1.20 1.2 1.20 0.9 1.20 -1.7 1.20 -2.0 1.20 -0.7 1.20 0.2 1.20 0.3 1.20 0.5 1.20 1.1 1.20 0.8 1.20 -0.8 1.20 -0.9 1.20 -0.3 1.20 0.4 1.20 0.8 1.20 0.0 1.20 0.1 1.20 0.2 1.20 -0.5 1.20 -1.0 1.20 -0.1 1.20 1.3 1.20 -0.6 1.20 -0.7 1.20 1.8 1.20 0.3 1.20 -0.5"/><path d="M369.2,874.0l1.20 -1.0 1.20 -0.1 1.20 -0.2 1.20 -0.0 1.20 1.1 1.20 1.0 1.20 1.0 1.20 -0.0 1.20 -1.4 1.20 -0.2 1.20 -0.6 1.20 -1.7 1.20 1.1 1.20 1.2 1.20 -1.1 1.20 -0.3 1.20 0.8 1.20 0.1 1.20 0.0 1.20 1.2 1.20 -0.3 1.20 -1.1 1.20 0.8 1.20 -0.0 1.20 -1.3 1.20 -0.8 1.20 0.4 1.20 1.9 1.20 0.8 1.20 -1.1 1.20 0.1 1.20 0.3 1.20 -0.8 1.20 -0.5 1.20 -0.2 1.20 -0.1 1.20 0.0 1.20 -0.4 1.20 0.4 1.20 1.5 1.20 -0.8 1.20 -1.2 1.20 0.6 1.20 -0.3 1.20 -0.6 1.20 0.2 1.20 0.6 1.20 1.3 1.20 0.7 1.20 0.2 1.20 -0.1 1.20 -2.2 1.20 -2.4 1.20 0.5 1.20 1.6 1.20 0.7 1.20 -0.1 1.20 -0.3 1.20 0.7 1.20 1.2 1.20 0.3 1.20 -1.1 1.20 -0.7 1.20 0.8 1.20 0.9 1.20 0.5 1.20 0.2 1.20 -0.7 1.20 -1.1 1.20 -1.2 1.20 -0.6 1.20 0.0 1.20 0.3 1.20 1.2 1.20 0.2 1.20 -0.7 1.20 0.6 1.20 0.5 1.20 -0.1 1.20 -0.3 1.20 -0.6 1.20 1.0 1.20 1.3 1.20 -0.1 1.20 0.8 1.20 -0.2 1.20 -1.5 1.20 -0.7 1.20 -0.5 1.20 0.4 1.20 -0.5 1.20 0.4 1.20 1.8 1.20 -0.7 1.20 -2.0 1.20 -1.4 1.20 0.4 1.20 1.7 1.20 1.6 1.20 -0.4 1.20 -1.6 1.20 -0.7 1.20 -0.8 1.20 -1.1 1.20 -1.4 1.20 -0.4 1.20 2.3 1.20 3.2 1.20 7.7 1.20 13.9 1.20 -0.2 1.20 -15.2 1.20 -8.8 1.20 -2.1 1.20 -0.4 1.20 0.4 1.20 1.2 1.20 1.5 1.20 1.4 1.20 1.0 1.20 -0.5 1.20 -0.7 1.20 -0.1 1.20 0.4 1.20 0.6 1.20 0.2 1.20 -0.1 1.20 -1.3 1.20 -1.3 1.20 0.9 1.20 1.4 1.20 0.4 1.20 -0.3 1.20 0.4 1.20 0.9 1.20 -0.2 1.20 -1.0 1.20 -0.6 1.20 -0.2 1.20 0.8 1.20 0.1 1.20 -1.5 1.20 0.5 1.20 1.4 1.20 0.8 1.20 -0.0 1.20 -0.8 1.20 -0.3 1.20 1.0 1.20 -0.1 1.20 -2.3 1.20 -0.6 1.20 1.0 1.20 0.8 1.20 0.3 1.20 0.0 1.20 -0.0 1.20 0.1 1.20 0.2 1.20 -0.2 1.20 0.1 1.20 -0.1 1.20 0.1 1.20 -0.1 1.20 -0.9 1.20 0.2 1.20 1.0 1.20 -0.0 1.20 0.6 1.20 0.8 1.20 -0.1 1.20 0.6 1.20 0.8 1.20 -0.7 1.20 -1.7 1.20 -1.3 1.20 -0.7 1.20 0.4 1.20 0.4 1.20 0.2 1.20 0.1 1.20 -0.7 1.20 0.9 1.20 1.6 1.20 -0.7 1.20 -0.8 1.20 0.4 1.20 0.1 1.20 -0.3 1.20 -0.7 1.20 -0.6 1.20 -0.3 1.20 -0.1 1.20 0.8 1.20 0.9 1.20 0.4 1.20 -0.8 1.20 -1.2 1.20 1.2 1.20 0.2 1.20 -0.9 1.20 0.6 1.20 0.1 1.20 -0.3 1.20 -1.0 1.20 -1.2 1.20 -0.9 1.20 0.2 1.20 2.4 1.20 0.7 1.20 -1.5 1.20 0.6 1.20 0.9 1.20 -1.1 1.20 0.5 1.20 1.5 1.20 -0.7 1.20 -1.8 1.20 -0.0 1.20 2.3 1.20 0.1 1.20 -1.1 1.20 1.0 1.20 0.7 1.20 -0.0 1.20 -0.8 1.20 -0.8 1.20 0.0 1.20 -0.7 1.20 -1.1 1.20 -0.2 1.20 1.7 1.20 2.3 1.20 -0.8 1.20 -3.1 1.20 -0.8 1.20 2.3 1.20 1.5 1.20 -0.1 1.20 -0.2 1.20 -0.8 1.20 -0.1 1.20 0.3 1.20 -0.4 1.20 -0.7 1.20 -0.2 1.20 0.9 1.20 -0.5 1.20 -0.9 1.20 0.8"/><path d="M369.2,873.1l1.20 -0.8 1.20 0.3 1.20 1.4 1.20 0.7 1.20 -0.6 1.20 -0.7 1.20 1.3 1.20 1.7 1.20 -0.8 1.20 -0.7 1.20 0.7 1.20 -0.1 1.20 0.0 1.20 1.0 1.20 -0.1 1.20 -1.2 1.20 -0.3 1.20 -0.0 1.20 -0.2 1.20 0.3 1.20 0.4 1.20 -0.6 1.20 -1.2 1.20 -1.0 1.20 -0.4 1.20 1.3 1.20 1.2 1.20 -0.8 1.20 -1.3 1.20 0.7 1.20 1.6 1.20 -0.1 1.20 -1.2 1.20 -1.2 1.20 -1.1 1.20 0.8 1.20 1.5 1.20 -0.5 1.20 -0.6 1.20 0.2 1.20 0.6 1.20 0.5 1.20 -0.2 1.20 -0.4 1.20 0.1 1.20 0.2 1.20 -0.4 1.20 -0.3 1.20 0.3 1.20 0.2 1.20 -0.8 1.20 -0.9 1.20 0.3 1.20 0.6 1.20 -0.4 1.20 -0.8 1.20 0.5 1.20 2.4 1.20 1.7 1.20 -0.7 1.20 -0.7 1.20 -0.4 1.20 0.2 1.20 -0.1 1.20 -1.2 1.20 -0.6 1.20 0.6 1.20 -0.3 1.20 -0.5 1.20 1.6 1.20 1.7 1.20 -0.2 1.20 -1.2 1.20 -1.3 1.20 -0.3 1.20 0.0 1.20 -0.4 1.20 0.0 1.20 0.4 1.20 0.7 1.20 0.5 1.20 -0.5 1.20 -0.9 1.20 -0.4 1.20 0.5 1.20 0.6 1.20 -0.9 1.20 -0.7 1.20 0.6 1.20 0.7 1.20 1.1 1.20 -0.9 1.20 -1.5 1.20 1.5 1.20 0.9 1.20 -0.2 1.20 0.2 1.20 -0.2 1.20 0.0 1.20 0.5 1.20 -0.6 1.20 -1.7 1.20 -0.2 1.20 0.5 1.20 -0.7 1.20 -0.1 1.20 1.3 1.20 -0.2 1.20 -1.7 1.20 1.4 1.20 2.5 1.20 -0.5 1.20 -0.7 1.20 0.9 1.20 -0.3 1.20 -0.5 1.20 0.2 1.20 -0.3 1.20 -0.1 1.20 -0.9 1.20 -1.0 1.20 1.6 1.20 1.6 1.20 -0.8 1.20 -1.7 1.20 -0.9 1.20 1.8 1.20 2.5 1.20 0.4 1.20 -1.2 1.20 -1.5 1.20 -1.3 1.20 -0.3 1.20 0.9 1.20 0.8 1.20 -0.5 1.20 -0.0 1.20 0.3 1.20 -1.3 1.20 0.1 1.20 1.4 1.20 -1.1 1.20 -0.6 1.20 2.2 1.20 1.0 1.20 -1.5 1.20 -1.0 1.20 1.7 1.20 1.3 1.20 -0.9 1.20 -0.5 1.20 0.8 1.20 0.0 1.20 -1.5 1.20 -0.8 1.20 -0.6 1.20 -0.6 1.20 0.6 1.20 1.0 1.20 0.5 1.20 -0.3 1.20 -0.5 1.20 0.3 1.20 1.0 1.20 1.4 1.20 1.0 1.20 -1.0 1.20 -0.9 1.20 0.4 1.20 -0.9 1.20 -0.8 1.20 1.1 1.20 0.2 1.20 -1.2 1.20 -1.4 1.20 -1.8 1.20 1.0 1.20 1.5 1.20 -0.3 1.20 0.1 1.20 0.7 1.20 1.2 1.20 -0.4 1.20 -0.5 1.20 1.1 1.20 0.1 1.20 -0.4 1.20 -0.1 1.20 -0.7 1.20 0.5 1.20 1.3 1.20 -0.2 1.20 -0.9 1.20 0.1 1.20 1.4 1.20 0.6 1.20 -1.6 1.20 -0.6 1.20 1.1 1.20 -0.7 1.20 -2.0 1.20 -0.2 1.20 0.4 1.20 -1.0 1.20 1.5 1.20 2.9 1.20 -0.9 1.20 -1.8 1.20 -0.7 1.20 -0.2 1.20 1.5 1.20 0.9 1.20 -0.3 1.20 0.3 1.20 0.1 1.20 -1.1 1.20 -1.3 1.20 -0.7 1.20 0.7 1.20 1.4 1.20 0.2 1.20 -0.2 1.20 0.5 1.20 0.8 1.20 -0.3 1.20 -0.9 1.20 -0.9 1.20 -0.3 1.20 -0.2 1.20 -1.5 1.20 -0.3 1.20 2.1 1.20 2.0 1.20 -0.6 1.20 -1.2 1.20 -0.4 1.20 -0.6 1.20 1.5 1.20 2.0 1.20 -1.2 1.20 -0.9 1.20 0.7 1.20 -0.3 1.20 -0.6 1.20 0.1 1.20 -0.5 1.20 -0.4 1.20 1.0 1.20 0.7 1.20 0.1"/><path d="M369.2,874.7l1.20 0.4 1.20 0.1 1.20 -0.0 1.20 0.3 1.20 0.4 1.20 -0.9 1.20 -2.0 1.20 -0.5 1.20 0.6 1.20 0.3 1.20 0.5 1.20 1.4 1.20 -0.5 1.20 -3.0 1.20 -1.4 1.20 0.8 1.20 0.8 1.20 -0.2 1.20 0.1 1.20 1.1 1.20 1.3 1.20 -0.0 1.20 -0.0 1.20 0.7 1.20 -0.7 1.20 -1.4 1.20 -0.1 1.20 0.8 1.20 0.7 1.20 1.3 1.20 0.2 1.20 -2.0 1.20 -0.5 1.20 1.5 1.20 0.4 1.20 -0.6 1.20 -0.3 1.20 -0.4 1.20 0.2 1.20 1.0 1.20 -0.3 1.20 -0.5 1.20 -0.5 1.20 -1.4 1.20 0.5 1.20 1.7 1.20 -0.4 1.20 -0.4 1.20 1.3 1.20 -0.0 1.20 -2.3 1.20 -1.3 1.20 0.8 1.20 0.8 1.20 0.0 1.20 0.1 1.20 -0.7 1.20 -1.0 1.20 0.3 1.20 0.8 1.20 0.5 1.20 1.2 1.20 2.5 1.20 0.2 1.20 -2.8 1.20 -0.2 1.20 2.0 1.20 -0.6 1.20 -1.3 1.20 -0.4 1.20 -0.4 1.20 0.8 1.20 0.6 1.20 -0.9 1.20 0.4 1.20 1.0 1.20 0.5 1.20 1.0 1.20 -0.1 1.20 -0.7 1.20 -0.7 1.20 -1.8 1.20 -0.3 1.20 1.5 1.20 0.3 1.20 -1.2 1.20 -1.1 1.20 -0.6 1.20 -0.2 1.20 0.3 1.20 0.2 1.20 0.3 1.20 0.0 1.20 0.4 1.20 1.5 1.20 -0.2 1.20 -1.6 1.20 -0.6 1.20 0.0 1.20 0.2 1.20 0.5 1.20 1.4 1.20 0.8 1.20 -1.4 1.20 -1.2 1.20 0.7 1.20 0.6 1.20 -0.4 1.20 -0.4 1.20 -0.0 1.20 -0.0 1.20 -1.1 1.20 -0.4 1.20 1.9 1.20 1.3 1.20 0.2 1.20 -0.9 1.20 -0.4 1.20 2.5 1.20 1.1 1.20 -1.9 1.20 -1.9 1.20 -0.2 1.20 1.0 1.20 0.2 1.20 -0.2 1.20 0.1 1.20 -0.5 1.20 0.3 1.20 0.6 1.20 -0.6 1.20 -0.4 1.20 1.2 1.20 1.2 1.20 1.0 1.20 -1.0 1.20 -3.0 1.20 -1.1 1.20 1.1 1.20 2.5 1.20 1.4 1.20 -0.7 1.20 -2.3 1.20 -1.8 1.20 1.1 1.20 0.7 1.20 0.2 1.20 0.6 1.20 -0.9 1.20 -1.4 1.20 0.8 1.20 0.7 1.20 -1.8 1.20 0.3 1.20 1.8 1.20 -0.1 1.20 -1.1 1.20 0.0 1.20 1.3 1.20 0.4 1.20 -0.6 1.20 -0.6 1.20 -0.4 1.20 -0.8 1.20 -1.1 1.20 0.4 1.20 1.7 1.20 -0.0 1.20 -0.8 1.20 2.0 1.20 1.9 1.20 -1.8 1.20 -2.6 1.20 -0.0 1.20 1.5 1.20 1.4 1.20 1.0 1.20 -0.3 1.20 -1.6 1.20 -0.8 1.20 1.6 1.20 0.7 1.20 -1.4 1.20 -1.5 1.20 -0.1 1.20 1.5 1.20 2.2 1.20 0.8 1.20 -1.1 1.20 -0.4 1.20 -0.2 1.20 -0.7 1.20 0.9 1.20 1.5 1.20 -1.4 1.20 -2.8 1.20 -0.9 1.20 0.5 1.20 1.0 1.20 -0.0 1.20 0.1 1.20 1.4 1.20 0.7 1.20 -0.2 1.20 -1.3 1.20 -1.1 1.20 -0.1 1.20 -0.6 1.20 0.2 1.20 0.9 1.20 0.9 1.20 0.7 1.20 -0.9 1.20 -0.8 1.20 -0.3 1.20 -0.3 1.20 1.3 1.20 0.3 1.20 -1.7 1.20 -0.5 1.20 0.0 1.20 1.4 1.20 1.5 1.20 -1.5 1.20 -0.8 1.20 0.5 1.20 -0.2 1.20 0.1 1.20 1.0 1.20 1.0 1.20 0.2 1.20 -1.1 1.20 -1.5 1.20 -0.6 1.20 -0.3 1.20 0.5 1.20 1.1 1.20 0.6 1.20 0.6 1.20 -0.7 1.20 -1.5 1.20 -0.7 1.20 -0.0 1.20 0.1 1.20 -0.0 1.20 1.2 1.20 0.7 1.20 -0.8 1.20 -0.1 1.20 0.6"/><path d="M369.2,876.0l1.20 -0.7 1.20 0.5 1.20 0.5 1.20 -1.2 1.20 -0.6 1.20 0.2 1.20 -0.3 1.20 -0.8 1.20 0.1 1.20 0.7 1.20 -0.3 1.20 -0.3 1.20 0.5 1.20 -0.0 1.20 -0.2 1.20 0.3 1.20 -0.2 1.20 -0.6 1.20 0.7 1.20 1.5 1.20 0.3 1.20 -0.6 1.20 -0.8 1.20 -0.7 1.20 -0.0 1.20 -0.4 1.20 -0.7 1.20 0.1 1.20 -0.1 1.20 0.3 1.20 1.9 1.20 1.2 1.20 -0.5 1.20 0.1 1.20 -0.3 1.20 -1.0 1.20 0.1 1.20 0.3 1.20 -0.2 1.20 -0.1 1.20 0.7 1.20 -0.1 1.20 -1.3 1.20 -0.5 1.20 0.2 1.20 0.3 1.20 1.1 1.20 0.4 1.20 -0.7 1.20 -1.0 1.20 -0.5 1.20 0.7 1.20 -0.0 1.20 -0.6 1.20 -0.0 1.20 -0.2 1.20 1.4 1.20 0.8 1.20 -1.6 1.20 -1.0 1.20 0.5 1.20 0.4 1.20 -1.0 1.20 -0.2 1.20 0.4 1.20 -0.3 1.20 0.6 1.20 0.4 1.20 0.4 1.20 0.4 1.20 -0.2 1.20 -0.5 1.20 -1.3 1.20 -1.6 1.20 0.3 1.20 2.0 1.20 0.4 1.20 -0.6 1.20 0.5 1.20 0.7 1.20 0.4 1.20 -0.2 1.20 -1.0 1.20 -0.3 1.20 0.1 1.20 -0.1 1.20 0.8 1.20 0.9 1.20 -0.2 1.20 -0.6 1.20 0.2 1.20 0.6 1.20 0.5 1.20 0.8 1.20 -0.1 1.20 -1.4 1.20 -0.7 1.20 1.0 1.20 0.7 1.20 0.7 1.20 0.9 1.20 -1.5 1.20 -2.2 1.20 -0.9 1.20 -0.2 1.20 0.1 1.20 0.0 1.20 0.8 1.20 0.8 1.20 -0.1 1.20 -0.5 1.20 -0.8 1.20 0.2 1.20 1.0 1.20 0.5 1.20 0.7 1.20 -0.2 1.20 -1.0 1.20 0.3 1.20 0.2 1.20 -0.2 1.20 -0.2 1.20 -0.3 1.20 0.6 1.20 1.0 1.20 -0.4 1.20 -1.6 1.20 -1.1 1.20 -0.0 1.20 0.0 1.20 0.4 1.20 0.8 1.20 0.5 1.20 0.2 1.20 0.5 1.20 0.7 1.20 -0.3 1.20 -0.7 1.20 0.4 1.20 0.5 1.20 -0.7 1.20 -1.3 1.20 -0.9 1.20 0.4 1.20 1.1 1.20 0.7 1.20 -0.2 1.20 -1.4 1.20 -0.9 1.20 0.8 1.20 0.9 1.20 0.0 1.20 -0.8 1.20 -0.7 1.20 0.1 1.20 0.3 1.20 0.5 1.20 -0.0 1.20 -0.8 1.20 -0.2 1.20 0.3 1.20 -0.5 1.20 0.5 1.20 2.3 1.20 0.8 1.20 -0.1 1.20 0.2 1.20 -0.2 1.20 -0.5 1.20 -0.7 1.20 -1.3 1.20 0.1 1.20 1.1 1.20 -0.6 1.20 -0.3 1.20 1.5 1.20 0.4 1.20 -1.2 1.20 -0.9 1.20 0.1 1.20 0.2 1.20 -1.0 1.20 -0.5 1.20 0.9 1.20 0.3 1.20 -0.4 1.20 -0.5 1.20 0.3 1.20 1.4 1.20 1.5 1.20 -0.5 1.20 -0.2 1.20 1.7 1.20 -0.9 1.20 -2.4 1.20 0.7 1.20 1.9 1.20 -1.2 1.20 -1.9 1.20 0.9 1.20 -0.2 1.20 -0.7 1.20 1.0 1.20 -0.1 1.20 -0.6 1.20 0.2 1.20 -0.8 1.20 -0.9 1.20 0.5 1.20 -0.1 1.20 -0.3 1.20 1.5 1.20 1.3 1.20 0.2 1.20 0.8 1.20 -0.5 1.20 -1.0 1.20 1.1 1.20 0.1 1.20 -1.0 1.20 -0.5 1.20 0.1 1.20 0.6 1.20 -1.1 1.20 -1.6 1.20 0.7 1.20 1.3 1.20 0.2 1.20 -0.3 1.20 -0.0 1.20 0.7 1.20 0.4 1.20 0.4 1.20 -0.2 1.20 -1.5 1.20 0.2 1.20 1.7 1.20 0.4 1.20 -2.5 1.20 -1.5 1.20 1.1 1.20 1.0 1.20 1.3 1.20 0.1 1.20 -1.4 1.20 -0.5 1.20 -0.1 1.20 0.7 1.20 1.4 1.20 -0.3"/><path d="M369.2,914.3l1.20 0.1 1.20 -0.4 1.20 -0.9 1.20 -0.4 1.20 1.3 1.20 1.0 1.20 -0.1 1.20 0.2 1.20 -0.7 1.20 -1.1 1.20 -0.1 1.20 0.1 1.20 1.1 1.20 1.0 1.20 -2.1 1.20 -1.3 1.20 1.7 1.20 1.3 1.20 0.1 1.20 -0.8 1.20 -0.6 1.20 0.7 1.20 0.5 1.20 0.3 1.20 -0.4 1.20 -1.4 1.20 0.1 1.20 1.3 1.20 -0.1 1.20 0.1 1.20 0.2 1.20 -0.6 1.20 0.2 1.20 0.4 1.20 0.5 1.20 -0.5 1.20 -1.6 1.20 -0.4 1.20 0.7 1.20 0.5 1.20 0.4 1.20 0.5 1.20 0.2 1.20 -0.7 1.20 -0.9 1.20 0.1 1.20 0.9 1.20 0.5 1.20 -1.1 1.20 -1.6 1.20 -0.6 1.20 0.4 1.20 0.4 1.20 0.1 1.20 0.5 1.20 -0.2 1.20 -0.2 1.20 1.2 1.20 0.1 1.20 -2.4 1.20 -5.6 1.20 3.1 1.20 12.8 1.20 1.8 1.20 -8.9 1.20 -0.6 1.20 1.2 1.20 -0.8 1.20 -0.7 1.20 0.8 1.20 0.4 1.20 -0.6 1.20 -0.1 1.20 0.9 1.20 -0.2 1.20 -1.1 1.20 -0.4 1.20 -0.5 1.20 -0.1 1.20 0.2 1.20 -0.6 1.20 0.8 1.20 1.8 1.20 -0.9 1.20 -1.1 1.20 0.6 1.20 1.1 1.20 0.4 1.20 -0.4 1.20 0.7 1.20 0.3 1.20 -0.8 1.20 -0.4 1.20 -0.5 1.20 -0.9 1.20 0.3 1.20 0.1 1.20 -2.1 1.20 0.4 1.20 2.3 1.20 -0.2 1.20 -0.8 1.20 0.9 1.20 0.7 1.20 -1.5 1.20 -1.3 1.20 -0.1 1.20 -0.1 1.20 -1.0 1.20 0.1 1.20 1.6 1.20 4.6 1.20 14.4 1.20 10.7 1.20 -12.1 1.20 -15.3 1.20 -4.7 1.20 0.2 1.20 0.2 1.20 -1.5 1.20 -0.5 1.20 1.7 1.20 1.4 1.20 0.1 1.20 0.3 1.20 1.9 1.20 0.9 1.20 -1.3 1.20 -0.3 1.20 0.4 1.20 -0.1 1.20 0.7 1.20 0.5 1.20 0.1 1.20 -0.9 1.20 -1.5 1.20 0.5 1.20 1.5 1.20 0.7 1.20 -0.4 1.20 0.0 1.20 0.8 1.20 -0.6 1.20 -1.7 1.20 -0.2 1.20 0.2 1.20 -0.2 1.20 0.6 1.20 0.2 1.20 -1.1 1.20 -1.1 1.20 0.4 1.20 1.8 1.20 2.6 1.20 1.1 1.20 -1.7 1.20 -0.9 1.20 -1.0 1.20 -0.6 1.20 2.1 1.20 0.4 1.20 -1.3 1.20 -0.3 1.20 0.4 1.20 0.2 1.20 -1.0 1.20 -1.0 1.20 -0.5 1.20 0.2 1.20 1.3 1.20 0.9 1.20 -0.6 1.20 -1.1 1.20 0.2 1.20 0.2 1.20 -0.1 1.20 0.5 1.20 1.3 1.20 1.0 1.20 -0.6 1.20 -0.8 1.20 -1.7 1.20 -1.4 1.20 1.5 1.20 1.9 1.20 -0.6 1.20 0.2 1.20 1.4 1.20 -1.2 1.20 -1.8 1.20 -0.4 1.20 0.9 1.20 1.2 1.20 -0.6 1.20 -2.1 1.20 -0.8 1.20 1.3 1.20 1.1 1.20 0.2 1.20 -0.6 1.20 -0.4 1.20 0.2 1.20 -0.4 1.20 0.3 1.20 0.7 1.20 -0.3 1.20 0.2 1.20 0.7 1.20 0.3 1.20 -0.1 1.20 -1.1 1.20 -0.5 1.20 1.4 1.20 0.4 1.20 0.0 1.20 0.8 1.20 -1.4 1.20 -1.4 1.20 -0.2 1.20 -0.3 1.20 0.6 1.20 0.3 1.20 -0.7 1.20 0.8 1.20 1.0 1.20 -1.0 1.20 -0.3 1.20 0.9 1.20 -0.1 1.20 -1.3 1.20 0.4 1.20 2.1 1.20 -0.8 1.20 -2.1 1.20 0.6 1.20 0.6 1.20 -0.6 1.20 0.3 1.20 0.3 1.20 0.1 1.20 0.6 1.20 0.2 1.20 -0.2 1.20 0.5 1.20 0.2 1.20 -1.6 1.20 -0.6 1.20 0.7 1.20 0.3 1.20 0.8"/><path d="M369.2,913.3l1.20 -1.1 1.20 -0.5 1.20 -0.1 1.20 0.4 1.20 1.7 1.20 2.1 1.20 1.1 1.20 0.2 1.20 -0.7 1.20 -1.1 1.20 -0.1 1.20 0.5 1.20 -0.3 1.20 -0.1 1.20 0.0 1.20 -0.6 1.20 0.4 1.20 1.1 1.20 -1.4 1.20 -2.2 1.20 1.7 1.20 1.7 1.20 -1.7 1.20 -0.1 1.20 1.3 1.20 -1.5 1.20 -2.1 1.20 0.4 1.20 1.0 1.20 1.0 1.20 1.3 1.20 0.5 1.20 -0.2 1.20 -0.1 1.20 1.4 1.20 -0.0 1.20 -2.8 1.20 -0.5 1.20 1.4 1.20 -0.6 1.20 -0.3 1.20 1.8 1.20 0.7 1.20 -1.7 1.20 -0.1 1.20 1.5 1.20 -1.0 1.20 -1.1 1.20 0.4 1.20 -0.3 1.20 -0.4 1.20 1.0 1.20 0.3 1.20 -0.6 1.20 0.4 1.20 0.3 1.20 -0.3 1.20 -0.4 1.20 -0.8 1.20 0.6 1.20 2.2 1.20 -0.5 1.20 -2.6 1.20 -0.7 1.20 0.5 1.20 -0.0 1.20 0.7 1.20 1.6 1.20 -0.9 1.20 -1.8 1.20 0.3 1.20 0.8 1.20 0.8 1.20 1.0 1.20 0.2 1.20 -0.7 1.20 -0.4 1.20 -0.1 1.20 -0.3 1.20 -1.4 1.20 -1.1 1.20 1.5 1.20 1.6 1.20 -0.5 1.20 -0.1 1.20 0.7 1.20 -0.3 1.20 -0.4 1.20 -0.1 1.20 -0.8 1.20 -0.9 1.20 -0.2 1.20 -0.2 1.20 0.4 1.20 1.4 1.20 1.7 1.20 0.3 1.20 -1.2 1.20 -0.4 1.20 0.8 1.20 0.3 1.20 -0.6 1.20 -0.0 1.20 0.7 1.20 -0.5 1.20 -1.4 1.20 1.0 1.20 1.2 1.20 -1.1 1.20 -1.5 1.20 -0.9 1.20 -0.2 1.20 0.0 1.20 0.7 1.20 5.0 1.20 15.1 1.20 11.4 1.20 -11.8 1.20 -16.0 1.20 -6.2 1.20 -1.3 1.20 1.2 1.20 0.6 1.20 -1.4 1.20 0.6 1.20 3.0 1.20 1.3 1.20 -0.2 1.20 -0.2 1.20 -0.0 1.20 0.8 1.20 0.3 1.20 -1.5 1.20 0.1 1.20 2.2 1.20 0.5 1.20 -1.0 1.20 -0.6 1.20 0.2 1.20 0.2 1.20 -0.0 1.20 -0.4 1.20 -0.6 1.20 0.5 1.20 0.3 1.20 -0.7 1.20 -0.2 1.20 0.9 1.20 0.9 1.20 0.1 1.20 0.5 1.20 0.0 1.20 -1.2 1.20 -1.1 1.20 -0.3 1.20 1.0 1.20 0.1 1.20 -1.3 1.20 -0.7 1.20 1.4 1.20 2.2 1.20 0.0 1.20 -0.9 1.20 1.0 1.20 0.8 1.20 -1.1 1.20 -0.9 1.20 0.0 1.20 -1.3 1.20 -1.9 1.20 -0.5 1.20 0.8 1.20 1.6 1.20 1.2 1.20 -0.5 1.20 0.4 1.20 1.0 1.20 -0.9 1.20 -0.4 1.20 0.8 1.20 0.6 1.20 -0.1 1.20 -0.9 1.20 -1.2 1.20 -0.8 1.20 -0.1 1.20 0.1 1.20 -0.4 1.20 -0.2 1.20 0.8 1.20 1.3 1.20 0.8 1.20 0.5 1.20 0.1 1.20 -0.4 1.20 0.1 1.20 -0.2 1.20 -0.7 1.20 -0.5 1.20 1.3 1.20 1.9 1.20 -0.4 1.20 -1.6 1.20 -1.8 1.20 -1.8 1.20 -0.8 1.20 0.7 1.20 1.7 1.20 0.5 1.20 -0.4 1.20 1.5 1.20 2.2 1.20 0.5 1.20 -1.1 1.20 -2.1 1.20 -0.8 1.20 1.0 1.20 0.5 1.20 -0.8 1.20 -0.3 1.20 1.1 1.20 0.4 1.20 -0.8 1.20 0.2 1.20 0.4 1.20 -0.8 1.20 -0.7 1.20 0.4 1.20 0.6 1.20 -1.0 1.20 -1.8 1.20 0.7 1.20 1.8 1.20 -0.5 1.20 -0.8 1.20 0.9 1.20 1.2 1.20 0.1 1.20 -1.2 1.20 0.4 1.20 0.9 1.20 -0.7 1.20 0.1 1.20 1.1 1.20 0.8 1.20 -1.1 1.20 -0.8 1.20 0.5 1.20 -1.8 1.20 -1.3"/><path d="M369.2,914.8l1.20 -0.5 1.20 -1.4 1.20 0.4 1.20 1.3 1.20 -0.1 1.20 0.2 1.20 0.6 1.20 -0.6 1.20 -0.9 1.20 0.1 1.20 0.8 1.20 0.8 1.20 0.3 1.20 -0.5 1.20 -0.7 1.20 -0.7 1.20 1.1 1.20 2.1 1.20 -1.9 1.20 -3.1 1.20 1.0 1.20 1.7 1.20 0.2 1.20 1.0 1.20 0.8 1.20 -0.1 1.20 -1.6 1.20 -1.5 1.20 1.0 1.20 0.4 1.20 0.0 1.20 0.9 1.20 -0.2 1.20 -1.4 1.20 -0.4 1.20 0.6 1.20 -0.2 1.20 -0.5 1.20 -1.2 1.20 -0.3 1.20 1.4 1.20 1.3 1.20 0.0 1.20 -0.6 1.20 0.8 1.20 1.0 1.20 -1.5 1.20 -1.3 1.20 1.3 1.20 1.6 1.20 -0.6 1.20 -1.8 1.20 0.3 1.20 1.0 1.20 0.0 1.20 0.1 1.20 -0.8 1.20 -1.0 1.20 -0.4 1.20 0.4 1.20 0.4 1.20 -0.9 1.20 -0.8 1.20 0.5 1.20 1.0 1.20 0.3 1.20 -0.3 1.20 -0.7 1.20 0.1 1.20 1.2 1.20 1.2 1.20 0.2 1.20 -1.5 1.20 0.5 1.20 2.4 1.20 -1.1 1.20 -2.3 1.20 0.2 1.20 -0.3 1.20 -1.0 1.20 0.3 1.20 0.3 1.20 0.7 1.20 1.1 1.20 -0.5 1.20 -1.1 1.20 0.7 1.20 1.2 1.20 0.6 1.20 -1.2 1.20 -1.8 1.20 0.5 1.20 0.4 1.20 1.1 1.20 1.9 1.20 -0.7 1.20 -2.3 1.20 -0.8 1.20 1.6 1.20 1.1 1.20 -0.2 1.20 -0.1 1.20 -0.5 1.20 -0.7 1.20 -0.6 1.20 -0.8 1.20 0.6 1.20 1.6 1.20 0.5 1.20 -1.0 1.20 -1.3 1.20 -0.7 1.20 -1.0 1.20 -1.0 1.20 0.7 1.20 1.8 1.20 0.9 1.20 3.8 1.20 13.4 1.20 10.3 1.20 -10.1 1.20 -15.2 1.20 -6.5 1.20 -0.2 1.20 1.0 1.20 -0.2 1.20 -0.0 1.20 0.6 1.20 0.7 1.20 1.2 1.20 0.6 1.20 0.8 1.20 0.9 1.20 -0.7 1.20 -0.4 1.20 0.1 1.20 0.1 1.20 0.6 1.20 0.5 1.20 -0.0 1.20 0.4 1.20 0.9 1.20 -0.1 1.20 -1.4 1.20 -1.5 1.20 0.1 1.20 1.0 1.20 -0.3 1.20 -0.7 1.20 0.6 1.20 1.0 1.20 -0.1 1.20 -0.3 1.20 -0.6 1.20 -1.5 1.20 0.1 1.20 1.6 1.20 1.0 1.20 0.0 1.20 -1.4 1.20 -1.7 1.20 0.4 1.20 1.8 1.20 0.9 1.20 -0.5 1.20 -1.2 1.20 -0.5 1.20 1.2 1.20 0.2 1.20 -1.7 1.20 0.1 1.20 1.7 1.20 -0.4 1.20 -0.5 1.20 0.7 1.20 -1.0 1.20 -1.4 1.20 0.4 1.20 2.0 1.20 1.0 1.20 -0.9 1.20 -1.8 1.20 -0.9 1.20 1.4 1.20 1.5 1.20 -0.3 1.20 -1.4 1.20 -0.2 1.20 1.0 1.20 -0.7 1.20 -1.2 1.20 0.4 1.20 0.7 1.20 1.0 1.20 0.7 1.20 0.3 1.20 0.2 1.20 -0.4 1.20 -0.5 1.20 -0.4 1.20 0.7 1.20 1.0 1.20 0.1 1.20 0.4 1.20 -0.6 1.20 -1.6 1.20 0.0 1.20 0.0 1.20 -0.8 1.20 -0.2 1.20 0.1 1.20 1.0 1.20 1.8 1.20 0.3 1.20 -1.4 1.20 -0.5 1.20 0.8 1.20 -0.6 1.20 -1.2 1.20 0.4 1.20 -0.4 1.20 -0.5 1.20 1.1 1.20 0.5 1.20 -0.2 1.20 0.1 1.20 -0.0 1.20 -0.7 1.20 0.3 1.20 1.6 1.20 0.4 1.20 -1.1 1.20 -0.7 1.20 0.6 1.20 -0.3 1.20 -2.3 1.20 -1.2 1.20 0.8 1.20 1.1 1.20 1.9 1.20 1.1 1.20 -1.5 1.20 -1.0 1.20 0.1 1.20 -0.4 1.20 0.2 1.20 0.1 1.20 -0.1 1.20 1.6 1.20 0.9"/><path d="M369.2,916.0l1.20 -1.0 1.20 -1.4 1.20 -0.0 1.20 0.3 1.20 1.1 1.20 -0.5 1.20 -1.0 1.20 1.3 1.20 -0.7 1.20 -1.2 1.20 0.9 1.20 0.8 1.20 0.7 1.20 -0.4 1.20 -1.1 1.20 1.4 1.20 1.8 1.20 -2.3 1.20 -2.8 1.20 0.4 1.20 0.7 1.20 0.3 1.20 1.5 1.20 0.7 1.20 -0.6 1.20 -1.0 1.20 -0.9 1.20 2.1 1.20 1.7 1.20 -1.8 1.20 -2.1 1.20 0.2 1.20 2.1 1.20 0.9 1.20 -0.4 1.20 0.3 1.20 0.4 1.20 -0.7 1.20 -1.5 1.20 -2.0 1.20 -1.0 1.20 0.7 1.20 0.8 1.20 0.7 1.20 0.1 1.20 -0.4 1.20 -0.3 1.20 0.2 1.20 1.8 1.20 1.6 1.20 -1.3 1.20 -1.6 1.20 0.3 1.20 0.4 1.20 -0.7 1.20 0.1 1.20 1.4 1.20 0.1 1.20 0.5 1.20 0.4 1.20 -2.4 1.20 -1.1 1.20 1.0 1.20 0.5 1.20 1.1 1.20 0.4 1.20 -1.4 1.20 -1.1 1.20 0.5 1.20 0.6 1.20 -1.0 1.20 -0.3 1.20 1.0 1.20 0.4 1.20 0.1 1.20 0.6 1.20 1.7 1.20 -0.1 1.20 -2.4 1.20 0.3 1.20 1.3 1.20 -0.4 1.20 -0.3 1.20 0.0 1.20 0.3 1.20 -0.2 1.20 -1.3 1.20 -0.9 1.20 0.4 1.20 1.0 1.20 -0.3 1.20 -1.4 1.20 0.2 1.20 0.2 1.20 -2.0 1.20 0.0 1.20 2.8 1.20 0.9 1.20 -1.2 1.20 0.0 1.20 0.4 1.20 -0.6 1.20 -0.5 1.20 0.3 1.20 0.9 1.20 0.3 1.20 0.3 1.20 1.2 1.20 0.9 1.20 -0.2 1.20 -0.8 1.20 0.0 1.20 -0.1 1.20 -1.9 1.20 -2.0 1.20 -0.8 1.20 -0.6 1.20 -1.0 1.20 -0.2 1.20 2.1 1.20 5.2 1.20 12.3 1.20 9.3 1.20 -9.9 1.20 -13.2 1.20 -4.4 1.20 -0.6 1.20 -0.6 1.20 0.4 1.20 1.5 1.20 1.5 1.20 2.0 1.20 0.8 1.20 -1.2 1.20 -1.3 1.20 -0.3 1.20 1.5 1.20 0.2 1.20 -1.9 1.20 0.0 1.20 0.7 1.20 -0.6 1.20 0.4 1.20 1.2 1.20 -0.2 1.20 0.1 1.20 1.7 1.20 0.3 1.20 -1.4 1.20 -0.0 1.20 0.3 1.20 -0.9 1.20 -1.1 1.20 -0.0 1.20 1.2 1.20 0.7 1.20 -0.5 1.20 0.1 1.20 0.7 1.20 0.7 1.20 -0.9 1.20 -1.5 1.20 1.0 1.20 0.2 1.20 -1.3 1.20 -0.7 1.20 -0.3 1.20 -0.5 1.20 0.3 1.20 1.2 1.20 0.3 1.20 -0.3 1.20 -0.5 1.20 -0.3 1.20 0.6 1.20 1.2 1.20 0.5 1.20 0.3 1.20 0.4 1.20 -0.1 1.20 -1.0 1.20 -1.4 1.20 -1.2 1.20 0.8 1.20 2.3 1.20 -0.1 1.20 -1.1 1.20 0.5 1.20 1.7 1.20 0.3 1.20 -2.1 1.20 -1.1 1.20 1.0 1.20 0.8 1.20 0.2 1.20 -0.6 1.20 -1.9 1.20 -0.3 1.20 1.2 1.20 0.0 1.20 -0.4 1.20 0.3 1.20 -0.0 1.20 -0.3 1.20 -0.1 1.20 -0.0 1.20 0.5 1.20 0.2 1.20 0.9 1.20 1.3 1.20 -0.6 1.20 -1.5 1.20 -0.2 1.20 1.6 1.20 0.1 1.20 -2.0 1.20 -1.1 1.20 1.1 1.20 0.5 1.20 -1.8 1.20 0.5 1.20 2.7 1.20 0.5 1.20 -1.5 1.20 -1.8 1.20 0.2 1.20 1.3 1.20 0.2 1.20 -0.4 1.20 0.0 1.20 1.0 1.20 0.0 1.20 -1.5 1.20 0.6 1.20 2.2 1.20 0.1 1.20 -1.9 1.20 -0.7 1.20 1.6 1.20 1.1 1.20 -0.4 1.20 -0.3 1.20 0.7 1.20 -0.0 1.20 -2.0 1.20 -1.8 1.20 0.7 1.20 1.3 1.20 -0.4 1.20 -0.7"/><path d="M369.2,914.0l1.20 0.0 1.20 0.5 1.20 0.0 1.20 -0.3 1.20 -0.5 1.20 -0.2 1.20 0.0 1.20 0.3 1.20 0.6 1.20 -0.8 1.20 0.0 1.20 1.8 1.20 0.2 1.20 -0.8 1.20 -0.8 1.20 -0.1 1.20 1.3 1.20 0.6 1.20 0.1 1.20 0.3 1.20 -0.1 1.20 -0.9 1.20 -0.9 1.20 -0.1 1.20 0.3 1.20 0.4 1.20 0.4 1.20 0.6 1.20 -0.2 1.20 -0.5 1.20 0.9 1.20 0.9 1.20 -0.7 1.20 -2.0 1.20 -1.0 1.20 1.1 1.20 0.9 1.20 -0.9 1.20 0.5 1.20 1.5 1.20 -0.8 1.20 -1.6 1.20 -0.3 1.20 0.9 1.20 0.8 1.20 -0.3 1.20 0.3 1.20 0.1 1.20 -1.5 1.20 -0.4 1.20 0.9 1.20 0.8 1.20 -0.2 1.20 -1.3 1.20 -0.5 1.20 -0.9 1.20 -1.6 1.20 0.8 1.20 2.0 1.20 0.9 1.20 -0.4 1.20 -0.9 1.20 -0.1 1.20 1.5 1.20 2.0 1.20 0.2 1.20 -1.0 1.20 0.3 1.20 0.5 1.20 -0.4 1.20 0.1 1.20 -0.2 1.20 -0.5 1.20 -0.6 1.20 -0.7 1.20 -0.2 1.20 -0.3 1.20 -0.3 1.20 0.3 1.20 -0.1 1.20 0.5 1.20 1.3 1.20 -0.3 1.20 -1.0 1.20 -0.7 1.20 0.5 1.20 0.6 1.20 -0.2 1.20 0.1 1.20 -0.5 1.20 -0.6 1.20 1.1 1.20 1.6 1.20 -0.1 1.20 -1.4 1.20 -0.1 1.20 1.9 1.20 0.2 1.20 -1.8 1.20 -0.3 1.20 1.4 1.20 1.5 1.20 -0.2 1.20 -1.2 1.20 -1.2 1.20 -0.5 1.20 0.4 1.20 0.0 1.20 -0.4 1.20 -0.6 1.20 -0.0 1.20 1.2 1.20 0.6 1.20 -1.6 1.20 -1.0 1.20 -0.4 1.20 -1.7 1.20 -1.2 1.20 -0.0 1.20 0.2 1.20 0.9 1.20 1.6 1.20 5.0 1.20 16.5 1.20 12.1 1.20 -13.7 1.20 -16.5 1.20 -4.2 1.20 -1.2 1.20 -1.6 1.20 0.2 1.20 1.9 1.20 1.4 1.20 -0.0 1.20 1.2 1.20 1.4 1.20 0.0 1.20 0.3 1.20 -0.1 1.20 -0.5 1.20 -0.3 1.20 -0.4 1.20 -0.5 1.20 -0.2 1.20 0.2 1.20 0.2 1.20 0.6 1.20 1.0 1.20 0.8 1.20 -0.5 1.20 -0.0 1.20 2.1 1.20 -0.2 1.20 -2.8 1.20 -1.2 1.20 0.0 1.20 1.2 1.20 2.0 1.20 0.0 1.20 -1.4 1.20 -0.2 1.20 0.7 1.20 -0.8 1.20 -1.3 1.20 1.9 1.20 1.4 1.20 -2.3 1.20 -0.6 1.20 1.3 1.20 -0.3 1.20 -1.0 1.20 -0.8 1.20 -0.4 1.20 1.6 1.20 1.3 1.20 -1.3 1.20 -0.7 1.20 1.1 1.20 0.1 1.20 -0.9 1.20 0.4 1.20 -0.1 1.20 -0.7 1.20 1.5 1.20 2.1 1.20 1.0 1.20 0.4 1.20 -0.3 1.20 -1.4 1.20 -2.0 1.20 -0.6 1.20 0.1 1.20 0.1 1.20 -0.1 1.20 0.2 1.20 1.1 1.20 -0.8 1.20 -1.0 1.20 1.7 1.20 1.3 1.20 -0.3 1.20 -0.3 1.20 -0.4 1.20 -1.4 1.20 -1.0 1.20 -0.4 1.20 0.1 1.20 2.0 1.20 0.3 1.20 -1.2 1.20 0.6 1.20 0.3 1.20 -1.0 1.20 -0.0 1.20 1.9 1.20 -0.0 1.20 -1.3 1.20 1.0 1.20 0.3 1.20 -0.1 1.20 0.6 1.20 0.3 1.20 -0.6 1.20 -1.0 1.20 0.7 1.20 0.4 1.20 -0.1 1.20 -0.5 1.20 -1.9 1.20 -1.2 1.20 1.0 1.20 2.1 1.20 0.5 1.20 -0.9 1.20 -0.1 1.20 0.7 1.20 -0.3 1.20 -2.0 1.20 0.0 1.20 1.4 1.20 -0.4 1.20 -0.8 1.20 0.3 1.20 0.8 1.20 0.3 1.20 0.4 1.20 0.9 1.20 -0.2 1.20 -0.7 1.20 -0.1"/><path d="M369.2,915.8l1.20 -0.6 1.20 -1.0 1.20 0.3 1.20 -0.8 1.20 -1.2 1.20 -0.2 1.20 0.3 1.20 1.1 1.20 0.8 1.20 0.2 1.20 1.1 1.20 2.2 1.20 -0.5 1.20 -3.1 1.20 -0.6 1.20 0.8 1.20 -0.1 1.20 -0.1 1.20 0.9 1.20 1.4 1.20 -0.1 1.20 -1.3 1.20 -0.9 1.20 -0.1 1.20 0.5 1.20 0.6 1.20 -0.3 1.20 -1.0 1.20 -0.1 1.20 -0.7 1.20 -0.3 1.20 2.1 1.20 0.8 1.20 -1.2 1.20 0.3 1.20 0.9 1.20 -0.4 1.20 -0.6 1.20 0.2 1.20 0.7 1.20 0.2 1.20 -1.7 1.20 -2.6 1.20 -0.4 1.20 2.4 1.20 2.4 1.20 -0.2 1.20 -0.7 1.20 0.1 1.20 -1.4 1.20 -1.9 1.20 0.1 1.20 1.8 1.20 1.0 1.20 -1.9 1.20 -1.3 1.20 1.3 1.20 1.2 1.20 0.2 1.20 -0.0 1.20 -0.4 1.20 -0.1 1.20 1.1 1.20 0.3 1.20 -1.9 1.20 -1.0 1.20 -0.1 1.20 -0.2 1.20 1.6 1.20 1.7 1.20 0.2 1.20 -0.1 1.20 0.3 1.20 -0.5 1.20 -0.8 1.20 -0.1 1.20 0.8 1.20 1.4 1.20 -0.0 1.20 -0.0 1.20 0.1 1.20 -0.9 1.20 -0.1 1.20 0.4 1.20 0.7 1.20 -0.1 1.20 -1.4 1.20 -0.4 1.20 0.2 1.20 -0.9 1.20 -0.4 1.20 0.5 1.20 0.3 1.20 1.3 1.20 0.8 1.20 -0.6 1.20 -0.0 1.20 0.1 1.20 -0.5 1.20 -0.7 1.20 -0.8 1.20 -0.2 1.20 -0.4 1.20 -0.0 1.20 1.5 1.20 1.2 1.20 0.1 1.20 -0.8 1.20 -0.4 1.20 0.1 1.20 0.2 1.20 -0.1 1.20 0.1 1.20 1.5 1.20 -0.2 1.20 -1.2 1.20 -0.6 1.20 -0.5 1.20 0.7 1.20 -1.0 1.20 -2.7 1.20 -0.7 1.20 -0.5 1.20 -0.4 1.20 1.4 1.20 5.0 1.20 14.1 1.20 10.8 1.20 -10.5 1.20 -14.0 1.20 -5.8 1.20 -2.0 1.20 1.0 1.20 2.3 1.20 1.1 1.20 -1.1 1.20 -0.8 1.20 1.8 1.20 2.2 1.20 0.2 1.20 -1.1 1.20 -0.9 1.20 0.0 1.20 1.0 1.20 1.2 1.20 1.1 1.20 -0.3 1.20 -1.2 1.20 -0.4 1.20 -0.8 1.20 -0.4 1.20 0.3 1.20 0.3 1.20 0.8 1.20 0.2 1.20 -0.4 1.20 1.0 1.20 2.7 1.20 0.5 1.20 -2.7 1.20 -2.1 1.20 0.6 1.20 0.2 1.20 -1.2 1.20 -0.1 1.20 0.4 1.20 -0.3 1.20 -0.7 1.20 0.8 1.20 1.4 1.20 0.1 1.20 -0.4 1.20 0.9 1.20 1.0 1.20 0.1 1.20 -1.0 1.20 -0.6 1.20 1.5 1.20 -0.9 1.20 -2.0 1.20 1.0 1.20 1.8 1.20 0.8 1.20 -1.1 1.20 -1.7 1.20 0.0 1.20 0.2 1.20 -0.1 1.20 0.1 1.20 -0.5 1.20 -0.7 1.20 -0.2 1.20 -0.1 1.20 1.1 1.20 1.4 1.20 0.5 1.20 1.2 1.20 -0.7 1.20 -2.7 1.20 -1.9 1.20 -1.4 1.20 0.9 1.20 2.8 1.20 0.8 1.20 -0.5 1.20 -0.2 1.20 0.6 1.20 0.8 1.20 -0.5 1.20 -1.4 1.20 -0.7 1.20 1.1 1.20 0.4 1.20 -0.8 1.20 -1.7 1.20 -5.1 1.20 5.8 1.20 14.1 1.20 -1.3 1.20 -10.5 1.20 -1.1 1.20 0.1 1.20 0.8 1.20 0.9 1.20 -0.3 1.20 -1.5 1.20 -1.7 1.20 -0.1 1.20 0.8 1.20 0.5 1.20 0.6 1.20 -0.2 1.20 -0.8 1.20 -0.7 1.20 0.1 1.20 1.3 1.20 0.6 1.20 -0.2 1.20 0.4 1.20 -0.6 1.20 -1.8 1.20 0.2 1.20 2.1 1.20 0.3 1.20 -0.9 1.20 -0.1 1.20 -2.4 1.20 -1.7 1.20 2.4 1.20 1.5"/></g>
<path d="M369.2,963 V967.3 H668.0999999999999 V963" fill="none" stroke="#333" stroke-width="1.6"/>
<line x1="429.0" y1="963" x2="429.0" y2="967.3" stroke="#333" stroke-width="1.6"/>
<line x1="488.8" y1="963" x2="488.8" y2="967.3" stroke="#333" stroke-width="1.6"/>
<line x1="548.5" y1="963" x2="548.5" y2="967.3" stroke="#333" stroke-width="1.6"/>
<line x1="608.3" y1="963" x2="608.3" y2="967.3" stroke="#333" stroke-width="1.6"/>
<text x="382.5" y="992.4" font-size="24" text-anchor="end" fill="#000" font-weight="normal" >−10</text>
<text x="435.7" y="992.4" font-size="24" text-anchor="end" fill="#000" font-weight="normal" >−5</text>
<text x="488.8" y="992.4" font-size="24" text-anchor="middle" fill="#000" font-weight="normal" >0</text>
<text x="548.5" y="992.4" font-size="24" text-anchor="middle" fill="#000" font-weight="normal" >5</text>
<text x="608.3" y="992.4" font-size="24" text-anchor="middle" fill="#000" font-weight="normal" >10</text>
<text x="668.1" y="992.4" font-size="24" text-anchor="middle" fill="#000" font-weight="normal" >15</text>
<text x="534.3" y="1023.9" font-size="23.5" text-anchor="middle" fill="#000" font-weight="normal" >Time (ms)</text>
<path d="M795,560 V983.4 H1003.8" fill="none" stroke="#222" stroke-width="1.6"/>
<line x1="795" y1="560.0" x2="800" y2="560.0" stroke="#222" stroke-width="1.6"/>
<text x="785.2" y="567.4" font-size="24.9" text-anchor="end" fill="#000" font-weight="normal" >0</text>
<line x1="795" y1="630.5" x2="800" y2="630.5" stroke="#222" stroke-width="1.6"/>
<text x="785.2" y="637.9" font-size="24.9" text-anchor="end" fill="#000" font-weight="normal" >200</text>
<line x1="795" y1="701.0" x2="800" y2="701.0" stroke="#222" stroke-width="1.6"/>
<text x="785.2" y="708.4" font-size="24.9" text-anchor="end" fill="#000" font-weight="normal" >400</text>
<line x1="795" y1="771.5" x2="800" y2="771.5" stroke="#222" stroke-width="1.6"/>
<text x="785.2" y="778.9" font-size="24.9" text-anchor="end" fill="#000" font-weight="normal" >600</text>
<line x1="795" y1="842.0" x2="800" y2="842.0" stroke="#222" stroke-width="1.6"/>
<text x="785.2" y="849.4" font-size="24.9" text-anchor="end" fill="#000" font-weight="normal" >800</text>
<line x1="795" y1="912.5" x2="800" y2="912.5" stroke="#222" stroke-width="1.6"/>
<text x="785.2" y="919.9" font-size="24.9" text-anchor="end" fill="#000" font-weight="normal" >1,000</text>
<line x1="795" y1="983.0" x2="800" y2="983.0" stroke="#222" stroke-width="1.6"/>
<text x="785.2" y="990.4" font-size="24.9" text-anchor="end" fill="#000" font-weight="normal" >1,200</text>
<line x1="864.5" y1="978.5" x2="864.5" y2="983.4" stroke="#222" stroke-width="1.6"/>
<line x1="934" y1="978.5" x2="934" y2="983.4" stroke="#222" stroke-width="1.6"/>
<text x="0" y="0" font-size="24.9" text-anchor="middle" fill="#000" font-weight="normal" transform="translate(717.8 772.3) rotate(-90)">Nominal depth (μm)</text>
<g fill="#1aa61a"><circle cx="860.5" cy="711.8" r="2.7"/><circle cx="877.7" cy="711.8" r="2.7"/><circle cx="866.1" cy="720.5" r="2.7"/><circle cx="849.1" cy="729.5" r="2.7"/><circle cx="861.5" cy="729.5" r="2.7"/><circle cx="863.3" cy="729.5" r="2.7"/><circle cx="870.6" cy="729.5" r="2.7"/><circle cx="874.4" cy="729.5" r="2.7"/><circle cx="869.8" cy="738.3" r="2.7"/><circle cx="877.9" cy="738.3" r="2.7"/><circle cx="854.4" cy="747.3" r="2.7"/><circle cx="856.2" cy="747.7" r="2.7"/><circle cx="861.2" cy="748.8" r="2.7"/><circle cx="870.6" cy="747.3" r="2.7"/><circle cx="857" cy="756" r="2.7"/><circle cx="863.8" cy="756" r="2.7"/><circle cx="867.6" cy="757.6" r="2.7"/><circle cx="871.4" cy="756" r="2.7"/><circle cx="857" cy="764.8" r="2.7"/><circle cx="860.8" cy="764.8" r="2.7"/><circle cx="871.4" cy="764.8" r="2.7"/><circle cx="852.4" cy="773.8" r="2.7"/><circle cx="863.8" cy="782.6" r="2.7"/><circle cx="868.3" cy="782.6" r="2.7"/><circle cx="872.9" cy="782.6" r="2.7"/><circle cx="860" cy="786.4" r="2.7"/><circle cx="853.9" cy="791.4" r="2.7"/><circle cx="857.7" cy="791.4" r="2.7"/><circle cx="863.3" cy="791.4" r="2.7"/><circle cx="875.2" cy="791.4" r="2.7"/><circle cx="863.3" cy="800" r="2.7"/><circle cx="862.3" cy="808.8" r="2.7"/><circle cx="879.4" cy="808.8" r="2.7"/><circle cx="852.9" cy="817.4" r="2.7"/><circle cx="862.3" cy="817.4" r="2.7"/><circle cx="857.4" cy="821.2" r="2.7"/><circle cx="855.5" cy="826.5" r="2.7"/><circle cx="860" cy="826.5" r="2.7"/><circle cx="866" cy="828" r="2.7"/><circle cx="870.6" cy="826.5" r="2.7"/><circle cx="864.1" cy="835.3" r="2.7"/><circle cx="862.6" cy="842.4" r="2.7"/><circle cx="863" cy="853.3" r="2.7"/><circle cx="852.9" cy="859.8" r="2.7"/><circle cx="860.5" cy="861.8" r="2.7"/><circle cx="865.6" cy="879.5" r="2.7"/><circle cx="869.8" cy="888.6" r="2.7"/></g>
<g fill="#ee22ee"><circle cx="938.9" cy="782.4" r="2.7"/><circle cx="934.1" cy="791.5" r="2.7"/><circle cx="923.9" cy="809.1" r="2.7"/><circle cx="945.8" cy="818" r="2.7"/><circle cx="923" cy="830.3" r="2.7"/><circle cx="937.6" cy="830.3" r="2.7"/><circle cx="934.1" cy="835.5" r="2.7"/><circle cx="937.6" cy="835.5" r="2.7"/><circle cx="947" cy="835.5" r="2.7"/><circle cx="933.3" cy="844.2" r="2.7"/><circle cx="925" cy="853" r="2.7"/><circle cx="923.5" cy="856.7" r="2.7"/><circle cx="931.8" cy="853" r="2.7"/><circle cx="936.4" cy="853" r="2.7"/><circle cx="936.1" cy="861.7" r="2.7"/><circle cx="934.1" cy="865.5" r="2.7"/><circle cx="937.1" cy="870.8" r="2.7"/><circle cx="920.2" cy="874.2" r="2.7"/><circle cx="931.8" cy="879.4" r="2.7"/><circle cx="939.1" cy="879.4" r="2.7"/><circle cx="943.2" cy="879.4" r="2.7"/><circle cx="930.3" cy="886.4" r="2.7"/><circle cx="931.1" cy="888.2" r="2.7"/><circle cx="938.6" cy="888.2" r="2.7"/><circle cx="947.4" cy="888.2" r="2.7"/><circle cx="925" cy="891.7" r="2.7"/><circle cx="927.6" cy="897.3" r="2.7"/><circle cx="914.4" cy="906.1" r="2.7"/><circle cx="927.3" cy="904.1" r="2.7"/><circle cx="934.5" cy="906.1" r="2.7"/><circle cx="942.7" cy="904.1" r="2.7"/><circle cx="920.5" cy="915" r="2.7"/><circle cx="929.2" cy="915" r="2.7"/><circle cx="933.6" cy="915" r="2.7"/><circle cx="953" cy="918.5" r="2.7"/><circle cx="917.4" cy="923.8" r="2.7"/><circle cx="920.5" cy="923.8" r="2.7"/><circle cx="928.5" cy="923.8" r="2.7"/><circle cx="940.6" cy="923.8" r="2.7"/><circle cx="941.2" cy="960.9" r="2.7"/></g>
<path d="M829.4,739.7 V826.2 M826.1999999999999,739.7 H832.6 M826.1999999999999,826.2 H832.6" stroke="#1aa61a" stroke-width="2" fill="none"/><circle cx="829.4" cy="783" r="3" fill="#1aa61a"/>
<path d="M968.5,836.2 V915.9 M965.3,836.2 H971.7 M965.3,915.9 H971.7" stroke="#ee22ee" stroke-width="2" fill="none"/><circle cx="968.5" cy="876.5" r="3" fill="#ee22ee"/>
<text x="817.5" y="1010.6" font-size="24.5" text-anchor="start" fill="#1aa61a" font-weight="normal" >PT</text>
<text x="848" y="1017" font-size="18" text-anchor="start" fill="#1aa61a" font-weight="normal" >upper</text>
<text x="926" y="1010.6" font-size="24.5" text-anchor="start" fill="#ee22ee" font-weight="normal" >PT</text>
<text x="956.5" y="1017" font-size="18" text-anchor="start" fill="#ee22ee" font-weight="normal" >lower</text>
<path d="M39 1083.5h1m6 0h1m1 0h1m23 0h3m8 0h1m1 0h2m2 0h1m1 0h2m1 0h1m4 0h5m3 0h1m2 0h3m1 0h1m2 0h1m4 0h3m1 0h3m1 0h2m1 0h4m4 0h4m2 0h1m2 0h3m1 0h2m1 0h5m1 0h7m1 0h3m2 0h1m1 0h1m4 0h1m1 0h1m2 0h1m2 0h1m3 0h2m3 0h1m9 0h1m6 0h1m3 0h1M38 1084.5h2m4 0h2m1 0h1m3 0h1m9 0h1m1 0h1m6 0h1m7 0h1m2 0h1m1 0h1m1 0h2m2 0h2m1 0h1m1 0h1m2 0h2m1 0h1m4 0h1m2 0h1m2 0h2m4 0h1m3 0h1m2 0h1m1 0h3m2 0h2m1 0h4m2 0h6m1 0h1m1 0h1m1 0h12m2 0h2m1 0h3m1 0h3m4 0h5m1 0h1m1 0h1m4 0h1m4 0h2m6 0h2m1 0h1m8 0h1m5 0h1m3 0h1m14 0h1M39 1085.5h1m5 0h1m10 0h1m3 0h1m3 0h2m2 0h1m7 0h1m7 0h1m1 0h1m2 0h2m3 0h1m1 0h1m2 0h2m6 0h2m2 0h2m2 0h1m6 0h2m2 0h1m3 0h1m2 0h1m1 0h1m1 0h7m1 0h4m1 0h5m1 0h3m2 0h3m2 0h4m1 0h5m2 0h2m6 0h1m2 0h1m4 0h1m1 0h1m3 0h2m3 0h2m2 0h1m4 0h1m15 0h1m2 0h2M46 1086.5h1m1 0h3m2 0h1m1 0h1m13 0h1m2 0h1m1 0h1m5 0h1m8 0h1m3 0h1m2 0h1m4 0h1m3 0h1m4 0h2m1 0h2m2 0h5m1 0h3m2 0h3m1 0h3m1 0h1m3 0h4m1 0h11m1 0h1m2 0h4m1 0h2m2 0h1m1 0h6m3 0h1m4 0h1m3 0h1m11 0h1m4 0h1m5 0h1m6 0h1m2 0h1M39 1087.5h1m16 0h1m9 0h1m2 0h1m14 0h2m4 0h2m5 0h1m2 0h1m2 0h2m2 0h1m1 0h1m1 0h2m3 0h1m1 0h1m1 0h5m3 0h4m2 0h7m1 0h3m1 0h1m1 0h3m1 0h1m1 0h6m1 0h1m2 0h4m1 0h1m1 0h1m1 0h1m2 0h1m1 0h3m1 0h2m2 0h1m1 0h1m2 0h2m2 0h1m1 0h1m18 0h1m15 0h1m5 0h1m9 0h1M53 1088.5h1m25 0h1m6 0h1m2 0h1m3 0h2m3 0h1m2 0h1m7 0h2m1 0h1m1 0h1m1 0h1m4 0h1m1 0h1m1 0h1m3 0h3m1 0h5m2 0h2m1 0h1m1 0h3m1 0h1m3 0h3m1 0h10m1 0h1m1 0h1m1 0h6m2 0h1m1 0h3m1 0h1m2 0h3m2 0h2m1 0h4m2 0h2m1 0h1m5 0h1m34 0h1M44 1089.5h1m1 0h1m6 0h1m5 0h1m2 0h1m1 0h2m7 0h1m6 0h1m7 0h1m3 0h2m3 0h3m5 0h1m1 0h4m2 0h3m2 0h1m1 0h3m4 0h4m2 0h3m1 0h3m2 0h3m2 0h2m1 0h1m1 0h7m2 0h7m1 0h1m2 0h1m2 0h1m4 0h1m5 0h3m3 0h2m6 0h1m4 0h2m2 0h1m4 0h1m19 0h1m6 0h1M38 1090.5h1m29 0h1m1 0h3m5 0h1m2 0h1m4 0h1m2 0h1m2 0h1m1 0h1m1 0h5m2 0h1m1 0h2m1 0h1m6 0h3m1 0h1m1 0h1m1 0h2m3 0h3m1 0h3m1 0h2m2 0h3m2 0h1m1 0h2m1 0h21m2 0h4m5 0h1m5 0h1m1 0h1m1 0h1m2 0h1m5 0h1m5 0h1m5 0h1m1 0h1m2 0h1m5 0h1m11 0h1m12 0h1M42 1091.5h1m3 0h1m1 0h1m6 0h1m7 0h2m1 0h1m5 0h1m11 0h1m5 0h3m5 0h1m1 0h2m3 0h2m2 0h1m2 0h3m1 0h1m1 0h3m1 0h3m1 0h3m2 0h1m3 0h1m1 0h6m1 0h9m3 0h1m1 0h6m1 0h6m1 0h1m8 0h2m2 0h1m1 0h1m4 0h1m1 0h1m1 0h1m1 0h2m7 0h1m1 0h1m4 0h1m8 0h1m5 0h1m17 0h1M49 1092.5h1m6 0h1m10 0h1m1 0h1m2 0h1m2 0h1m2 0h3m3 0h4m2 0h1m2 0h2m5 0h6m2 0h1m2 0h2m1 0h1m1 0h4m1 0h2m3 0h10m4 0h8m2 0h5m1 0h2m1 0h4m6 0h2m5 0h3m1 0h1m1 0h2m1 0h3m3 0h1m2 0h1m1 0h2m3 0h1m15 0h2m30 0h1M39 1093.5h2m24 0h1m6 0h2m6 0h1m2 0h2m2 0h2m1 0h1m2 0h1m1 0h2m2 0h1m1 0h2m3 0h1m4 0h1m2 0h2m1 0h1m2 0h1m3 0h3m2 0h2m3 0h4m1 0h1m1 0h1m1 0h2m1 0h8m1 0h5m3 0h1m1 0h3m1 0h2m2 0h1m5 0h2m2 0h5m2 0h1m3 0h1m6 0h1m17 0h2m2 0h1m7 0h1M38 1094.5h1m1 0h1m3 0h1m7 0h1m13 0h1m6 0h1m9 0h1m2 0h2m2 0h1m2 0h1m1 0h1m2 0h1m3 0h1m5 0h3m2 0h4m2 0h2m1 0h8m1 0h2m2 0h3m1 0h4m1 0h4m1 0h5m1 0h1m2 0h4m1 0h5m7 0h1m2 0h2m1 0h1m3 0h1m4 0h1m2 0h2m7 0h1m1 0h1m5 0h1m1 0h1m2 0h2m2 0h1m2 0h2m18 0h1m5 0h1M38 1095.5h1m11 0h1m4 0h1m12 0h1m1 0h1m4 0h1m2 0h3m2 0h1m2 0h2m1 0h2m3 0h4m6 0h2m1 0h1m1 0h1m3 0h3m1 0h3m2 0h1m1 0h3m3 0h2m1 0h3m1 0h4m1 0h3m1 0h2m3 0h1m1 0h4m3 0h5m1 0h2m1 0h2m1 0h1m1 0h1m2 0h2m4 0h2m1 0h1m5 0h1m3 0h1m1 0h2m1 0h1m4 0h1M40 1096.5h1m26 0h1m1 0h1m1 0h2m1 0h1m5 0h3m3 0h1m1 0h3m6 0h2m2 0h1m2 0h2m3 0h2m3 0h1m5 0h1m1 0h1m2 0h2m2 0h2m2 0h4m1 0h3m1 0h1m2 0h4m3 0h5m1 0h5m1 0h5m1 0h3m1 0h1m3 0h1m4 0h2m9 0h1m6 0h1m1 0h1m5 0h1m3 0h1m2 0h1m2 0h1m4 0h1m1 0h1m2 0h1m3 0h1m2 0h1m7 0h1m3 0h1M44 1097.5h1m1 0h1m2 0h1m3 0h1m2 0h1m5 0h1m12 0h2m2 0h2m6 0h2m2 0h2m3 0h1m8 0h2m5 0h1m7 0h4m1 0h1m1 0h1m1 0h1m1 0h2m1 0h1m1 0h11m1 0h3m1 0h2m2 0h1m1 0h3m3 0h2m4 0h2m1 0h4m1 0h3m1 0h2m1 0h1m1 0h1m2 0h1m1 0h1m1 0h1m4 0h1m11 0h1m8 0h1m11 0h1m8 0h1m6 0h1M44 1098.5h1m5 0h1m1 0h1m3 0h1m6 0h1m4 0h1m8 0h1m5 0h2m2 0h1m1 0h2m2 0h1m1 0h1m4 0h1m2 0h1m2 0h3m1 0h1m4 0h2m1 0h1m2 0h3m4 0h3m1 0h2m1 0h4m1 0h3m1 0h2m1 0h10m2 0h2m2 0h1m1 0h1m1 0h1m3 0h3m1 0h2m1 0h1m2 0h1m1 0h1m1 0h1m2 0h1m1 0h1m3 0h1m20 0h1m7 0h1M39 1099.5h1m4 0h1m18 0h1m1 0h1m3 0h1m2 0h2m9 0h3m2 0h1m1 0h1m1 0h1m4 0h1m1 0h2m3 0h1m1 0h1m4 0h2m2 0h7m3 0h4m1 0h6m2 0h9m2 0h8m1 0h2m1 0h5m1 0h2m1 0h3m1 0h2m2 0h1m3 0h1m2 0h1m1 0h1m2 0h3m2 0h1m15 0h1m16 0h1m2 0h1m6 0h1M50 1100.5h1m22 0h1m1 0h1m4 0h1m8 0h2m1 0h1m2 0h2m3 0h2m4 0h2m1 0h3m2 0h1m6 0h2m1 0h7m2 0h3m1 0h2m1 0h3m5 0h2m1 0h4m5 0h1m2 0h10m1 0h2m1 0h1m5 0h1m3 0h2m1 0h1m2 0h1m2 0h1m4 0h1m2 0h1m2 0h1m1 0h1m3 0h1m7 0h1m4 0h1m21 0h1M40 1101.5h1m7 0h1m10 0h1m2 0h2m14 0h2m2 0h1m2 0h1m2 0h4m5 0h1m2 0h3m2 0h1m4 0h1m5 0h1m3 0h1m3 0h4m1 0h2m2 0h1m2 0h2m2 0h5m1 0h1m1 0h1m1 0h1m1 0h4m1 0h10m4 0h4m1 0h1m3 0h1m2 0h2m5 0h1m2 0h1m2 0h1m22 0h1m1 0h1m22 0h1m1 0h1M38 1102.5h1m4 0h1m28 0h1m1 0h1m5 0h1m2 0h2m2 0h1m6 0h1m4 0h1m2 0h3m2 0h1m8 0h1m6 0h1m2 0h2m1 0h1m1 0h6m1 0h1m1 0h6m1 0h2m1 0h8m1 0h1m1 0h6m1 0h1m1 0h2m3 0h6m2 0h6m2 0h2m1 0h2m7 0h1m6 0h1m9 0h2m2 0h1m1 0h2m5 0h1M41 1103.5h1m3 0h2m3 0h1m13 0h1m4 0h1m6 0h1m3 0h3m4 0h1m1 0h1m1 0h1m2 0h1m2 0h2m1 0h1m1 0h1m1 0h3m2 0h3m7 0h3m1 0h6m1 0h1m1 0h1m1 0h3m1 0h1m1 0h2m1 0h4m1 0h3m1 0h3m1 0h8m1 0h4m2 0h6m2 0h1m1 0h2m3 0h1m1 0h2m2 0h4m1 0h1m2 0h1m1 0h1m3 0h1m2 0h1m2 0h1m2 0h1m4 0h1m26 0h1M48 1104.5h1m5 0h2m3 0h1m8 0h1m12 0h1m3 0h1m5 0h2m7 0h1m3 0h1m1 0h2m1 0h1m1 0h1m2 0h1m2 0h5m1 0h3m1 0h1m1 0h1m1 0h5m1 0h1m3 0h5m1 0h13m1 0h1m2 0h2m1 0h1m1 0h1m1 0h1m1 0h1m3 0h1m3 0h1m2 0h4m2 0h3m1 0h1m14 0h1m3 0h1m2 0h1m29 0h1M56 1105.5h1m7 0h1m3 0h1m7 0h1m9 0h1m1 0h1m4 0h4m1 0h1m2 0h3m1 0h1m4 0h1m1 0h1m2 0h3m5 0h2m3 0h3m1 0h1m1 0h1m3 0h11m1 0h3m1 0h7m1 0h6m1 0h2m2 0h1m8 0h1m1 0h2m1 0h1m3 0h1m2 0h4m3 0h2m17 0h1m9 0h1m5 0h1m12 0h1M43 1106.5h1m4 0h1m1 0h1m4 0h2m9 0h1m6 0h1m4 0h1m1 0h3m1 0h2m2 0h3m2 0h1m4 0h2m1 0h3m1 0h1m2 0h1m1 0h2m1 0h1m5 0h3m1 0h3m2 0h3m1 0h1m2 0h2m2 0h2m1 0h1m2 0h9m1 0h3m2 0h4m2 0h1m1 0h4m1 0h2m2 0h2m6 0h1m2 0h3m1 0h1m1 0h1m8 0h1m5 0h1m7 0h1m3 0h1m18 0h1m2 0h1M41 1107.5h1m3 0h2m19 0h1m6 0h1m2 0h1m1 0h2m1 0h2m1 0h2m3 0h1m4 0h1m2 0h2m2 0h1m1 0h1m1 0h4m1 0h1m5 0h4m3 0h3m1 0h1m1 0h7m1 0h1m1 0h2m1 0h7m1 0h4m1 0h9m1 0h1m1 0h2m1 0h1m2 0h2m8 0h4m1 0h2m3 0h2m2 0h1m6 0h1m10 0h1M38 1108.5h2m2 0h1m4 0h2m7 0h1m3 0h3m3 0h1m4 0h2m6 0h4m3 0h1m2 0h1m2 0h1m4 0h1m1 0h1m4 0h3m3 0h2m2 0h4m1 0h3m1 0h2m2 0h5m3 0h2m1 0h10m1 0h1m1 0h8m1 0h10m3 0h1m4 0h2m1 0h1m1 0h1m20 0h1m4 0h1m8 0h1m2 0h1m1 0h1m3 0h1m14 0h1M38 1109.5h1m7 0h1m5 0h1m10 0h1m3 0h1m7 0h1m2 0h1m5 0h1m1 0h1m3 0h1m4 0h1m1 0h2m6 0h1m1 0h2m4 0h1m4 0h2m3 0h2m2 0h1m1 0h2m2 0h8m1 0h6m1 0h2m1 0h1m1 0h6m1 0h1m1 0h3m1 0h1m2 0h1m2 0h1m3 0h1m3 0h1m1 0h1m1 0h1m4 0h3m6 0h1m1 0h1m1 0h1m5 0h1m6 0h1M42 1110.5h1m7 0h1m13 0h1m7 0h1m9 0h1m4 0h1m1 0h1m6 0h1m1 0h3m3 0h1m1 0h2m2 0h2m2 0h3m1 0h1m2 0h3m1 0h1m2 0h1m1 0h1m1 0h6m2 0h11m1 0h3m1 0h3m2 0h2m2 0h4m2 0h1m1 0h1m1 0h1m4 0h1m1 0h1m2 0h2m3 0h1m3 0h1m1 0h1m5 0h1m6 0h1m7 0h1m1 0h3m2 0h1M39 1111.5h1m10 0h2m4 0h1m7 0h1m1 0h1m5 0h1m4 0h1m1 0h4m1 0h1m6 0h1m4 0h2m4 0h3m1 0h1m1 0h1m2 0h3m2 0h5m2 0h1m1 0h1m1 0h2m2 0h2m1 0h4m3 0h3m5 0h4m2 0h2m1 0h3m1 0h3m2 0h1m2 0h2m1 0h2m12 0h1m1 0h3m1 0h1m2 0h1m6 0h1m2 0h1m13 0h2m11 0h1m5 0h1M42 1112.5h1m22 0h1m2 0h2m1 0h2m4 0h1m5 0h1m4 0h2m1 0h1m5 0h1m3 0h1m1 0h1m1 0h1m2 0h2m1 0h2m3 0h2m3 0h3m1 0h4m1 0h9m2 0h6m2 0h3m1 0h1m1 0h4m1 0h1m1 0h1m1 0h2m1 0h1m1 0h2m2 0h1m5 0h3m1 0h1m1 0h1m1 0h2m1 0h1m6 0h2m9 0h3m1 0h2m20 0h1m2 0h1M52 1113.5h3m6 0h1m2 0h2m5 0h1m4 0h2m1 0h1m6 0h4m1 0h1m1 0h1m3 0h1m1 0h1m3 0h1m2 0h1m2 0h1m1 0h2m3 0h2m1 0h2m5 0h1m3 0h2m2 0h2m2 0h2m1 0h2m1 0h3m1 0h1m1 0h3m1 0h7m3 0h4m1 0h1m3 0h3m5 0h1m2 0h2m2 0h1m1 0h1m2 0h1m1 0h1m7 0h1m4 0h1m13 0h1M39 1114.5h2m3 0h1m7 0h2m1 0h1m2 0h2m2 0h2m1 0h1m6 0h3m8 0h1m3 0h1m3 0h1m4 0h1m1 0h1m1 0h1m1 0h1m3 0h1m2 0h1m3 0h4m1 0h2m2 0h5m2 0h1m4 0h7m1 0h1m4 0h1m1 0h2m2 0h1m1 0h5m1 0h1m1 0h3m1 0h4m1 0h1m3 0h1m4 0h1m3 0h1m2 0h3m1 0h1m1 0h1m1 0h1m7 0h1m4 0h2m9 0h1m28 0h1M44 1115.5h1m9 0h2m8 0h1m2 0h1m2 0h1m5 0h1m5 0h1m1 0h1m8 0h1m1 0h2m4 0h3m1 0h3m1 0h1m1 0h1m1 0h1m1 0h5m2 0h3m2 0h4m2 0h1m1 0h13m1 0h4m1 0h1m1 0h5m2 0h1m1 0h5m1 0h1m1 0h1m4 0h2m1 0h1m1 0h1m1 0h4m1 0h1m3 0h1m1 0h1m6 0h1m4 0h1m9 0h1m23 0h1M49 1116.5h1m1 0h1m11 0h1m5 0h2m7 0h1m3 0h1m2 0h1m1 0h2m2 0h1m3 0h6m2 0h2m4 0h3m3 0h1m1 0h3m2 0h1m5 0h6m1 0h3m1 0h6m1 0h1m2 0h10m1 0h5m1 0h1m1 0h2m1 0h2m1 0h3m2 0h1m5 0h2m5 0h1m1 0h1m1 0h1m4 0h1m1 0h1m19 0h2M39 1117.5h2m6 0h1m2 0h1m2 0h1m10 0h1m3 0h1m4 0h1m10 0h1m1 0h2m2 0h1m3 0h2m1 0h1m7 0h5m2 0h2m1 0h1m6 0h3m1 0h2m1 0h3m1 0h5m1 0h1m1 0h8m1 0h4m4 0h3m1 0h1m1 0h2m2 0h5m1 0h1m9 0h2m4 0h1m1 0h1m3 0h1m2 0h2m4 0h1m27 0h1m3 0h1m7 0h1M48 1118.5h1m13 0h1m12 0h2m5 0h1m1 0h1m1 0h2m3 0h2m5 0h4m2 0h2m1 0h1m1 0h1m2 0h2m1 0h1m1 0h1m1 0h1m1 0h3m1 0h2m1 0h1m1 0h2m3 0h3m1 0h9m1 0h1m1 0h1m2 0h4m1 0h2m3 0h5m1 0h1m1 0h3m2 0h2m8 0h2m2 0h1m1 0h2m3 0h2m6 0h1m7 0h1m2 0h1m21 0h1m4 0h1m3 0h1M41 1119.5h1m7 0h1m3 0h1m16 0h1m1 0h1m1 0h1m4 0h1m3 0h1m1 0h2m1 0h2m1 0h4m1 0h2m4 0h1m2 0h2m2 0h1m1 0h2m3 0h2m1 0h2m1 0h3m4 0h2m1 0h2m2 0h1m1 0h1m2 0h3m1 0h1m1 0h10m1 0h4m1 0h9m1 0h2m1 0h1m1 0h1m3 0h1m1 0h1m3 0h3m5 0h1m1 0h1m1 0h2m2 0h1m1 0h1m12 0h1m2 0h1m25 0h1" stroke="#1010ee" stroke-width="1" fill="none"/>
<path d="M58 1120.5h1m8 0h1m3 0h1m21 0h1m16 0h1m25 0h2m9 0h1m4 0h1m11 0h1M40 1121.5h1m10 0h1m1 0h1m7 0h1m8 0h1m20 0h2m1 0h1m2 0h1m40 0h3m23 0h1M44 1122.5h1m8 0h1m1 0h1m26 0h1m8 0h1m3 0h1m5 0h1m27 0h1m4 0h2m18 0h1m66 0h1m17 0h1M45 1123.5h1m41 0h1m9 0h1m4 0h1m1 0h1m27 0h1m4 0h1m1 0h1m23 0h1m55 0h1M39 1124.5h1m3 0h1m5 0h1m2 0h1m1 0h1m25 0h1m2 0h1m1 0h1m2 0h1m12 0h1m34 0h1m1 0h1m2 0h1m5 0h1m1 0h1m15 0h1m76 0h1m3 0h1M39 1125.5h2m1 0h1m2 0h1m3 0h1m19 0h1m2 0h1m14 0h1m14 0h2m28 0h1m1 0h1m5 0h1m83 0h1m7 0h1m13 0h1M57 1126.5h1m29 0h2m36 0h1m10 0h1m22 0h1m79 0h1M40 1127.5h1m9 0h1m34 0h1m13 0h1m31 0h1m10 0h1m26 0h1m4 0h1m15 0h1m22 0h1M42 1128.5h1m31 0h1m45 0h1m12 0h1m9 0h1m21 0h1m34 0h1M47 1129.5h1m6 0h2m3 0h1m9 0h2m12 0h2m33 0h1m5 0h1m17 0h1m15 0h1m3 0h1m1 0h1M39 1130.5h1m3 0h1m1 0h2m5 0h1m1 0h1m13 0h1m5 0h1m8 0h1m48 0h1m6 0h1m4 0h1m102 0h1M47 1131.5h1m4 0h1m30 0h1m8 0h1m5 0h1m22 0h1m10 0h1m16 0h1m74 0h1M45 1132.5h1m2 0h1m4 0h1m7 0h1m15 0h1m6 0h1m12 0h1m3 0h1m5 0h1m17 0h1m5 0h1m5 0h2m2 0h4m92 0h1M39 1133.5h1m11 0h1m7 0h1m3 0h1m2 0h1m3 0h1m6 0h2m3 0h2m2 0h1m6 0h2m7 0h1m22 0h1m9 0h1m19 0h1M39 1134.5h2m5 0h1m26 0h1m2 0h2m6 0h2m16 0h1m12 0h1m13 0h1m4 0h2m3 0h1m3 0h1m14 0h1m57 0h1m31 0h1M49 1135.5h1m2 0h1m6 0h1m16 0h1m1 0h1m15 0h1m25 0h1m12 0h1m4 0h1m6 0h2m63 0h1m19 0h1M41 1136.5h2m5 0h1m8 0h1m6 0h1m13 0h1m5 0h1m1 0h1m9 0h1m7 0h1m2 0h1m26 0h1m1 0h2m2 0h2m12 0h1m72 0h1M38 1137.5h1m5 0h1m1 0h1m5 0h1m2 0h1m21 0h1m2 0h1m4 0h1m39 0h1m2 0h1m18 0h1m31 0h1m36 0h1M39 1138.5h1m6 0h1m6 0h1m3 0h1m12 0h1m7 0h1m9 0h1m17 0h1m20 0h2m7 0h1m9 0h1M48 1139.5h1m2 0h1m1 0h1m23 0h1m6 0h1m45 0h2m19 0h1m12 0h1m4 0h1M52 1140.5h1m3 0h1m11 0h1m4 0h1m8 0h1m1 0h1m5 0h1m8 0h1m30 0h1m30 0h1m11 0h1m65 0h1M39 1141.5h1m8 0h1m6 0h1m23 0h1m24 0h1m21 0h1m2 0h1m7 0h1m3 0h1m30 0h1m39 0h1m36 0h1M39 1142.5h1m2 0h1m10 0h2m4 0h1m11 0h1m5 0h1m18 0h1m1 0h1m1 0h2m1 0h1m27 0h1m4 0h1m6 0h1m2 0h1m30 0h1m47 0h1M88 1143.5h1m12 0h1m17 0h1m9 0h1m2 0h1m1 0h2m2 0h2m7 0h1m15 0h1m41 0h1m18 0h1M41 1144.5h1m1 0h1m7 0h1m39 0h1m2 0h1m8 0h1m25 0h2m3 0h2m5 0h1m85 0h1M38 1145.5h2m39 0h1m6 0h1m7 0h1m1 0h1m5 0h1m35 0h2m2 0h1m3 0h1m5 0h1m5 0h1m62 0h1m1 0h1m2 0h1m11 0h1M39 1146.5h1m6 0h1m17 0h1m5 0h1m16 0h1m1 0h1m1 0h1m4 0h1m10 0h1m21 0h1m3 0h1m6 0h1m10 0h1m81 0h1M38 1147.5h2m38 0h1m3 0h1m53 0h1m5 0h1m12 0h1m3 0h1m48 0h1m10 0h1m9 0h1M39 1148.5h1m9 0h2m18 0h1m11 0h2m34 0h1m2 0h1m16 0h1m17 0h1m2 0h1m16 0h1m65 0h1M53 1149.5h1m32 0h1m2 0h1m12 0h1m5 0h1m27 0h1m4 0h1m31 0h1m38 0h1M56 1150.5h2m5 0h1m8 0h1m14 0h1m1 0h1m6 0h1m3 0h1m24 0h1m9 0h1m6 0h2m97 0h1M38 1151.5h1m10 0h1m31 0h1m7 0h2m4 0h1m5 0h1m20 0h1m3 0h1m12 0h1m3 0h1m14 0h1m43 0h1m11 0h1m11 0h1m14 0h1M40 1152.5h1m6 0h1m6 0h1m24 0h1m3 0h1m2 0h1m6 0h1m6 0h1m3 0h1m19 0h1m11 0h1m1 0h1m5 0h1m4 0h1m16 0h1m23 0h1m7 0h1m36 0h1M38 1153.5h1m34 0h1m20 0h1m9 0h1m17 0h1m5 0h1m1 0h1m2 0h1m2 0h1m75 0h1m5 0h1M41 1154.5h2m6 0h2m21 0h1m52 0h1m12 0h1m77 0h1m11 0h1M40 1155.5h1m7 0h1m1 0h1m1 0h1m8 0h1m21 0h1m11 0h1m7 0h1m15 0h1m14 0h1m15 0h1m2 0h1m1 0h1m56 0h1m25 0h1M40 1156.5h1m3 0h2m4 0h1m4 0h1m25 0h2m1 0h1m2 0h1m7 0h1m8 0h1m39 0h1m12 0h1m59 0h1m4 0h1m1 0h1m1 0h2M51 1157.5h1m3 0h1m22 0h1m22 0h2m1 0h1m31 0h1m2 0h1M40 1158.5h1m35 0h1m17 0h1m4 0h1m31 0h1m2 0h1m3 0h1m9 0h1m13 0h1m58 0h1M39 1159.5h1m1 0h1m7 0h2m26 0h1m3 0h1m1 0h1m4 0h1m2 0h1m3 0h1m10 0h1m21 0h1m3 0h1m1 0h1m6 0h1m2 0h1m6 0h1M94 1160.5h1m6 0h1m38 0h1M61 1161.5h1m14 0h1m9 0h1m12 0h3m2 0h1m31 0h1m15 0h1M44 1162.5h1m2 0h1m3 0h1m5 0h1m7 0h1m1 0h1m19 0h1m5 0h1m10 0h1m20 0h1m4 0h1m5 0h1m1 0h1" stroke="#ee1010" stroke-width="1" fill="none"/>
<line x1="51.8" y1="1083" x2="51.8" y2="1163" stroke="#000" stroke-width="1.8"/>
<line x1="60.2" y1="1083" x2="60.2" y2="1163" stroke="#000" stroke-width="1.8"/>
<line x1="101.8" y1="1083" x2="101.8" y2="1163" stroke="#000" stroke-width="1.8"/>
<line x1="110.6" y1="1083" x2="110.6" y2="1163" stroke="#000" stroke-width="1.8"/>
<line x1="165.3" y1="1083" x2="165.3" y2="1163" stroke="#000" stroke-width="1.8"/>
<text x="144" y="1072.2" font-size="23.5" text-anchor="middle" fill="#000" font-weight="normal" >Cell #1</text>
<line x1="51.8" y1="1200.5" x2="51.8" y2="1278.5" stroke="#000" stroke-width="1.6"/>
<line x1="60.2" y1="1200.5" x2="60.2" y2="1278.5" stroke="#000" stroke-width="1.6"/>
<line x1="101.8" y1="1200.5" x2="101.8" y2="1278.5" stroke="#000" stroke-width="1.6"/>
<line x1="110.6" y1="1200.5" x2="110.6" y2="1278.5" stroke="#000" stroke-width="1.6"/>
<line x1="165.3" y1="1200.5" x2="165.3" y2="1278.5" stroke="#000" stroke-width="1.6"/>
<line x1="38.5" y1="1278.5" x2="250" y2="1278.5" stroke="#000" stroke-width="1.6"/>
<polyline points="39.3,1267.6 40.4,1268.3 41.5,1268.1 42.6,1269.4 43.7,1269.8 44.8,1267.9 45.9,1266.5 47.0,1268.9 48.1,1265.2 49.2,1266.6 50.3,1269.3 51.4,1264.4 52.5,1264.6 53.6,1268.6 54.7,1268.6 55.8,1271.4 56.9,1273.1 58.0,1273.1 59.1,1273.1 60.2,1274.5 61.3,1273.3 62.4,1273.6 63.5,1278.0 64.6,1275.9 65.7,1274.8 66.8,1274.9 67.9,1272.6 69.0,1274.7 70.1,1272.8 71.2,1271.6 72.3,1270.9 73.4,1273.2 74.5,1273.4 75.6,1270.8 76.7,1272.8 77.8,1271.1 78.9,1268.5 80.0,1272.6 81.1,1269.2 82.2,1267.4 83.3,1269.4 84.4,1267.4 85.5,1269.0 86.6,1267.4 87.7,1268.6 88.8,1267.4 89.9,1268.7 91.0,1267.4 92.1,1269.5 93.2,1269.0 94.3,1266.6 95.4,1269.7 96.5,1272.1 97.6,1269.6 98.7,1269.5 99.8,1271.4 100.9,1267.6 102.0,1271.3 103.1,1270.5 104.2,1269.3 105.3,1269.2 106.4,1273.7 107.5,1276.5 108.6,1275.8 109.7,1277.3 110.8,1278.0 111.9,1275.2 113.0,1277.8 114.1,1274.0 115.2,1276.4 116.3,1274.8 117.4,1275.3 118.5,1277.5 119.6,1276.2 120.7,1277.3 121.8,1277.2 122.9,1278.0 124.0,1275.1 125.1,1271.2 126.2,1274.7 127.3,1273.1 128.4,1272.3 129.5,1272.5 130.6,1273.5 131.7,1267.8 132.8,1268.2 133.9,1268.5 135.0,1269.3 136.1,1267.1 137.2,1270.2 138.3,1267.1 139.4,1267.1 140.5,1269.3 141.6,1269.0 142.7,1270.7 143.8,1273.1 144.9,1272.3 146.0,1272.3 147.1,1274.9 148.2,1274.8 149.3,1273.7 150.4,1273.0 151.5,1277.5 152.6,1273.4 153.7,1273.4 154.8,1276.9 155.9,1274.9 157.0,1276.2 158.1,1275.5 159.2,1272.5 160.3,1273.2 161.4,1275.7 162.5,1275.5 163.6,1276.2 164.7,1275.2 165.8,1276.1 166.9,1276.7 168.0,1277.6 169.1,1275.4 170.2,1276.0 171.3,1277.9 172.4,1277.2 173.5,1277.0 174.6,1277.1 175.7,1276.5 176.8,1275.4 177.9,1278.0 179.0,1277.3 180.1,1277.3 181.2,1274.1 182.3,1277.6 183.4,1278.0 184.5,1277.6 185.6,1276.6 186.7,1278.0 187.8,1278.0 188.9,1276.0 190.0,1278.0 191.1,1278.0 192.2,1278.0 193.3,1278.0 194.4,1278.0 195.5,1278.0 196.6,1275.9 197.7,1275.2 198.8,1277.4 199.9,1276.0 201.0,1278.0 202.1,1278.0 203.2,1277.9 204.3,1278.0 205.4,1276.1 206.5,1275.8 207.6,1278.0 208.7,1274.3 209.8,1274.3 210.9,1275.8 212.0,1276.6 213.1,1278.0 214.2,1276.8 215.3,1276.6 216.4,1276.9 217.5,1276.0 218.6,1275.4 219.7,1276.8 220.8,1278.0 221.9,1274.1 223.0,1276.7 224.1,1276.6 225.2,1276.7 226.3,1275.6 227.4,1278.0 228.5,1277.9 229.6,1276.4 230.7,1274.8 231.8,1275.1 232.9,1278.0 234.0,1276.8 235.1,1276.3 236.2,1276.9 237.3,1275.9 238.4,1275.8 239.5,1277.0 240.6,1275.5 241.7,1276.5 242.8,1274.8 243.9,1275.6 245.0,1271.4 246.1,1278.0 247.2,1275.6 248.3,1275.2 249.4,1276.8" fill="none" stroke="#ee0000" stroke-width="2.4" stroke-linejoin="round"/>
<polyline points="39.3,1270.7 40.4,1270.4 41.5,1269.6 42.6,1269.6 43.7,1269.4 44.8,1271.3 45.9,1272.0 47.0,1270.0 48.1,1268.4 49.2,1268.1 50.3,1266.9 51.4,1268.6 52.5,1269.5 53.6,1268.4 54.7,1267.5 55.8,1270.9 56.9,1271.4 58.0,1270.4 59.1,1274.1 60.2,1272.6 61.3,1272.1 62.4,1269.8 63.5,1272.6 64.6,1272.4 65.7,1266.8 66.8,1267.3 67.9,1270.6 69.0,1270.5 70.1,1265.5 71.2,1266.8 72.3,1264.2 73.4,1266.5 74.5,1267.6 75.6,1262.7 76.7,1263.9 77.8,1264.8 78.9,1258.8 80.0,1262.2 81.1,1261.9 82.2,1260.1 83.3,1255.6 84.4,1252.8 85.5,1258.8 86.6,1254.8 87.7,1253.9 88.8,1254.3 89.9,1254.3 91.0,1253.5 92.1,1250.9 93.2,1252.6 94.3,1252.0 95.4,1250.0 96.5,1250.5 97.6,1252.2 98.7,1250.1 99.8,1249.0 100.9,1247.8 102.0,1246.4 103.1,1249.0 104.2,1248.4 105.3,1246.6 106.4,1246.4 107.5,1250.6 108.6,1251.0 109.7,1253.0 110.8,1253.2 111.9,1249.6 113.0,1248.2 114.1,1245.5 115.2,1242.4 116.3,1244.5 117.4,1239.1 118.5,1238.2 119.6,1239.0 120.7,1236.7 121.8,1232.0 122.9,1229.1 124.0,1228.6 125.1,1231.5 126.2,1226.3 127.3,1224.5 128.4,1222.3 129.5,1219.9 130.6,1220.5 131.7,1221.7 132.8,1218.3 133.9,1220.1 135.0,1216.9 136.1,1216.6 137.2,1220.9 138.3,1215.9 139.4,1217.2 140.5,1218.0 141.6,1215.2 142.7,1211.8 143.8,1211.8 144.9,1208.8 146.0,1207.3 147.1,1209.5 148.2,1210.8 149.3,1209.7 150.4,1207.3 151.5,1207.5 152.6,1205.9 153.7,1207.0 154.8,1203.9 155.9,1205.4 157.0,1204.0 158.1,1203.4 159.2,1206.6 160.3,1204.9 161.4,1209.8 162.5,1209.2 163.6,1204.8 164.7,1205.0 165.8,1203.9 166.9,1206.7 168.0,1211.1 169.1,1216.9 170.2,1220.0 171.3,1226.2 172.4,1236.1 173.5,1237.4 174.6,1247.7 175.7,1251.8 176.8,1257.5 177.9,1254.4 179.0,1254.8 180.1,1254.4 181.2,1251.2 182.3,1256.6 183.4,1251.1 184.5,1251.5 185.6,1247.3 186.7,1250.0 187.8,1246.5 188.9,1252.6 190.0,1250.5 191.1,1254.0 192.2,1251.7 193.3,1254.5 194.4,1256.3 195.5,1260.1 196.6,1260.2 197.7,1263.6 198.8,1264.2 199.9,1266.6 201.0,1265.9 202.1,1267.0 203.2,1264.2 204.3,1266.5 205.4,1264.8 206.5,1268.8 207.6,1268.6 208.7,1267.3 209.8,1269.2 210.9,1268.3 212.0,1270.5 213.1,1270.5 214.2,1269.2 215.3,1271.6 216.4,1269.7 217.5,1269.4 218.6,1267.1 219.7,1272.2 220.8,1272.5 221.9,1270.5 223.0,1272.1 224.1,1270.9 225.2,1271.2 226.3,1272.2 227.4,1274.6 228.5,1272.7 229.6,1274.2 230.7,1274.9 231.8,1273.2 232.9,1276.0 234.0,1276.8 235.1,1273.8 236.2,1274.8 237.3,1274.2 238.4,1277.7 239.5,1276.6 240.6,1275.1 241.7,1274.5 242.8,1276.2 243.9,1273.9 245.0,1273.9 246.1,1271.3 247.2,1275.6 248.3,1273.4 249.4,1275.5" fill="none" stroke="#0000ee" stroke-width="2.4" stroke-linejoin="round"/>
<rect x="28.3" y="1241.4" width="4.8" height="36.0" fill="#000"/>
<text transform="translate(21.1 1320.2) rotate(-90)" font-size="24.7">10 spikes s<tspan font-size="16.5" dy="-10">−1</tspan></text>
<path d="M301 1083.5h4m1 0h5m1 0h2m1 0h1m2 0h1m2 0h1m1 0h1m1 0h3m1 0h7m3 0h1m1 0h7m3 0h1m1 0h2m1 0h1m1 0h3m1 0h1m1 0h2m1 0h1m1 0h4m1 0h3m3 0h13m1 0h6m1 0h1m2 0h3m1 0h2m2 0h3m1 0h2m1 0h1m2 0h1m1 0h2m1 0h1m1 0h2m1 0h13m1 0h1m1 0h1m20 0h1m6 0h2m9 0h1m10 0h2M301 1084.5h3m1 0h1m1 0h1m1 0h1m1 0h2m2 0h2m1 0h1m5 0h6m1 0h1m3 0h3m1 0h2m2 0h3m1 0h1m1 0h1m2 0h2m2 0h1m1 0h1m1 0h9m1 0h2m1 0h1m2 0h2m1 0h2m1 0h3m1 0h4m2 0h2m2 0h5m1 0h3m3 0h4m1 0h2m1 0h2m1 0h3m1 0h1m2 0h2m2 0h14m1 0h2m4 0h2m4 0h1m5 0h1m42 0h1M302 1085.5h1m2 0h2m4 0h1m1 0h1m1 0h2m3 0h1m1 0h4m2 0h2m1 0h2m3 0h1m1 0h2m2 0h3m3 0h2m5 0h1m1 0h1m2 0h5m2 0h1m1 0h2m1 0h1m1 0h4m1 0h1m1 0h6m1 0h2m1 0h2m1 0h2m2 0h1m1 0h1m1 0h2m1 0h3m2 0h6m8 0h2m2 0h1m1 0h10m1 0h5m1 0h1m1 0h2m1 0h3m5 0h1m18 0h1m7 0h1m7 0h1m8 0h1m1 0h1M301 1086.5h1m1 0h1m1 0h1m1 0h2m1 0h2m3 0h1m2 0h1m1 0h2m1 0h1m2 0h6m1 0h1m2 0h2m1 0h2m1 0h2m1 0h1m1 0h1m1 0h1m1 0h1m1 0h3m1 0h7m1 0h6m1 0h1m1 0h4m1 0h2m1 0h1m2 0h6m1 0h4m1 0h4m1 0h6m2 0h1m1 0h1m2 0h1m1 0h1m1 0h2m1 0h1m2 0h2m1 0h5m1 0h13m1 0h1m2 0h1m1 0h1m3 0h1m10 0h1m3 0h1m4 0h1m4 0h1m10 0h1m3 0h1M309 1087.5h2m4 0h1m2 0h2m2 0h4m1 0h4m1 0h2m3 0h1m2 0h8m1 0h3m1 0h6m2 0h1m1 0h3m2 0h4m1 0h3m2 0h5m2 0h2m3 0h2m3 0h3m1 0h2m3 0h1m4 0h1m1 0h7m5 0h1m1 0h1m2 0h14m1 0h4m2 0h1m1 0h2m43 0h2m3 0h1m1 0h1m2 0h1m3 0h1M306 1088.5h3m6 0h1m1 0h1m2 0h8m1 0h1m1 0h1m6 0h1m1 0h2m1 0h3m1 0h2m3 0h8m2 0h1m1 0h1m1 0h1m1 0h6m1 0h5m1 0h6m1 0h1m2 0h3m3 0h4m1 0h3m2 0h1m1 0h2m1 0h1m1 0h1m1 0h1m1 0h1m2 0h2m1 0h1m3 0h3m1 0h5m1 0h7m1 0h2m4 0h1m3 0h1m18 0h1m1 0h2m5 0h1m3 0h1m8 0h1M305 1089.5h2m1 0h1m1 0h1m6 0h1m1 0h1m3 0h5m2 0h1m1 0h2m2 0h1m1 0h1m2 0h3m1 0h2m1 0h2m2 0h2m2 0h1m1 0h5m1 0h1m1 0h3m1 0h5m1 0h1m1 0h6m1 0h2m1 0h8m1 0h3m1 0h1m1 0h1m2 0h4m1 0h1m1 0h5m2 0h4m3 0h2m1 0h7m1 0h11m5 0h1m6 0h1m14 0h1m13 0h1m3 0h2m1 0h1m2 0h1M305 1090.5h1m2 0h2m3 0h1m2 0h3m1 0h1m1 0h6m1 0h4m7 0h2m1 0h2m1 0h2m1 0h4m1 0h1m1 0h3m2 0h1m1 0h3m1 0h3m1 0h3m1 0h11m1 0h4m1 0h2m2 0h6m1 0h2m4 0h1m3 0h5m3 0h1m1 0h3m2 0h1m1 0h19m8 0h1m7 0h2m1 0h1m23 0h1m5 0h1m5 0h2M301 1091.5h1m5 0h1m3 0h1m3 0h2m1 0h1m2 0h1m1 0h8m2 0h1m5 0h5m1 0h4m1 0h2m1 0h1m2 0h3m1 0h1m2 0h2m3 0h1m3 0h8m1 0h4m3 0h1m1 0h2m2 0h6m1 0h1m1 0h1m1 0h1m1 0h1m1 0h1m1 0h2m1 0h2m2 0h1m3 0h1m1 0h2m3 0h16m1 0h2m2 0h2m6 0h1m1 0h1m12 0h1m1 0h1m2 0h2m7 0h1m1 0h1m8 0h2m1 0h1M305 1092.5h2m4 0h3m3 0h2m3 0h3m1 0h4m1 0h3m2 0h2m2 0h2m1 0h2m1 0h1m3 0h1m2 0h2m1 0h6m1 0h1m3 0h1m1 0h2m1 0h3m2 0h2m1 0h5m2 0h3m1 0h2m2 0h1m1 0h2m1 0h6m2 0h5m2 0h4m1 0h2m1 0h1m1 0h1m5 0h19m2 0h2m1 0h1m2 0h1m1 0h1m1 0h1m5 0h2m1 0h1m1 0h1m3 0h1m3 0h2m1 0h1m4 0h1M301 1093.5h2m2 0h2m5 0h2m2 0h3m4 0h1m4 0h3m3 0h3m2 0h1m3 0h2m2 0h1m1 0h2m1 0h2m1 0h5m1 0h1m1 0h9m1 0h1m1 0h1m1 0h9m1 0h6m4 0h8m2 0h1m1 0h5m2 0h4m1 0h2m2 0h3m1 0h24m4 0h1m13 0h1m7 0h1M301 1094.5h1m2 0h1m1 0h1m2 0h1m1 0h2m2 0h1m1 0h1m3 0h8m1 0h5m1 0h1m3 0h3m1 0h4m1 0h4m3 0h7m1 0h1m1 0h10m1 0h6m1 0h1m1 0h3m1 0h2m2 0h1m1 0h3m2 0h2m1 0h1m1 0h1m1 0h2m2 0h3m2 0h2m1 0h2m1 0h1m4 0h10m1 0h6m1 0h1m2 0h3m1 0h1m1 0h2m22 0h1m14 0h1M304 1095.5h2m3 0h1m5 0h3m1 0h1m1 0h1m2 0h4m5 0h1m1 0h1m1 0h1m1 0h1m1 0h1m1 0h5m2 0h3m3 0h1m2 0h1m1 0h6m1 0h1m1 0h5m2 0h2m1 0h2m2 0h3m3 0h2m1 0h4m1 0h2m2 0h1m2 0h1m6 0h2m2 0h1m1 0h1m1 0h3m1 0h3m1 0h3m1 0h16m5 0h2m5 0h1m9 0h1m15 0h2m6 0h1M302 1096.5h2m1 0h2m3 0h3m1 0h1m1 0h5m1 0h11m1 0h1m1 0h1m5 0h1m4 0h4m2 0h5m1 0h9m4 0h1m2 0h2m1 0h1m1 0h1m1 0h4m1 0h1m1 0h3m2 0h3m3 0h5m1 0h3m3 0h1m2 0h2m3 0h1m4 0h1m1 0h3m1 0h13m2 0h1m1 0h5m3 0h1m6 0h1m34 0h2m2 0h2m1 0h1M301 1097.5h3m4 0h1m2 0h1m2 0h1m1 0h1m1 0h2m2 0h5m1 0h2m4 0h1m1 0h1m2 0h2m1 0h4m1 0h5m1 0h3m3 0h2m1 0h2m1 0h2m1 0h1m2 0h1m1 0h2m2 0h3m1 0h2m1 0h1m1 0h1m4 0h4m1 0h1m2 0h5m1 0h2m1 0h1m3 0h4m1 0h2m1 0h2m4 0h2m1 0h2m1 0h1m1 0h10m1 0h3m1 0h2m23 0h1m10 0h1m17 0h1m5 0h1M308 1098.5h1m4 0h2m4 0h8m2 0h4m4 0h2m1 0h2m2 0h6m3 0h3m1 0h6m1 0h3m1 0h3m2 0h3m2 0h1m1 0h2m2 0h1m2 0h2m1 0h5m1 0h4m1 0h2m1 0h3m3 0h2m1 0h3m1 0h1m1 0h1m1 0h4m1 0h3m1 0h11m1 0h6m2 0h1m6 0h1m5 0h1m31 0h1m4 0h1m7 0h1M302 1099.5h2m2 0h1m1 0h2m1 0h1m1 0h2m5 0h1m1 0h5m1 0h2m1 0h1m8 0h1m3 0h6m1 0h1m1 0h4m1 0h9m1 0h4m1 0h2m1 0h4m1 0h1m1 0h4m1 0h6m1 0h3m3 0h1m1 0h1m5 0h4m1 0h3m8 0h2m1 0h1m1 0h12m1 0h2m1 0h3m1 0h1m9 0h1m9 0h1m10 0h1m9 0h1m6 0h1M301 1100.5h1m1 0h1m2 0h1m1 0h1m3 0h2m3 0h1m2 0h1m3 0h4m2 0h1m3 0h2m1 0h1m2 0h1m2 0h1m1 0h1m1 0h2m1 0h3m1 0h1m1 0h7m1 0h7m1 0h6m1 0h1m2 0h1m1 0h1m1 0h1m1 0h5m1 0h4m2 0h1m1 0h1m2 0h1m1 0h6m2 0h1m2 0h1m2 0h1m1 0h2m1 0h1m1 0h2m1 0h6m1 0h6m1 0h3m4 0h1m13 0h1m5 0h1m22 0h2m6 0h1M302 1101.5h1m4 0h2m1 0h1m6 0h2m3 0h2m3 0h1m1 0h5m2 0h1m1 0h1m1 0h3m2 0h3m1 0h1m2 0h2m4 0h2m2 0h6m1 0h1m3 0h3m1 0h1m1 0h1m2 0h1m3 0h7m1 0h1m1 0h3m1 0h1m1 0h2m2 0h1m2 0h1m1 0h1m1 0h2m1 0h4m2 0h1m1 0h2m1 0h1m3 0h4m1 0h7m1 0h3m2 0h1m1 0h1m1 0h1m2 0h1m5 0h1m7 0h1M302 1102.5h2m1 0h1m1 0h2m6 0h3m1 0h2m1 0h3m1 0h2m1 0h1m1 0h1m5 0h2m5 0h1m1 0h3m1 0h1m2 0h2m2 0h1m1 0h2m1 0h3m1 0h4m1 0h1m1 0h8m2 0h3m2 0h1m1 0h1m2 0h1m2 0h2m1 0h3m1 0h1m1 0h2m1 0h3m3 0h3m2 0h1m1 0h3m3 0h1m1 0h3m1 0h13m3 0h1m9 0h1m16 0h1m13 0h1m5 0h1m7 0h1M302 1103.5h1m3 0h2m3 0h1m6 0h1m1 0h1m1 0h7m2 0h2m2 0h2m1 0h1m2 0h5m1 0h2m2 0h1m1 0h2m3 0h4m1 0h2m1 0h1m3 0h1m7 0h1m1 0h6m2 0h4m5 0h5m1 0h5m1 0h2m1 0h2m2 0h1m6 0h2m1 0h1m1 0h1m3 0h13m1 0h3m1 0h1m7 0h1m1 0h1m7 0h1m4 0h1m3 0h1m13 0h1m5 0h1m6 0h1M301 1104.5h1m1 0h2m2 0h1m1 0h1m2 0h1m2 0h2m1 0h1m2 0h1m1 0h2m1 0h5m4 0h3m2 0h1m1 0h7m1 0h1m3 0h2m1 0h4m1 0h3m2 0h1m1 0h2m2 0h1m1 0h10m1 0h6m3 0h1m3 0h4m1 0h1m1 0h1m4 0h4m1 0h3m1 0h3m1 0h2m1 0h2m2 0h3m1 0h8m1 0h1m1 0h1m1 0h1m3 0h1m3 0h1m6 0h1m24 0h1m1 0h1m13 0h1M304 1105.5h1m3 0h1m1 0h1m1 0h1m4 0h1m2 0h2m1 0h3m1 0h4m1 0h1m1 0h1m4 0h2m1 0h2m1 0h1m1 0h3m3 0h2m1 0h1m1 0h3m1 0h3m3 0h3m1 0h1m3 0h1m2 0h2m4 0h2m3 0h3m1 0h1m1 0h6m1 0h5m4 0h2m1 0h2m1 0h1m2 0h1m1 0h2m1 0h1m2 0h3m1 0h13m1 0h3m1 0h2m1 0h1m1 0h1m1 0h1m13 0h2m18 0h1M310 1106.5h2m1 0h3m1 0h1m3 0h4m1 0h2m2 0h1m1 0h1m5 0h4m1 0h3m1 0h3m2 0h1m1 0h2m2 0h1m2 0h1m3 0h4m1 0h3m1 0h1m1 0h1m2 0h4m1 0h2m1 0h2m1 0h4m1 0h1m2 0h3m2 0h1m4 0h5m1 0h2m1 0h5m5 0h2m1 0h14m1 0h2m1 0h2m3 0h1m1 0h1m3 0h2m2 0h1m32 0h1m11 0h2M302 1107.5h2m1 0h1m3 0h2m3 0h1m3 0h4m1 0h4m1 0h2m3 0h1m1 0h3m2 0h4m1 0h7m1 0h1m1 0h2m2 0h2m1 0h3m1 0h1m4 0h2m2 0h1m1 0h3m3 0h9m2 0h5m1 0h1m1 0h3m1 0h1m1 0h2m1 0h1m1 0h1m1 0h1m1 0h2m4 0h3m2 0h2m1 0h2m1 0h11m1 0h1m1 0h1m1 0h1m4 0h1m1 0h1m1 0h1m6 0h1m9 0h1m3 0h1m1 0h1m1 0h1m9 0h1m9 0h1M301 1108.5h1m2 0h1m3 0h2m2 0h2m4 0h1m2 0h1m3 0h1m1 0h2m1 0h4m3 0h1m2 0h2m3 0h3m1 0h4m2 0h4m1 0h2m1 0h1m1 0h2m1 0h1m1 0h2m1 0h3m2 0h10m3 0h4m2 0h1m1 0h2m2 0h1m1 0h2m2 0h1m2 0h1m1 0h3m1 0h1m5 0h1m2 0h3m1 0h10m1 0h6m1 0h3m5 0h1m31 0h1m7 0h1m1 0h1m4 0h1m3 0h1M301 1109.5h1m2 0h1m3 0h2m11 0h4m1 0h5m3 0h2m1 0h2m2 0h2m1 0h1m2 0h1m2 0h4m1 0h2m1 0h5m3 0h12m1 0h1m2 0h3m1 0h8m1 0h1m3 0h4m3 0h2m3 0h3m1 0h2m2 0h1m4 0h3m1 0h3m1 0h11m1 0h2m1 0h1m2 0h1m13 0h1m8 0h1m1 0h1m26 0h1m5 0h1M301 1110.5h2m2 0h1m1 0h2m2 0h2m1 0h1m4 0h1m1 0h1m2 0h1m1 0h2m3 0h2m1 0h1m2 0h1m1 0h1m1 0h2m1 0h5m1 0h2m1 0h1m2 0h2m1 0h3m1 0h1m1 0h3m1 0h5m2 0h2m1 0h2m1 0h10m4 0h2m5 0h4m2 0h2m3 0h2m2 0h2m2 0h1m1 0h1m2 0h1m1 0h7m1 0h10m3 0h2m6 0h1m1 0h1m24 0h1m9 0h1m2 0h1m3 0h1m3 0h1M301 1111.5h1m1 0h1m2 0h1m1 0h1m4 0h2m1 0h1m3 0h1m3 0h3m1 0h1m2 0h1m1 0h1m5 0h3m1 0h1m3 0h1m1 0h2m1 0h5m1 0h1m1 0h3m1 0h5m1 0h6m4 0h5m1 0h2m1 0h2m1 0h2m1 0h1m1 0h6m1 0h1m1 0h3m1 0h1m1 0h3m3 0h1m2 0h1m2 0h1m3 0h1m1 0h17m17 0h1m10 0h1m1 0h1m5 0h1m8 0h1m5 0h2M308 1112.5h1m1 0h1m1 0h1m1 0h3m1 0h1m2 0h1m1 0h7m1 0h1m1 0h1m2 0h2m1 0h5m2 0h3m1 0h2m3 0h1m2 0h1m1 0h1m1 0h1m2 0h3m7 0h3m1 0h14m1 0h4m1 0h3m1 0h1m5 0h3m4 0h5m4 0h1m1 0h1m1 0h2m2 0h15m1 0h2m2 0h1m5 0h1m3 0h1m2 0h1m11 0h1m10 0h1m10 0h1M303 1113.5h1m1 0h2m2 0h1m1 0h1m3 0h3m3 0h1m2 0h3m2 0h6m2 0h1m2 0h3m1 0h2m3 0h4m1 0h2m1 0h1m1 0h6m2 0h1m1 0h1m1 0h1m2 0h4m1 0h5m1 0h1m3 0h4m1 0h3m2 0h2m1 0h1m1 0h2m1 0h1m3 0h1m1 0h3m1 0h1m6 0h1m1 0h2m1 0h1m2 0h14m1 0h3m2 0h1m1 0h1m3 0h1m1 0h1m2 0h1m7 0h1m16 0h1m5 0h1M304 1114.5h1m1 0h1m5 0h1m3 0h1m2 0h2m1 0h1m1 0h4m3 0h1m1 0h3m2 0h1m2 0h1m1 0h3m1 0h1m1 0h3m1 0h1m1 0h5m1 0h3m1 0h9m2 0h4m1 0h6m1 0h4m5 0h3m1 0h3m1 0h1m2 0h3m1 0h4m1 0h1m6 0h1m2 0h3m1 0h14m1 0h4m2 0h1m1 0h1m4 0h1m8 0h2m3 0h2m10 0h1m17 0h1M301 1115.5h1m1 0h1m5 0h1m1 0h1m5 0h2m2 0h4m2 0h3m2 0h1m1 0h1m3 0h1m2 0h1m2 0h3m1 0h2m2 0h2m1 0h2m2 0h2m1 0h7m1 0h3m1 0h2m2 0h2m1 0h6m1 0h2m1 0h2m3 0h2m1 0h3m1 0h5m5 0h2m4 0h1m2 0h2m1 0h2m2 0h16m1 0h4m2 0h1m1 0h1m1 0h1m5 0h1m10 0h1m3 0h3m15 0h1m1 0h1M301 1116.5h1m2 0h3m1 0h1m4 0h3m1 0h3m1 0h8m4 0h1m2 0h2m1 0h1m1 0h1m2 0h2m1 0h2m2 0h3m2 0h2m1 0h2m1 0h8m1 0h2m2 0h5m1 0h3m2 0h5m1 0h2m2 0h1m1 0h3m1 0h2m3 0h4m1 0h2m4 0h1m1 0h2m4 0h1m1 0h2m1 0h6m1 0h2m1 0h4m2 0h1m2 0h1m6 0h1m3 0h2m1 0h1m1 0h1m5 0h1m3 0h1M301 1117.5h1m2 0h1m11 0h1m1 0h1m3 0h1m5 0h1m1 0h2m2 0h7m3 0h2m1 0h1m3 0h1m2 0h1m1 0h1m1 0h3m2 0h2m1 0h1m1 0h1m1 0h3m3 0h6m1 0h5m2 0h3m2 0h1m1 0h4m1 0h1m3 0h1m2 0h2m1 0h3m3 0h2m2 0h1m2 0h2m1 0h1m2 0h18m2 0h2m2 0h1m35 0h1m9 0h1M304 1118.5h1m1 0h1m4 0h3m1 0h1m1 0h2m2 0h2m1 0h1m1 0h6m6 0h8m3 0h2m1 0h1m4 0h1m1 0h2m1 0h1m1 0h6m2 0h1m3 0h1m1 0h2m3 0h2m3 0h1m1 0h1m2 0h1m1 0h1m1 0h5m1 0h2m2 0h1m1 0h1m1 0h3m1 0h1m1 0h2m3 0h1m4 0h2m1 0h21m8 0h1m1 0h1m11 0h1m27 0h1M304 1119.5h2m1 0h1m7 0h2m2 0h1m2 0h2m1 0h3m1 0h2m3 0h1m2 0h1m2 0h1m2 0h1m2 0h2m5 0h7m1 0h3m1 0h6m1 0h1m1 0h1m1 0h2m1 0h1m1 0h9m1 0h8m1 0h2m1 0h3m1 0h1m2 0h1m1 0h1m2 0h2m3 0h1m6 0h1m1 0h16m2 0h1m2 0h1m3 0h1m1 0h1m10 0h1m13 0h1m10 0h1m7 0h1m9 0h1M304 1120.5h1m2 0h1m1 0h5m3 0h1m3 0h1m2 0h1m1 0h1m1 0h2m3 0h1m5 0h3m3 0h1m2 0h1m1 0h2m1 0h9m1 0h1m1 0h1m1 0h3m2 0h6m1 0h2m1 0h1m1 0h6m1 0h4m1 0h1m2 0h2m1 0h2m1 0h1m2 0h1m3 0h3m4 0h1m7 0h3m1 0h8m1 0h6m1 0h1m1 0h3m1 0h1m18 0h1m9 0h1m13 0h2m2 0h1M303 1121.5h1m4 0h4m2 0h2m2 0h1m3 0h3m4 0h3m6 0h2m3 0h5m2 0h3m1 0h2m1 0h3m1 0h5m1 0h4m1 0h2m1 0h2m1 0h2m1 0h2m1 0h2m4 0h3m1 0h2m2 0h2m2 0h6m1 0h2m2 0h3m1 0h2m2 0h1m1 0h2m3 0h19m1 0h2m1 0h2m30 0h1m3 0h1m17 0h2M302 1122.5h1m4 0h2m1 0h1m1 0h1m3 0h3m1 0h7m1 0h1m1 0h1m2 0h1m7 0h1m1 0h4m1 0h1m2 0h1m1 0h1m1 0h3m1 0h4m2 0h2m2 0h2m1 0h6m1 0h2m1 0h2m1 0h5m2 0h7m1 0h1m1 0h1m1 0h2m3 0h2m1 0h1m1 0h2m5 0h1m1 0h1m3 0h1m1 0h17m9 0h1m18 0h1m8 0h1m11 0h1m12 0h1M308 1123.5h2m8 0h1m3 0h2m1 0h5m2 0h1m1 0h2m4 0h3m2 0h1m2 0h1m4 0h1m2 0h2m2 0h1m1 0h1m1 0h4m1 0h4m2 0h6m1 0h1m1 0h3m1 0h2m1 0h2m1 0h2m3 0h4m1 0h3m1 0h3m1 0h1m1 0h1m2 0h1m2 0h2m5 0h1m1 0h1m1 0h1m1 0h13m1 0h2m1 0h2m19 0h1m12 0h1m20 0h1M304 1124.5h2m2 0h1m3 0h3m2 0h1m1 0h1m2 0h4m2 0h2m1 0h1m1 0h1m2 0h2m1 0h1m1 0h2m4 0h1m2 0h4m1 0h3m1 0h5m1 0h6m2 0h3m2 0h4m1 0h2m1 0h4m1 0h5m2 0h2m2 0h3m1 0h1m2 0h1m3 0h1m3 0h3m6 0h3m1 0h9m1 0h9m1 0h1m3 0h2m1 0h1m3 0h1m3 0h1m6 0h1m9 0h1m5 0h2m12 0h1m3 0h1" stroke="#1010ee" stroke-width="1" fill="none"/>
<path d="M302 1125.5h1m6 0h1m8 0h1m1 0h1m1 0h1m1 0h2m4 0h1m8 0h1m2 0h1m2 0h1m2 0h1m3 0h1m11 0h2m1 0h4m3 0h2m1 0h2m3 0h1m8 0h1m4 0h1m7 0h1m2 0h1m3 0h1m7 0h1m9 0h1m5 0h2m8 0h1m2 0h3m1 0h5m4 0h3m1 0h2m3 0h2m2 0h2m1 0h1m1 0h4m1 0h1m3 0h1m2 0h5m9 0h1m2 0h2M306 1126.5h1m3 0h1m1 0h2m2 0h2m1 0h1m11 0h1m1 0h2m1 0h1m1 0h2m2 0h1m6 0h1m11 0h1m5 0h1m6 0h1m1 0h3m4 0h1m1 0h2m6 0h1m1 0h1m4 0h1m5 0h1m2 0h1m3 0h1m2 0h1m2 0h1m4 0h2m3 0h1m5 0h1m2 0h1m2 0h2m2 0h2m1 0h2m2 0h2m1 0h3m1 0h1m1 0h5m1 0h4m1 0h1m1 0h2m1 0h3m1 0h4m1 0h4m1 0h7m1 0h3m1 0h1m2 0h3m1 0h1M304 1127.5h1m2 0h1m18 0h2m5 0h1m19 0h1m2 0h1m9 0h1m5 0h2m8 0h1m2 0h2m1 0h1m3 0h1m1 0h1m2 0h1m3 0h2m2 0h2m5 0h1m16 0h1m3 0h1m2 0h1m2 0h3m2 0h2m2 0h1m1 0h5m2 0h2m4 0h14m3 0h3m1 0h1m1 0h2m2 0h1m2 0h1m4 0h1m1 0h1m1 0h1m4 0h1M301 1128.5h1m7 0h1m10 0h1m4 0h1m3 0h1m11 0h3m1 0h1m6 0h1m18 0h2m1 0h1m25 0h1m1 0h1m3 0h1m5 0h1m1 0h1m4 0h1m3 0h2m3 0h1m2 0h2m1 0h1m1 0h1m1 0h1m1 0h1m1 0h3m6 0h1m1 0h4m1 0h3m1 0h7m1 0h2m1 0h8m1 0h2m1 0h5m1 0h2m3 0h5m2 0h4m2 0h2M304 1129.5h1m5 0h1m2 0h2m7 0h1m1 0h1m2 0h1m3 0h1m3 0h1m17 0h1m6 0h1m1 0h1m2 0h1m1 0h2m10 0h2m3 0h4m5 0h2m5 0h1m4 0h1m3 0h2m4 0h1m1 0h1m2 0h1m3 0h1m2 0h1m1 0h1m2 0h1m3 0h1m1 0h1m6 0h2m1 0h1m1 0h5m1 0h2m1 0h1m1 0h5m1 0h5m1 0h2m2 0h7m1 0h1m2 0h4m1 0h1m2 0h5m2 0h3m2 0h1M305 1130.5h1m2 0h2m1 0h1m12 0h1m3 0h1m9 0h1m2 0h2m13 0h1m2 0h1m1 0h1m5 0h3m1 0h1m4 0h1m4 0h1m1 0h1m6 0h1m1 0h3m2 0h1m4 0h1m5 0h1m6 0h3m1 0h1m2 0h1m1 0h1m1 0h1m1 0h1m7 0h2m2 0h2m4 0h1m3 0h1m1 0h1m1 0h1m1 0h5m3 0h3m2 0h2m4 0h3m1 0h2m1 0h1m1 0h8m2 0h2m1 0h1m2 0h1m1 0h7M305 1131.5h1m6 0h1m2 0h2m6 0h1m2 0h1m6 0h1m18 0h1m6 0h1m6 0h1m1 0h2m1 0h1m1 0h1m1 0h1m1 0h1m1 0h1m4 0h1m1 0h1m3 0h1m3 0h1m14 0h2m5 0h3m4 0h1m1 0h2m1 0h1m10 0h2m3 0h1m1 0h1m1 0h2m1 0h2m2 0h2m1 0h2m1 0h5m1 0h1m1 0h7m1 0h2m1 0h2m1 0h1m2 0h2m9 0h1m1 0h4m1 0h1m4 0h1M301 1132.5h1m8 0h2m9 0h2m9 0h3m2 0h1m7 0h2m18 0h1m2 0h1m3 0h2m1 0h5m4 0h1m8 0h4m5 0h1m1 0h1m1 0h1m4 0h2m5 0h1m4 0h1m3 0h1m11 0h1m1 0h1m1 0h1m1 0h1m3 0h2m1 0h4m1 0h1m2 0h2m2 0h7m1 0h1m4 0h1m2 0h3m1 0h5m3 0h1m1 0h5m1 0h3m1 0h2m2 0h2M322 1133.5h2m2 0h1m2 0h2m2 0h1m4 0h1m10 0h1m2 0h1m4 0h1m1 0h2m13 0h1m2 0h3m2 0h1m1 0h2m3 0h1m4 0h1m2 0h1m1 0h1m1 0h1m2 0h1m9 0h1m10 0h2m8 0h1m4 0h1m3 0h4m3 0h1m1 0h6m1 0h2m1 0h2m1 0h1m1 0h2m3 0h2m2 0h7m1 0h1m1 0h1m3 0h1m1 0h6m2 0h2m2 0h2m1 0h2M301 1134.5h1m1 0h2m4 0h2m1 0h1m6 0h1m2 0h1m3 0h1m4 0h1m3 0h1m4 0h1m1 0h1m4 0h1m1 0h1m5 0h1m9 0h1m7 0h1m1 0h1m1 0h1m1 0h2m2 0h2m3 0h1m2 0h2m12 0h1m6 0h1m1 0h3m2 0h1m4 0h1m15 0h1m1 0h2m3 0h2m4 0h6m1 0h4m2 0h3m3 0h4m2 0h2m1 0h1m1 0h1m1 0h3m2 0h2m1 0h3m2 0h1m1 0h3m2 0h1m1 0h1M301 1135.5h1m3 0h1m9 0h2m8 0h1m1 0h2m2 0h1m26 0h1m1 0h1m4 0h1m4 0h4m3 0h1m1 0h1m2 0h1m2 0h2m1 0h1m1 0h1m1 0h3m2 0h1m7 0h1m1 0h1m2 0h2m1 0h2m4 0h1m4 0h1m4 0h1m2 0h2m4 0h1m1 0h1m3 0h2m5 0h1m4 0h1m1 0h8m1 0h4m2 0h1m1 0h11m3 0h2m1 0h1m2 0h2m2 0h2m1 0h2m1 0h1M301 1136.5h1m3 0h1m2 0h1m6 0h1m2 0h1m2 0h1m1 0h2m3 0h1m8 0h1m2 0h1m1 0h1m9 0h1m4 0h1m6 0h2m7 0h1m1 0h1m9 0h1m1 0h2m10 0h1m11 0h4m2 0h1m2 0h1m5 0h2m5 0h1m2 0h2m7 0h1m2 0h1m2 0h2m1 0h1m1 0h7m1 0h3m3 0h3m3 0h1m2 0h1m1 0h3m1 0h2m2 0h1m1 0h1m1 0h1m2 0h1m1 0h1m1 0h4m5 0h2M303 1137.5h1m1 0h1m1 0h2m1 0h1m9 0h2m1 0h1m2 0h1m10 0h1m23 0h1m4 0h1m1 0h1m2 0h3m2 0h3m4 0h1m3 0h2m1 0h1m5 0h1m6 0h3m1 0h1m2 0h1m1 0h2m1 0h1m1 0h1m2 0h1m4 0h1m6 0h1m2 0h2m1 0h1m5 0h3m1 0h5m1 0h2m1 0h1m2 0h2m1 0h2m2 0h3m2 0h3m1 0h2m2 0h7m1 0h2m1 0h1m1 0h1m1 0h2m5 0h2m1 0h1m4 0h1M305 1138.5h1m4 0h1m3 0h1m1 0h2m5 0h1m6 0h1m10 0h1m6 0h1m3 0h1m14 0h1m2 0h1m1 0h2m2 0h1m5 0h1m1 0h1m2 0h1m8 0h1m2 0h1m2 0h1m3 0h1m1 0h1m1 0h1m6 0h1m3 0h1m2 0h3m3 0h1m5 0h2m2 0h1m1 0h1m5 0h1m1 0h1m2 0h1m1 0h3m2 0h4m1 0h2m1 0h1m3 0h4m1 0h2m1 0h1m4 0h1m1 0h1m3 0h4m2 0h1m3 0h2m1 0h3m1 0h3M303 1139.5h1m10 0h1m2 0h1m3 0h1m1 0h1m1 0h1m1 0h1m6 0h1m6 0h1m9 0h2m2 0h2m1 0h1m17 0h1m2 0h3m4 0h1m4 0h1m2 0h2m2 0h2m7 0h1m1 0h1m2 0h2m3 0h2m1 0h1m15 0h1m6 0h1m1 0h1m1 0h1m6 0h4m1 0h3m1 0h2m2 0h1m2 0h5m4 0h1m3 0h3m1 0h1m7 0h1m8 0h1m1 0h1m1 0h1m1 0h1M302 1140.5h1m9 0h1m7 0h2m2 0h1m1 0h1m14 0h1m6 0h1m12 0h1m5 0h1m3 0h1m2 0h2m6 0h1m1 0h1m3 0h1m3 0h1m3 0h1m7 0h1m4 0h3m1 0h1m1 0h1m7 0h2m10 0h1m1 0h1m2 0h1m1 0h1m1 0h1m2 0h2m1 0h1m3 0h2m1 0h3m1 0h7m1 0h5m1 0h1m1 0h1m1 0h3m1 0h1m1 0h5m4 0h1m2 0h3m1 0h1m3 0h2m1 0h3M305 1141.5h1m1 0h1m2 0h1m8 0h1m3 0h1m2 0h1m5 0h1m4 0h1m13 0h1m9 0h1m3 0h1m1 0h1m24 0h2m4 0h1m3 0h1m6 0h1m4 0h2m2 0h1m6 0h1m6 0h1m4 0h1m1 0h1m1 0h1m1 0h4m1 0h1m2 0h1m1 0h4m2 0h6m1 0h1m1 0h1m2 0h1m2 0h1m1 0h7m1 0h10m1 0h1m1 0h2m1 0h3m3 0h1m3 0h1M303 1142.5h1m2 0h1m4 0h1m1 0h2m2 0h1m2 0h1m1 0h1m1 0h1m1 0h1m6 0h1m2 0h1m2 0h1m5 0h1m1 0h2m2 0h1m7 0h2m4 0h1m1 0h1m1 0h1m3 0h1m1 0h1m4 0h1m1 0h1m6 0h1m1 0h1m4 0h1m2 0h1m4 0h1m3 0h1m2 0h2m1 0h1m5 0h1m3 0h1m12 0h1m1 0h1m1 0h1m1 0h1m2 0h1m4 0h4m2 0h3m1 0h1m1 0h1m1 0h3m2 0h1m2 0h4m2 0h4m1 0h1m1 0h4m1 0h2m1 0h2m1 0h1m1 0h1m2 0h1m1 0h1m1 0h1m1 0h1M302 1143.5h1m2 0h1m2 0h1m4 0h1m2 0h1m2 0h2m2 0h2m2 0h1m11 0h1m2 0h1m2 0h2m4 0h1m3 0h1m9 0h1m1 0h5m6 0h1m11 0h2m1 0h2m5 0h1m8 0h2m1 0h1m7 0h1m1 0h1m4 0h1m7 0h2m2 0h2m3 0h2m3 0h1m1 0h1m3 0h2m1 0h4m1 0h6m2 0h1m1 0h4m1 0h3m2 0h1m3 0h2m2 0h1m2 0h2m1 0h2m4 0h2m4 0h1M305 1144.5h1m3 0h1m1 0h3m2 0h1m5 0h1m7 0h1m9 0h1m12 0h1m1 0h1m4 0h1m5 0h1m1 0h1m3 0h1m3 0h1m3 0h1m2 0h2m2 0h1m1 0h3m1 0h1m2 0h3m6 0h1m7 0h1m1 0h1m1 0h3m1 0h1m12 0h1m2 0h2m2 0h1m3 0h1m3 0h1m1 0h1m1 0h3m1 0h2m1 0h1m1 0h8m1 0h6m1 0h3m2 0h1m1 0h2m1 0h2m2 0h2m1 0h1m1 0h1m2 0h7m2 0h1M301 1145.5h1m3 0h1m9 0h1m5 0h2m1 0h2m1 0h3m1 0h1m1 0h1m3 0h1m3 0h1m9 0h1m14 0h2m1 0h1m9 0h1m1 0h1m3 0h1m2 0h1m3 0h3m1 0h2m1 0h2m9 0h1m2 0h1m9 0h2m13 0h1m3 0h2m3 0h1m1 0h1m1 0h1m1 0h3m3 0h3m1 0h4m1 0h6m1 0h3m1 0h7m1 0h1m2 0h2m1 0h5m1 0h1m2 0h2m2 0h1m1 0h1m1 0h1M305 1146.5h1m2 0h1m1 0h1m3 0h2m5 0h2m1 0h2m1 0h2m4 0h3m15 0h2m6 0h2m8 0h1m10 0h1m6 0h1m2 0h1m1 0h1m5 0h2m5 0h2m8 0h2m5 0h3m9 0h2m2 0h2m2 0h3m1 0h2m6 0h2m1 0h1m1 0h2m1 0h1m1 0h8m1 0h1m1 0h3m1 0h2m1 0h1m1 0h1m2 0h2m2 0h2m2 0h3m1 0h1m8 0h3M302 1147.5h1m5 0h2m1 0h1m11 0h1m2 0h1m3 0h1m2 0h1m8 0h1m3 0h1m16 0h1m7 0h3m1 0h1m4 0h1m1 0h3m4 0h1m11 0h1m6 0h1m1 0h1m4 0h2m1 0h1m1 0h2m1 0h1m1 0h1m1 0h3m4 0h1m2 0h1m2 0h3m1 0h2m4 0h7m1 0h5m1 0h1m1 0h1m1 0h2m1 0h1m1 0h1m1 0h2m1 0h2m1 0h1m6 0h2m1 0h1m1 0h2m1 0h1m4 0h3m1 0h2m1 0h1M302 1148.5h1m2 0h1m3 0h1m11 0h1m1 0h2m1 0h2m3 0h1m5 0h1m12 0h1m12 0h2m4 0h1m1 0h1m4 0h1m3 0h1m12 0h1m5 0h1m2 0h1m1 0h2m6 0h1m4 0h2m6 0h1m12 0h1m4 0h3m1 0h1m1 0h1m2 0h3m3 0h6m1 0h1m2 0h5m2 0h1m1 0h1m1 0h1m1 0h1m3 0h8m1 0h6m1 0h3m1 0h2m1 0h3M304 1149.5h1m5 0h1m1 0h1m4 0h2m5 0h2m3 0h1m1 0h1m1 0h2m1 0h1m1 0h2m2 0h1m21 0h2m7 0h1m2 0h1m1 0h3m2 0h5m1 0h2m6 0h1m5 0h1m2 0h4m1 0h1m3 0h1m5 0h1m4 0h1m1 0h1m6 0h1m3 0h1m3 0h2m3 0h1m1 0h1m1 0h1m1 0h2m5 0h2m1 0h1m2 0h2m2 0h2m2 0h5m1 0h1m1 0h11m3 0h2m1 0h1m3 0h2m1 0h1M302 1150.5h1m3 0h1m3 0h1m1 0h1m1 0h1m10 0h4m6 0h1m7 0h2m6 0h1m2 0h1m9 0h2m7 0h1m4 0h1m2 0h3m1 0h1m1 0h1m2 0h1m1 0h1m1 0h2m3 0h1m3 0h1m1 0h1m1 0h2m2 0h1m3 0h2m7 0h3m1 0h1m6 0h1m1 0h1m2 0h3m1 0h1m4 0h3m2 0h2m1 0h7m1 0h4m1 0h3m3 0h4m1 0h4m1 0h3m1 0h2m3 0h1m1 0h1m1 0h4m1 0h1m1 0h1m2 0h2M303 1151.5h1m6 0h4m1 0h1m1 0h1m5 0h1m3 0h1m8 0h1m6 0h2m10 0h1m6 0h1m1 0h1m2 0h1m1 0h1m2 0h3m1 0h1m2 0h1m1 0h1m8 0h1m6 0h1m6 0h1m2 0h1m5 0h1m3 0h1m1 0h1m1 0h1m4 0h1m2 0h1m11 0h1m2 0h1m1 0h1m2 0h1m2 0h1m2 0h1m1 0h2m2 0h5m2 0h6m2 0h1m1 0h1m1 0h3m2 0h5m1 0h1m1 0h3m1 0h1m1 0h1m2 0h2m1 0h2m1 0h2M301 1152.5h1m1 0h1m1 0h1m9 0h1m1 0h1m2 0h1m4 0h1m7 0h1m4 0h1m2 0h1m7 0h1m1 0h1m3 0h2m5 0h1m5 0h1m2 0h1m7 0h2m2 0h1m1 0h1m1 0h1m3 0h1m5 0h2m10 0h1m5 0h1m1 0h1m2 0h1m2 0h2m2 0h1m7 0h1m1 0h1m1 0h3m1 0h1m1 0h1m1 0h1m1 0h1m1 0h3m1 0h1m1 0h3m1 0h3m1 0h3m1 0h4m1 0h7m1 0h1m1 0h2m1 0h3m1 0h3m1 0h2m1 0h1m2 0h2m1 0h1m3 0h1m1 0h1M308 1153.5h1m6 0h1m3 0h1m3 0h1m1 0h1m7 0h3m8 0h1m5 0h1m6 0h1m1 0h1m4 0h4m2 0h1m1 0h1m2 0h1m1 0h1m6 0h1m4 0h1m4 0h1m4 0h1m1 0h1m7 0h1m3 0h1m5 0h2m3 0h1m8 0h1m9 0h2m1 0h1m1 0h3m3 0h1m1 0h5m1 0h5m1 0h4m1 0h1m1 0h2m2 0h3m1 0h3m1 0h1m3 0h1m2 0h1m3 0h2m2 0h2m4 0h1M302 1154.5h1m3 0h1m11 0h1m5 0h2m2 0h1m1 0h3m10 0h1m10 0h1m2 0h1m3 0h1m6 0h2m8 0h2m4 0h5m2 0h2m1 0h1m9 0h2m1 0h1m1 0h3m2 0h1m5 0h1m1 0h1m2 0h2m9 0h3m4 0h1m2 0h2m2 0h4m2 0h2m1 0h2m2 0h4m1 0h5m1 0h1m2 0h2m2 0h1m1 0h2m1 0h2m3 0h2m1 0h3m4 0h1m3 0h1m3 0h1M302 1155.5h1m8 0h1m3 0h1m6 0h1m2 0h1m4 0h2m7 0h2m10 0h1m14 0h1m8 0h1m4 0h1m1 0h1m2 0h1m13 0h4m3 0h1m1 0h1m1 0h1m5 0h1m4 0h1m7 0h1m5 0h1m5 0h6m1 0h2m2 0h1m2 0h2m1 0h5m1 0h5m6 0h1m2 0h2m1 0h3m1 0h3m1 0h1m3 0h2m1 0h1m1 0h2m1 0h1m1 0h1m1 0h1m1 0h1m1 0h1M306 1156.5h1m1 0h1m7 0h1m1 0h3m3 0h2m2 0h1m3 0h1m13 0h1m3 0h1m14 0h1m5 0h1m6 0h1m3 0h1m1 0h1m1 0h2m3 0h1m1 0h1m3 0h1m3 0h1m2 0h1m4 0h1m1 0h1m3 0h2m5 0h1m1 0h1m1 0h1m1 0h1m7 0h1m2 0h1m3 0h1m2 0h1m1 0h3m2 0h2m1 0h2m1 0h2m4 0h4m1 0h1m1 0h3m1 0h1m1 0h4m2 0h1m1 0h3m4 0h1m3 0h1m2 0h4m1 0h1m1 0h1M304 1157.5h4m2 0h1m9 0h1m2 0h2m5 0h4m3 0h1m1 0h1m18 0h1m10 0h2m2 0h1m2 0h1m5 0h1m1 0h1m1 0h1m1 0h1m3 0h1m7 0h1m1 0h1m3 0h2m7 0h1m5 0h1m3 0h1m8 0h2m1 0h2m1 0h2m1 0h2m2 0h2m2 0h6m4 0h1m1 0h6m1 0h5m1 0h5m1 0h1m1 0h2m1 0h1m3 0h5m5 0h2m1 0h3m2 0h1M314 1158.5h2m3 0h2m3 0h1m3 0h1m4 0h1m5 0h1m2 0h1m3 0h1m9 0h1m6 0h1m1 0h1m1 0h3m7 0h1m1 0h1m7 0h1m3 0h1m1 0h1m1 0h2m2 0h3m9 0h1m14 0h1m8 0h1m1 0h1m3 0h1m2 0h2m5 0h2m1 0h1m1 0h2m1 0h3m1 0h1m1 0h1m1 0h2m1 0h10m1 0h4m1 0h1m1 0h1m2 0h1m2 0h2m1 0h1m1 0h1m1 0h1m3 0h2m3 0h1M302 1159.5h1m4 0h1m9 0h1m5 0h2m1 0h1m2 0h1m2 0h1m6 0h1m1 0h1m5 0h1m11 0h1m2 0h1m6 0h4m8 0h2m7 0h1m1 0h2m2 0h2m1 0h1m4 0h2m1 0h2m3 0h1m1 0h1m2 0h2m2 0h1m1 0h1m5 0h2m3 0h3m4 0h1m1 0h1m2 0h2m1 0h1m1 0h3m2 0h1m1 0h1m1 0h3m1 0h2m1 0h4m1 0h1m1 0h1m1 0h3m4 0h2m1 0h1m1 0h1m2 0h3m1 0h1m1 0h1m2 0h3m2 0h2m2 0h1M309 1160.5h1m3 0h1m4 0h1m7 0h4m1 0h1m2 0h1m7 0h1m6 0h1m2 0h1m10 0h1m6 0h1m2 0h2m6 0h2m1 0h2m1 0h1m1 0h1m1 0h1m3 0h1m3 0h1m6 0h1m4 0h1m10 0h1m2 0h1m3 0h1m7 0h1m1 0h8m2 0h1m1 0h1m1 0h3m3 0h7m1 0h1m1 0h4m1 0h2m1 0h1m6 0h4m1 0h1m1 0h4m1 0h2m1 0h1m2 0h4m2 0h2M301 1161.5h1m7 0h1m1 0h1m1 0h1m7 0h1m4 0h3m2 0h1m17 0h1m2 0h1m5 0h1m1 0h1m9 0h1m1 0h1m5 0h1m4 0h1m4 0h1m2 0h2m2 0h5m1 0h1m4 0h1m3 0h1m5 0h1m1 0h1m9 0h1m6 0h1m1 0h1m1 0h2m1 0h2m3 0h8m2 0h1m5 0h2m1 0h7m1 0h1m1 0h4m1 0h4m1 0h1m1 0h1m1 0h2m2 0h1m1 0h1m1 0h1m1 0h1m1 0h1m2 0h1m1 0h1M303 1162.5h1m11 0h1m7 0h1m2 0h2m5 0h1m8 0h1m3 0h1m18 0h1m1 0h1m3 0h2m7 0h1m1 0h1m1 0h1m5 0h1m2 0h1m3 0h1m5 0h1m2 0h1m15 0h1m7 0h1m2 0h1m1 0h2m2 0h2m1 0h1m1 0h1m2 0h1m1 0h1m2 0h1m1 0h8m1 0h6m2 0h5m2 0h3m1 0h2m1 0h1m1 0h1m2 0h1m3 0h1m1 0h2m1 0h1m3 0h2m2 0h1m1 0h2" stroke="#ee1010" stroke-width="1" fill="none"/>
<line x1="314.8" y1="1083" x2="314.8" y2="1163" stroke="#000" stroke-width="1.8"/>
<line x1="322.9" y1="1083" x2="322.9" y2="1163" stroke="#000" stroke-width="1.8"/>
<line x1="365.1" y1="1083" x2="365.1" y2="1163" stroke="#000" stroke-width="1.8"/>
<line x1="373.1" y1="1083" x2="373.1" y2="1163" stroke="#000" stroke-width="1.8"/>
<line x1="428" y1="1083" x2="428" y2="1163" stroke="#000" stroke-width="1.8"/>
<text x="401.6" y="1072.2" font-size="23.5" text-anchor="middle" fill="#000" font-weight="normal" >Cell #2</text>
<line x1="314.8" y1="1200.5" x2="314.8" y2="1278.5" stroke="#000" stroke-width="1.6"/>
<line x1="322.9" y1="1200.5" x2="322.9" y2="1278.5" stroke="#000" stroke-width="1.6"/>
<line x1="365.1" y1="1200.5" x2="365.1" y2="1278.5" stroke="#000" stroke-width="1.6"/>
<line x1="373.1" y1="1200.5" x2="373.1" y2="1278.5" stroke="#000" stroke-width="1.6"/>
<line x1="428" y1="1200.5" x2="428" y2="1278.5" stroke="#000" stroke-width="1.6"/>
<line x1="301" y1="1278.5" x2="511.4" y2="1278.5" stroke="#000" stroke-width="1.6"/>
<polyline points="301.3,1273.5 302.4,1273.4 303.5,1274.1 304.6,1273.6 305.7,1270.3 306.8,1274.3 307.9,1271.3 309.0,1271.0 310.1,1276.4 311.2,1274.2 312.3,1271.4 313.4,1273.9 314.5,1272.9 315.6,1273.2 316.7,1275.4 317.8,1271.7 318.9,1271.8 320.0,1271.6 321.1,1274.7 322.2,1270.9 323.3,1268.0 324.4,1264.1 325.5,1266.7 326.6,1269.6 327.7,1268.5 328.8,1269.9 329.9,1270.5 331.0,1272.1 332.1,1271.3 333.2,1272.6 334.3,1272.1 335.4,1272.6 336.5,1272.8 337.6,1273.4 338.7,1273.2 339.8,1273.7 340.9,1274.5 342.0,1274.6 343.1,1272.1 344.2,1274.8 345.3,1275.3 346.4,1273.8 347.5,1276.9 348.6,1272.6 349.7,1272.0 350.8,1274.8 351.9,1274.7 353.0,1276.1 354.1,1273.8 355.2,1276.1 356.3,1273.9 357.4,1273.5 358.5,1273.6 359.6,1273.9 360.7,1276.4 361.8,1274.5 362.9,1275.6 364.0,1272.1 365.1,1272.0 366.2,1272.4 367.3,1271.7 368.4,1269.8 369.5,1269.1 370.6,1270.6 371.7,1269.3 372.8,1271.2 373.9,1271.4 375.0,1270.2 376.1,1270.6 377.2,1270.5 378.3,1271.9 379.4,1271.4 380.5,1269.5 381.6,1269.9 382.7,1267.8 383.8,1270.4 384.9,1269.7 386.0,1270.1 387.1,1273.1 388.2,1268.5 389.3,1270.5 390.4,1270.9 391.5,1271.5 392.6,1271.6 393.7,1268.9 394.8,1269.1 395.9,1271.8 397.0,1270.6 398.1,1272.8 399.2,1274.8 400.3,1272.7 401.4,1273.2 402.5,1274.5 403.6,1271.2 404.7,1268.3 405.8,1272.8 406.9,1273.0 408.0,1271.4 409.1,1271.7 410.2,1270.1 411.3,1270.1 412.4,1269.8 413.5,1272.8 414.6,1270.8 415.7,1270.5 416.8,1271.0 417.9,1266.6 419.0,1269.0 420.1,1270.9 421.2,1268.4 422.3,1268.0 423.4,1272.0 424.5,1271.9 425.6,1269.4 426.7,1272.8 427.8,1273.8 428.9,1274.1 430.0,1278.0 431.1,1276.5 432.2,1273.6 433.3,1276.1 434.4,1272.4 435.5,1269.4 436.6,1265.4 437.7,1264.8 438.8,1269.0 439.9,1269.7 441.0,1268.6 442.1,1268.5 443.2,1269.0 444.3,1263.1 445.4,1264.2 446.5,1265.9 447.6,1263.5 448.7,1260.0 449.8,1260.1 450.9,1261.5 452.0,1259.7 453.1,1256.3 454.2,1256.6 455.3,1257.4 456.4,1254.4 457.5,1258.5 458.6,1255.8 459.7,1254.1 460.8,1254.0 461.9,1251.3 463.0,1249.6 464.1,1251.0 465.2,1248.4 466.3,1247.4 467.4,1252.1 468.5,1253.3 469.6,1250.9 470.7,1255.5 471.8,1251.7 472.9,1253.6 474.0,1254.3 475.1,1257.2 476.2,1251.5 477.3,1253.6 478.4,1253.7 479.5,1257.8 480.6,1255.4 481.7,1255.0 482.8,1258.9 483.9,1260.2 485.0,1259.1 486.1,1255.2 487.2,1256.5 488.3,1257.7 489.4,1258.0 490.5,1260.1 491.6,1260.1 492.7,1260.6 493.8,1261.4 494.9,1262.1 496.0,1259.7 497.1,1260.2 498.2,1262.4 499.3,1262.1 500.4,1260.8 501.5,1263.1 502.6,1262.7 503.7,1261.1 504.8,1262.6 505.9,1266.0 507.0,1265.7 508.1,1266.2 509.2,1263.8 510.3,1264.2" fill="none" stroke="#ee0000" stroke-width="2.4" stroke-linejoin="round"/>
<polyline points="301.3,1269.7 302.4,1270.0 303.5,1269.9 304.6,1272.5 305.7,1268.7 306.8,1267.8 307.9,1269.6 309.0,1271.3 310.1,1269.2 311.2,1269.6 312.3,1272.9 313.4,1272.0 314.5,1269.7 315.6,1271.7 316.7,1270.2 317.8,1269.2 318.9,1269.6 320.0,1271.3 321.1,1266.1 322.2,1266.8 323.3,1261.9 324.4,1255.9 325.5,1256.8 326.6,1256.5 327.7,1256.4 328.8,1263.2 329.9,1261.2 331.0,1264.4 332.1,1265.9 333.2,1266.1 334.3,1269.1 335.4,1267.3 336.5,1269.5 337.6,1270.0 338.7,1265.9 339.8,1268.0 340.9,1264.6 342.0,1261.2 343.1,1263.0 344.2,1260.4 345.3,1257.7 346.4,1255.1 347.5,1257.8 348.6,1258.4 349.7,1260.4 350.8,1262.8 351.9,1264.3 353.0,1262.4 354.1,1263.2 355.2,1261.4 356.3,1260.0 357.4,1260.5 358.5,1257.8 359.6,1258.1 360.7,1261.2 361.8,1260.7 362.9,1262.3 364.0,1257.6 365.1,1260.8 366.2,1258.3 367.3,1258.4 368.4,1258.3 369.5,1254.9 370.6,1259.8 371.7,1258.2 372.8,1259.1 373.9,1261.2 375.0,1260.4 376.1,1261.2 377.2,1261.0 378.3,1258.4 379.4,1264.1 380.5,1259.0 381.6,1259.5 382.7,1259.2 383.8,1258.2 384.9,1257.9 386.0,1256.3 387.1,1257.1 388.2,1256.8 389.3,1259.5 390.4,1254.9 391.5,1257.5 392.6,1257.8 393.7,1257.6 394.8,1257.2 395.9,1255.3 397.0,1258.8 398.1,1260.1 399.2,1255.4 400.3,1261.3 401.4,1261.6 402.5,1263.5 403.6,1259.8 404.7,1264.3 405.8,1264.5 406.9,1262.9 408.0,1266.7 409.1,1261.2 410.2,1262.2 411.3,1262.5 412.4,1263.0 413.5,1263.3 414.6,1262.4 415.7,1264.2 416.8,1265.8 417.9,1270.0 419.0,1270.2 420.1,1265.9 421.2,1271.3 422.3,1266.5 423.4,1269.3 424.5,1267.4 425.6,1263.1 426.7,1269.8 427.8,1262.3 428.9,1260.3 430.0,1256.8 431.1,1251.3 432.2,1241.7 433.3,1232.0 434.4,1219.6 435.5,1207.3 436.6,1200.8 437.7,1217.9 438.8,1227.6 439.9,1216.5 441.0,1217.7 442.1,1226.4 443.2,1238.6 444.3,1248.8 445.4,1251.2 446.5,1255.1 447.6,1261.8 448.7,1263.8 449.8,1270.0 450.9,1267.8 452.0,1272.6 453.1,1272.8 454.2,1274.4 455.3,1273.8 456.4,1273.1 457.5,1275.1 458.6,1273.9 459.7,1276.1 460.8,1277.1 461.9,1277.0 463.0,1276.4 464.1,1276.6 465.2,1274.1 466.3,1276.9 467.4,1277.2 468.5,1275.6 469.6,1275.6 470.7,1277.3 471.8,1278.0 472.9,1278.0 474.0,1278.0 475.1,1278.0 476.2,1277.0 477.3,1278.0 478.4,1275.7 479.5,1278.0 480.6,1276.1 481.7,1276.4 482.8,1277.5 483.9,1276.1 485.0,1274.3 486.1,1276.5 487.2,1274.7 488.3,1278.0 489.4,1273.7 490.5,1278.0 491.6,1274.9 492.7,1276.5 493.8,1274.6 494.9,1278.0 496.0,1272.7 497.1,1277.3 498.2,1276.9 499.3,1275.0 500.4,1277.4 501.5,1278.0 502.6,1275.5 503.7,1278.0 504.8,1274.5 505.9,1276.5 507.0,1274.0 508.1,1277.3 509.2,1275.7 510.3,1275.7" fill="none" stroke="#0000ee" stroke-width="2.4" stroke-linejoin="round"/>
<rect x="288.2" y="1243" width="4.5" height="32.6" fill="#000"/>
<text transform="translate(281 1320.2) rotate(-90)" font-size="24.7">20 spikes s<tspan font-size="16.5" dy="-10">−1</tspan></text>
<path d="M575 1083.5h1m30 0h1m1 0h1m13 0h1m100 0h1m9 0h3m2 0h1m19 0h1M564 1084.5h1m15 0h1m65 0h1m78 0h1m6 0h1m2 0h1m4 0h1M569 1085.5h1m8 0h1m2 0h1m17 0h1m11 0h1m62 0h1m9 0h1m13 0h1m16 0h1m3 0h1m7 0h1m30 0h1M573 1086.5h2m4 0h1m15 0h1m5 0h1m95 0h1m9 0h1m2 0h1m17 0h1m31 0h2M575 1087.5h1m3 0h1m18 0h1m10 0h1m5 0h1m107 0h1m6 0h1m4 0h1m22 0h1M597 1088.5h1m13 0h1m61 0h1m66 0h1m7 0h1m4 0h1M581 1089.5h1m21 0h1m106 0h1m12 0h1M578 1090.5h1m24 0h1m5 0h1m8 0h1m95 0h1m6 0h1m11 0h1m9 0h1M575 1091.5h1m6 0h1m20 0h1m5 0h1m8 0h1m3 0h1m41 0h1m20 0h1M568 1092.5h1m3 0h1m8 0h1m76 0h1m65 0h1m15 0h1m2 0h1m1 0h1M565 1093.5h1m4 0h1m9 0h1m39 0h1m83 0h1m2 0h1m1 0h1m14 0h1m8 0h1m10 0h1m12 0h1m5 0h1M575 1094.5h1m2 0h1m20 0h1m16 0h1m50 0h1m99 0h1M567 1095.5h1m7 0h2m6 0h2m5 0h1m22 0h1m109 0h1m19 0h1m11 0h1m4 0h1M570 1096.5h1m44 0h1m26 0h1m79 0h1m30 0h1M563 1097.5h1m8 0h1m6 0h1m34 0h1m3 0h1m117 0h1m5 0h1m13 0h1m1 0h1M576 1098.5h1m24 0h2m4 0h1m12 0h1m44 0h1m63 0h1m8 0h1m1 0h1m11 0h1m11 0h1m1 0h1M566 1099.5h1m3 0h1m4 0h1m7 0h1m7 0h1m1 0h1m48 0h1m11 0h1m3 0h1m40 0h1m5 0h1m8 0h1m3 0h2m5 0h1m7 0h1m4 0h1m2 0h2M572 1100.5h1m1 0h1m2 0h1m1 0h1m10 0h1m33 0h1m4 0h1m51 0h1m34 0h1m1 0h1m18 0h1m1 0h1m8 0h1m24 0h1M571 1101.5h1m7 0h1m12 0h1m7 0h1m8 0h1m4 0h1m3 0h2m35 0h1m9 0h1m36 0h1m6 0h1m18 0h1m6 0h1M576 1102.5h2m29 0h1m8 0h1m85 0h1m15 0h1m6 0h1m6 0h1m12 0h1m12 0h1M566 1103.5h1m6 0h1m5 0h1m15 0h2m35 0h1m34 0h1m44 0h1m3 0h1m15 0h1m3 0h1m1 0h1m19 0h1m6 0h1M582 1104.5h1m29 0h1m6 0h1m1 0h1m4 0h1m54 0h1m32 0h1m26 0h1M567 1105.5h2m8 0h1m13 0h1m5 0h1m4 0h2m21 0h1m33 0h1m39 0h1m22 0h1m7 0h1m1 0h1m9 0h1m2 0h2M576 1106.5h1m29 0h1m8 0h1m1 0h1m69 0h1m39 0h1m10 0h1M569 1107.5h1m13 0h1m10 0h1m9 0h1m5 0h1m54 0h1m9 0h1m34 0h1m4 0h1m8 0h1m1 0h2m2 0h1m10 0h1m19 0h1m8 0h1M563 1108.5h1m4 0h1m5 0h1m5 0h1m23 0h1m8 0h1m57 0h1m14 0h1m19 0h1m27 0h2m1 0h1M565 1109.5h1m8 0h1m2 0h1m13 0h1m7 0h1m116 0h1m2 0h1m24 0h1m25 0h1M567 1110.5h1m35 0h1m29 0h1m1 0h2m89 0h1m25 0h1m19 0h1M565 1111.5h1m7 0h1m29 0h1m27 0h1m35 0h1m6 0h1m73 0h1M574 1112.5h2m4 0h1m19 0h2m14 0h1m2 0h1m50 0h1m13 0h1m49 0h1m7 0h1m1 0h1m11 0h1M567 1113.5h1m6 0h1m4 0h1m28 0h1m15 0h1m29 0h1m48 0h1m8 0h1m2 0h1m3 0h1m20 0h1M566 1114.5h1m4 0h1m2 0h1m6 0h1m42 0h1m8 0h1m87 0h1m8 0h1m7 0h1m16 0h1M593 1115.5h1m39 0h1m22 0h1m85 0h1M572 1116.5h1m22 0h1m5 0h1m21 0h1m45 0h1m58 0h1m8 0h1m2 0h1" stroke="#1010ee" stroke-width="1" fill="none"/>
<path d="M573 1117.5h1m3 0h1m9 0h1m16 0h1m17 0h1m37 0h1m2 0h1m2 0h1m9 0h1m29 0h2m1 0h3m1 0h1m1 0h1m1 0h4m2 0h4m2 0h2m1 0h4m2 0h2m9 0h1m6 0h1m5 0h1m5 0h2M565 1118.5h1m45 0h1m3 0h1m57 0h1m26 0h2m2 0h6m1 0h7m1 0h2m1 0h1m1 0h3m1 0h1m1 0h1m1 0h2m2 0h1m3 0h1m1 0h1m3 0h1m1 0h3m17 0h1M588 1119.5h1m17 0h1m7 0h1m1 0h1m3 0h1m1 0h1m22 0h1m1 0h1m52 0h3m1 0h3m1 0h2m2 0h1m1 0h1m1 0h4m1 0h1m2 0h1m1 0h4m2 0h2m2 0h2m1 0h1m1 0h1m2 0h1m2 0h1m23 0h1M567 1120.5h1m4 0h1m41 0h1m8 0h1m9 0h1m46 0h1m15 0h1m1 0h1m1 0h1m1 0h1m3 0h6m1 0h4m1 0h2m2 0h2m1 0h4m1 0h3m1 0h2m4 0h1m3 0h1m8 0h1m6 0h1M563 1121.5h1m11 0h1m4 0h1m9 0h1m14 0h1m4 0h1m26 0h1m13 0h1m5 0h1m5 0h2m2 0h1m7 0h1m25 0h2m4 0h2m1 0h2m2 0h2m1 0h8m1 0h2m1 0h1m1 0h3m1 0h1m1 0h2m6 0h1M568 1122.5h1m5 0h1m24 0h1m7 0h1m15 0h1m8 0h1m14 0h1m2 0h1m10 0h1m7 0h1m13 0h1m16 0h2m2 0h4m1 0h2m2 0h1m1 0h1m1 0h4m1 0h4m1 0h1m2 0h1m2 0h2m5 0h2m2 0h1m4 0h2m5 0h1m1 0h1m2 0h1m4 0h1M576 1123.5h2m22 0h2m18 0h1m5 0h1m22 0h1m9 0h1m8 0h1m9 0h1m15 0h1m4 0h1m1 0h6m1 0h1m2 0h2m1 0h2m2 0h2m1 0h2m2 0h1m1 0h1m2 0h3m4 0h2m2 0h2m4 0h1m5 0h1m11 0h2M569 1124.5h1m10 0h1m13 0h2m21 0h1m34 0h1m6 0h1m26 0h1m5 0h1m6 0h1m1 0h6m1 0h2m1 0h3m3 0h7m1 0h4m5 0h3m3 0h1m1 0h1m3 0h1m1 0h1m14 0h1M572 1125.5h2m14 0h1m3 0h1m3 0h1m10 0h1m8 0h1m2 0h1m25 0h1m10 0h1m8 0h1m11 0h1m17 0h1m3 0h1m2 0h1m1 0h4m1 0h1m1 0h2m1 0h1m2 0h2m1 0h3m1 0h4m4 0h1m1 0h1m2 0h1m1 0h1m4 0h1m2 0h2m14 0h1m4 0h2M573 1126.5h1m24 0h1m23 0h1m4 0h1m21 0h1m7 0h1m1 0h1m3 0h1m1 0h1m21 0h1m2 0h1m7 0h1m2 0h1m1 0h4m1 0h1m1 0h5m1 0h2m1 0h1m1 0h10m2 0h2m1 0h1m1 0h2m1 0h1m12 0h1m9 0h1M566 1127.5h1m5 0h1m6 0h1m4 0h1m25 0h2m3 0h2m1 0h1m43 0h1m1 0h1m13 0h1m4 0h1m5 0h1m8 0h1m1 0h2m1 0h6m1 0h3m2 0h6m3 0h6m1 0h2m1 0h4m1 0h1m7 0h1m3 0h1m1 0h1m5 0h1m3 0h1M563 1128.5h1m35 0h2m2 0h1m4 0h1m5 0h1m1 0h2m8 0h1m42 0h2m4 0h1m24 0h2m1 0h1m1 0h1m1 0h2m1 0h1m1 0h5m3 0h1m3 0h7m2 0h2m1 0h3m1 0h1m2 0h1m2 0h1m2 0h2m2 0h1m2 0h1m11 0h1M575 1129.5h1m12 0h1m6 0h1m14 0h1m1 0h1m13 0h1m1 0h1m43 0h1m2 0h1m25 0h9m2 0h3m1 0h4m2 0h1m2 0h3m1 0h3m1 0h1m1 0h2m3 0h1m2 0h1m4 0h1m3 0h1m6 0h1m2 0h1M563 1130.5h1m8 0h1m2 0h2m12 0h1m6 0h1m3 0h1m4 0h1m12 0h1m9 0h1m14 0h1m7 0h1m2 0h1m1 0h1m21 0h1m5 0h1m9 0h1m8 0h4m1 0h1m1 0h2m3 0h1m3 0h4m1 0h2m3 0h3m2 0h1m1 0h1m2 0h1m7 0h1m19 0h1m4 0h1M570 1131.5h1m8 0h1m3 0h2m21 0h1m10 0h1m2 0h1m4 0h1m35 0h1m3 0h1m11 0h1m23 0h4m1 0h2m1 0h1m1 0h3m5 0h1m1 0h1m1 0h2m1 0h1m1 0h1m2 0h1m4 0h3m8 0h1m1 0h1m7 0h1m5 0h1m2 0h1m2 0h1M565 1132.5h2m11 0h1m25 0h1m1 0h1m1 0h1m41 0h1m2 0h1m1 0h1m3 0h1m37 0h1m2 0h2m1 0h2m2 0h6m3 0h2m1 0h1m1 0h5m3 0h1m7 0h2m6 0h1m1 0h1m3 0h1m20 0h2M593 1133.5h1m3 0h1m3 0h1m3 0h1m57 0h1m2 0h1m8 0h1m3 0h1m20 0h1m1 0h4m1 0h2m1 0h1m1 0h3m3 0h4m1 0h1m1 0h5m1 0h5m5 0h1m5 0h1m13 0h1m5 0h2m3 0h1M570 1134.5h1m1 0h1m1 0h2m1 0h1m1 0h1m4 0h1m8 0h1m28 0h1m28 0h1m6 0h2m17 0h1m20 0h3m1 0h2m1 0h3m1 0h1m1 0h3m2 0h1m1 0h3m1 0h2m2 0h2m1 0h1m2 0h1m2 0h1m3 0h4m6 0h1m22 0h1M570 1135.5h1m21 0h1m3 0h1m5 0h1m6 0h1m6 0h2m5 0h1m38 0h2m21 0h1m7 0h1m5 0h1m1 0h9m1 0h7m1 0h5m2 0h1m1 0h2m2 0h7m2 0h1m1 0h1m2 0h1m10 0h1m14 0h1M579 1136.5h1m7 0h1m5 0h1m2 0h1m10 0h1m32 0h1m20 0h1m4 0h1m10 0h1m20 0h2m2 0h10m1 0h3m2 0h10m5 0h3m3 0h3m25 0h1m2 0h1M565 1137.5h1m29 0h1m9 0h1m11 0h1m4 0h1m4 0h1m63 0h1m8 0h12m1 0h2m2 0h11m3 0h1m1 0h3m1 0h1m4 0h1m1 0h1m6 0h1m5 0h1M575 1138.5h1m5 0h1m1 0h1m30 0h2m3 0h1m5 0h1m30 0h1m32 0h1m9 0h1m3 0h4m1 0h1m2 0h1m2 0h1m3 0h5m2 0h1m3 0h1m7 0h1m3 0h2M577 1139.5h2m11 0h1m37 0h1m33 0h1m5 0h1m3 0h1m11 0h1m2 0h1m3 0h1m8 0h3m1 0h1m1 0h4m4 0h2m1 0h4m1 0h3m1 0h2m2 0h1m3 0h1m6 0h2m3 0h1m4 0h1m7 0h1M572 1140.5h1m3 0h1m4 0h1m27 0h1m18 0h1m15 0h1m4 0h1m34 0h1m4 0h1m8 0h4m1 0h3m1 0h2m1 0h1m1 0h2m1 0h3m1 0h1m2 0h1m1 0h1m1 0h1m1 0h2m1 0h2m1 0h2m6 0h1m2 0h1m1 0h2m7 0h1m6 0h1m2 0h1M568 1141.5h1m16 0h1m6 0h1m1 0h1m6 0h1m2 0h1m8 0h1m1 0h1m1 0h1m1 0h1m39 0h1m2 0h2m16 0h1m7 0h1m11 0h1m1 0h5m1 0h5m2 0h1m1 0h5m3 0h1m2 0h2m1 0h2m4 0h1m3 0h1m1 0h1m3 0h1m18 0h1m6 0h1M574 1142.5h1m25 0h1m1 0h1m15 0h1m49 0h1m18 0h1m10 0h7m2 0h6m1 0h2m2 0h1m1 0h2m1 0h2m1 0h4m1 0h1m1 0h2m1 0h1m3 0h2m4 0h1m6 0h1m1 0h1m3 0h1m1 0h1m1 0h2m2 0h2m1 0h1m1 0h1M583 1143.5h1m19 0h1m9 0h1m4 0h1m2 0h1m42 0h1m32 0h1m6 0h3m3 0h3m2 0h1m1 0h1m2 0h2m2 0h9m5 0h1m2 0h2m3 0h1m4 0h1M568 1144.5h1m8 0h1m11 0h2m25 0h1m1 0h1m26 0h1m29 0h1m25 0h7m1 0h2m1 0h2m1 0h1m1 0h5m1 0h3m1 0h1m1 0h1m1 0h4m2 0h3m4 0h1m9 0h1m1 0h1m1 0h1m2 0h1M568 1145.5h1m2 0h1m21 0h1m24 0h2m4 0h1m39 0h1m6 0h1m18 0h1m8 0h2m1 0h2m1 0h5m1 0h5m1 0h4m1 0h1m1 0h5m1 0h1m4 0h1m6 0h1m14 0h1m1 0h2M566 1146.5h1m5 0h1m1 0h2m15 0h2m23 0h1m56 0h1m1 0h1m23 0h1m1 0h3m1 0h3m1 0h2m2 0h1m1 0h4m2 0h2m1 0h5m1 0h2m2 0h2m2 0h1m2 0h1m4 0h1m2 0h1m4 0h1m7 0h1m6 0h1M571 1147.5h1m8 0h1m7 0h1m1 0h1m1 0h1m15 0h1m1 0h1m12 0h1m8 0h1m15 0h1m3 0h1m21 0h1m17 0h1m7 0h1m1 0h4m3 0h3m2 0h1m3 0h5m2 0h2m2 0h4m8 0h2m1 0h1m11 0h1m6 0h1M567 1148.5h1m32 0h1m3 0h1m58 0h1m19 0h1m15 0h8m2 0h2m1 0h2m2 0h1m1 0h1m1 0h1m1 0h1m3 0h1m1 0h1m1 0h1m2 0h2m7 0h1m2 0h1m3 0h1m10 0h1m2 0h1m7 0h1M573 1149.5h1m16 0h1m3 0h1m2 0h2m3 0h1m3 0h1m4 0h1m4 0h1m20 0h1m22 0h1m13 0h1m15 0h1m3 0h1m5 0h1m2 0h1m2 0h3m1 0h3m1 0h2m2 0h3m1 0h2m2 0h2m2 0h3m2 0h1m3 0h1m2 0h1m1 0h1m2 0h1m2 0h2m6 0h1m2 0h1m2 0h1m7 0h1M573 1150.5h1m32 0h1m2 0h1m26 0h1m16 0h2m12 0h1m2 0h1m13 0h1m14 0h1m1 0h2m1 0h2m1 0h4m1 0h1m1 0h3m3 0h2m1 0h3m1 0h4m2 0h3m1 0h1m5 0h1m5 0h1m8 0h1m5 0h1m2 0h1M570 1151.5h1m3 0h1m25 0h1m12 0h1m42 0h2m2 0h1m4 0h1m6 0h1m3 0h1m8 0h1m2 0h1m11 0h1m2 0h3m1 0h2m1 0h1m1 0h3m2 0h8m1 0h3m1 0h3m1 0h1m3 0h2m12 0h4m2 0h2m2 0h1m6 0h1M566 1152.5h1m3 0h2m5 0h1m15 0h1m15 0h1m6 0h1m3 0h1m7 0h1m36 0h1m1 0h1m3 0h3m2 0h1m22 0h11m1 0h1m1 0h2m2 0h3m2 0h1m1 0h5m1 0h2m3 0h1m2 0h5m2 0h1m1 0h1m3 0h1m1 0h3M591 1153.5h1m3 0h1m1 0h2m11 0h1m4 0h1m8 0h1m28 0h2m3 0h2m10 0h1m26 0h1m1 0h2m2 0h9m2 0h2m1 0h1m2 0h6m3 0h1m4 0h1m8 0h1m2 0h1m15 0h1m8 0h1m1 0h1M580 1154.5h1m24 0h1m13 0h1m1 0h1m30 0h1m7 0h1m40 0h6m2 0h8m1 0h6m1 0h1m2 0h2m4 0h1m1 0h1m4 0h1m3 0h2m9 0h1m3 0h2m2 0h1m2 0h1M564 1155.5h1m2 0h1m1 0h1m6 0h1m13 0h1m63 0h1m17 0h1m1 0h1m3 0h1m22 0h4m1 0h5m3 0h1m1 0h1m2 0h2m1 0h1m1 0h4m2 0h1m1 0h4m4 0h1m1 0h1m3 0h1m9 0h1m5 0h1m5 0h1M563 1156.5h2m2 0h1m24 0h1m2 0h1m8 0h1m48 0h2m2 0h2m5 0h1m13 0h1m23 0h2m1 0h3m1 0h4m2 0h2m1 0h4m1 0h4m1 0h1m1 0h1m3 0h1m2 0h4m1 0h1m12 0h1m8 0h1m2 0h1M572 1157.5h1m8 0h1m1 0h1m8 0h1m18 0h1m5 0h1m3 0h1m26 0h1m11 0h2m1 0h2m20 0h1m8 0h1m4 0h1m2 0h9m3 0h4m1 0h1m1 0h1m2 0h2m4 0h1m3 0h1m1 0h1m10 0h1m4 0h1m2 0h1m3 0h1m7 0h1M566 1158.5h1m2 0h2m32 0h1m1 0h1m5 0h1m1 0h1m34 0h1m10 0h1m16 0h1m9 0h1m14 0h1m1 0h1m2 0h2m1 0h1m1 0h1m1 0h6m1 0h1m1 0h1m1 0h7m1 0h1m1 0h1m2 0h2m1 0h1m11 0h1m18 0h1M565 1159.5h1m11 0h1m4 0h1m15 0h1m2 0h1m1 0h2m3 0h1m2 0h1m3 0h1m8 0h1m28 0h1m37 0h1m8 0h2m1 0h4m3 0h2m1 0h2m1 0h5m1 0h1m3 0h1m1 0h1m1 0h2m1 0h4m1 0h1m15 0h3m1 0h1m13 0h1M564 1160.5h1m22 0h1m10 0h2m5 0h1m2 0h1m19 0h1m32 0h1m1 0h1m21 0h1m1 0h2m11 0h3m1 0h2m1 0h3m2 0h3m1 0h2m4 0h3m2 0h1m3 0h2m1 0h2m1 0h2m7 0h1m1 0h1m5 0h1m12 0h2m2 0h1M572 1161.5h1m1 0h1m3 0h2m1 0h1m13 0h1m49 0h1m14 0h1m16 0h1m21 0h3m1 0h1m1 0h10m1 0h2m2 0h8m1 0h4m8 0h1m1 0h1m8 0h1m10 0h1M573 1162.5h1m5 0h1m20 0h1m5 0h1m15 0h1m36 0h1m2 0h1m7 0h1m1 0h1m7 0h1m19 0h1m1 0h6m1 0h2m1 0h9m2 0h6m2 0h1m4 0h1m2 0h2m4 0h1m4 0h1m1 0h1m5 0h1m8 0h1m3 0h1" stroke="#ee1010" stroke-width="1" fill="none"/>
<line x1="577.0" y1="1083" x2="577.0" y2="1163" stroke="#000" stroke-width="1.8"/>
<line x1="585.5" y1="1083" x2="585.5" y2="1163" stroke="#000" stroke-width="1.8"/>
<line x1="627.2" y1="1083" x2="627.2" y2="1163" stroke="#000" stroke-width="1.8"/>
<line x1="635.7" y1="1083" x2="635.7" y2="1163" stroke="#000" stroke-width="1.8"/>
<line x1="690.1" y1="1083" x2="690.1" y2="1163" stroke="#000" stroke-width="1.8"/>
<text x="668" y="1072.2" font-size="23.5" text-anchor="middle" fill="#000" font-weight="normal" >Cell #3</text>
<line x1="577.0" y1="1200.5" x2="577.0" y2="1278.5" stroke="#000" stroke-width="1.6"/>
<line x1="585.5" y1="1200.5" x2="585.5" y2="1278.5" stroke="#000" stroke-width="1.6"/>
<line x1="627.2" y1="1200.5" x2="627.2" y2="1278.5" stroke="#000" stroke-width="1.6"/>
<line x1="635.7" y1="1200.5" x2="635.7" y2="1278.5" stroke="#000" stroke-width="1.6"/>
<line x1="690.1" y1="1200.5" x2="690.1" y2="1278.5" stroke="#000" stroke-width="1.6"/>
<line x1="563" y1="1278.5" x2="774" y2="1278.5" stroke="#000" stroke-width="1.6"/>
<polyline points="563.3,1274.2 564.4,1276.4 565.5,1274.2 566.6,1269.6 567.7,1270.3 568.8,1271.8 569.9,1271.8 571.0,1268.2 572.1,1273.2 573.2,1273.6 574.3,1270.6 575.4,1273.8 576.5,1270.7 577.6,1271.2 578.7,1271.7 579.8,1271.8 580.9,1274.4 582.0,1275.5 583.1,1272.8 584.2,1275.7 585.3,1278.0 586.4,1274.9 587.5,1275.5 588.6,1274.1 589.7,1273.9 590.8,1275.1 591.9,1275.7 593.0,1272.0 594.1,1276.7 595.2,1274.4 596.3,1273.5 597.4,1274.7 598.5,1272.8 599.6,1272.5 600.7,1271.7 601.8,1274.7 602.9,1271.1 604.0,1273.0 605.1,1273.9 606.2,1272.8 607.3,1274.2 608.4,1275.4 609.5,1274.2 610.6,1274.4 611.7,1273.1 612.8,1273.6 613.9,1270.2 615.0,1274.2 616.1,1275.4 617.2,1273.3 618.3,1272.8 619.4,1273.7 620.5,1268.3 621.6,1269.3 622.7,1270.3 623.8,1274.1 624.9,1274.1 626.0,1275.8 627.1,1274.5 628.2,1278.0 629.3,1275.2 630.4,1278.0 631.5,1275.4 632.6,1276.0 633.7,1277.2 634.8,1278.0 635.9,1278.0 637.0,1275.2 638.1,1278.0 639.2,1278.0 640.3,1278.0 641.4,1277.6 642.5,1274.0 643.6,1276.9 644.7,1277.2 645.8,1276.4 646.9,1275.0 648.0,1276.2 649.1,1273.6 650.2,1274.6 651.3,1273.6 652.4,1277.6 653.5,1274.3 654.6,1273.4 655.7,1274.4 656.8,1273.0 657.9,1270.7 659.0,1274.4 660.1,1270.3 661.2,1269.2 662.3,1268.8 663.4,1270.5 664.5,1272.1 665.6,1275.2 666.7,1277.9 667.8,1273.8 668.9,1274.3 670.0,1274.8 671.1,1274.9 672.2,1275.0 673.3,1272.7 674.4,1276.5 675.5,1276.2 676.6,1276.1 677.7,1274.4 678.8,1275.6 679.9,1275.8 681.0,1278.0 682.1,1276.8 683.2,1276.4 684.3,1275.6 685.4,1274.5 686.5,1276.9 687.6,1273.6 688.7,1275.8 689.8,1275.0 690.9,1278.0 692.0,1276.2 693.1,1277.4 694.2,1275.0 695.3,1274.9 696.4,1278.0 697.5,1277.1 698.6,1266.2 699.7,1251.2 700.8,1239.9 701.9,1234.5 703.0,1221.2 704.1,1210.1 705.2,1207.1 706.3,1203.5 707.4,1201.0 708.5,1202.0 709.6,1215.2 710.7,1228.4 711.8,1224.6 712.9,1221.8 714.0,1227.5 715.1,1230.1 716.2,1236.3 717.3,1233.5 718.4,1223.5 719.5,1214.0 720.6,1221.8 721.7,1230.4 722.8,1223.4 723.9,1220.4 725.0,1218.3 726.1,1220.2 727.2,1224.9 728.3,1232.7 729.4,1236.4 730.5,1237.7 731.6,1239.9 732.7,1239.9 733.8,1242.1 734.9,1248.4 736.0,1250.0 737.1,1256.3 738.2,1260.6 739.3,1255.4 740.4,1259.7 741.5,1261.3 742.6,1261.3 743.7,1260.1 744.8,1261.3 745.9,1266.9 747.0,1265.4 748.1,1268.4 749.2,1269.1 750.3,1270.1 751.4,1271.3 752.5,1269.8 753.6,1268.9 754.7,1273.4 755.8,1270.7 756.9,1272.7 758.0,1272.7 759.1,1270.0 760.2,1273.4 761.3,1272.9 762.4,1271.1 763.5,1273.7 764.6,1274.0 765.7,1272.4 766.8,1271.3 767.9,1271.1 769.0,1274.3 770.1,1272.6 771.2,1272.4 772.3,1271.9 773.4,1272.6" fill="none" stroke="#ee0000" stroke-width="2.4" stroke-linejoin="round"/>
<polyline points="563.3,1274.9 564.4,1270.4 565.5,1268.6 566.6,1273.8 567.7,1269.3 568.8,1266.8 569.9,1267.7 571.0,1265.8 572.1,1268.0 573.2,1264.5 574.3,1266.2 575.4,1265.9 576.5,1265.1 577.6,1267.0 578.7,1265.2 579.8,1264.5 580.9,1266.5 582.0,1266.3 583.1,1271.1 584.2,1271.7 585.3,1276.5 586.4,1274.6 587.5,1275.0 588.6,1273.3 589.7,1272.7 590.8,1276.1 591.9,1277.6 593.0,1272.3 594.1,1274.6 595.2,1273.1 596.3,1271.2 597.4,1272.6 598.5,1273.3 599.6,1273.5 600.7,1273.1 601.8,1273.1 602.9,1269.0 604.0,1272.3 605.1,1273.9 606.2,1273.1 607.3,1274.3 608.4,1271.0 609.5,1269.9 610.6,1273.1 611.7,1270.6 612.8,1274.7 613.9,1271.4 615.0,1275.3 616.1,1272.4 617.2,1273.8 618.3,1269.8 619.4,1271.0 620.5,1269.3 621.6,1271.3 622.7,1272.3 623.8,1272.6 624.9,1273.8 626.0,1275.4 627.1,1273.5 628.2,1273.6 629.3,1274.7 630.4,1273.3 631.5,1274.8 632.6,1276.0 633.7,1276.0 634.8,1277.6 635.9,1276.9 637.0,1276.7 638.1,1277.8 639.2,1273.5 640.3,1277.9 641.4,1275.4 642.5,1278.0 643.6,1275.8 644.7,1278.0 645.8,1276.3 646.9,1275.8 648.0,1274.4 649.1,1273.3 650.2,1278.0 651.3,1277.3 652.4,1275.5 653.5,1276.3 654.6,1278.0 655.7,1278.0 656.8,1276.4 657.9,1277.0 659.0,1278.0 660.1,1274.8 661.2,1277.8 662.3,1275.4 663.4,1278.0 664.5,1277.9 665.6,1278.0 666.7,1278.0 667.8,1276.9 668.9,1276.4 670.0,1277.6 671.1,1274.3 672.2,1277.2 673.3,1278.0 674.4,1273.7 675.5,1275.4 676.6,1275.6 677.7,1276.6 678.8,1277.0 679.9,1278.0 681.0,1277.7 682.1,1274.8 683.2,1275.7 684.3,1277.8 685.4,1276.7 686.5,1278.0 687.6,1277.1 688.7,1277.5 689.8,1276.6 690.9,1273.9 692.0,1276.1 693.1,1278.0 694.2,1277.4 695.3,1275.1 696.4,1276.7 697.5,1278.0 698.6,1274.6 699.7,1275.6 700.8,1277.5 701.9,1278.0 703.0,1277.4 704.1,1276.6 705.2,1278.0 706.3,1275.5 707.4,1275.9 708.5,1275.8 709.6,1271.3 710.7,1274.7 711.8,1271.4 712.9,1270.2 714.0,1272.3 715.1,1272.2 716.2,1272.7 717.3,1274.7 718.4,1273.7 719.5,1271.8 720.6,1272.4 721.7,1273.0 722.8,1270.2 723.9,1272.5 725.0,1271.1 726.1,1270.2 727.2,1271.7 728.3,1271.5 729.4,1271.1 730.5,1269.1 731.6,1270.7 732.7,1269.7 733.8,1267.7 734.9,1269.8 736.0,1266.2 737.1,1268.4 738.2,1270.2 739.3,1268.5 740.4,1271.3 741.5,1271.7 742.6,1269.0 743.7,1268.7 744.8,1271.3 745.9,1272.4 747.0,1270.7 748.1,1273.8 749.2,1274.4 750.3,1275.7 751.4,1275.1 752.5,1274.9 753.6,1277.5 754.7,1272.8 755.8,1277.2 756.9,1275.7 758.0,1275.4 759.1,1274.9 760.2,1276.7 761.3,1274.0 762.4,1274.9 763.5,1276.6 764.6,1274.2 765.7,1276.9 766.8,1276.3 767.9,1276.2 769.0,1276.1 770.1,1275.5 771.2,1275.5 772.3,1272.0 773.4,1276.4" fill="none" stroke="#0000ee" stroke-width="2.4" stroke-linejoin="round"/>
<rect x="550.7" y="1240.9" width="4.5" height="37.7" fill="#000"/>
<text transform="translate(542.5 1320.2) rotate(-90)" font-size="24.7">10 spikes s<tspan font-size="16.5" dy="-10">−1</tspan></text>
<path d="M827 1083.5h2m1 0h4m1 0h7m5 0h5m2 0h4m2 0h1m2 0h3m1 0h3m1 0h7m1 0h1m1 0h1m1 0h8m1 0h2m2 0h1m1 0h1m4 0h2m1 0h2m1 0h2m2 0h2m1 0h5m2 0h3m1 0h1m3 0h2m1 0h2m2 0h2m2 0h1m1 0h1m4 0h1m1 0h3m3 0h1m2 0h1m24 0h1m5 0h1m1 0h1m1 0h1m1 0h6m1 0h1m1 0h3m1 0h5m2 0h4m4 0h1m1 0h1m1 0h1m3 0h1M826 1084.5h2m1 0h3m4 0h2m2 0h4m7 0h2m2 0h1m1 0h1m3 0h1m1 0h1m2 0h1m4 0h4m1 0h4m1 0h2m3 0h1m1 0h1m2 0h1m4 0h1m3 0h1m2 0h1m1 0h1m1 0h3m1 0h2m3 0h3m1 0h1m1 0h1m1 0h3m1 0h3m3 0h2m3 0h1m3 0h1m2 0h1m1 0h1m1 0h3m24 0h1m7 0h2m1 0h2m1 0h3m1 0h1m1 0h1m1 0h3m1 0h3m2 0h2m1 0h3m1 0h1m4 0h3m2 0h1m1 0h1M824 1085.5h1m1 0h1m1 0h1m1 0h2m1 0h5m1 0h1m1 0h1m1 0h1m5 0h3m1 0h1m1 0h4m1 0h1m1 0h2m4 0h3m1 0h1m2 0h1m1 0h1m1 0h5m1 0h2m1 0h1m1 0h1m3 0h2m1 0h1m3 0h1m2 0h4m1 0h1m1 0h3m3 0h1m1 0h1m1 0h4m1 0h2m4 0h5m2 0h1m2 0h2m1 0h1m1 0h1m3 0h2m4 0h1m4 0h1m9 0h1m14 0h2m7 0h2m1 0h1m2 0h1m1 0h1m1 0h1m3 0h1m1 0h1m1 0h2m1 0h1m1 0h3m1 0h2m1 0h1m3 0h1M825 1086.5h1m1 0h1m1 0h1m2 0h3m1 0h1m1 0h1m1 0h2m3 0h1m1 0h1m3 0h1m2 0h2m2 0h2m1 0h1m4 0h1m2 0h1m1 0h2m1 0h2m1 0h2m2 0h1m1 0h1m5 0h1m1 0h2m1 0h1m1 0h3m1 0h2m3 0h2m1 0h2m2 0h3m2 0h3m1 0h3m1 0h1m1 0h1m1 0h1m4 0h2m2 0h1m4 0h1m1 0h1m1 0h3m2 0h1m7 0h1m13 0h1m7 0h1m3 0h2m1 0h2m2 0h1m4 0h5m1 0h2m1 0h1m1 0h2m4 0h2m2 0h1m1 0h3M824 1087.5h1m2 0h4m1 0h11m1 0h1m2 0h1m1 0h2m1 0h1m3 0h1m2 0h2m3 0h3m2 0h3m3 0h2m2 0h1m2 0h1m2 0h1m1 0h1m1 0h1m1 0h2m1 0h3m1 0h1m7 0h1m2 0h2m3 0h4m1 0h1m1 0h2m4 0h1m2 0h3m1 0h1m3 0h1m1 0h3m1 0h2m3 0h4m4 0h1m12 0h1m10 0h2m4 0h1m2 0h2m6 0h1m1 0h1m1 0h1m1 0h2m2 0h2m1 0h2m2 0h5m1 0h2m1 0h4m1 0h1m2 0h1M825 1088.5h2m1 0h2m2 0h2m2 0h3m1 0h2m1 0h1m7 0h1m5 0h1m1 0h6m1 0h3m1 0h1m4 0h1m1 0h3m1 0h7m2 0h3m3 0h2m3 0h2m1 0h3m1 0h2m1 0h1m1 0h2m3 0h1m1 0h2m1 0h2m2 0h1m1 0h1m3 0h1m1 0h3m1 0h2m2 0h1m8 0h1m7 0h1m1 0h1m3 0h1m5 0h1m5 0h1m3 0h1m3 0h1m3 0h4m2 0h5m2 0h1m4 0h2m1 0h3m2 0h2m3 0h1m2 0h1m1 0h1m1 0h2m3 0h1M824 1089.5h4m1 0h5m1 0h1m2 0h1m1 0h1m7 0h1m1 0h3m2 0h1m2 0h2m1 0h1m1 0h1m1 0h1m1 0h1m1 0h2m1 0h1m1 0h2m2 0h2m2 0h2m2 0h2m3 0h1m1 0h1m1 0h2m2 0h1m1 0h1m1 0h1m2 0h4m1 0h3m1 0h5m2 0h2m1 0h2m3 0h1m4 0h4m1 0h1m2 0h1m4 0h2m1 0h3m9 0h1m1 0h1m10 0h1m5 0h1m1 0h1m1 0h2m3 0h1m2 0h2m2 0h5m1 0h2m1 0h1m2 0h2m1 0h1m1 0h1m1 0h2m2 0h1m1 0h1m1 0h3m1 0h1M824 1090.5h1m1 0h1m3 0h2m2 0h3m2 0h1m1 0h2m1 0h2m1 0h1m1 0h1m3 0h2m1 0h3m1 0h1m1 0h3m3 0h1m3 0h1m2 0h1m2 0h1m2 0h1m3 0h1m1 0h5m1 0h2m1 0h1m1 0h1m5 0h1m2 0h1m3 0h3m3 0h4m1 0h1m2 0h3m2 0h1m1 0h1m1 0h3m1 0h4m2 0h1m4 0h1m1 0h1m8 0h1m22 0h1m2 0h2m3 0h1m3 0h4m1 0h3m2 0h1m1 0h6m1 0h7m1 0h1m1 0h2m1 0h1m3 0h1M829 1091.5h1m1 0h1m1 0h1m1 0h4m1 0h2m3 0h1m4 0h2m3 0h1m1 0h2m1 0h1m2 0h8m1 0h2m1 0h2m2 0h1m1 0h2m4 0h6m2 0h2m2 0h1m2 0h1m2 0h1m4 0h2m2 0h3m1 0h3m2 0h2m4 0h3m1 0h2m3 0h1m3 0h1m6 0h1m1 0h2m1 0h1m8 0h1m3 0h2m4 0h1m14 0h3m1 0h1m1 0h1m2 0h3m1 0h2m2 0h3m3 0h4m1 0h2m1 0h1m3 0h1m2 0h1m1 0h2M824 1092.5h1m1 0h4m1 0h1m2 0h2m1 0h2m2 0h1m1 0h2m1 0h1m1 0h1m7 0h4m1 0h1m1 0h1m1 0h3m4 0h1m1 0h5m1 0h2m1 0h2m1 0h1m1 0h4m4 0h1m2 0h3m2 0h2m1 0h2m1 0h3m1 0h2m3 0h2m1 0h4m2 0h1m2 0h1m1 0h1m1 0h1m1 0h4m1 0h2m1 0h2m1 0h5m18 0h1m16 0h1m1 0h1m3 0h2m1 0h1m2 0h1m1 0h1m1 0h1m4 0h1m1 0h2m1 0h5m1 0h2m1 0h2m1 0h1m1 0h1m1 0h1M826 1093.5h1m1 0h3m1 0h1m1 0h2m1 0h2m1 0h2m1 0h1m1 0h1m1 0h1m2 0h1m3 0h2m1 0h1m1 0h2m1 0h2m2 0h2m1 0h1m2 0h1m1 0h2m1 0h1m2 0h3m1 0h2m3 0h2m3 0h3m4 0h1m2 0h2m6 0h4m1 0h1m1 0h3m2 0h1m2 0h2m1 0h1m1 0h1m1 0h1m4 0h1m1 0h1m3 0h1m1 0h6m4 0h1m3 0h1m12 0h1m2 0h1m3 0h1m3 0h1m11 0h5m2 0h1m3 0h1m1 0h1m1 0h1m1 0h2m2 0h8m2 0h1M824 1094.5h1m3 0h1m1 0h1m1 0h1m1 0h1m1 0h4m1 0h2m1 0h1m3 0h2m4 0h1m2 0h2m3 0h1m1 0h1m1 0h3m1 0h1m1 0h2m1 0h1m1 0h1m1 0h6m2 0h7m3 0h3m1 0h7m6 0h4m1 0h1m4 0h1m5 0h3m1 0h1m1 0h4m3 0h1m4 0h1m2 0h1m1 0h1m2 0h1m6 0h1m4 0h1m14 0h1m3 0h1m3 0h1m5 0h2m2 0h1m6 0h1m1 0h2m1 0h1m2 0h2m1 0h1m1 0h1m4 0h5M824 1095.5h8m2 0h3m1 0h1m1 0h3m7 0h3m4 0h1m1 0h2m1 0h4m1 0h1m2 0h3m1 0h3m1 0h5m1 0h1m2 0h2m1 0h1m1 0h2m2 0h6m2 0h4m1 0h1m1 0h13m1 0h2m1 0h1m2 0h1m3 0h1m6 0h1m1 0h3m3 0h4m3 0h1m4 0h1m1 0h1m1 0h1m10 0h1m10 0h2m2 0h2m2 0h1m1 0h1m1 0h3m1 0h5m2 0h2m2 0h1m1 0h2m1 0h2m1 0h1m3 0h4M828 1096.5h1m4 0h2m2 0h1m1 0h1m2 0h1m1 0h1m2 0h1m3 0h1m1 0h4m1 0h2m2 0h1m3 0h4m2 0h5m1 0h3m2 0h1m1 0h1m1 0h1m3 0h1m1 0h1m2 0h1m1 0h3m6 0h4m1 0h1m1 0h1m2 0h4m1 0h2m4 0h5m1 0h1m1 0h2m1 0h3m3 0h1m2 0h1m2 0h3m5 0h1m21 0h1m2 0h1m1 0h1m2 0h1m2 0h1m5 0h1m3 0h4m1 0h2m2 0h3m1 0h1m5 0h3m3 0h1m2 0h1m2 0h1M824 1097.5h3m1 0h1m1 0h1m2 0h7m1 0h2m1 0h2m1 0h2m2 0h3m2 0h1m1 0h2m1 0h3m2 0h2m1 0h2m1 0h1m2 0h2m1 0h2m4 0h2m1 0h2m1 0h2m2 0h2m2 0h1m1 0h1m1 0h2m2 0h1m2 0h4m1 0h1m4 0h3m1 0h1m3 0h2m1 0h1m3 0h1m1 0h4m3 0h2m3 0h4m8 0h1m7 0h1m13 0h1m4 0h1m1 0h2m1 0h1m4 0h4m2 0h1m1 0h1m1 0h1m2 0h1m3 0h1m1 0h2m2 0h2m1 0h4m5 0h1M824 1098.5h3m1 0h7m1 0h1m1 0h2m4 0h1m3 0h2m1 0h1m2 0h4m1 0h1m2 0h8m1 0h2m1 0h6m1 0h2m1 0h4m1 0h2m1 0h1m3 0h1m2 0h1m5 0h5m2 0h2m1 0h1m5 0h1m1 0h1m2 0h1m1 0h3m1 0h1m2 0h4m1 0h5m1 0h1m1 0h1m3 0h1m5 0h1m1 0h1m2 0h2m6 0h1m1 0h1m2 0h1m5 0h1m3 0h1m1 0h1m2 0h1m3 0h1m2 0h1m2 0h3m2 0h3m2 0h2m1 0h2m1 0h1m2 0h2m1 0h1m3 0h1m1 0h1M824 1099.5h2m1 0h1m1 0h5m1 0h2m2 0h2m2 0h1m4 0h1m2 0h4m1 0h1m2 0h4m1 0h1m1 0h2m1 0h2m1 0h2m1 0h1m1 0h3m1 0h1m1 0h2m2 0h2m1 0h2m1 0h1m3 0h3m1 0h2m1 0h1m1 0h5m1 0h2m2 0h1m5 0h1m2 0h1m4 0h2m1 0h1m2 0h1m4 0h1m1 0h1m2 0h2m2 0h1m1 0h1m2 0h1m3 0h1m1 0h2m15 0h2m2 0h1m3 0h1m2 0h1m1 0h1m2 0h1m1 0h2m2 0h3m3 0h2m2 0h2m5 0h1m4 0h1m1 0h2m3 0h1M824 1100.5h1m1 0h2m4 0h1m2 0h3m2 0h2m1 0h1m6 0h2m3 0h3m1 0h1m1 0h2m1 0h2m1 0h2m1 0h1m5 0h2m3 0h1m1 0h4m3 0h2m2 0h1m4 0h1m1 0h2m2 0h1m2 0h1m1 0h1m2 0h1m3 0h4m1 0h2m2 0h1m1 0h2m1 0h4m2 0h1m1 0h1m2 0h1m2 0h2m1 0h4m1 0h2m10 0h1m1 0h1m26 0h1m3 0h1m1 0h3m3 0h3m2 0h2m1 0h2m3 0h1m7 0h1M824 1101.5h1m1 0h8m1 0h5m2 0h2m8 0h3m1 0h1m1 0h1m2 0h4m1 0h1m3 0h2m1 0h1m2 0h1m2 0h3m1 0h2m1 0h1m1 0h1m1 0h1m2 0h1m1 0h1m1 0h1m3 0h2m2 0h2m1 0h1m3 0h2m3 0h2m2 0h1m1 0h2m1 0h1m1 0h1m1 0h1m6 0h2m1 0h2m1 0h1m2 0h1m1 0h2m4 0h1m8 0h2m5 0h1m3 0h2m1 0h1m9 0h1m1 0h1m3 0h6m2 0h1m2 0h6m1 0h2m1 0h2m1 0h2m1 0h1m1 0h1m3 0h1m1 0h1m2 0h1M825 1102.5h3m1 0h1m1 0h1m5 0h1m1 0h2m1 0h1m7 0h2m2 0h2m1 0h2m1 0h2m1 0h1m1 0h4m1 0h2m1 0h4m1 0h2m3 0h3m1 0h3m1 0h1m3 0h2m5 0h2m2 0h1m2 0h1m2 0h4m1 0h1m6 0h2m1 0h2m4 0h1m1 0h3m6 0h4m1 0h4m9 0h1m19 0h1m5 0h1m4 0h1m3 0h1m1 0h2m2 0h4m4 0h4m1 0h4m3 0h1m1 0h2m1 0h1m1 0h2M826 1103.5h1m1 0h6m2 0h2m9 0h6m1 0h1m1 0h2m1 0h2m3 0h2m1 0h2m1 0h4m2 0h5m3 0h4m3 0h3m1 0h1m2 0h4m1 0h1m1 0h1m1 0h4m4 0h3m1 0h1m1 0h1m3 0h2m2 0h7m1 0h1m3 0h1m1 0h1m4 0h2m1 0h1m3 0h1m3 0h1m1 0h1m2 0h1m2 0h2m4 0h2m8 0h1m4 0h2m1 0h4m5 0h1m1 0h3m1 0h1m1 0h5m4 0h5m1 0h2m7 0h1M824 1104.5h9m2 0h6m1 0h1m2 0h1m1 0h1m1 0h3m3 0h2m1 0h1m1 0h8m1 0h1m2 0h2m1 0h3m2 0h5m1 0h1m5 0h1m3 0h1m1 0h1m1 0h2m2 0h3m2 0h1m3 0h1m2 0h3m2 0h1m1 0h4m6 0h1m1 0h1m1 0h1m2 0h2m3 0h2m2 0h5m10 0h1m5 0h1m14 0h1m3 0h1m7 0h1m1 0h2m1 0h1m1 0h2m2 0h2m6 0h2m2 0h1m1 0h1m1 0h2m1 0h1m3 0h1M824 1105.5h3m1 0h6m1 0h2m1 0h2m1 0h2m4 0h1m2 0h1m1 0h1m1 0h2m1 0h1m1 0h2m1 0h1m1 0h1m1 0h2m1 0h1m1 0h2m3 0h2m1 0h2m1 0h2m2 0h5m2 0h1m2 0h3m1 0h3m1 0h2m1 0h1m2 0h2m1 0h5m1 0h3m1 0h1m4 0h6m1 0h2m1 0h3m4 0h1m4 0h1m2 0h1m2 0h1m10 0h1m9 0h1m6 0h3m3 0h1m1 0h1m2 0h1m1 0h4m2 0h2m2 0h1m4 0h2m1 0h1m1 0h4m2 0h8m1 0h1M824 1106.5h1m1 0h1m1 0h1m1 0h4m1 0h1m1 0h6m2 0h2m4 0h1m1 0h4m1 0h4m3 0h1m1 0h2m2 0h5m1 0h6m1 0h3m2 0h3m1 0h1m3 0h3m1 0h4m3 0h2m1 0h1m2 0h2m1 0h4m1 0h1m3 0h1m1 0h2m3 0h1m6 0h3m8 0h3m1 0h1m30 0h2m1 0h1m1 0h2m1 0h2m1 0h2m8 0h3m1 0h1m2 0h3m2 0h2m1 0h1m1 0h2m1 0h1M824 1107.5h2m2 0h2m2 0h6m3 0h1m2 0h1m4 0h1m4 0h2m1 0h1m1 0h1m3 0h5m2 0h2m4 0h5m4 0h5m1 0h1m3 0h2m1 0h1m1 0h9m1 0h1m1 0h1m1 0h1m1 0h1m1 0h3m2 0h1m3 0h1m1 0h3m1 0h1m2 0h1m4 0h1m1 0h3m1 0h1m1 0h1m2 0h1m1 0h1m1 0h2m1 0h1m2 0h1m20 0h1m2 0h2m2 0h1m1 0h5m1 0h2m2 0h1m1 0h6m1 0h1m3 0h2m2 0h1m4 0h1m2 0h1m1 0h3M826 1108.5h1m2 0h1m1 0h2m2 0h1m2 0h1m1 0h2m7 0h4m1 0h4m3 0h4m2 0h2m1 0h4m1 0h1m3 0h5m2 0h1m1 0h2m1 0h3m2 0h2m3 0h1m1 0h1m1 0h2m1 0h2m1 0h2m2 0h1m1 0h2m1 0h4m1 0h3m3 0h1m1 0h2m1 0h1m1 0h2m3 0h1m2 0h1m1 0h4m7 0h1m2 0h1m4 0h3m2 0h1m15 0h1m2 0h1m4 0h1m2 0h2m1 0h1m1 0h3m1 0h2m5 0h1m1 0h4m1 0h3m3 0h2M825 1109.5h2m3 0h1m2 0h1m1 0h6m10 0h4m2 0h3m2 0h1m2 0h6m2 0h3m4 0h1m1 0h1m2 0h1m1 0h3m1 0h1m2 0h1m3 0h2m1 0h1m1 0h2m1 0h2m2 0h1m1 0h1m1 0h1m2 0h6m1 0h3m1 0h1m3 0h1m1 0h3m1 0h1m3 0h1m1 0h2m1 0h1m2 0h1m2 0h1m10 0h1m12 0h1m5 0h1m8 0h2m2 0h1m1 0h2m4 0h6m3 0h1m2 0h5m4 0h1m2 0h3M824 1110.5h2m2 0h6m3 0h4m1 0h3m6 0h4m1 0h1m1 0h2m1 0h5m2 0h3m4 0h1m3 0h1m1 0h1m2 0h6m1 0h2m6 0h2m1 0h1m1 0h2m3 0h1m1 0h2m1 0h2m1 0h2m1 0h2m1 0h6m1 0h1m3 0h2m2 0h1m5 0h2m5 0h2m2 0h1m34 0h3m1 0h5m1 0h3m6 0h3m2 0h2m4 0h3m1 0h2m1 0h2M824 1111.5h2m2 0h1m1 0h1m2 0h2m3 0h1m1 0h4m3 0h1m1 0h2m3 0h1m1 0h1m2 0h2m2 0h2m1 0h5m1 0h3m1 0h2m2 0h1m1 0h6m1 0h1m1 0h1m4 0h10m1 0h5m6 0h4m2 0h2m3 0h3m1 0h2m1 0h2m2 0h3m7 0h1m1 0h1m12 0h1m7 0h2m5 0h1m2 0h1m2 0h1m2 0h1m1 0h1m3 0h3m2 0h2m1 0h2m2 0h3m1 0h3m3 0h2m2 0h4m6 0h1M826 1112.5h1m1 0h1m3 0h7m3 0h3m5 0h1m1 0h2m2 0h1m2 0h3m3 0h3m1 0h1m2 0h2m1 0h1m1 0h2m1 0h1m1 0h1m2 0h2m1 0h2m5 0h1m1 0h1m3 0h4m3 0h1m2 0h1m1 0h3m2 0h2m1 0h2m1 0h1m2 0h1m1 0h2m1 0h4m2 0h3m3 0h2m1 0h3m3 0h2m3 0h1m5 0h1m1 0h1m19 0h1m3 0h1m3 0h4m1 0h2m3 0h1m1 0h1m1 0h8m1 0h1m1 0h2m8 0h4M825 1113.5h1m1 0h1m1 0h1m5 0h1m1 0h1m2 0h2m5 0h1m4 0h1m1 0h2m1 0h12m1 0h1m3 0h1m1 0h1m5 0h4m2 0h1m1 0h2m1 0h1m3 0h1m3 0h1m1 0h4m1 0h1m7 0h1m2 0h1m1 0h4m2 0h1m1 0h2m1 0h1m2 0h3m2 0h2m2 0h1m2 0h2m2 0h3m1 0h1m1 0h1m4 0h1m2 0h1m12 0h1m3 0h1m3 0h2m6 0h1m2 0h1m3 0h4m3 0h2m2 0h4m2 0h2m1 0h1m1 0h1m1 0h4m2 0h1M824 1114.5h2m1 0h2m1 0h4m1 0h6m1 0h3m1 0h2m4 0h1m3 0h4m1 0h1m1 0h1m1 0h5m1 0h1m1 0h1m1 0h1m1 0h3m1 0h2m1 0h1m1 0h2m4 0h1m4 0h1m1 0h1m2 0h2m1 0h1m2 0h4m1 0h5m2 0h1m1 0h3m1 0h1m1 0h3m4 0h1m2 0h2m1 0h1m3 0h1m1 0h2m1 0h3m1 0h1m4 0h2m4 0h1m5 0h1m5 0h2m1 0h1m6 0h1m1 0h1m1 0h1m1 0h1m2 0h2m2 0h1m3 0h4m1 0h3m1 0h2m5 0h4m1 0h4m2 0h1M824 1115.5h7m1 0h1m1 0h2m1 0h1m1 0h3m5 0h6m1 0h1m1 0h1m1 0h3m1 0h4m2 0h1m2 0h1m1 0h4m6 0h2m4 0h3m1 0h1m1 0h3m1 0h1m1 0h1m4 0h1m1 0h2m2 0h1m2 0h3m1 0h1m3 0h2m1 0h3m1 0h1m1 0h5m1 0h1m1 0h2m2 0h3m1 0h2m1 0h1m1 0h1m7 0h1m3 0h1m4 0h1m4 0h2m6 0h1m2 0h1m2 0h1m3 0h2m1 0h3m3 0h2m1 0h1m2 0h1m1 0h2m3 0h1m3 0h1m1 0h2m1 0h2m2 0h2M824 1116.5h1m2 0h8m1 0h3m1 0h3m6 0h1m1 0h4m2 0h2m2 0h3m2 0h7m2 0h1m2 0h1m4 0h3m1 0h1m2 0h1m4 0h6m1 0h1m4 0h2m3 0h3m1 0h7m1 0h1m1 0h4m2 0h1m2 0h1m1 0h1m1 0h2m1 0h1m1 0h2m2 0h4m1 0h2m9 0h1m21 0h1m1 0h1m3 0h2m6 0h3m7 0h2m3 0h4m1 0h2m1 0h1m6 0h1M824 1117.5h5m1 0h8m1 0h2m1 0h2m6 0h1m1 0h1m1 0h1m1 0h4m1 0h2m2 0h3m4 0h1m2 0h2m2 0h2m1 0h1m2 0h2m3 0h1m1 0h2m1 0h1m1 0h2m1 0h1m3 0h5m1 0h1m1 0h3m1 0h1m2 0h1m3 0h1m2 0h2m1 0h1m2 0h1m1 0h1m2 0h2m2 0h1m3 0h2m1 0h1m1 0h3m5 0h1m1 0h1m5 0h1m2 0h1m13 0h1m6 0h1m2 0h4m2 0h2m1 0h3m2 0h4m1 0h3m1 0h1m3 0h2m2 0h6m1 0h1M824 1118.5h1m1 0h2m1 0h1m2 0h1m1 0h2m1 0h1m1 0h1m1 0h3m3 0h1m3 0h1m2 0h3m2 0h1m2 0h1m1 0h1m1 0h3m1 0h4m3 0h2m2 0h1m1 0h2m3 0h2m1 0h1m2 0h3m1 0h2m4 0h1m1 0h1m3 0h1m3 0h1m1 0h2m1 0h2m1 0h1m2 0h6m2 0h3m2 0h1m1 0h1m1 0h1m2 0h1m2 0h1m1 0h2m1 0h3m5 0h2m2 0h1m2 0h1m8 0h1m14 0h1m1 0h4m1 0h4m1 0h4m4 0h1m1 0h2m1 0h2m1 0h1m2 0h3m1 0h1m2 0h2M824 1119.5h2m1 0h1m2 0h1m2 0h1m1 0h1m1 0h6m3 0h1m5 0h2m1 0h1m4 0h2m2 0h1m1 0h2m2 0h4m3 0h2m1 0h1m2 0h1m2 0h2m2 0h1m1 0h1m1 0h2m3 0h2m1 0h1m1 0h2m1 0h2m1 0h2m1 0h2m3 0h2m1 0h1m1 0h1m1 0h4m4 0h1m1 0h3m4 0h1m1 0h1m1 0h2m1 0h3m2 0h2m5 0h1m3 0h1m2 0h2m25 0h3m1 0h1m3 0h2m1 0h1m3 0h1m3 0h3m5 0h2m2 0h4" stroke="#1010ee" stroke-width="1" fill="none"/>
<path d="M824 1120.5h1m1 0h7m1 0h4m1 0h3m1 0h4m1 0h5m1 0h2m2 0h4m1 0h5m1 0h2m1 0h3m1 0h2m1 0h5m1 0h8m1 0h6m1 0h1m5 0h3m1 0h9m1 0h4m1 0h2m2 0h1m1 0h3m1 0h23m1 0h2m1 0h12m2 0h19m1 0h9m1 0h8m1 0h2m2 0h1m1 0h6m1 0h1m2 0h1M825 1121.5h1m2 0h2m2 0h1m6 0h1m3 0h1m2 0h5m1 0h3m1 0h3m1 0h3m1 0h2m1 0h2m2 0h6m1 0h2m1 0h5m1 0h7m1 0h4m1 0h2m3 0h18m1 0h1m2 0h7m1 0h5m1 0h2m1 0h34m1 0h3m1 0h1m1 0h8m1 0h2m1 0h12m1 0h5m1 0h6m1 0h1m1 0h4m1 0h2M824 1122.5h3m4 0h1m2 0h1m1 0h1m1 0h4m2 0h5m1 0h1m1 0h2m4 0h2m2 0h1m1 0h1m1 0h2m1 0h2m1 0h2m1 0h1m2 0h2m1 0h3m1 0h6m1 0h2m2 0h4m1 0h3m1 0h3m3 0h1m1 0h5m1 0h8m1 0h1m1 0h3m1 0h10m1 0h15m1 0h1m1 0h8m1 0h11m1 0h9m1 0h12m1 0h15m1 0h2m2 0h2M824 1123.5h3m1 0h1m1 0h1m3 0h1m2 0h1m1 0h1m4 0h3m1 0h7m3 0h2m2 0h1m6 0h3m1 0h3m1 0h4m1 0h3m1 0h11m2 0h3m3 0h6m1 0h20m1 0h2m1 0h6m1 0h52m1 0h3m1 0h11m1 0h8m4 0h5m1 0h1M825 1124.5h1m1 0h3m1 0h1m2 0h5m2 0h1m3 0h1m3 0h2m2 0h1m2 0h3m2 0h5m1 0h1m2 0h1m1 0h19m2 0h5m2 0h15m1 0h6m1 0h1m1 0h3m1 0h2m1 0h35m1 0h14m1 0h9m2 0h3m1 0h1m2 0h14m2 0h2m1 0h6m1 0h2m1 0h2M824 1125.5h9m1 0h1m4 0h2m3 0h1m2 0h4m1 0h1m1 0h6m1 0h1m1 0h3m2 0h1m1 0h3m1 0h10m1 0h2m1 0h10m2 0h2m1 0h2m1 0h1m2 0h6m2 0h2m1 0h2m2 0h1m1 0h1m1 0h15m1 0h4m2 0h35m2 0h18m1 0h13m1 0h1m1 0h9m2 0h1M824 1126.5h1m2 0h4m1 0h1m1 0h1m3 0h4m1 0h7m4 0h1m1 0h4m4 0h1m1 0h1m1 0h1m1 0h3m2 0h11m2 0h6m1 0h2m1 0h2m1 0h12m1 0h2m1 0h41m1 0h26m1 0h8m1 0h2m1 0h8m1 0h8m1 0h6m2 0h8M824 1127.5h1m1 0h3m1 0h1m3 0h1m2 0h4m5 0h4m1 0h3m1 0h1m1 0h2m1 0h2m1 0h10m1 0h9m1 0h2m1 0h4m1 0h3m2 0h3m6 0h2m1 0h8m2 0h1m1 0h2m1 0h6m1 0h1m1 0h14m1 0h25m1 0h9m1 0h3m1 0h2m1 0h2m1 0h1m1 0h1m1 0h3m1 0h4m1 0h4m1 0h5m1 0h1m1 0h4m1 0h1m1 0h1m1 0h1M825 1128.5h1m1 0h1m1 0h3m2 0h1m1 0h2m5 0h1m1 0h5m2 0h9m1 0h3m1 0h4m1 0h2m1 0h4m2 0h3m1 0h10m1 0h4m1 0h7m1 0h7m2 0h2m1 0h12m1 0h2m1 0h4m1 0h1m1 0h4m1 0h25m1 0h9m1 0h2m1 0h13m1 0h11m2 0h5m3 0h7m2 0h1M824 1129.5h1m1 0h1m1 0h2m1 0h1m1 0h3m1 0h5m2 0h1m1 0h5m1 0h1m1 0h4m1 0h12m1 0h3m1 0h2m1 0h1m1 0h2m1 0h8m2 0h2m2 0h2m2 0h2m1 0h6m3 0h6m1 0h12m1 0h14m1 0h39m1 0h3m1 0h2m3 0h2m1 0h5m1 0h19m1 0h1m1 0h1m1 0h1M825 1130.5h1m7 0h1m3 0h2m1 0h4m3 0h2m1 0h1m1 0h4m1 0h2m1 0h1m2 0h3m2 0h5m2 0h1m1 0h1m2 0h1m3 0h2m1 0h2m1 0h1m3 0h1m1 0h6m2 0h4m1 0h13m1 0h10m1 0h4m1 0h4m1 0h3m1 0h40m1 0h23m1 0h6m1 0h2m1 0h9M827 1131.5h4m1 0h3m1 0h2m7 0h3m1 0h3m2 0h6m1 0h3m1 0h7m1 0h1m2 0h4m2 0h1m1 0h5m1 0h3m1 0h1m2 0h1m1 0h2m1 0h2m1 0h12m2 0h1m1 0h3m1 0h6m1 0h7m1 0h62m1 0h4m1 0h4m2 0h5m1 0h6m1 0h3M826 1132.5h2m1 0h1m4 0h3m1 0h1m1 0h2m2 0h1m2 0h1m1 0h3m2 0h1m1 0h4m1 0h2m1 0h7m2 0h2m2 0h1m1 0h5m3 0h5m3 0h4m1 0h2m1 0h3m3 0h18m1 0h2m1 0h2m1 0h3m1 0h5m1 0h24m1 0h10m2 0h8m1 0h4m1 0h1m1 0h15m1 0h4m1 0h3m1 0h2m1 0h1m1 0h3m2 0h1M825 1133.5h1m1 0h1m2 0h1m1 0h1m1 0h2m1 0h1m1 0h1m2 0h3m2 0h3m1 0h1m1 0h4m2 0h2m2 0h1m1 0h2m1 0h3m1 0h4m1 0h2m1 0h1m1 0h3m1 0h2m2 0h6m3 0h1m1 0h1m1 0h1m1 0h7m1 0h1m1 0h1m1 0h4m1 0h4m3 0h9m2 0h46m1 0h3m1 0h6m1 0h8m1 0h5m2 0h1m1 0h14m1 0h1M824 1134.5h1m1 0h2m1 0h1m3 0h4m1 0h3m2 0h2m3 0h2m1 0h5m1 0h2m2 0h2m1 0h4m1 0h2m1 0h2m1 0h1m1 0h8m1 0h5m1 0h6m1 0h2m1 0h2m1 0h1m1 0h2m1 0h5m3 0h2m1 0h1m1 0h5m1 0h3m1 0h7m2 0h35m1 0h1m1 0h2m2 0h2m2 0h5m1 0h9m1 0h1m1 0h11m1 0h6m1 0h6M825 1135.5h1m6 0h1m7 0h1m5 0h2m3 0h2m1 0h5m2 0h1m1 0h1m2 0h3m1 0h3m1 0h1m1 0h3m1 0h7m1 0h5m2 0h2m1 0h9m1 0h6m2 0h2m1 0h6m1 0h8m1 0h3m1 0h1m1 0h2m1 0h3m1 0h27m1 0h8m1 0h9m1 0h1m1 0h11m1 0h3m1 0h2m1 0h4m2 0h5m1 0h2M824 1136.5h5m1 0h3m1 0h1m1 0h2m1 0h3m1 0h1m1 0h1m2 0h1m2 0h4m1 0h10m1 0h1m1 0h3m1 0h3m1 0h11m1 0h10m1 0h2m1 0h4m1 0h2m1 0h1m2 0h4m1 0h7m1 0h1m1 0h3m1 0h6m2 0h28m1 0h17m1 0h2m3 0h14m1 0h15m1 0h1m1 0h3M824 1137.5h3m3 0h1m2 0h1m1 0h1m4 0h3m2 0h6m2 0h1m1 0h2m2 0h4m3 0h8m1 0h1m1 0h2m1 0h6m1 0h5m2 0h1m1 0h5m1 0h2m1 0h5m1 0h7m1 0h4m1 0h4m1 0h3m1 0h6m1 0h2m1 0h3m1 0h1m1 0h24m1 0h7m1 0h14m1 0h10m1 0h7m1 0h3m1 0h4m1 0h2m5 0h1M824 1138.5h6m2 0h1m2 0h8m3 0h4m1 0h4m1 0h6m2 0h1m1 0h3m1 0h11m1 0h4m1 0h9m1 0h2m2 0h1m1 0h6m1 0h11m1 0h21m3 0h1m1 0h34m1 0h9m1 0h1m2 0h8m1 0h4m1 0h1m1 0h9m2 0h9M826 1139.5h1m1 0h3m1 0h1m2 0h2m1 0h4m1 0h1m4 0h2m1 0h1m2 0h4m1 0h5m1 0h3m1 0h6m4 0h1m1 0h3m1 0h6m1 0h4m1 0h1m3 0h1m1 0h13m1 0h5m1 0h8m2 0h48m2 0h2m1 0h4m1 0h1m1 0h17m2 0h10m1 0h5m1 0h3M827 1140.5h2m1 0h1m2 0h3m1 0h1m3 0h2m1 0h7m1 0h3m2 0h2m4 0h1m2 0h1m2 0h3m1 0h3m1 0h2m1 0h6m1 0h3m1 0h1m1 0h1m4 0h2m1 0h1m1 0h3m1 0h1m4 0h1m1 0h1m1 0h6m1 0h1m1 0h3m1 0h11m1 0h2m1 0h31m1 0h20m1 0h1m2 0h9m2 0h4m2 0h4m1 0h8M828 1141.5h3m3 0h2m3 0h1m2 0h3m1 0h1m1 0h1m1 0h5m1 0h1m1 0h2m2 0h6m2 0h1m1 0h2m1 0h1m1 0h1m1 0h8m1 0h4m2 0h1m1 0h1m1 0h4m2 0h1m1 0h7m1 0h1m1 0h2m1 0h4m1 0h3m1 0h6m1 0h10m1 0h42m1 0h13m1 0h3m1 0h3m1 0h2m1 0h1m1 0h2m1 0h7m1 0h1m2 0h2M826 1142.5h2m5 0h1m2 0h3m2 0h4m1 0h1m1 0h4m1 0h7m2 0h5m2 0h3m1 0h2m3 0h1m1 0h8m2 0h5m1 0h1m1 0h4m1 0h3m1 0h1m1 0h8m1 0h1m2 0h1m1 0h5m1 0h6m2 0h35m1 0h7m1 0h6m1 0h3m1 0h2m3 0h14m1 0h19M824 1143.5h5m1 0h2m4 0h1m3 0h2m1 0h1m2 0h4m2 0h7m3 0h10m1 0h4m2 0h2m3 0h1m2 0h17m3 0h1m1 0h2m1 0h1m1 0h4m1 0h1m1 0h11m1 0h2m1 0h6m1 0h22m1 0h25m1 0h13m1 0h4m1 0h2m1 0h10m1 0h5m1 0h1M824 1144.5h4m4 0h1m4 0h2m1 0h2m1 0h2m3 0h1m5 0h7m2 0h1m1 0h1m2 0h6m2 0h4m1 0h1m1 0h2m1 0h7m1 0h3m2 0h2m2 0h2m1 0h14m2 0h4m1 0h4m1 0h1m1 0h36m1 0h2m1 0h15m1 0h24m2 0h1m1 0h9m1 0h1m1 0h1m1 0h1M824 1145.5h5m3 0h1m2 0h5m2 0h3m1 0h3m1 0h4m1 0h8m1 0h2m1 0h3m1 0h4m1 0h1m1 0h2m1 0h1m1 0h1m1 0h1m2 0h9m1 0h1m1 0h5m1 0h2m1 0h2m1 0h3m1 0h9m1 0h19m1 0h19m1 0h14m1 0h6m1 0h2m2 0h3m1 0h10m2 0h7m1 0h4m1 0h2m2 0h6M825 1146.5h1m1 0h1m1 0h2m2 0h1m1 0h2m1 0h3m2 0h1m4 0h1m1 0h1m1 0h1m1 0h3m2 0h1m3 0h3m1 0h2m1 0h1m1 0h1m3 0h1m1 0h1m1 0h3m1 0h6m1 0h5m2 0h7m1 0h5m1 0h3m1 0h8m1 0h1m1 0h2m1 0h2m1 0h13m1 0h14m1 0h4m2 0h27m1 0h18m1 0h11m2 0h1m1 0h1M824 1147.5h1m4 0h1m1 0h2m1 0h1m1 0h3m9 0h1m1 0h1m1 0h4m1 0h1m1 0h1m1 0h4m1 0h5m1 0h1m1 0h3m4 0h13m5 0h3m1 0h2m3 0h2m1 0h2m1 0h3m1 0h1m1 0h21m1 0h15m1 0h17m1 0h10m1 0h3m1 0h4m1 0h7m1 0h17m1 0h2m3 0h5M824 1148.5h2m1 0h3m4 0h1m2 0h2m1 0h2m2 0h2m1 0h7m1 0h2m1 0h11m1 0h3m1 0h2m2 0h4m1 0h1m1 0h3m1 0h5m1 0h1m1 0h2m3 0h1m1 0h1m1 0h7m1 0h16m1 0h9m1 0h8m1 0h30m1 0h10m2 0h2m1 0h5m1 0h2m1 0h3m1 0h2m1 0h10m1 0h2m1 0h5M824 1149.5h3m6 0h4m1 0h6m1 0h1m2 0h1m1 0h2m1 0h3m1 0h2m1 0h2m2 0h1m1 0h2m1 0h5m1 0h5m1 0h1m1 0h11m1 0h3m1 0h2m3 0h1m2 0h2m1 0h1m1 0h2m1 0h2m2 0h3m2 0h8m1 0h9m1 0h5m2 0h31m1 0h7m1 0h1m1 0h13m1 0h1m2 0h5m1 0h4m2 0h2m1 0h2m1 0h1m1 0h2M830 1150.5h1m1 0h7m4 0h3m6 0h1m1 0h2m1 0h2m2 0h1m2 0h1m6 0h6m1 0h3m1 0h1m1 0h2m1 0h3m1 0h5m1 0h3m2 0h2m1 0h6m1 0h6m2 0h1m2 0h8m1 0h13m1 0h1m1 0h39m1 0h4m2 0h7m1 0h6m1 0h2m1 0h6m1 0h5m1 0h3m2 0h1M825 1151.5h3m1 0h1m3 0h1m3 0h1m3 0h1m1 0h5m2 0h5m1 0h2m2 0h2m1 0h1m2 0h6m1 0h2m1 0h2m1 0h1m1 0h1m1 0h4m1 0h5m2 0h8m1 0h1m1 0h4m3 0h9m1 0h3m1 0h4m1 0h3m1 0h1m1 0h3m1 0h5m1 0h20m1 0h4m1 0h9m1 0h2m1 0h1m1 0h11m1 0h14m1 0h2m1 0h12M824 1152.5h2m1 0h1m2 0h3m3 0h2m1 0h1m2 0h2m1 0h1m1 0h4m1 0h2m1 0h2m1 0h5m1 0h12m1 0h3m1 0h1m1 0h3m1 0h5m1 0h3m3 0h1m1 0h3m3 0h1m1 0h2m1 0h8m1 0h2m1 0h14m1 0h3m1 0h1m2 0h42m2 0h12m1 0h8m1 0h9m1 0h4m1 0h5M826 1153.5h1m2 0h3m1 0h1m2 0h1m1 0h3m2 0h1m1 0h2m1 0h11m1 0h1m1 0h2m1 0h4m1 0h2m2 0h1m7 0h13m2 0h1m1 0h1m1 0h2m1 0h1m1 0h4m3 0h2m1 0h9m1 0h1m1 0h4m1 0h4m1 0h1m1 0h31m1 0h17m3 0h4m1 0h13m1 0h3m1 0h1m1 0h9m1 0h4M825 1154.5h1m1 0h5m1 0h1m2 0h6m1 0h1m2 0h2m3 0h4m1 0h1m1 0h11m1 0h3m2 0h7m2 0h7m3 0h3m1 0h1m2 0h1m1 0h4m1 0h1m1 0h4m1 0h1m1 0h1m1 0h5m1 0h14m1 0h8m1 0h23m1 0h24m2 0h9m1 0h11m1 0h4m1 0h3M825 1155.5h2m4 0h1m2 0h1m1 0h1m6 0h1m1 0h1m1 0h3m4 0h2m3 0h2m1 0h3m1 0h3m2 0h7m3 0h3m1 0h8m1 0h2m1 0h4m1 0h2m1 0h1m1 0h1m1 0h1m2 0h4m1 0h3m2 0h3m1 0h1m1 0h5m1 0h11m1 0h2m2 0h12m1 0h19m1 0h2m2 0h4m1 0h4m1 0h4m1 0h10m1 0h10m3 0h1m1 0h4M825 1156.5h2m1 0h1m1 0h1m3 0h4m2 0h1m1 0h1m1 0h1m3 0h2m1 0h2m1 0h1m1 0h1m1 0h1m2 0h10m1 0h1m2 0h2m1 0h2m1 0h6m2 0h2m2 0h5m1 0h5m1 0h10m1 0h1m3 0h9m1 0h5m1 0h4m1 0h7m1 0h22m1 0h10m1 0h5m1 0h1m1 0h7m1 0h2m1 0h6m1 0h6m1 0h4m1 0h5m1 0h1m1 0h2m1 0h1M824 1157.5h1m1 0h4m1 0h1m1 0h1m1 0h1m1 0h4m1 0h1m1 0h2m1 0h1m1 0h2m2 0h5m1 0h2m2 0h5m1 0h3m5 0h1m1 0h3m1 0h1m1 0h1m1 0h7m2 0h4m2 0h9m1 0h2m2 0h1m1 0h4m2 0h16m2 0h6m1 0h43m2 0h9m2 0h14m1 0h1m1 0h6m1 0h1m1 0h1M824 1158.5h1m1 0h2m1 0h6m1 0h1m1 0h4m2 0h1m1 0h1m3 0h4m1 0h1m1 0h4m1 0h2m1 0h1m2 0h2m1 0h1m5 0h1m1 0h12m2 0h2m2 0h2m1 0h3m1 0h1m1 0h3m2 0h3m1 0h4m2 0h2m1 0h4m1 0h4m1 0h1m1 0h4m1 0h7m1 0h4m1 0h28m6 0h9m2 0h2m1 0h1m1 0h3m1 0h8m1 0h7m1 0h6M825 1159.5h1m1 0h9m3 0h5m2 0h4m3 0h2m1 0h6m1 0h1m4 0h1m2 0h5m1 0h3m1 0h2m2 0h1m1 0h3m1 0h3m1 0h3m1 0h11m3 0h6m1 0h5m2 0h16m1 0h27m1 0h18m1 0h1m1 0h1m1 0h5m1 0h2m1 0h7m2 0h6m1 0h1m1 0h1m2 0h2m3 0h2M824 1160.5h1m2 0h1m2 0h6m4 0h2m1 0h1m3 0h2m1 0h8m3 0h2m2 0h4m3 0h8m2 0h2m1 0h1m1 0h3m1 0h3m1 0h1m3 0h1m1 0h2m1 0h18m1 0h12m1 0h9m1 0h29m2 0h8m2 0h5m1 0h4m1 0h1m2 0h4m1 0h5m1 0h2m1 0h8m2 0h2m1 0h2M824 1161.5h1m2 0h1m2 0h6m7 0h3m1 0h2m1 0h6m1 0h4m2 0h7m1 0h10m2 0h1m1 0h1m2 0h8m1 0h1m2 0h6m1 0h1m1 0h2m2 0h21m1 0h39m1 0h16m1 0h34m1 0h1m1 0h1m1 0h1M826 1162.5h1m1 0h6m2 0h2m3 0h6m1 0h2m1 0h4m1 0h4m1 0h2m2 0h1m1 0h10m1 0h2m1 0h1m1 0h12m4 0h10m1 0h1m1 0h2m1 0h3m1 0h4m1 0h8m1 0h51m1 0h4m2 0h7m1 0h2m1 0h11m1 0h8m1 0h2m1 0h6" stroke="#ee1010" stroke-width="1" fill="none"/>
<line x1="836.6" y1="1083" x2="836.6" y2="1163" stroke="#000" stroke-width="1.8"/>
<line x1="844.9" y1="1083" x2="844.9" y2="1163" stroke="#000" stroke-width="1.8"/>
<line x1="886.8" y1="1083" x2="886.8" y2="1163" stroke="#000" stroke-width="1.8"/>
<line x1="894.9" y1="1083" x2="894.9" y2="1163" stroke="#000" stroke-width="1.8"/>
<line x1="949.8" y1="1083" x2="949.8" y2="1163" stroke="#000" stroke-width="1.8"/>
<text x="928.3" y="1072.2" font-size="23.5" text-anchor="middle" fill="#000" font-weight="normal" >Cell #4</text>
<line x1="836.6" y1="1200.5" x2="836.6" y2="1277.4" stroke="#000" stroke-width="1.6"/>
<line x1="844.9" y1="1200.5" x2="844.9" y2="1277.4" stroke="#000" stroke-width="1.6"/>
<line x1="886.8" y1="1200.5" x2="886.8" y2="1277.4" stroke="#000" stroke-width="1.6"/>
<line x1="894.9" y1="1200.5" x2="894.9" y2="1277.4" stroke="#000" stroke-width="1.6"/>
<line x1="949.8" y1="1200.5" x2="949.8" y2="1277.4" stroke="#000" stroke-width="1.6"/>
<line x1="823.5" y1="1277.4" x2="1034" y2="1277.4" stroke="#000" stroke-width="1.6"/>
<polyline points="823.6,1266.1 824.7,1266.8 825.8,1267.4 826.9,1265.7 828.0,1266.2 829.1,1269.0 830.2,1267.7 831.3,1266.4 832.4,1265.0 833.5,1268.0 834.6,1264.7 835.7,1271.4 836.8,1268.1 837.9,1270.2 839.0,1266.4 840.1,1267.8 841.2,1268.1 842.3,1267.1 843.4,1270.4 844.5,1266.2 845.6,1267.0 846.7,1264.2 847.8,1262.1 848.9,1262.5 850.0,1261.8 851.1,1262.0 852.2,1260.6 853.3,1262.3 854.4,1257.7 855.5,1261.1 856.6,1261.0 857.7,1264.2 858.8,1257.2 859.9,1259.3 861.0,1259.9 862.1,1261.7 863.2,1259.0 864.3,1257.5 865.4,1260.8 866.5,1257.2 867.6,1261.6 868.7,1259.9 869.8,1260.2 870.9,1260.1 872.0,1259.6 873.1,1263.3 874.2,1257.1 875.3,1260.0 876.4,1257.9 877.5,1259.9 878.6,1262.2 879.7,1263.8 880.8,1262.5 881.9,1260.8 883.0,1260.4 884.1,1262.8 885.2,1260.0 886.3,1259.3 887.4,1254.5 888.5,1246.3 889.6,1243.5 890.7,1243.5 891.8,1253.3 892.9,1256.7 894.0,1258.2 895.1,1260.7 896.2,1264.0 897.3,1263.1 898.4,1263.7 899.5,1263.4 900.6,1262.9 901.7,1263.1 902.8,1263.5 903.9,1262.8 905.0,1263.7 906.1,1259.8 907.2,1262.9 908.3,1259.9 909.4,1257.6 910.5,1258.3 911.6,1258.1 912.7,1259.3 913.8,1258.5 914.9,1259.8 916.0,1258.6 917.1,1254.8 918.2,1256.0 919.3,1257.4 920.4,1253.7 921.5,1255.8 922.6,1256.9 923.7,1253.0 924.8,1256.1 925.9,1250.3 927.0,1251.6 928.1,1252.4 929.2,1252.1 930.3,1253.2 931.4,1250.5 932.5,1249.6 933.6,1251.2 934.7,1247.3 935.8,1248.8 936.9,1247.3 938.0,1248.1 939.1,1250.1 940.2,1248.8 941.3,1245.4 942.4,1246.6 943.5,1248.6 944.6,1249.3 945.7,1245.7 946.8,1246.2 947.9,1243.2 949.0,1243.1 950.1,1222.2 951.2,1203.0 952.3,1202.5 953.4,1200.3 954.5,1199.8 955.6,1206.3 956.7,1208.8 957.8,1212.3 958.9,1212.7 960.0,1217.5 961.1,1223.1 962.2,1220.5 963.3,1219.6 964.4,1222.9 965.5,1223.2 966.6,1225.6 967.7,1226.2 968.8,1231.1 969.9,1233.3 971.0,1238.4 972.1,1237.2 973.2,1234.0 974.3,1233.5 975.4,1233.0 976.5,1236.4 977.6,1236.5 978.7,1237.4 979.8,1235.6 980.9,1240.1 982.0,1245.8 983.1,1248.1 984.2,1255.0 985.3,1250.8 986.4,1246.7 987.5,1249.7 988.6,1248.6 989.7,1249.3 990.8,1249.2 991.9,1249.2 993.0,1253.4 994.1,1251.7 995.2,1251.5 996.3,1256.3 997.4,1254.2 998.5,1250.3 999.6,1253.2 1000.7,1252.0 1001.8,1249.7 1002.9,1250.5 1004.0,1248.5 1005.1,1247.3 1006.2,1249.5 1007.3,1249.0 1008.4,1247.5 1009.5,1248.4 1010.6,1250.8 1011.7,1251.5 1012.8,1251.6 1013.9,1247.6 1015.0,1253.6 1016.1,1253.0 1017.2,1253.9 1018.3,1257.0 1019.4,1257.5 1020.5,1255.2 1021.6,1255.8 1022.7,1256.9 1023.8,1256.9 1024.9,1257.9 1026.0,1259.6 1027.1,1257.8 1028.2,1258.2 1029.3,1261.1 1030.4,1266.6 1031.5,1268.5 1032.6,1271.9" fill="none" stroke="#ee0000" stroke-width="2.4" stroke-linejoin="round"/>
<polyline points="823.6,1263.6 824.7,1267.4 825.8,1266.3 826.9,1264.0 828.0,1265.2 829.1,1264.5 830.2,1265.7 831.3,1266.7 832.4,1266.3 833.5,1267.4 834.6,1269.5 835.7,1261.6 836.8,1261.5 837.9,1261.9 839.0,1257.3 840.1,1255.7 841.2,1257.6 842.3,1264.3 843.4,1265.9 844.5,1274.4 845.6,1276.9 846.7,1270.9 847.8,1272.6 848.9,1268.8 850.0,1269.8 851.1,1266.3 852.2,1263.2 853.3,1262.1 854.4,1266.5 855.5,1265.9 856.6,1265.5 857.7,1263.6 858.8,1261.9 859.9,1264.6 861.0,1264.8 862.1,1267.9 863.2,1268.2 864.3,1265.6 865.4,1265.5 866.5,1266.6 867.6,1265.7 868.7,1264.4 869.8,1261.3 870.9,1265.2 872.0,1262.0 873.1,1264.3 874.2,1263.2 875.3,1263.4 876.4,1265.7 877.5,1261.6 878.6,1261.2 879.7,1263.7 880.8,1262.7 881.9,1262.0 883.0,1262.8 884.1,1260.3 885.2,1261.8 886.3,1267.3 887.4,1262.1 888.5,1259.9 889.6,1261.0 890.7,1264.3 891.8,1267.9 892.9,1268.3 894.0,1269.1 895.1,1270.2 896.2,1267.8 897.3,1269.7 898.4,1267.5 899.5,1265.5 900.6,1268.4 901.7,1266.7 902.8,1267.2 903.9,1265.6 905.0,1267.1 906.1,1265.3 907.2,1267.7 908.3,1267.1 909.4,1266.4 910.5,1267.6 911.6,1264.6 912.7,1268.4 913.8,1267.1 914.9,1267.4 916.0,1265.3 917.1,1267.0 918.2,1266.6 919.3,1263.8 920.4,1266.9 921.5,1265.6 922.6,1265.9 923.7,1266.8 924.8,1264.7 925.9,1266.1 927.0,1264.6 928.1,1265.8 929.2,1265.8 930.3,1264.9 931.4,1266.5 932.5,1266.4 933.6,1269.7 934.7,1267.6 935.8,1267.5 936.9,1264.6 938.0,1269.5 939.1,1267.3 940.2,1267.9 941.3,1267.8 942.4,1268.7 943.5,1270.8 944.6,1267.2 945.7,1272.3 946.8,1266.6 947.9,1265.8 949.0,1266.9 950.1,1263.7 951.2,1257.6 952.3,1258.2 953.4,1269.0 954.5,1276.9 955.6,1272.3 956.7,1273.9 957.8,1275.9 958.9,1275.1 960.0,1273.6 961.1,1273.8 962.2,1275.5 963.3,1275.9 964.4,1274.7 965.5,1270.9 966.6,1272.0 967.7,1275.6 968.8,1276.5 969.9,1275.2 971.0,1276.6 972.1,1276.9 973.2,1275.0 974.3,1274.9 975.4,1274.9 976.5,1276.9 977.6,1273.4 978.7,1275.4 979.8,1276.3 980.9,1271.2 982.0,1276.4 983.1,1275.9 984.2,1273.7 985.3,1273.1 986.4,1273.8 987.5,1272.5 988.6,1269.8 989.7,1273.8 990.8,1269.7 991.9,1272.0 993.0,1269.4 994.1,1271.8 995.2,1268.5 996.3,1265.6 997.4,1264.2 998.5,1265.6 999.6,1269.2 1000.7,1267.8 1001.8,1268.1 1002.9,1263.9 1004.0,1269.4 1005.1,1266.2 1006.2,1266.9 1007.3,1265.2 1008.4,1266.4 1009.5,1263.3 1010.6,1263.9 1011.7,1266.9 1012.8,1268.2 1013.9,1263.6 1015.0,1265.5 1016.1,1267.5 1017.2,1266.6 1018.3,1267.8 1019.4,1267.6 1020.5,1264.7 1021.6,1267.0 1022.7,1264.0 1023.8,1266.0 1024.9,1271.4 1026.0,1270.1 1027.1,1268.4 1028.2,1268.4 1029.3,1269.3 1030.4,1270.0 1031.5,1268.3 1032.6,1274.6" fill="none" stroke="#0000ee" stroke-width="2.4" stroke-linejoin="round"/>
<rect x="810.7" y="1248.6" width="3.7" height="22.1" fill="#000"/>
<text transform="translate(801 1320.2) rotate(-90)" font-size="24.7">20 spikes s<tspan font-size="16.5" dy="-10">−1</tspan></text>
<text x="72.7" y="1305" font-size="24.5" text-anchor="start" fill="#000" font-weight="normal" >S</text>
<text x="127" y="1305" font-size="24.5" text-anchor="start" fill="#000" font-weight="normal" >D</text>
<text x="181.3" y="1305" font-size="24.5" text-anchor="start" fill="#000" font-weight="normal" >R</text>
<rect x="982.7" y="1292.8" width="44.2" height="3.8" fill="#000"/>
<text x="990" y="1320" font-size="24" text-anchor="start" fill="#000" font-weight="normal" >1 s</text>
</svg></body></html>
